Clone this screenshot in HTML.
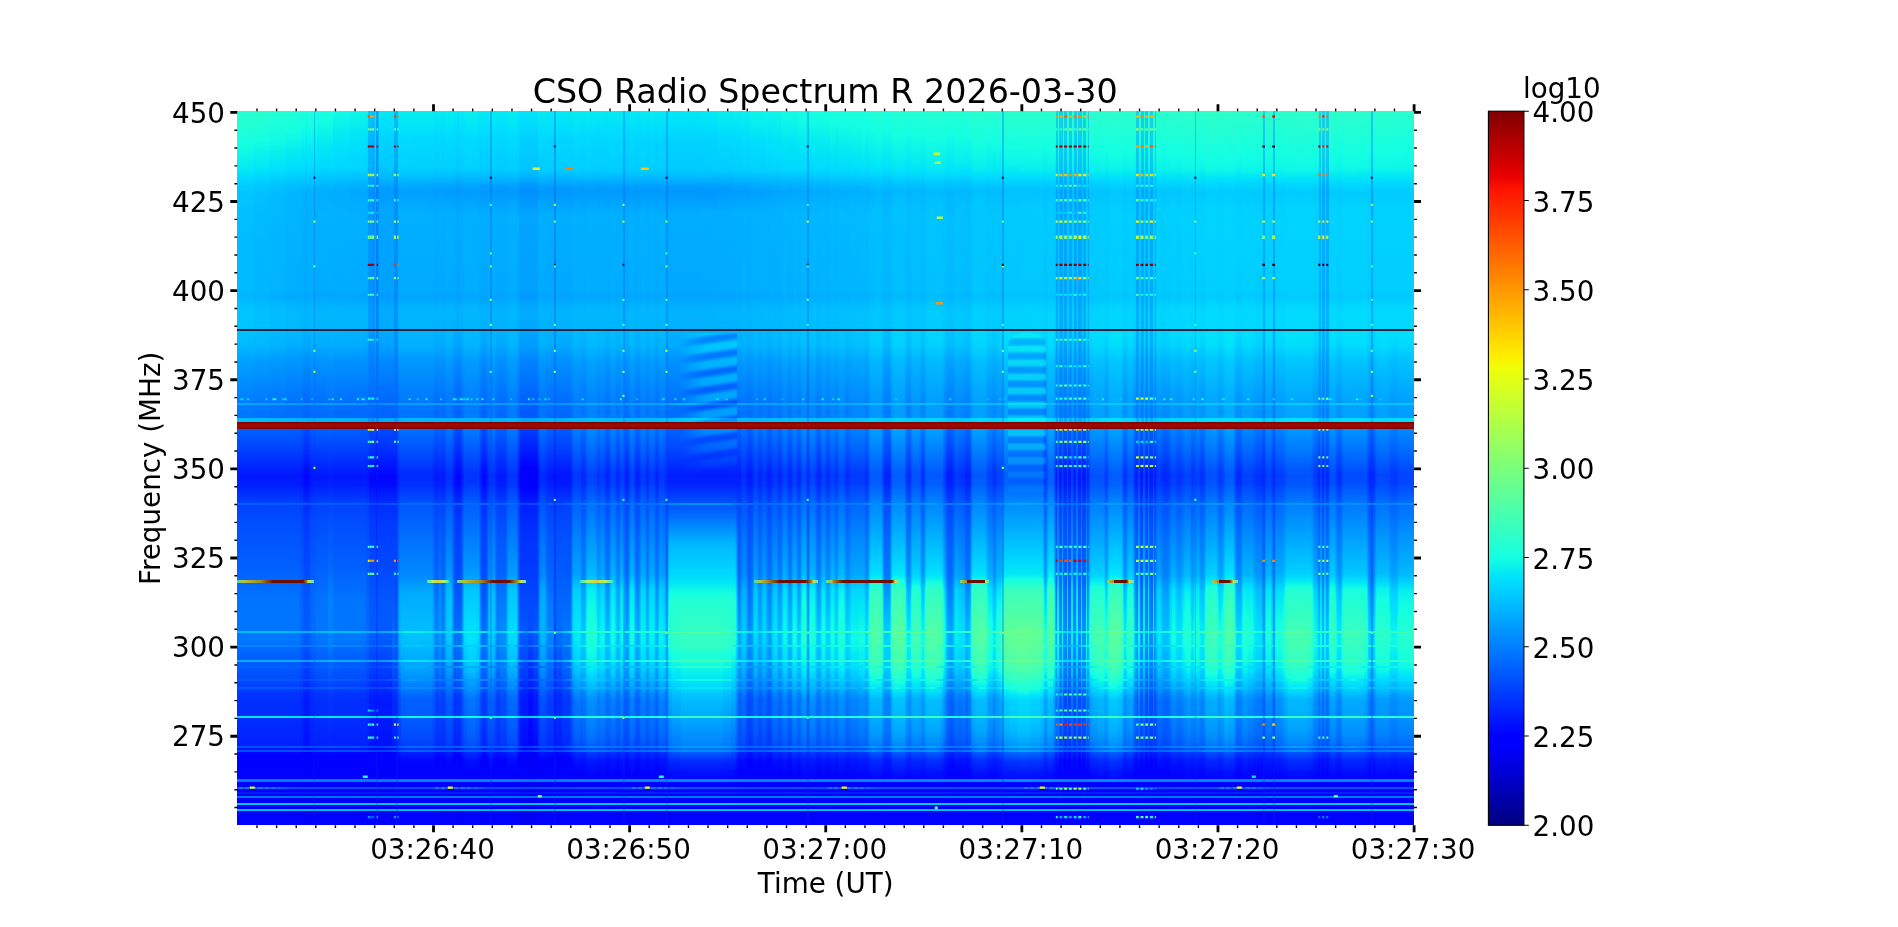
<!DOCTYPE html><html><head><meta charset="utf-8"><title>CSO Radio Spectrum</title><style>
html,body{margin:0;padding:0;background:#fff}body{width:1898px;height:927px;overflow:hidden;position:relative;font-family:"DejaVu Sans","Liberation Sans",sans-serif}
#sp{position:absolute;left:237.25px;top:111.20px;width:1176.85px;height:714.10px;overflow:hidden;background:#08f}
#sp i{position:absolute;display:block}
svg{position:absolute;left:0;top:0}#ax{will-change:transform}text{font-family:"DejaVu Sans","Liberation Sans",sans-serif;fill:#000}
.z0{top:0px;height:218px}
.z0g0{background:linear-gradient(#29ffce 0,#25ffd1 10.5px,#14ffe2 33.5px,#03e9f4 58.5px,#00daff 66.5px,#0cf 75.5px,#00c4ff 85.5px,#00bcff 126.5px,#0bf 179.5px,#00b6ff 184.5px,#00c5ff 199.5px,#00c4ff 218px)}
.z0g1{background:linear-gradient(#26ffd1 0,#22ffd4 10.5px,#14ffe3 29.5px,#00e5f8 58.5px,#00dbff 63.5px,#00c7ff 75.5px,#00bfff 85.5px,#00b8ff 127.5px,#00b7ff 179.5px,#00b2ff 185.5px,#00c1ff 198.5px,#00c0ff 218px)}
.z0g2{background:linear-gradient(#23ffd4 0,#13fde4 27.5px,#00e6f6 52.5px,#00dbff 61.5px,#00c2ff 75.5px,#00baff 85.5px,#00b3ff 179.5px,#00aeff 185.5px,#00bdff 198.5px,#00bdff 218px)}
.z0g3{background:linear-gradient(#20ffd7 0,#15ffe2 20.5px,#11fbe6 25.5px,#00e5f7 48.5px,#00dbff 59.5px,#00beff 74.5px,#00b6ff 82.5px,#00afff 179.5px,#0af 185.5px,#00b9ff 198.5px,#00b9ff 218px)}
.z0g4{background:linear-gradient(#1cffdb 0,#14ffe3 15.5px,#00e6f7 43.5px,#00dffc 52.5px,#00d8ff 59.5px,#00b6ff 77.5px,#00b2ff 83.5px,#00adff 179.5px,#00a8ff 185.5px,#00b7ff 198.5px,#00b7ff 218px)}
.z0g5{background:linear-gradient(#16ffe1 0,#12fce5 10.5px,#00e6f6 34.5px,#00dbff 47.5px,#00d2ff 58.5px,#00b6ff 72.5px,#00abff 81.5px,#00a5ff 179.5px,#00a0ff 185.5px,#00afff 199.5px,#00aeff 218px)}
.z0g6{background:linear-gradient(#17ffe0 0,#13fde4 10.5px,#00e6f6 37.5px,#00d9ff 56.5px,#00b4ff 76.5px,#00afff 82.5px,#00b2ff 104.5px,#00acff 179.5px,#00a7ff 184.5px,#00b6ff 198.5px,#00b6ff 218px)}
.z0g7{background:linear-gradient(#12fce5 0,#00e6f7 29.5px,#00dcff 47.5px,#00d5ff 58.5px,#00b4ff 74.5px,#00acff 82.5px,#00b1ff 105.5px,#00abff 180.5px,#00a6ff 184.5px,#00b5ff 198.5px,#00b5ff 218px)}
.z0g8{background:linear-gradient(#0ff8e8 0,#00e5f7 25.5px,#00dbff 42.5px,#00d3ff 58.5px,#00afff 75.5px,#00a9ff 81.5px,#00b0ff 106.5px,#0af 180.5px,#00a6ff 185.5px,#00b5ff 199.5px,#00b4ff 218px)}
.z0g9{background:linear-gradient(#0bf4eb 0,#00e6f7 20.5px,#00defd 28.5px,#00d2ff 57.5px,#00acff 75.5px,#00a6ff 81.5px,#00afff 107.5px,#0af 179.5px,#00a5ff 185.5px,#00b4ff 199.5px,#00b3ff 218px)}
.z0g10{background:linear-gradient(#06ecf1 0,#00dcff 23.5px,#00cbff 56.5px,#00a3ff 76.5px,#009eff 81.5px,#00a7ff 108.5px,#00a1ff 180.5px,#009cff 184.5px,#00abff 198.5px,#00abff 218px)}
.z0g11{background:linear-gradient(#02e8f5 0,#00dbff 19.5px,#00d2ff 29.5px,#00c9ff 56.5px,#00b8ff 66.5px,#00a0ff 76.5px,#009bff 81.5px,#00a6ff 100.5px,#00a1ff 179.5px,#009cff 185.5px,#00abff 199.5px,#0af 218px)}
.z0g12{background:linear-gradient(#06edf1 0,#00dbff 24.5px,#00ceff 58.5px,#00adff 72.5px,#00a0ff 81.5px,#00adff 100.5px,#00a8ff 180.5px,#00a4ff 185.5px,#00b3ff 199.5px,#00b2ff 218px)}
.z0g13{background:linear-gradient(#07eef0 0,#00e6f6 14.5px,#00dcff 25.5px,#00d1ff 56.5px,#00c4ff 64.5px,#00a8ff 75.5px,#00a2ff 80.5px,#00afff 100.5px,#00abff 179.5px,#00a6ff 185.5px,#00b5ff 198.5px,#00b5ff 218px)}
.z0g14{background:linear-gradient(#07eef0 0,#00e6f7 14.5px,#00dbff 25.5px,#00d0ff 57.5px,#00c1ff 65.5px,#00abff 73.5px,#00a1ff 80.5px,#00afff 101.5px,#00abff 179.5px,#00a6ff 185.5px,#00b5ff 198.5px,#00b5ff 218px)}
.z0g15{background:linear-gradient(#06edf0 0,#03e9f4 10.5px,#00dbff 25.5px,#00d1ff 55.5px,#00cdff 59.5px,#00a7ff 74.5px,#009fff 80.5px,#00afff 102.5px,#00abff 179.5px,#00a6ff 185.5px,#00b5ff 198.5px,#00b5ff 218px)}
.z0g16{background:linear-gradient(#05ecf1 0,#00dcff 23.5px,#00d6ff 30.5px,#00ceff 57.5px,#00c1ff 64.5px,#00a3ff 75.5px,#009dff 80.5px,#00adff 101.5px,#00a8ff 180.5px,#00a4ff 185.5px,#00b3ff 199.5px,#00b2ff 218px)}
.z0g17{background:linear-gradient(#06edf1 0,#03e9f4 10.5px,#00dcff 24.5px,#00d0ff 56.5px,#00c2ff 64.5px,#00a8ff 73.5px,#009dff 81.5px,#00afff 102.5px,#00abff 179.5px,#00a6ff 185.5px,#00b5ff 198.5px,#00b5ff 218px)}
.z0g18{background:linear-gradient(#05ecf2 0,#00dbff 23.5px,#00cdff 58.5px,#00a4ff 74.5px,#009cff 80.5px,#00adff 102.5px,#00a8ff 180.5px,#00a4ff 185.5px,#00b3ff 199.5px,#00b2ff 218px)}
.z0g19{background:linear-gradient(#00e5f7 0,#00dcff 15.5px,#00cfff 28.5px,#00c5ff 58.5px,#009aff 75.5px,#0094ff 80.5px,#00a5ff 101.5px,#00a0ff 179.5px,#009bff 185.5px,#0af 198.5px,#00a9ff 218px)}
.z0g20{background:linear-gradient(#05ecf2 0,#00dbff 23.5px,#00cbff 59.5px,#00a0ff 75.5px,#009aff 80.5px,#00adff 102.5px,#00a8ff 180.5px,#00a4ff 185.5px,#00b3ff 199.5px,#00b2ff 218px)}
.z0g21{background:linear-gradient(#06edf1 0,#00dcff 24.5px,#00ceff 58.5px,#00a4ff 74.5px,#009cff 80.5px,#00afff 103.5px,#00abff 179.5px,#00a6ff 185.5px,#00b5ff 198.5px,#00b5ff 218px)}
.z0g22{background:linear-gradient(#07eef0 0,#03eaf3 10.5px,#00dbff 26.5px,#00d5ff 49.5px,#00ceff 59.5px,#00a6ff 74.5px,#009eff 79.5px,#009eff 83.5px,#00b1ff 103.5px,#00adff 179.5px,#00a8ff 184.5px,#00b7ff 198.5px,#00b7ff 218px)}
.z0g23{background:linear-gradient(#07eef0 0,#00e6f6 14.5px,#00dcff 25.5px,#00cfff 58.5px,#00bdff 66.5px,#00a2ff 75.5px,#009cff 80.5px,#009eff 85.5px,#00aeff 97.5px,#00b1ff 104.5px,#00adff 179.5px,#00a8ff 184.5px,#00b7ff 198.5px,#00b7ff 218px)}
.z0g24{background:linear-gradient(#06edf1 0,#00dbff 24.5px,#00ceff 58.5px,#00beff 65.5px,#00a5ff 73.5px,#009aff 80.5px,#00afff 103.5px,#00abff 179.5px,#00a6ff 185.5px,#00b5ff 198.5px,#00b5ff 218px)}
.z0g25{background:linear-gradient(#05ebf2 0,#00dcff 22.5px,#00d6ff 28.5px,#0cf 58.5px,#00bfff 64.5px,#00a1ff 74.5px,#0098ff 81.5px,#00adff 103.5px,#00a8ff 180.5px,#00a4ff 185.5px,#00b3ff 199.5px,#00b2ff 218px)}
.z0g26{background:linear-gradient(#06ecf1 0,#02e8f5 10.5px,#00dbff 24.5px,#0cf 59.5px,#009fff 75.5px,#09f 80.5px,#00afff 104.5px,#00abff 179.5px,#00a6ff 185.5px,#00b5ff 198.5px,#00b5ff 218px)}
.z0g27{background:linear-gradient(#05ebf2 0,#00dbff 22.5px,#00d5ff 29.5px,#0cf 58.5px,#00b9ff 66.5px,#009dff 75.5px,#0097ff 80.5px,#00adff 103.5px,#00a8ff 180.5px,#00a4ff 185.5px,#00b3ff 199.5px,#00b2ff 218px)}
.z0g28{background:linear-gradient(#06edf0 0,#03e9f4 10.5px,#00dbff 25.5px,#00cfff 58.5px,#00bfff 65.5px,#00a3ff 74.5px,#009bff 79.5px,#009bff 83.5px,#00a9ff 93.5px,#00b1ff 105.5px,#00adff 179.5px,#00a8ff 184.5px,#00b7ff 198.5px,#00b7ff 218px)}
.z0g29{background:linear-gradient(#05ecf1 0,#00dcff 23.5px,#00cdff 58.5px,#00c0ff 64.5px,#009fff 75.5px,#09f 80.5px,#00afff 104.5px,#00abff 179.5px,#00a6ff 185.5px,#00b5ff 198.5px,#00b5ff 218px)}
.z0g30{background:linear-gradient(#04ebf2 0,#00dbff 22.5px,#00d5ff 29.5px,#0cf 58.5px,#00b9ff 66.5px,#009dff 75.5px,#0097ff 80.5px,#00adff 103.5px,#00a8ff 180.5px,#00a4ff 185.5px,#00b3ff 199.5px,#00b2ff 218px)}
.z0g31{background:linear-gradient(#00e4f8 0,#00dbff 14.5px,#00ceff 28.5px,#00c4ff 58.5px,#00b4ff 65.5px,#0098ff 74.5px,#008fff 80.5px,#00a5ff 103.5px,#00a0ff 179.5px,#009bff 185.5px,#0af 198.5px,#00a9ff 218px)}
.z0g32{background:linear-gradient(#00e3f8 0,#00dffc 10.5px,#00ceff 28.5px,#00c4ff 58.5px,#00b4ff 65.5px,#0098ff 74.5px,#008fff 80.5px,#00a5ff 103.5px,#00a0ff 179.5px,#009bff 185.5px,#0af 198.5px,#00a9ff 218px)}
.z0g33{background:linear-gradient(#04ebf3 0,#00dcff 21.5px,#00d5ff 28.5px,#00d0ff 52.5px,#00caff 59.5px,#009dff 75.5px,#0097ff 80.5px,#00adff 103.5px,#00a8ff 180.5px,#00a4ff 185.5px,#00b3ff 199.5px,#00b2ff 218px)}
.z0g34{background:linear-gradient(#05ecf2 0,#00dbff 23.5px,#00cdff 58.5px,#00c0ff 64.5px,#009fff 75.5px,#09f 80.5px,#00afff 104.5px,#00abff 179.5px,#00a6ff 185.5px,#00b5ff 198.5px,#00b5ff 218px)}
.z0g35{background:linear-gradient(#05ecf2 0,#00dbff 23.5px,#00cdff 58.5px,#00c0ff 64.5px,#009fff 75.5px,#09f 80.5px,#00afff 104.5px,#00abff 179.5px,#00a6ff 185.5px,#00b5ff 198.5px,#00b5ff 218px)}
.z0g36{background:linear-gradient(#04eaf3 0,#00dcff 21.5px,#00d4ff 30.5px,#00d0ff 52.5px,#00caff 59.5px,#009dff 75.5px,#0097ff 80.5px,#00adff 103.5px,#00a8ff 180.5px,#00a4ff 185.5px,#00b3ff 199.5px,#00b2ff 218px)}
.z0g37{background:linear-gradient(#00e3f9 0,#00defd 11.5px,#00cdff 29.5px,#00c4ff 58.5px,#00b4ff 65.5px,#0098ff 74.5px,#008fff 80.5px,#00a5ff 103.5px,#00a0ff 179.5px,#009bff 185.5px,#0af 198.5px,#00a9ff 218px)}
.z0g38{background:linear-gradient(#04eaf3 0,#00dbff 21.5px,#00d4ff 29.5px,#00d1ff 49.5px,#00caff 59.5px,#009dff 75.5px,#0097ff 80.5px,#00adff 103.5px,#00a8ff 180.5px,#00a4ff 185.5px,#00b3ff 199.5px,#00b2ff 218px)}
.z0g39{background:linear-gradient(#05ebf2 0,#00dcff 22.5px,#00d6ff 28.5px,#00cdff 58.5px,#00c0ff 64.5px,#009fff 75.5px,#09f 80.5px,#00afff 104.5px,#00abff 179.5px,#00a6ff 185.5px,#00b5ff 198.5px,#00b5ff 218px)}
.z0g40{background:linear-gradient(#05ecf1 0,#02e8f5 10.5px,#00dbff 24.5px,#00cfff 58.5px,#00bfff 65.5px,#00a3ff 74.5px,#009bff 79.5px,#009bff 83.5px,#00a9ff 93.5px,#00b1ff 105.5px,#00adff 179.5px,#00a8ff 184.5px,#00b7ff 198.5px,#00b7ff 218px)}
.z0g41{background:linear-gradient(#04ebf2 0,#00dcff 22.5px,#00d5ff 30.5px,#00cdff 58.5px,#00c0ff 64.5px,#009fff 75.5px,#09f 80.5px,#00afff 104.5px,#00abff 179.5px,#00a6ff 185.5px,#00b5ff 198.5px,#00b5ff 218px)}
.z0g42{background:linear-gradient(#05ecf2 0,#00dcff 23.5px,#00d7ff 28.5px,#00cfff 58.5px,#00bfff 65.5px,#00a3ff 74.5px,#009bff 79.5px,#009bff 83.5px,#00a9ff 93.5px,#00b1ff 105.5px,#00adff 179.5px,#00a8ff 184.5px,#00b7ff 198.5px,#00b7ff 218px)}
.z0g43{background:linear-gradient(#04ebf3 0,#00dbff 22.5px,#00d5ff 29.5px,#00cdff 58.5px,#00c0ff 64.5px,#009fff 75.5px,#09f 80.5px,#00afff 104.5px,#00abff 179.5px,#00a6ff 185.5px,#00b5ff 198.5px,#00b5ff 218px)}
.z0g44{background:linear-gradient(#04eaf3 0,#00dcff 21.5px,#00d5ff 28.5px,#00cdff 58.5px,#00c0ff 64.5px,#009fff 75.5px,#09f 80.5px,#00afff 104.5px,#00abff 179.5px,#00a6ff 185.5px,#00b5ff 198.5px,#00b5ff 218px)}
.z0g45{background:linear-gradient(#05ecf2 0,#00dbff 23.5px,#00cdff 59.5px,#00a3ff 74.5px,#009bff 79.5px,#009bff 83.5px,#00a9ff 93.5px,#00b1ff 105.5px,#00adff 179.5px,#00a8ff 184.5px,#00b7ff 198.5px,#00b7ff 218px)}
.z0g46{background:linear-gradient(#05ebf2 0,#00dbff 23.5px,#00cdff 59.5px,#00a3ff 74.5px,#009bff 79.5px,#009bff 83.5px,#00a9ff 93.5px,#00b1ff 105.5px,#00adff 179.5px,#00a8ff 184.5px,#00b7ff 198.5px,#00b7ff 218px)}
.z0g47{background:linear-gradient(#04eaf3 0,#00dcff 21.5px,#00d5ff 28.5px,#00cdff 58.5px,#00c0ff 64.5px,#009fff 75.5px,#09f 80.5px,#00afff 104.5px,#00abff 179.5px,#00a6ff 185.5px,#00b5ff 198.5px,#00b5ff 218px)}
.z0g48{background:linear-gradient(#03e9f4 0,#00dbff 20.5px,#00d3ff 29.5px,#00cbff 58.5px,#00b9ff 66.5px,#009dff 75.5px,#0097ff 80.5px,#00adff 103.5px,#00a8ff 180.5px,#00a4ff 185.5px,#00b3ff 199.5px,#00b2ff 218px)}
.z0g49{background:linear-gradient(#03e9f4 0,#00dcff 19.5px,#00d3ff 28.5px,#00cbff 58.5px,#00b9ff 66.5px,#009dff 75.5px,#0097ff 80.5px,#00adff 103.5px,#00a8ff 180.5px,#00a4ff 185.5px,#00b3ff 199.5px,#00b2ff 218px)}
.z0g50{background:linear-gradient(#04eaf3 0,#00dbff 21.5px,#00d4ff 30.5px,#00cdff 58.5px,#00c0ff 64.5px,#009fff 75.5px,#09f 80.5px,#00afff 104.5px,#00abff 179.5px,#00a6ff 185.5px,#00b5ff 198.5px,#00b5ff 218px)}
.z0g51{background:linear-gradient(#05ebf2 0,#00dcff 22.5px,#00d6ff 28.5px,#00d3ff 51.5px,#00cdff 59.5px,#00a3ff 74.5px,#009bff 79.5px,#009bff 83.5px,#00a9ff 93.5px,#00b1ff 105.5px,#00adff 179.5px,#00a8ff 184.5px,#00b7ff 198.5px,#00b7ff 218px)}
.z0g52{background:linear-gradient(#04ebf2 0,#00dcff 22.5px,#00d6ff 28.5px,#00d3ff 50.5px,#00cdff 59.5px,#00a3ff 74.5px,#009bff 79.5px,#009bff 83.5px,#00a9ff 93.5px,#00b1ff 105.5px,#00adff 179.5px,#00a8ff 184.5px,#00b7ff 198.5px,#00b7ff 218px)}
.z0g53{background:linear-gradient(#03eaf3 0,#00dbff 21.5px,#00d4ff 29.5px,#00cdff 58.5px,#00c0ff 64.5px,#009fff 75.5px,#09f 80.5px,#00afff 104.5px,#00abff 179.5px,#00a6ff 185.5px,#00b5ff 198.5px,#00b5ff 218px)}
.z0g54{background:linear-gradient(#03e9f4 0,#00dbff 20.5px,#00d3ff 30.5px,#0cf 58.5px,#00bfff 64.5px,#009eff 75.5px,#0098ff 80.5px,#009aff 85.5px,#0af 96.5px,#00aeff 104.5px,#00a9ff 180.5px,#00a5ff 185.5px,#00b4ff 199.5px,#00b3ff 218px)}
.z0g55{background:linear-gradient(#02e8f4 0,#00dcff 19.5px,#00d3ff 28.5px,#00cbff 58.5px,#00b9ff 66.5px,#009dff 75.5px,#0097ff 80.5px,#00adff 103.5px,#00a8ff 180.5px,#00a4ff 185.5px,#00b3ff 199.5px,#00b2ff 218px)}
.z0g56{background:linear-gradient(#02e8f5 0,#00e3f9 11.5px,#00dbff 19.5px,#00d3ff 28.5px,#00cbff 58.5px,#00b9ff 66.5px,#009dff 75.5px,#0097ff 80.5px,#00adff 103.5px,#00a8ff 180.5px,#00a4ff 185.5px,#00b3ff 199.5px,#00b2ff 218px)}
.z0g57{background:linear-gradient(#02e8f5 0,#00dcff 18.5px,#00d2ff 29.5px,#00cbff 58.5px,#00b9ff 66.5px,#009dff 75.5px,#0097ff 80.5px,#00adff 103.5px,#00a8ff 180.5px,#00a4ff 185.5px,#00b3ff 199.5px,#00b2ff 218px)}
.z0g58{background:linear-gradient(#03eaf3 0,#00dbff 21.5px,#00d4ff 29.5px,#0cf 58.5px,#00baff 66.5px,#00a1ff 74.5px,#09f 79.5px,#09f 83.5px,#00adff 101.5px,#00a9ff 179.5px,#00a4ff 185.5px,#00b3ff 198.5px,#00b3ff 218px)}
.z0g59{background:linear-gradient(#06edf1 0,#02e8f5 11.5px,#00dbff 24.5px,#0cf 59.5px,#00a1ff 75.5px,#009bff 80.5px,#00aeff 101.5px,#0af 179.5px,#00a5ff 185.5px,#00b4ff 199.5px,#00b3ff 218px)}
.z0g60{background:linear-gradient(#09f0ee 0,#00e5f7 17.5px,#00dbff 28.5px,#00cfff 58.5px,#00c0ff 65.5px,#00a8ff 73.5px,#009dff 80.5px,#00afff 101.5px,#0af 180.5px,#00a6ff 185.5px,#00b5ff 199.5px,#00b4ff 218px)}
.z0g61{background:linear-gradient(#09f0ee 0,#00e5f7 17.5px,#00dbff 28.5px,#00cfff 58.5px,#00c0ff 65.5px,#00a8ff 73.5px,#009dff 80.5px,#00afff 101.5px,#0af 180.5px,#00a6ff 185.5px,#00b5ff 199.5px,#00b4ff 218px)}
.z0g62{background:linear-gradient(#09f1ee 0,#00e6f6 17.5px,#00dcff 28.5px,#00d0ff 58.5px,#00a4ff 75.5px,#009eff 80.5px,#00b0ff 102.5px,#00acff 179.5px,#00a7ff 185.5px,#00b6ff 199.5px,#00b5ff 218px)}
.z0g63{background:linear-gradient(#09f0ee 0,#00e5f7 17.5px,#00dbff 28.5px,#00cfff 58.5px,#00c0ff 65.5px,#00a8ff 73.5px,#009dff 80.5px,#00afff 101.5px,#0af 180.5px,#00a6ff 185.5px,#00b5ff 199.5px,#00b4ff 218px)}
.z0g64{background:linear-gradient(#0af2ed 0,#00e6f7 18.5px,#00dcff 30.5px,#00d1ff 58.5px,#00a5ff 75.5px,#009fff 80.5px,#00b1ff 102.5px,#00adff 179.5px,#00a8ff 185.5px,#00b7ff 198.5px,#00b7ff 218px)}
.z0g65{background:linear-gradient(#0bf4eb 0,#00e6f7 20.5px,#00defd 28.5px,#00d1ff 58.5px,#00a8ff 74.5px,#00a0ff 80.5px,#00b0ff 102.5px,#00abff 180.5px,#00a6ff 184.5px,#00b5ff 198.5px,#00b5ff 218px)}
.z0g66{background:linear-gradient(#0cf5ea 0,#07eff0 12.5px,#00dffc 29.5px,#00d1ff 59.5px,#00acff 73.5px,#00a1ff 81.5px,#00b2ff 102.5px,#00aeff 179.5px,#00a9ff 185.5px,#00b8ff 198.5px,#00b8ff 218px)}
.z0g67{background:linear-gradient(#0ff8e8 0,#00e6f7 25.5px,#00dcff 45.5px,#00d4ff 58.5px,#00acff 74.5px,#00a4ff 80.5px,#00b3ff 102.5px,#00aeff 180.5px,#0af 185.5px,#00b9ff 199.5px,#00b8ff 218px)}
.z0g68{background:linear-gradient(#0ef7e9 0,#00e5f7 24.5px,#00dbff 42.5px,#00d1ff 59.5px,#00a8ff 75.5px,#00a2ff 80.5px,#00b1ff 102.5px,#00acff 179.5px,#00a7ff 184.5px,#00b6ff 198.5px,#00b6ff 218px)}
.z0g69{background:linear-gradient(#12fbe5 0,#0ef7e9 10.5px,#00e6f7 29.5px,#00d6ff 58.5px,#00acff 75.5px,#00a6ff 81.5px,#00b4ff 102.5px,#00afff 180.5px,#0af 184.5px,#00baff 199.5px,#00b9ff 218px)}
.z0g70{background:linear-gradient(#13fde4 0,#00e6f7 32.5px,#00d7ff 58.5px,#00b0ff 74.5px,#00a8ff 80.5px,#00b6ff 103.5px,#00b2ff 179.5px,#00adff 185.5px,#00bcff 198.5px,#00bcff 218px)}
.z0g71{background:linear-gradient(#14fee3 0,#10fae6 10.5px,#00e6f6 34.5px,#00d7ff 58.5px,#00b5ff 72.5px,#00a9ff 80.5px,#00b5ff 102.5px,#00b0ff 179.5px,#00abff 184.5px,#0bf 199.5px,#00baff 218px)}
.z0g72{background:linear-gradient(#15ffe2 0,#12fce5 9.5px,#00e6f6 37.5px,#00d9ff 58.5px,#00b0ff 75.5px,#0af 81.5px,#00b7ff 103.5px,#00b3ff 179.5px,#00aeff 185.5px,#00bdff 198.5px,#00bdff 218px)}
.z0g73{background:linear-gradient(#17ffe0 0,#13fee3 10.5px,#06edf1 28.5px,#00e6f7 41.5px,#00d9ff 59.5px,#00b4ff 74.5px,#00acff 81.5px,#00b8ff 101.5px,#00b4ff 179.5px,#00afff 185.5px,#00beff 198.5px,#00beff 218px)}
.z0g74{background:linear-gradient(#16ffe1 0,#13fde4 9.5px,#00e6f6 38.5px,#00d9ff 58.5px,#00b7ff 72.5px,#00abff 80.5px,#00b6ff 100.5px,#00b1ff 180.5px,#00adff 185.5px,#00bcff 199.5px,#0bf 218px)}
.z0g75{background:linear-gradient(#18ffdf 0,#14ffe3 10.5px,#06edf0 29.5px,#00e6f7 42.5px,#00d9ff 59.5px,#00b9ff 72.5px,#00adff 80.5px,#00b7ff 99.5px,#00b3ff 179.5px,#00aeff 185.5px,#00bdff 198.5px,#00bdff 218px)}
.z0g76{background:linear-gradient(#19ffde 0,#15ffe2 11.5px,#00e6f6 44.5px,#00e0fb 54.5px,#00d2ff 63.5px,#00b4ff 75.5px,#00aeff 81.5px,#00b9ff 99.5px,#00b5ff 179.5px,#00b0ff 184.5px,#00bfff 198.5px,#00bfff 218px)}
.z0g77{background:linear-gradient(#1affdd 0,#13fee3 14.5px,#00e6f6 45.5px,#00e1fb 53.5px,#00dcfe 58.5px,#00bdff 71.5px,#00afff 80.5px,#00b9ff 103.5px,#00b4ff 179.5px,#00afff 185.5px,#00beff 198.5px,#00beff 218px)}
.z0g78{background:linear-gradient(#1bffdc 0,#14ffe2 14.5px,#02e9f4 43.5px,#00e1fb 55.5px,#00d8ff 61.5px,#00b6ff 75.5px,#00b0ff 81.5px,#00baff 98.5px,#00b6ff 180.5px,#00b1ff 184.5px,#00c1ff 199.5px,#00c0ff 218px)}
.z0g79{background:linear-gradient(#1dffda 0,#14ffe3 17.5px,#00e5f7 52.5px,#00dbff 60.5px,#00b8ff 75.5px,#00b2ff 81.5px,#00bcff 101.5px,#00b7ff 180.5px,#00b3ff 185.5px,#00c2ff 199.5px,#00c2ff 218px)}
.z0g80{background:linear-gradient(#1cffdb 0,#15ffe2 15.5px,#04ebf2 40.5px,#00e1fb 55.5px,#00d8ff 61.5px,#00b5ff 76.5px,#00b1ff 80.5px,#00baff 107.5px,#00b5ff 179.5px,#00b0ff 184.5px,#00bfff 198.5px,#00bfff 218px)}
.z0g81{background:linear-gradient(#1effd9 0,#15ffe2 18.5px,#00e5f7 54.5px,#00dbff 61.5px,#00c0ff 72.5px,#00b4ff 80.5px,#00beff 103.5px,#00baff 179.5px,#00b5ff 185.5px,#00c4ff 198.5px,#00c4ff 218px)}
.z0g82{background:linear-gradient(#1fffd8 0,#14ffe3 20.5px,#00e4f8 57.5px,#00daff 62.5px,#00c4ff 71.5px,#00b6ff 80.5px,#00bfff 98.5px,#00bcff 179.5px,#00b7ff 184.5px,#00c7ff 199.5px,#00c7ff 218px)}
.z0g83{background:linear-gradient(#21ffd6 0,#15ffe2 22.5px,#03eaf4 52.5px,#00dcff 62.5px,#00c8ff 70.5px,#00b8ff 80.5px,#00c1ff 101.5px,#00bdff 180.5px,#00b9ff 185.5px,#00c8ff 198.5px,#00c8ff 218px)}
.z0g84{background:linear-gradient(#20ffd7 0,#14ffe2 21.5px,#00e5f8 56.5px,#00daff 62.5px,#00c2ff 72.5px,#00b6ff 80.5px,#00bfff 100.5px,#0bf 179.5px,#00b6ff 184.5px,#00c6ff 199.5px,#00c5ff 218px)}
.z0g85{background:linear-gradient(#1fffd8 0,#15ffe2 19.5px,#00e6f7 53.5px,#00dbff 61.5px,#00baff 75.5px,#00b4ff 81.5px,#00bdff 99.5px,#00b9ff 179.5px,#00b4ff 185.5px,#00c3ff 198.5px,#00c3ff 218px)}
.z0g86{background:linear-gradient(#1effd9 0,#14ffe2 18.5px,#00e6f7 51.5px,#00defd 59.5px,#00c3ff 70.5px,#00b3ff 80.5px,#0bf 108.5px,#00b6ff 180.5px,#00b2ff 185.5px,#00c1ff 199.5px,#00c0ff 218px)}
.z0g87{background:linear-gradient(#23ffd4 0,#14ffe2 25.5px,#03eaf4 54.5px,#00dbff 63.5px,#00beff 76.5px,#00baff 80.5px,#00c2ff 99.5px,#00beff 180.5px,#00baff 185.5px,#00c9ff 198.5px,#00c9ff 218px)}
.z0g88{background:linear-gradient(#22ffd5 0,#15ffe2 23.5px,#03eaf3 52.5px,#00dcff 62.5px,#00c6ff 71.5px,#00b8ff 80.5px,#00c0ff 98.5px,#00c0ff 109.5px,#00bcff 179.5px,#00b7ff 184.5px,#00c7ff 199.5px,#00c7ff 218px)}
.z0g89{background:linear-gradient(#21ffd6 0,#14ffe2 22.5px,#00e5f8 56.5px,#00daff 62.5px,#00bcff 75.5px,#00b6ff 81.5px,#00beff 98.5px,#00beff 109.5px,#00baff 179.5px,#00b5ff 185.5px,#00c4ff 198.5px,#00c4ff 218px)}
.z0g90{background:linear-gradient(#20ffd7 0,#15ffe2 20.5px,#00e6f7 53.5px,#00dbff 61.5px,#00b9ff 76.5px,#00b4ff 82.5px,#00bcff 97.5px,#00bcff 110.5px,#00b8ff 179.5px,#00b3ff 185.5px,#00c2ff 199.5px,#00c2ff 218px)}
.z0g91{background:linear-gradient(#21ffd6 0,#14ffe3 22.5px,#02e8f5 52.5px,#00daff 62.5px,#00c6ff 70.5px,#00b6ff 80.5px,#00beff 104.5px,#00b9ff 179.5px,#00b4ff 185.5px,#00c3ff 198.5px,#00c3ff 218px)}
.z0g92{background:linear-gradient(#22ffd5 0,#15ffe2 23.5px,#02e8f5 54.5px,#00dbff 62.5px,#00bcff 76.5px,#00b7ff 82.5px,#00bfff 97.5px,#00bfff 110.5px,#0bf 179.5px,#00b6ff 184.5px,#00c6ff 199.5px,#00c5ff 218px)}
.z0g93{background:linear-gradient(#23ffd4 0,#14ffe2 25.5px,#05ecf2 51.5px,#00e4f8 59.5px,#00dbff 63.5px,#00bfff 75.5px,#00b9ff 81.5px,#00c1ff 98.5px,#00bdff 180.5px,#00b9ff 185.5px,#00c8ff 198.5px,#00c8ff 218px)}
.z0g94{background:linear-gradient(#24ffd3 0,#15ffe2 26.5px,#03eaf4 55.5px,#00daff 64.5px,#00c2ff 74.5px,#00baff 81.5px,#00c3ff 102.5px,#00bfff 179.5px,#00baff 185.5px,#00c9ff 198.5px,#00c9ff 218px)}
.z0g95{background:linear-gradient(#25ffd2 0,#14ffe3 28.5px,#07eef0 52.5px,#02e8f5 58.5px,#00dbff 64.5px,#00c2ff 75.5px,#00bcff 81.5px,#00c4ff 98.5px,#00c1ff 179.5px,#00bcff 184.5px,#0cf 199.5px,#0cf 218px)}
.z0g96{background:linear-gradient(#25ffd2 0,#15ffe2 27.5px,#05ecf2 54.5px,#00dbff 64.5px,#00c0ff 76.5px,#00bcff 80.5px,#00c4ff 106.5px,#00c0ff 179.5px,#0bf 185.5px,#00caff 198.5px,#00caff 218px)}
.z0g97{background:linear-gradient(#24ffd3 0,#14ffe2 26.5px,#05ecf2 52.5px,#01e6f6 58.5px,#00dcff 63.5px,#00c8ff 71.5px,#00baff 80.5px,#00c2ff 107.5px,#00beff 179.5px,#00b9ff 185.5px,#00c8ff 198.5px,#00c8ff 218px)}
.z0g98{background:linear-gradient(#23ffd4 0,#15ffe2 24.5px,#02e8f5 55.5px,#00daff 63.5px,#00beff 75.5px,#00b8ff 81.5px,#00c0ff 108.5px,#0bf 180.5px,#00b6ff 184.5px,#00c6ff 199.5px,#00c5ff 218px)}
.z0g99{background:linear-gradient(#22ffd5 0,#14ffe2 23.5px,#02e9f4 52.5px,#00dbff 62.5px,#0bf 76.5px,#00b6ff 81.5px,#00beff 108.5px,#00b9ff 179.5px,#00b4ff 185.5px,#00c3ff 198.5px,#00c3ff 218px)}
.z0g100{background:linear-gradient(#25ffd2 0,#15ffe2 27.5px,#07eef0 51.5px,#00e6f7 59.5px,#00dbff 64.5px,#00c1ff 75.5px,#0bf 81.5px,#00c3ff 98.5px,#00c3ff 109.5px,#00bfff 179.5px,#00baff 185.5px,#00c9ff 198.5px,#00c9ff 218px)}
.z0g101{background:linear-gradient(#24ffd3 0,#14ffe3 26.5px,#04ebf3 53.5px,#00dbff 63.5px,#00c1ff 74.5px,#00b9ff 81.5px,#00c1ff 98.5px,#00c1ff 109.5px,#00bcff 180.5px,#00b8ff 185.5px,#00c7ff 199.5px,#00c6ff 218px)}
.z0g102{background:linear-gradient(#23ffd4 0,#15ffe2 24.5px,#04ebf3 51.5px,#00dcff 62.5px,#00c8ff 70.5px,#00b8ff 80.5px,#00bfff 109.5px,#00baff 179.5px,#00b5ff 184.5px,#00c4ff 198.5px,#00c4ff 218px)}
.z0g103{background:linear-gradient(#26ffd1 0,#14ffe2 29.5px,#07eff0 52.5px,#03e9f4 58.5px,#00daff 65.5px,#00c1ff 76.5px,#00bdff 80.5px,#00c5ff 108.5px,#00c1ff 179.5px,#00bcff 184.5px,#0cf 199.5px,#0cf 218px)}
.z0g104{background:linear-gradient(#28ffcf 0,#14ffe2 33.5px,#0bf4eb 49.5px,#05ecf2 58.5px,#00e6f7 61.5px,#00daff 66.5px,#00c4ff 76.5px,#00c0ff 80.5px,#00c8ff 99.5px,#00c5ff 179.5px,#00c0ff 185.5px,#00cfff 198.5px,#00cfff 218px)}
.z0g105{background:linear-gradient(#27ffd0 0,#14ffe2 31.5px,#09f1ee 51.5px,#04eaf3 58.5px,#00dbff 65.5px,#00c4ff 75.5px,#00beff 81.5px,#00c6ff 98.5px,#00c2ff 180.5px,#00beff 185.5px,#00cdff 199.5px,#00cdff 218px)}
.z0g106{background:linear-gradient(#26ffd1 0,#14ffe3 29.5px,#05ecf2 55.5px,#00dcff 64.5px,#00c2ff 75.5px,#00bcff 81.5px,#00c4ff 97.5px,#00c4ff 110.5px,#00c0ff 179.5px,#0bf 184.5px,#00caff 198.5px,#00caff 218px)}
.z0g107{background:linear-gradient(#27ffd0 0,#15ffe2 30.5px,#07efef 53.5px,#03eaf3 58.5px,#00dbff 65.5px,#00c2ff 76.5px,#00beff 80.5px,#00c6ff 104.5px,#00c1ff 180.5px,#00bcff 184.5px,#0cf 199.5px,#00cbff 218px)}
.z0g108{background:linear-gradient(#26ffd1 0,#15ffe2 28.5px,#07efef 51.5px,#02e8f5 58.5px,#00dbff 64.5px,#00c0ff 76.5px,#00bcff 80.5px,#00c4ff 105.5px,#00bfff 179.5px,#00baff 185.5px,#00c9ff 198.5px,#00c9ff 218px)}
.z0g109{background:linear-gradient(#28ffcf 0,#15ffe2 32.5px,#0af2ed 51.5px,#03eaf3 59.5px,#00daff 66.5px,#00c5ff 75.5px,#00bfff 81.5px,#00c7ff 97.5px,#00c4ff 179.5px,#00bfff 185.5px,#00ceff 198.5px,#00ceff 218px)}
.z0g110{background:linear-gradient(#29ffce 0,#14ffe3 35.5px,#0bf3ec 52.5px,#06edf1 58.5px,#00dbff 66.5px,#00c7ff 75.5px,#00c1ff 80.5px,#00c9ff 98.5px,#00c6ff 179.5px,#00c1ff 185.5px,#00d1ff 200.5px,#00d0ff 218px)}
.z0g111{background:linear-gradient(#29ffcd 0,#14ffe3 36.5px,#0bf3ec 53.5px,#00e6f7 62.5px,#00daff 67.5px,#00c6ff 76.5px,#00c2ff 80.5px,#00caff 98.5px,#00c7ff 179.5px,#00c2ff 185.5px,#00d1ff 198.5px,#00d1ff 218px)}
.z0g112{background:linear-gradient(#2affcd 0,#15ffe2 36.5px,#0df6ea 50.5px,#07efef 58.5px,#00e4f8 63.5px,#00dbff 67.5px,#00c7ff 76.5px,#00c3ff 80.5px,#00cbff 99.5px,#00c8ff 179.5px,#00c3ff 185.5px,#00d2ff 198.5px,#00d2ff 218px)}
.z0g113{background:linear-gradient(#2affcc 0,#15ffe2 37.5px,#0df6ea 51.5px,#07eef0 59.5px,#00e5f7 63.5px,#00dbff 67.5px,#00c8ff 76.5px,#00c4ff 80.5px,#0cf 100.5px,#00c8ff 180.5px,#00c4ff 185.5px,#00d3ff 198.5px,#00d3ff 218px)}
.z0g114{background:linear-gradient(#29ffce 0,#15ffe2 35.5px,#0af2ed 54.5px,#00e6f7 62.5px,#00daff 67.5px,#00c6ff 76.5px,#00c2ff 80.5px,#00caff 108.5px,#00c6ff 179.5px,#00c1ff 184.5px,#00d1ff 199.5px,#00d0ff 218px)}
.z0g115{background:linear-gradient(#28ffcf 0,#15ffe2 33.5px,#0af2ed 52.5px,#05ecf1 58.5px,#00dbff 66.5px,#00c6ff 75.5px,#00c0ff 81.5px,#00c8ff 108.5px,#00c4ff 179.5px,#00bfff 185.5px,#00ceff 198.5px,#00ceff 218px)}
.z0g116{background:linear-gradient(#27ffd0 0,#24ffd3 10.5px,#14ffe2 31.5px,#06eef0 55.5px,#00dbff 65.5px,#00c4ff 75.5px,#00beff 81.5px,#00c6ff 98.5px,#00c6ff 109.5px,#00c1ff 180.5px,#00bdff 185.5px,#0cf 199.5px,#00cbff 218px)}
.z0g117{background:linear-gradient(#2bffcc 0,#15ffe2 38.5px,#0df6ea 52.5px,#09f0ee 58.5px,#00e6f7 63.5px,#00daff 68.5px,#00caff 75.5px,#00c4ff 81.5px,#00cdff 101.5px,#00c9ff 179.5px,#00c4ff 184.5px,#00d4ff 199.5px,#00d4ff 218px)}
.z0g118{background:linear-gradient(#29ffce 0,#15ffe2 34.5px,#0af2ed 53.5px,#06edf1 58.5px,#00dbff 66.5px,#00c7ff 75.5px,#00c1ff 80.5px,#00c9ff 107.5px,#00c5ff 179.5px,#00c0ff 185.5px,#00cfff 198.5px,#00cfff 218px)}
.z0g119{background:linear-gradient(#28ffcf 0,#14ffe2 32.5px,#0af2ed 51.5px,#03eaf3 59.5px,#00daff 66.5px,#00c5ff 75.5px,#00bfff 81.5px,#00c7ff 108.5px,#00c2ff 179.5px,#00bdff 184.5px,#00cdff 199.5px,#0cf 218px)}
.z0g120{background:linear-gradient(#27ffd0 0,#14ffe2 30.5px,#07eef0 54.5px,#00e6f6 60.5px,#00dbff 65.5px,#00c2ff 76.5px,#00bdff 81.5px,#00c5ff 108.5px,#00c0ff 179.5px,#0bf 185.5px,#00caff 198.5px,#00caff 218px)}
.z0g121{background:linear-gradient(#27ffd0 0,#14ffe2 31.5px,#09f1ee 51.5px,#03e9f4 59.5px,#00dbff 65.5px,#00c4ff 75.5px,#00beff 81.5px,#00c6ff 107.5px,#00c1ff 179.5px,#00bcff 185.5px,#00cbff 199.5px,#00caff 218px)}
.z0g122{background:linear-gradient(#29ffce 0,#14ffe2 35.5px,#0af2ed 54.5px,#00e6f7 62.5px,#00daff 67.5px,#00c6ff 76.5px,#00c2ff 80.5px,#00caff 106.5px,#00c5ff 180.5px,#00c1ff 185.5px,#00d0ff 199.5px,#00d0ff 218px)}
.z0g123{background:linear-gradient(#28ffcf 0,#14ffe3 32.5px,#09f1ee 52.5px,#03eaf4 59.5px,#00daff 66.5px,#00c5ff 75.5px,#00bfff 80.5px,#00c7ff 106.5px,#00c1ff 180.5px,#00bdff 185.5px,#0cf 199.5px,#00cbff 218px)}
.z0g124{background:linear-gradient(#2affcd 0,#14ffe2 36.5px,#0cf5eb 51.5px,#07eff0 58.5px,#00e4f8 63.5px,#00dbff 67.5px,#00c7ff 76.5px,#00c3ff 80.5px,#00cbff 103.5px,#00c6ff 179.5px,#00c1ff 184.5px,#00d1ff 199.5px,#00d0ff 218px)}
.z0g125{background:linear-gradient(#29ffce 0,#14ffe2 34.5px,#0af2ed 53.5px,#06edf1 58.5px,#00dbff 66.5px,#00c5ff 76.5px,#00c1ff 80.5px,#00c9ff 105.5px,#00c4ff 179.5px,#00bfff 185.5px,#00ceff 198.5px,#00ceff 218px)}
.z0g126{background:linear-gradient(#2bffcc 0,#15ffe2 38.5px,#0ff8e8 49.5px,#09f0ee 58.5px,#00e6f7 63.5px,#00daff 68.5px,#00caff 75.5px,#00c4ff 81.5px,#0cf 97.5px,#00c8ff 180.5px,#00c4ff 185.5px,#00d3ff 198.5px,#00d3ff 218px)}
.z0g127{background:linear-gradient(#2bffcc 0,#15ffe2 39.5px,#0df6ea 53.5px,#09f1ed 58.5px,#00e5f8 64.5px,#00dbff 68.5px,#00cbff 75.5px,#00c5ff 81.5px,#00cdff 97.5px,#00caff 179.5px,#00c5ff 185.5px,#00d4ff 198.5px,#00d4ff 218px)}
.z0g128{background:linear-gradient(#2affcd 0,#14ffe2 37.5px,#0df6ea 51.5px,#07eef0 59.5px,#00e5f7 63.5px,#00dcff 67.5px,#00c8ff 76.5px,#00c4ff 80.5px,#0cf 104.5px,#00c7ff 180.5px,#00c3ff 185.5px,#00d2ff 199.5px,#00d1ff 218px)}
.z0g129{background:linear-gradient(#2cffcb 0,#14ffe3 42.5px,#0ff9e7 51.5px,#0bf3ec 58.5px,#02e8f4 63.5px,#00daff 69.5px,#00c7ff 80.5px,#00cfff 98.5px,#0cf 179.5px,#00c7ff 185.5px,#00d7ff 200.5px,#00d6ff 218px)}
.z0g130{background:linear-gradient(#2dffca 0,#14ffe2 43.5px,#10fae7 51.5px,#0cf4eb 58.5px,#01e7f5 64.5px,#00dbff 69.5px,#00ceff 75.5px,#00c8ff 81.5px,#00d1ff 102.5px,#00cdff 179.5px,#00c8ff 184.5px,#00d8ff 199.5px,#00d8ff 218px)}
.z0g131{background:linear-gradient(#2cffcb 0,#15ffe2 40.5px,#0ef7e9 53.5px,#0af2ed 58.5px,#00e6f7 64.5px,#00dcff 68.5px,#00c7ff 80.5px,#00cfff 106.5px,#00cbff 179.5px,#00c6ff 185.5px,#00d5ff 198.5px,#00d5ff 218px)}
.z0g132{background:linear-gradient(#2bffcc 0,#15ffe2 38.5px,#0ef7e9 51.5px,#09f1ee 58.5px,#00e4f8 64.5px,#00daff 68.5px,#00c5ff 80.5px,#00cdff 107.5px,#00c8ff 180.5px,#00c4ff 185.5px,#00d3ff 198.5px,#00d3ff 218px)}
.z0g133{background:linear-gradient(#2affcd 0,#14ffe2 36.5px,#0df6ea 50.5px,#08efef 58.5px,#00e5f7 63.5px,#00dbff 67.5px,#00c9ff 75.5px,#00c3ff 80.5px,#00cbff 107.5px,#00c6ff 179.5px,#00c1ff 184.5px,#00d0ff 198.5px,#00d0ff 218px)}
.z0g134{background:linear-gradient(#2bffcc 0,#15ffe2 39.5px,#0ef7e9 52.5px,#0af2ed 58.5px,#00e5f7 64.5px,#00dbff 68.5px,#00c6ff 80.5px,#00ceff 108.5px,#00caff 179.5px,#00c5ff 185.5px,#00d4ff 198.5px,#00d4ff 218px)}
.z0g135{background:linear-gradient(#2affcd 0,#14ffe2 37.5px,#0ef7e9 50.5px,#08f0ee 58.5px,#00e6f6 63.5px,#00daff 68.5px,#00caff 75.5px,#00c4ff 81.5px,#0cf 98.5px,#0cf 109.5px,#00c7ff 180.5px,#00c3ff 185.5px,#00d2ff 199.5px,#00d1ff 218px)}
.z0g136{background:linear-gradient(#29ffce 0,#14ffe2 35.5px,#0bf4eb 52.5px,#06edf1 59.5px,#00dbff 67.5px,#00c7ff 76.5px,#00c2ff 82.5px,#00caff 98.5px,#00caff 109.5px,#00c5ff 179.5px,#00c0ff 185.5px,#00cfff 198.5px,#00cfff 218px)}
.z0g137{background:linear-gradient(#2affcd 0,#14ffe2 36.5px,#0cf5eb 52.5px,#07eef0 59.5px,#00e5f7 63.5px,#00dcff 67.5px,#00c8ff 76.5px,#00c4ff 80.5px,#00cbff 97.5px,#00cbff 110.5px,#00c6ff 180.5px,#00c1ff 184.5px,#00d0ff 198.5px,#00d0ff 218px)}
.z0g138{background:linear-gradient(#2cffcb 0,#14ffe3 41.5px,#0ff8e8 52.5px,#0bf3ec 58.5px,#01e6f6 64.5px,#00daff 69.5px,#00cdff 75.5px,#00c7ff 81.5px,#00cfff 98.5px,#00cfff 109.5px,#00cbff 179.5px,#00c6ff 185.5px,#00d5ff 198.5px,#00d5ff 218px)}
.z0g139{background:linear-gradient(#2bffcc 0,#15ffe2 38.5px,#0ff8e8 50.5px,#09f1ed 58.5px,#00e5f7 64.5px,#00dbff 68.5px,#00caff 76.5px,#00c5ff 82.5px,#00cdff 97.5px,#00cdff 110.5px,#00c9ff 179.5px,#00c4ff 185.5px,#00d3ff 198.5px,#00d3ff 218px)}
.z0g140{background:linear-gradient(#2bffcc 0,#14ffe3 40.5px,#0ff9e7 50.5px,#09f1ee 59.5px,#00e6f6 64.5px,#00daff 69.5px,#00c7ff 80.5px,#00cfff 104.5px,#00caff 179.5px,#00c5ff 185.5px,#00d4ff 198.5px,#00d4ff 218px)}
.z0g141{background:linear-gradient(#2cffcb 0,#14ffe2 42.5px,#0ef7e9 55.5px,#00e5f7 65.5px,#00dbff 69.5px,#00cdff 76.5px,#00c8ff 82.5px,#00d0ff 97.5px,#00d0ff 111.5px,#0cf 179.5px,#00c7ff 184.5px,#00d7ff 199.5px,#00d6ff 218px)}
.z0g142{background:linear-gradient(#2cffcb 0,#14ffe2 41.5px,#0ef7e9 54.5px,#0af2ed 59.5px,#01e7f5 64.5px,#00dbff 69.5px,#00c8ff 80.5px,#00d0ff 106.5px,#00cbff 179.5px,#00c6ff 184.5px,#00d5ff 198.5px,#00d5ff 218px)}
.z0g143{background:linear-gradient(#2dffca 0,#12fce5 49.5px,#0cf5ea 58.5px,#01e7f6 65.5px,#00daff 70.5px,#00caff 80.5px,#00d2ff 106.5px,#00cdff 180.5px,#00c9ff 185.5px,#00d8ff 199.5px,#00d8ff 218px)}
.z0g144{background:linear-gradient(#2dffca 0,#12fce5 50.5px,#0df6ea 58.5px,#01e7f5 65.5px,#00dbff 70.5px,#00cfff 76.5px,#00caff 82.5px,#00d2ff 97.5px,#00d2ff 111.5px,#00ceff 179.5px,#00c9ff 184.5px,#00d9ff 199.5px,#00d8ff 218px)}
.z0g145{background:linear-gradient(#2cffcb 0,#14ffe3 42.5px,#0ef7e9 55.5px,#00e6f7 65.5px,#00dcff 69.5px,#00c9ff 80.5px,#00d1ff 105.5px,#0cf 179.5px,#00c7ff 185.5px,#00d6ff 198.5px,#00d6ff 218px)}
.z0g146{background:linear-gradient(#2effc9 0,#13fde4 51.5px,#0df6ea 59.5px,#01e7f6 66.5px,#00dbff 71.5px,#0cf 81.5px,#00d4ff 98.5px,#00d0ff 180.5px,#0cf 185.5px,#00dbff 198.5px,#00dbff 218px)}
.z0g147{background:linear-gradient(#2effc9 0,#13fee3 49.5px,#0df6ea 59.5px,#01e7f6 66.5px,#00dbff 71.5px,#0cf 81.5px,#00d4ff 98.5px,#00d0ff 180.5px,#0cf 185.5px,#00dbff 198.5px,#00dbff 218px)}
.z0g148{background:linear-gradient(#2dffca 0,#14ffe2 44.5px,#10fae7 53.5px,#0df6ea 58.5px,#01e7f5 65.5px,#00dbff 70.5px,#00cfff 76.5px,#00caff 82.5px,#00d2ff 97.5px,#00d2ff 111.5px,#00ceff 179.5px,#00c9ff 184.5px,#00d9ff 199.5px,#00d8ff 218px)}
.z0g149{background:linear-gradient(#2dffc9 0,#12fce5 52.5px,#0bf4eb 60.5px,#01e7f6 66.5px,#00dbff 71.5px,#0cf 81.5px,#00d4ff 98.5px,#00d0ff 180.5px,#0cf 185.5px,#00dbff 198.5px,#00dbff 218px)}
.z0g150{background:linear-gradient(#2cffca 0,#14ffe3 44.5px,#11fbe6 51.5px,#0cf4eb 59.5px,#01e7f5 65.5px,#00dbff 70.5px,#00cfff 76.5px,#00caff 82.5px,#00d2ff 97.5px,#00d2ff 111.5px,#00ceff 179.5px,#00c9ff 184.5px,#00d9ff 199.5px,#00d8ff 218px)}
.z0g151{background:linear-gradient(#2bffcc 0,#14ffe2 41.5px,#0df6ea 56.5px,#00e6f7 65.5px,#00dcff 69.5px,#00c9ff 80.5px,#00d1ff 105.5px,#0cf 179.5px,#00c7ff 185.5px,#00d6ff 198.5px,#00d6ff 218px)}
.z0g152{background:linear-gradient(#2cffcb 0,#14ffe2 43.5px,#11fbe6 51.5px,#0bf4eb 59.5px,#01e7f5 65.5px,#00dbff 70.5px,#00cfff 76.5px,#00caff 82.5px,#00d2ff 97.5px,#00d2ff 111.5px,#00ceff 179.5px,#00c9ff 184.5px,#00d9ff 199.5px,#00d8ff 218px)}
.z0g153{background:linear-gradient(#2bffcc 0,#15ffe2 40.5px,#0ff8e8 53.5px,#0bf4eb 58.5px,#00e6f7 65.5px,#00dcff 69.5px,#00c9ff 80.5px,#00d1ff 105.5px,#0cf 179.5px,#00c7ff 185.5px,#00d6ff 198.5px,#00d6ff 218px)}
.z0g154{background:linear-gradient(#2bffcc 0,#14ffe2 40.5px,#0ff8e8 53.5px,#0bf4eb 58.5px,#00e6f7 65.5px,#00dcff 69.5px,#00c9ff 80.5px,#00d1ff 105.5px,#0cf 179.5px,#00c7ff 185.5px,#00d6ff 198.5px,#00d6ff 218px)}
.z0g155{background:linear-gradient(#2cffcb 0,#12fce5 49.5px,#0bf4eb 59.5px,#01e7f5 65.5px,#00dbff 70.5px,#00cfff 76.5px,#00caff 82.5px,#00d2ff 97.5px,#00d2ff 111.5px,#00ceff 179.5px,#00c9ff 184.5px,#00d9ff 199.5px,#00d8ff 218px)}
.z0g156{background:linear-gradient(#2bffcb 0,#14ffe2 42.5px,#10fae7 52.5px,#0bf4eb 59.5px,#01e7f5 65.5px,#00dbff 70.5px,#00cfff 76.5px,#00caff 82.5px,#00d2ff 97.5px,#00d2ff 111.5px,#00ceff 179.5px,#00c9ff 184.5px,#00d9ff 199.5px,#00d8ff 218px)}
.z0g157{background:linear-gradient(#2cffca 0,#14ffe2 45.5px,#11fbe6 53.5px,#0ef7e9 58.5px,#01e7f6 66.5px,#00dbff 71.5px,#0cf 81.5px,#00d4ff 98.5px,#00d0ff 180.5px,#0cf 185.5px,#00dbff 198.5px,#00dbff 218px)}
.z0g158{background:linear-gradient(#2cffcb 0,#12fce5 51.5px,#0ef7e9 58.5px,#01e7f6 66.5px,#00dbff 71.5px,#0cf 81.5px,#00d4ff 98.5px,#00d0ff 180.5px,#0cf 185.5px,#00dbff 198.5px,#00dbff 218px)}
.z0g159{background:linear-gradient(#2cffcb 0,#15ffe2 44.5px,#10fae7 54.5px,#0ef7e9 58.5px,#01e7f6 66.5px,#00dbff 71.5px,#0cf 81.5px,#00d4ff 98.5px,#00d0ff 180.5px,#0cf 185.5px,#00dbff 198.5px,#00dbff 218px)}
.z0g160{background:linear-gradient(#2bffcc 0,#14ffe2 41.5px,#10f9e7 53.5px,#0af2ed 60.5px,#01e7f5 65.5px,#00dbff 70.5px,#00cfff 76.5px,#00caff 82.5px,#00d2ff 97.5px,#00d2ff 111.5px,#00ceff 179.5px,#00c9ff 184.5px,#00d9ff 199.5px,#00d8ff 218px)}
.z0g161{background:linear-gradient(#2affcd 0,#15ffe2 38.5px,#0df6ea 55.5px,#00e6f7 65.5px,#00dcff 69.5px,#00c9ff 80.5px,#00d1ff 105.5px,#0cf 179.5px,#00c7ff 185.5px,#00d6ff 198.5px,#00d6ff 218px)}
.z0g162{background:linear-gradient(#2affcc 0,#14ffe2 41.5px,#0ff9e7 53.5px,#0af2ed 60.5px,#01e7f5 65.5px,#00dbff 70.5px,#00cfff 76.5px,#00caff 82.5px,#00d2ff 97.5px,#00d2ff 111.5px,#00ceff 179.5px,#00c9ff 184.5px,#00d9ff 199.5px,#00d8ff 218px)}
.z0g163{background:linear-gradient(#29ffcd 0,#14ffe2 38.5px,#0df6ea 55.5px,#00e6f7 65.5px,#00dcff 69.5px,#00c9ff 80.5px,#00d1ff 105.5px,#0cf 179.5px,#00c7ff 185.5px,#00d6ff 198.5px,#00d6ff 218px)}
.z0g164{background:linear-gradient(#2bffcb 0,#14ffe2 44.5px,#10fae7 54.5px,#0ef7e9 58.5px,#01e7f6 66.5px,#00dbff 71.5px,#0cf 81.5px,#00d4ff 98.5px,#00d0ff 180.5px,#0cf 185.5px,#00dbff 198.5px,#00dbff 218px)}
.z0g165{background:linear-gradient(#2affcd 0,#14ffe2 40.5px,#10fae7 51.5px,#0cf5ea 58.5px,#01e7f5 65.5px,#00dbff 70.5px,#00cfff 76.5px,#00caff 82.5px,#00d2ff 97.5px,#00d2ff 111.5px,#00ceff 179.5px,#00c9ff 184.5px,#00d9ff 199.5px,#00d8ff 218px)}
.z0g166{background:linear-gradient(#2bffcc 0,#15ffe2 43.5px,#11fbe6 52.5px,#0cf5ea 59.5px,#01e7f6 66.5px,#00dbff 71.5px,#0cf 81.5px,#00d4ff 98.5px,#00d0ff 180.5px,#0cf 185.5px,#00dbff 198.5px,#00dbff 218px)}
.z0g167{background:linear-gradient(#2bffcc 0,#14ffe2 43.5px,#0ff9e7 55.5px,#00e4f8 67.5px,#00dbff 71.5px,#0cf 81.5px,#00d4ff 98.5px,#00d0ff 180.5px,#0cf 185.5px,#00dbff 198.5px,#00dbff 218px)}
.z0g168{background:linear-gradient(#2affcd 0,#14ffe3 40.5px,#0ff8e8 54.5px,#0cf5ea 58.5px,#01e7f5 65.5px,#00dbff 70.5px,#00cfff 76.5px,#00caff 82.5px,#00d2ff 97.5px,#00d2ff 111.5px,#00ceff 179.5px,#00c9ff 184.5px,#00d9ff 199.5px,#00d8ff 218px)}
.z0g169{background:linear-gradient(#29ffce 0,#14ffe3 37.5px,#0cf5ea 56.5px,#00e6f7 65.5px,#00dcff 69.5px,#00c9ff 80.5px,#00d1ff 105.5px,#0cf 179.5px,#00c7ff 185.5px,#00d6ff 198.5px,#00d6ff 218px)}
.z0g170{background:linear-gradient(#28ffce 0,#14ffe2 36.5px,#0cf5eb 56.5px,#00e6f7 65.5px,#00dcff 69.5px,#00c9ff 80.5px,#00d1ff 105.5px,#0cf 179.5px,#00c7ff 185.5px,#00d6ff 198.5px,#00d6ff 218px)}
.z0g171{background:linear-gradient(#2affcd 0,#14ffe2 39.5px,#0ff8e8 54.5px,#0cf5eb 58.5px,#01e7f5 65.5px,#00dbff 70.5px,#00cfff 76.5px,#00caff 82.5px,#00d2ff 97.5px,#00d2ff 111.5px,#00ceff 179.5px,#00c9ff 184.5px,#00d9ff 199.5px,#00d8ff 218px)}
.z0g172{background:linear-gradient(#29ffce 0,#14ffe3 39.5px,#0ff9e7 52.5px,#0cf5eb 58.5px,#01e7f5 65.5px,#00dbff 70.5px,#00cfff 76.5px,#00caff 82.5px,#00d2ff 97.5px,#00d2ff 111.5px,#00ceff 179.5px,#00c9ff 184.5px,#00d9ff 199.5px,#00d8ff 218px)}
.z0g173{background:linear-gradient(#29ffce 0,#14ffe2 38.5px,#0ef7e9 55.5px,#00e5f7 66.5px,#00dbff 70.5px,#00cfff 76.5px,#00caff 82.5px,#00d2ff 97.5px,#00d2ff 111.5px,#00ceff 179.5px,#00c9ff 184.5px,#00d9ff 199.5px,#00d8ff 218px)}
.z1{top:218px;height:95px}
.z1g0{background:linear-gradient(#00c4ff 0,#0bf 15.5px,#00a3ff 30.5px,#007bff 74.5px,#0075ff 92.5px,#06f 93.5px,#0065ff 95px)}
.z1g1{background:linear-gradient(#00c0ff 0,#00b7ff 16.5px,#009eff 31.5px,#0078ff 73.5px,#0073ff 91.5px,#0072ff 92.5px,#0063ff 93.5px,#0063ff 95px)}
.z1g2{background:linear-gradient(#00bcff 0,#00b3ff 16.5px,#009cff 30.5px,#0074ff 74.5px,#006fff 92.5px,#0060ff 93.5px,#0060ff 95px)}
.z1g3{background:linear-gradient(#00b8ff 0,#00b0ff 15.5px,#0098ff 30.5px,#0071ff 74.5px,#006cff 92.5px,#005dff 93.5px,#005dff 95px)}
.z1g4{background:linear-gradient(#00b6ff 0,#00aeff 15.5px,#0096ff 30.5px,#0070ff 73.5px,#006bff 92.5px,#005bff 93.5px,#005bff 95px)}
.z1g5{background:linear-gradient(#00b0ff 0,#00a7ff 16.5px,#0090ff 30.5px,#0069ff 73.5px,#0064ff 91.5px,#0063ff 92.5px,#0053ff 93.5px,#0052ff 95px)}
.z1g6{background:linear-gradient(#00b5ff 0,#00adff 15.5px,#0097ff 29.5px,#006fff 73.5px,#006aff 92.5px,#005bff 93.5px,#005bff 95px)}
.z1g7{background:linear-gradient(#00b6ff 0,#00afff 16.5px,#0098ff 30.5px,#0072ff 74.5px,#006eff 92.5px,#005fff 93.5px,#0060ff 95px)}
.z1g8{background:linear-gradient(#00b5ff 0,#00aeff 16.5px,#09f 29.5px,#0072ff 73.5px,#006eff 92.5px,#005fff 93.5px,#005fff 95px)}
.z1g9{background:linear-gradient(#00b4ff 0,#00acff 16.5px,#0095ff 30.5px,#006eff 74.5px,#0069ff 92.5px,#005aff 93.5px,#005aff 95px)}
.z1g10{background:linear-gradient(#00b4ff 0,#00abff 16.5px,#0094ff 30.5px,#006dff 74.5px,#0069ff 92.5px,#005aff 93.5px,#005aff 95px)}
.z1g11{background:linear-gradient(#00b3ff 0,#0af 16.5px,#0093ff 30.5px,#006dff 73.5px,#0068ff 92.5px,#0059ff 93.5px,#0059ff 95px)}
.z1g12{background:linear-gradient(#00acff 0,#00a5ff 14.5px,#008eff 29.5px,#06f 74.5px,#0061ff 92.5px,#0050ff 93.5px,#004fff 95px)}
.z1g13{background:linear-gradient(#00a6ff 0,#009dff 16.5px,#0086ff 30.5px,#005fff 74.5px,#0059ff 92.5px,#0048ff 93.5px,#0046ff 95px)}
.z1g14{background:linear-gradient(#00acff 0,#00a3ff 16.5px,#008cff 30.5px,#0065ff 74.5px,#0061ff 91.5px,#0060ff 92.5px,#0050ff 93.5px,#004fff 95px)}
.z1g15{background:linear-gradient(#00b1ff 0,#00a9ff 16.5px,#0092ff 30.5px,#006cff 73.5px,#0067ff 92.5px,#0058ff 93.5px,#0058ff 95px)}
.z1g16{background:linear-gradient(#00b3ff 0,#00aeff 15.5px,#0096ff 31.5px,#0073ff 73.5px,#0070ff 92.5px,#0061ff 93.5px,#0062ff 95px)}
.z1g17{background:linear-gradient(#00b4ff 0,#00b0ff 16.5px,#009aff 30.5px,#0076ff 74.5px,#0074ff 92.5px,#06f 93.5px,#0067ff 95px)}
.z1g18{background:linear-gradient(#00b4ff 0,#00b0ff 16.5px,#009aff 30.5px,#0076ff 74.5px,#0074ff 92.5px,#06f 93.5px,#0067ff 95px)}
.z1g19{background:linear-gradient(#00b4ff 0,#00b0ff 16.5px,#009aff 30.5px,#0076ff 74.5px,#0074ff 92.5px,#06f 93.5px,#0067ff 95px)}
.z1g20{background:linear-gradient(#00b3ff 0,#00aeff 15.5px,#0096ff 31.5px,#0073ff 73.5px,#0070ff 92.5px,#0061ff 93.5px,#0062ff 95px)}
.z1g21{background:linear-gradient(#00b2ff 0,#00acff 15.5px,#0096ff 29.5px,#006fff 74.5px,#006bff 92.5px,#005dff 93.5px,#005dff 95px)}
.z1g22{background:linear-gradient(#00b1ff 0,#00a9ff 16.5px,#0092ff 30.5px,#006cff 73.5px,#0067ff 92.5px,#0058ff 93.5px,#0058ff 95px)}
.z1g23{background:linear-gradient(#00b4ff 0,#00b0ff 16.5px,#009aff 30.5px,#0076ff 74.5px,#0074ff 92.5px,#06f 93.5px,#0067ff 95px)}
.z1g24{background:linear-gradient(#00b5ff 0,#00b8ff 4.5px,#00b3ff 15.5px,#0098ff 35.5px,#007aff 73.5px,#0078ff 92.5px,#006aff 93.5px,#006cff 95px)}
.z1g25{background:linear-gradient(#00b3ff 0,#00aeff 15.5px,#0096ff 31.5px,#0073ff 73.5px,#0070ff 92.5px,#0061ff 93.5px,#0062ff 95px)}
.z1g26{background:linear-gradient(#00b2ff 0,#00acff 15.5px,#0096ff 29.5px,#006fff 74.5px,#006bff 92.5px,#005dff 93.5px,#005dff 95px)}
.z1g27{background:linear-gradient(#00b1ff 0,#00a9ff 16.5px,#0092ff 30.5px,#006cff 73.5px,#0067ff 92.5px,#0058ff 93.5px,#0058ff 95px)}
.z1g28{background:linear-gradient(#00abff 0,#00a3ff 15.5px,#008aff 31.5px,#0065ff 74.5px,#0060ff 91.5px,#005fff 92.5px,#004fff 93.5px,#004eff 95px)}
.z1g29{background:linear-gradient(#00b1ff 0,#00a9ff 16.5px,#0092ff 30.5px,#006cff 73.5px,#0067ff 92.5px,#0058ff 93.5px,#0058ff 95px)}
.z1g30{background:linear-gradient(#00b2ff 0,#00acff 15.5px,#0096ff 29.5px,#006fff 74.5px,#006bff 92.5px,#005dff 93.5px,#005dff 95px)}
.z1g31{background:linear-gradient(#00b4ff 0,#00b0ff 16.5px,#009aff 30.5px,#0076ff 74.5px,#0074ff 92.5px,#06f 93.5px,#0067ff 95px)}
.z1g32{background:linear-gradient(#00b5ff 0,#00b8ff 4.5px,#00b3ff 15.5px,#0098ff 35.5px,#007aff 73.5px,#0078ff 92.5px,#006aff 93.5px,#006cff 95px)}
.z1g33{background:linear-gradient(#00b6ff 0,#00baff 4.5px,#00b5ff 15.5px,#009dff 32.5px,#007dff 74.5px,#007cff 92.5px,#006eff 93.5px,#0070ff 95px)}
.z1g34{background:linear-gradient(#00b6ff 0,#00baff 4.5px,#00b5ff 15.5px,#009dff 32.5px,#007dff 74.5px,#007cff 92.5px,#006eff 93.5px,#0070ff 95px)}
.z1g35{background:linear-gradient(#00b5ff 0,#00b8ff 4.5px,#00b3ff 15.5px,#0098ff 35.5px,#007aff 73.5px,#0078ff 92.5px,#006aff 93.5px,#006cff 95px)}
.z1g36{background:linear-gradient(#00b4ff 0,#00b0ff 16.5px,#009aff 30.5px,#0076ff 74.5px,#0074ff 92.5px,#06f 93.5px,#0067ff 95px)}
.z1g37{background:linear-gradient(#00b2ff 0,#00acff 15.5px,#0096ff 29.5px,#006fff 74.5px,#006bff 92.5px,#005dff 93.5px,#005dff 95px)}
.z1g38{background:linear-gradient(#00b1ff 0,#00a9ff 16.5px,#0092ff 30.5px,#006cff 73.5px,#0067ff 92.5px,#0058ff 93.5px,#0058ff 95px)}
.z1g39{background:linear-gradient(#00abff 0,#00a3ff 15.5px,#008aff 31.5px,#0065ff 74.5px,#0060ff 91.5px,#005fff 92.5px,#004fff 93.5px,#004eff 95px)}
.z1g40{background:linear-gradient(#00b3ff 0,#00aeff 15.5px,#0096ff 31.5px,#0073ff 73.5px,#0070ff 92.5px,#0061ff 93.5px,#0062ff 95px)}
.z1g41{background:linear-gradient(#00b5ff 0,#00b8ff 4.5px,#00b3ff 15.5px,#0098ff 35.5px,#007aff 73.5px,#0078ff 92.5px,#006aff 93.5px,#006cff 95px)}
.z1g42{background:linear-gradient(#00b4ff 0,#00b0ff 16.5px,#009aff 30.5px,#0076ff 74.5px,#0074ff 92.5px,#06f 93.5px,#0067ff 95px)}
.z1g43{background:linear-gradient(#00b2ff 0,#00acff 15.5px,#0096ff 29.5px,#006fff 74.5px,#006bff 92.5px,#005dff 93.5px,#005dff 95px)}
.z1g44{background:linear-gradient(#00b1ff 0,#00a9ff 16.5px,#0092ff 30.5px,#006cff 73.5px,#0067ff 92.5px,#0058ff 93.5px,#0058ff 95px)}
.z1g45{background:linear-gradient(#00b6ff 0,#00baff 4.5px,#00b5ff 15.5px,#009dff 32.5px,#007dff 74.5px,#007cff 92.5px,#006eff 93.5px,#0070ff 95px)}
.z1g46{background:linear-gradient(#00b5ff 0,#00b8ff 4.5px,#00b3ff 15.5px,#0098ff 35.5px,#007aff 73.5px,#0078ff 92.5px,#006aff 93.5px,#006cff 95px)}
.z1g47{background:linear-gradient(#00b4ff 0,#00b0ff 16.5px,#009aff 30.5px,#0076ff 74.5px,#0074ff 92.5px,#06f 93.5px,#0067ff 95px)}
.z1g48{background:linear-gradient(#00b2ff 0,#00acff 15.5px,#0096ff 29.5px,#006fff 74.5px,#006bff 92.5px,#005dff 93.5px,#005dff 95px)}
.z1g49{background:linear-gradient(#00abff 0,#00a3ff 15.5px,#008aff 31.5px,#0065ff 74.5px,#0060ff 91.5px,#005fff 92.5px,#004fff 93.5px,#004eff 95px)}
.z1g50{background:linear-gradient(#00a5ff 0,#009cff 16.5px,#0085ff 30.5px,#005eff 74.5px,#0058ff 92.5px,#0047ff 93.5px,#0045ff 95px)}
.z1g51{background:linear-gradient(#00a5ff 0,#009cff 16.5px,#0085ff 30.5px,#005eff 74.5px,#0058ff 92.5px,#0047ff 93.5px,#0045ff 95px)}
.z1g52{background:linear-gradient(#00b1ff 0,#00a9ff 16.5px,#0092ff 30.5px,#006cff 73.5px,#0067ff 92.5px,#0058ff 93.5px,#0058ff 95px)}
.z1g53{background:linear-gradient(#00b3ff 0,#00aeff 15.5px,#0096ff 31.5px,#0073ff 73.5px,#0070ff 92.5px,#0061ff 93.5px,#0062ff 95px)}
.z1g54{background:linear-gradient(#00b4ff 0,#00b0ff 16.5px,#009aff 30.5px,#0076ff 74.5px,#0074ff 92.5px,#06f 93.5px,#0067ff 95px)}
.z1g55{background:linear-gradient(#00b4ff 0,#00b0ff 16.5px,#009aff 30.5px,#0076ff 74.5px,#0074ff 92.5px,#06f 93.5px,#0067ff 95px)}
.z1g56{background:linear-gradient(#00b3ff 0,#00aeff 15.5px,#0096ff 31.5px,#0073ff 73.5px,#0070ff 92.5px,#0061ff 93.5px,#0062ff 95px)}
.z1g57{background:linear-gradient(#00b2ff 0,#00acff 15.5px,#0096ff 29.5px,#006fff 74.5px,#006bff 92.5px,#005dff 93.5px,#005dff 95px)}
.z1g58{background:linear-gradient(#00b1ff 0,#00a9ff 16.5px,#0092ff 30.5px,#006cff 73.5px,#0067ff 92.5px,#0058ff 93.5px,#0058ff 95px)}
.z1g59{background:linear-gradient(#00abff 0,#00a3ff 15.5px,#008aff 31.5px,#0065ff 74.5px,#0060ff 91.5px,#005fff 92.5px,#004fff 93.5px,#004eff 95px)}
.z1g60{background:linear-gradient(#00b1ff 0,#00a9ff 16.5px,#0092ff 30.5px,#006cff 73.5px,#0067ff 92.5px,#0058ff 93.5px,#0058ff 95px)}
.z1g61{background:linear-gradient(#00b2ff 0,#00acff 15.5px,#0096ff 29.5px,#006fff 74.5px,#006bff 92.5px,#005dff 93.5px,#005dff 95px)}
.z1g62{background:linear-gradient(#00b4ff 0,#00b0ff 16.5px,#009aff 30.5px,#0076ff 74.5px,#0074ff 92.5px,#06f 93.5px,#0067ff 95px)}
.z1g63{background:linear-gradient(#00b6ff 0,#00baff 4.5px,#00b5ff 15.5px,#009dff 32.5px,#007dff 74.5px,#007cff 92.5px,#006eff 93.5px,#0070ff 95px)}
.z1g64{background:linear-gradient(#00b5ff 0,#00b8ff 4.5px,#00b3ff 15.5px,#0098ff 35.5px,#007aff 73.5px,#0078ff 92.5px,#006aff 93.5px,#006cff 95px)}
.z1g65{background:linear-gradient(#00b4ff 0,#00b0ff 16.5px,#009aff 30.5px,#0076ff 74.5px,#0074ff 92.5px,#06f 93.5px,#0067ff 95px)}
.z1g66{background:linear-gradient(#00b7ff 0,#00beff 3.5px,#00b9ff 16.5px,#00a3ff 31.5px,#0084ff 73.5px,#0084ff 92.5px,#07f 93.5px,#0079ff 95px)}
.z1g67{background:linear-gradient(#00b7ff 0,#00beff 3.5px,#00b9ff 16.5px,#00a3ff 31.5px,#0084ff 73.5px,#0084ff 92.5px,#07f 93.5px,#0079ff 95px)}
.z1g68{background:linear-gradient(#00b6ff 0,#00bcff 2.5px,#00b7ff 16.5px,#009eff 34.5px,#0081ff 73.5px,#0080ff 92.5px,#0073ff 93.5px,#0075ff 95px)}
.z1g69{background:linear-gradient(#00b6ff 0,#00baff 4.5px,#00b5ff 15.5px,#009dff 32.5px,#007dff 74.5px,#007cff 92.5px,#006eff 93.5px,#0070ff 95px)}
.z1g70{background:linear-gradient(#00b5ff 0,#00b8ff 4.5px,#00b3ff 15.5px,#0098ff 35.5px,#007aff 73.5px,#0078ff 92.5px,#006aff 93.5px,#006cff 95px)}
.z1g71{background:linear-gradient(#00b4ff 0,#00b0ff 16.5px,#009aff 30.5px,#0076ff 74.5px,#0074ff 92.5px,#06f 93.5px,#0067ff 95px)}
.z1g72{background:linear-gradient(#00b3ff 0,#00aeff 15.5px,#0096ff 31.5px,#0073ff 73.5px,#0070ff 92.5px,#0061ff 93.5px,#0062ff 95px)}
.z1g73{background:linear-gradient(#00b6ff 0,#00baff 4.5px,#00b5ff 15.5px,#009dff 32.5px,#007dff 74.5px,#007cff 92.5px,#006eff 93.5px,#0070ff 95px)}
.z1g74{background:linear-gradient(#00b6ff 0,#00bcff 2.5px,#00b7ff 16.5px,#009eff 34.5px,#0081ff 73.5px,#0080ff 92.5px,#0073ff 93.5px,#0075ff 95px)}
.z1g75{background:linear-gradient(#00b6ff 0,#00bcff 2.5px,#00b7ff 16.5px,#009eff 34.5px,#0081ff 73.5px,#0080ff 92.5px,#0073ff 93.5px,#0075ff 95px)}
.z1g76{background:linear-gradient(#00b5ff 0,#00b8ff 4.5px,#00b3ff 15.5px,#0098ff 35.5px,#007aff 73.5px,#0078ff 92.5px,#006aff 93.5px,#006cff 95px)}
.z1g77{background:linear-gradient(#00b3ff 0,#00aeff 15.5px,#0096ff 31.5px,#0073ff 73.5px,#0070ff 92.5px,#0061ff 93.5px,#0062ff 95px)}
.z1g78{background:linear-gradient(#00b2ff 0,#00acff 15.5px,#0096ff 29.5px,#006fff 74.5px,#006bff 92.5px,#005dff 93.5px,#005dff 95px)}
.z1g79{background:linear-gradient(#00b6ff 0,#00baff 4.5px,#00b5ff 15.5px,#009dff 32.5px,#007dff 74.5px,#007cff 92.5px,#006eff 93.5px,#0070ff 95px)}
.z1g80{background:linear-gradient(#00b4ff 0,#00b0ff 16.5px,#009aff 30.5px,#0076ff 74.5px,#0074ff 92.5px,#06f 93.5px,#0067ff 95px)}
.z1g81{background:linear-gradient(#00b2ff 0,#00acff 15.5px,#0096ff 29.5px,#006fff 74.5px,#006bff 92.5px,#005dff 93.5px,#005dff 95px)}
.z1g82{background:linear-gradient(#00b3ff 0,#00aeff 15.5px,#0096ff 31.5px,#0073ff 73.5px,#0070ff 92.5px,#0061ff 93.5px,#0062ff 95px)}
.z1g83{background:linear-gradient(#00b5ff 0,#00b8ff 4.5px,#00b3ff 15.5px,#0098ff 35.5px,#007aff 73.5px,#0078ff 92.5px,#006aff 93.5px,#006cff 95px)}
.z1g84{background:linear-gradient(#00b6ff 0,#00baff 4.5px,#00b5ff 15.5px,#009dff 32.5px,#007dff 74.5px,#007cff 92.5px,#006eff 93.5px,#0070ff 95px)}
.z1g85{background:linear-gradient(#00b6ff 0,#00bcff 2.5px,#00b7ff 16.5px,#009eff 34.5px,#0081ff 73.5px,#0080ff 92.5px,#0073ff 93.5px,#0075ff 95px)}
.z1g86{background:linear-gradient(#00b4ff 0,#00b0ff 16.5px,#009aff 30.5px,#0076ff 74.5px,#0074ff 92.5px,#06f 93.5px,#0067ff 95px)}
.z1g87{background:linear-gradient(#00b6ff 0,#00baff 4.5px,#00b5ff 15.5px,#009dff 32.5px,#007dff 74.5px,#007cff 92.5px,#006eff 93.5px,#0070ff 95px)}
.z1g88{background:linear-gradient(#00b5ff 0,#00b8ff 4.5px,#00b3ff 15.5px,#0098ff 35.5px,#007aff 73.5px,#0078ff 92.5px,#006aff 93.5px,#006cff 95px)}
.z1g89{background:linear-gradient(#00b4ff 0,#00b0ff 16.5px,#009aff 30.5px,#0076ff 74.5px,#0074ff 92.5px,#06f 93.5px,#0067ff 95px)}
.z1g90{background:linear-gradient(#00b3ff 0,#00aeff 15.5px,#0096ff 31.5px,#0073ff 73.5px,#0070ff 92.5px,#0061ff 93.5px,#0062ff 95px)}
.z1g91{background:linear-gradient(#00b3ff 0,#00aeff 16.5px,#0098ff 30.5px,#0074ff 74.5px,#0071ff 92.5px,#0063ff 93.5px,#0064ff 95px)}
.z1g92{background:linear-gradient(#00b1ff 0,#0af 15.5px,#0095ff 29.5px,#006fff 74.5px,#006cff 92.5px,#005dff 93.5px,#005dff 95px)}
.z1g93{background:linear-gradient(#00b1ff 0,#0af 16.5px,#0094ff 30.5px,#0071ff 73.5px,#006dff 92.5px,#005eff 93.5px,#005eff 95px)}
.z1g94{background:linear-gradient(#00b1ff 0,#0af 16.5px,#0094ff 30.5px,#0071ff 73.5px,#006dff 92.5px,#005eff 93.5px,#005eff 95px)}
.z1g95{background:linear-gradient(#00b2ff 0,#00abff 15.5px,#008fff 36.5px,#0071ff 74.5px,#006eff 92.5px,#005eff 93.5px,#005fff 95px)}
.z1g96{background:linear-gradient(#00b3ff 0,#00abff 16.5px,#0095ff 30.5px,#0072ff 73.5px,#006eff 92.5px,#005fff 93.5px,#005fff 95px)}
.z1g97{background:linear-gradient(#00b4ff 0,#00acff 16.5px,#0096ff 30.5px,#0072ff 74.5px,#006fff 92.5px,#0060ff 93.5px,#0060ff 95px)}
.z1g98{background:linear-gradient(#00b4ff 0,#00acff 15.5px,#0095ff 30.5px,#0071ff 73.5px,#006dff 92.5px,#005dff 93.5px,#005eff 95px)}
.z1g99{background:linear-gradient(#00b4ff 0,#00aeff 15.5px,#0097ff 30.5px,#0072ff 73.5px,#006eff 92.5px,#005fff 93.5px,#005fff 95px)}
.z1g100{background:linear-gradient(#00b4ff 0,#00aeff 15.5px,#0098ff 29.5px,#0071ff 74.5px,#006dff 92.5px,#005eff 93.5px,#005fff 95px)}
.z1g101{background:linear-gradient(#00b5ff 0,#00b0ff 15.5px,#09f 30.5px,#0075ff 73.5px,#0071ff 92.5px,#0063ff 93.5px,#0064ff 95px)}
.z1g102{background:linear-gradient(#00b6ff 0,#00b2ff 16.5px,#009cff 30.5px,#0078ff 74.5px,#0075ff 92.5px,#0067ff 93.5px,#0068ff 95px)}
.z1g103{background:linear-gradient(#00b5ff 0,#00aeff 16.5px,#09f 29.5px,#0072ff 73.5px,#006eff 92.5px,#005fff 93.5px,#005fff 95px)}
.z1g104{background:linear-gradient(#00b6ff 0,#00b1ff 15.5px,#009aff 30.5px,#0075ff 74.5px,#0072ff 92.5px,#0063ff 93.5px,#0064ff 95px)}
.z1g105{background:linear-gradient(#00b7ff 0,#00b3ff 16.5px,#009eff 29.5px,#0079ff 73.5px,#0076ff 92.5px,#0068ff 93.5px,#0069ff 95px)}
.z1g106{background:linear-gradient(#00b8ff 0,#0bf 4.5px,#00b5ff 16.5px,#009eff 31.5px,#007cff 74.5px,#007aff 92.5px,#006cff 93.5px,#006eff 95px)}
.z1g107{background:linear-gradient(#00b8ff 0,#00bdff 2.5px,#00b8ff 15.5px,#009fff 33.5px,#0080ff 73.5px,#007eff 92.5px,#0071ff 93.5px,#0072ff 95px)}
.z1g108{background:linear-gradient(#00b8ff 0,#00bcff 3.5px,#00b6ff 16.5px,#009eff 32.5px,#007dff 74.5px,#007bff 92.5px,#006dff 93.5px,#006eff 95px)}
.z1g109{background:linear-gradient(#00b8ff 0,#00b4ff 15.5px,#009fff 29.5px,#007aff 73.5px,#07f 92.5px,#0069ff 93.5px,#006aff 95px)}
.z1g110{background:linear-gradient(#00b7ff 0,#00b2ff 15.5px,#009bff 30.5px,#0076ff 74.5px,#0073ff 92.5px,#0064ff 93.5px,#0065ff 95px)}
.z1g111{background:linear-gradient(#00b6ff 0,#00afff 16.5px,#0098ff 30.5px,#0072ff 74.5px,#006eff 92.5px,#005fff 93.5px,#0060ff 95px)}
.z1g112{background:linear-gradient(#00b8ff 0,#0bf 3.5px,#00b5ff 15.5px,#009eff 30.5px,#007aff 74.5px,#07f 92.5px,#0069ff 93.5px,#006aff 95px)}
.z1g113{background:linear-gradient(#00b9ff 0,#00bdff 3.5px,#00b7ff 16.5px,#00a1ff 30.5px,#0094ff 45.5px,#007eff 73.5px,#007bff 92.5px,#006eff 93.5px,#006fff 95px)}
.z1g114{background:linear-gradient(#0bf 0,#00c1ff 3.5px,#00bcff 15.5px,#00a3ff 33.5px,#0084ff 74.5px,#0083ff 92.5px,#0076ff 93.5px,#0078ff 95px)}
.z1g115{background:linear-gradient(#00baff 0,#00bfff 3.5px,#00b9ff 16.5px,#009eff 36.5px,#0081ff 74.5px,#007fff 92.5px,#0072ff 93.5px,#0074ff 95px)}
.z1g116{background:linear-gradient(#00b8ff 0,#00b2ff 16.5px,#009dff 29.5px,#07f 73.5px,#0073ff 92.5px,#0065ff 93.5px,#0065ff 95px)}
.z1g117{background:linear-gradient(#00b9ff 0,#00bcff 3.5px,#00b6ff 15.5px,#009fff 30.5px,#007bff 74.5px,#0078ff 92.5px,#006aff 93.5px,#006bff 95px)}
.z1g118{background:linear-gradient(#00baff 0,#00beff 3.5px,#00b8ff 15.5px,#009eff 34.5px,#007eff 74.5px,#007cff 92.5px,#006eff 93.5px,#0070ff 95px)}
.z1g119{background:linear-gradient(#00bcff 0,#00c2ff 3.5px,#00bdff 15.5px,#00a4ff 33.5px,#0085ff 74.5px,#0084ff 92.5px,#07f 93.5px,#0079ff 95px)}
.z1g120{background:linear-gradient(#00bdff 0,#00c4ff 3.5px,#00bfff 15.5px,#00a8ff 31.5px,#0089ff 73.5px,#08f 92.5px,#007bff 93.5px,#007dff 95px)}
.z1g121{background:linear-gradient(#0bf 0,#00c0ff 3.5px,#00baff 16.5px,#00a3ff 31.5px,#0082ff 73.5px,#0080ff 92.5px,#0073ff 93.5px,#0074ff 95px)}
.z1g122{background:linear-gradient(#00beff 0,#00c5ff 3.5px,#00c0ff 16.5px,#00a7ff 34.5px,#008aff 73.5px,#0089ff 92.5px,#007cff 93.5px,#007eff 95px)}
.z1g123{background:linear-gradient(#00bcff 0,#00c1ff 3.5px,#0bf 16.5px,#00a1ff 35.5px,#0083ff 73.5px,#0081ff 92.5px,#0074ff 93.5px,#0075ff 95px)}
.z1g124{background:linear-gradient(#0bf 0,#00b7ff 15.5px,#00a0ff 30.5px,#007cff 74.5px,#0079ff 92.5px,#006bff 93.5px,#006cff 95px)}
.z1g125{background:linear-gradient(#00baff 0,#00b4ff 16.5px,#009fff 29.5px,#0079ff 73.5px,#0075ff 92.5px,#06f 93.5px,#0067ff 95px)}
.z1g126{background:linear-gradient(#00bdff 0,#00c3ff 3.5px,#00beff 15.5px,#00a6ff 32.5px,#0086ff 74.5px,#0085ff 92.5px,#0078ff 93.5px,#007aff 95px)}
.z1g127{background:linear-gradient(#0bf 0,#00bfff 3.5px,#00b9ff 16.5px,#00a3ff 30.5px,#0096ff 45.5px,#0080ff 73.5px,#007dff 92.5px,#006fff 93.5px,#0071ff 95px)}
.z1g128{background:linear-gradient(#00bdff 0,#00c0ff 4.5px,#00baff 16.5px,#00a4ff 30.5px,#0081ff 73.5px,#007eff 92.5px,#0070ff 93.5px,#0072ff 95px)}
.z1g129{background:linear-gradient(#00beff 0,#00c2ff 4.5px,#00bdff 15.5px,#00a2ff 35.5px,#0084ff 73.5px,#0082ff 92.5px,#0074ff 93.5px,#0076ff 95px)}
.z1g130{background:linear-gradient(#00beff 0,#00c4ff 2.5px,#00bfff 15.5px,#00a7ff 32.5px,#0087ff 74.5px,#0086ff 92.5px,#0079ff 93.5px,#007bff 95px)}
.z1g131{background:linear-gradient(#00bfff 0,#00c6ff 3.5px,#00c1ff 16.5px,#00a8ff 34.5px,#008bff 73.5px,#008aff 92.5px,#007dff 93.5px,#007fff 95px)}
.z1g132{background:linear-gradient(#00beff 0,#00c1ff 4.5px,#00bcff 15.5px,#00a5ff 30.5px,#0082ff 73.5px,#007fff 92.5px,#0071ff 93.5px,#0072ff 95px)}
.z1g133{background:linear-gradient(#00bdff 0,#00b9ff 16.5px,#00a4ff 29.5px,#007eff 74.5px,#007bff 92.5px,#006dff 93.5px,#006eff 95px)}
.z1g134{background:linear-gradient(#00bfff 0,#00c3ff 4.5px,#00beff 15.5px,#00a9ff 29.5px,#009bff 45.5px,#0085ff 74.5px,#0083ff 92.5px,#0075ff 93.5px,#07f 95px)}
.z1g135{background:linear-gradient(#00c0ff 0,#00c5ff 2.5px,#00c0ff 16.5px,#00a9ff 31.5px,#08f 74.5px,#0087ff 92.5px,#007aff 93.5px,#007cff 95px)}
.z1g136{background:linear-gradient(#00c1ff 0,#00c7ff 3.5px,#00c1ff 16.5px,#00adff 29.5px,#009eff 46.5px,#0089ff 74.5px,#08f 92.5px,#007bff 93.5px,#007cff 95px)}
.z1g137{background:linear-gradient(#00c0ff 0,#00c5ff 3.5px,#00bfff 16.5px,#00a9ff 30.5px,#09f 49.5px,#0085ff 76.5px,#0084ff 92.5px,#0076ff 93.5px,#0078ff 95px)}
.z1g138{background:linear-gradient(#00bfff 0,#00c3ff 3.5px,#00bdff 15.5px,#00a6ff 30.5px,#0083ff 73.5px,#0080ff 92.5px,#0072ff 93.5px,#0073ff 95px)}
.z1g139{background:linear-gradient(#00beff 0,#00baff 16.5px,#00a5ff 29.5px,#007fff 74.5px,#007cff 92.5px,#006eff 93.5px,#006fff 95px)}
.z1g140{background:linear-gradient(#00c2ff 0,#00cbff 3.5px,#00c6ff 15.5px,#00acff 35.5px,#0090ff 73.5px,#0090ff 92.5px,#0083ff 93.5px,#0085ff 95px)}
.z1g141{background:linear-gradient(#00c4ff 0,#00cfff 3.5px,#00caff 16.5px,#00b4ff 31.5px,#0096ff 74.5px,#0097ff 92.5px,#008bff 93.5px,#008eff 95px)}
.z1g142{background:linear-gradient(#00c5ff 0,#00d1ff 3.5px,#0cf 16.5px,#00b5ff 33.5px,#09f 74.5px,#0097ff 87.5px,#009bff 92.5px,#008fff 93.5px,#0092ff 95px)}
.z1g143{background:linear-gradient(#00c6ff 0,#00d2ff 3.5px,#00cdff 16.5px,#00baff 29.5px,#00b1ff 40.5px,#009aff 74.5px,#0098ff 87.5px,#009cff 92.5px,#008fff 93.5px,#0093ff 95px)}
.z1g144{background:linear-gradient(#00c5ff 0,#00d0ff 3.5px,#00cbff 16.5px,#00b3ff 34.5px,#0097ff 74.5px,#0098ff 92.5px,#008cff 93.5px,#008fff 95px)}
.z1g145{background:linear-gradient(#00c3ff 0,#00caff 3.5px,#00c5ff 15.5px,#00adff 32.5px,#008eff 73.5px,#008dff 92.5px,#0080ff 93.5px,#0082ff 95px)}
.z1g146{background:linear-gradient(#00c0ff 0,#00c4ff 3.5px,#00beff 15.5px,#00a9ff 29.5px,#0084ff 73.5px,#0081ff 92.5px,#0073ff 93.5px,#0074ff 95px)}
.z1g147{background:linear-gradient(#00bfff 0,#00b9ff 16.5px,#00a2ff 30.5px,#007dff 73.5px,#0079ff 92.5px,#006aff 93.5px,#006bff 95px)}
.z1g148{background:linear-gradient(#00c4ff 0,#0cf 3.5px,#00c7ff 15.5px,#00aeff 34.5px,#0091ff 73.5px,#0091ff 92.5px,#0084ff 93.5px,#0086ff 95px)}
.z1g149{background:linear-gradient(#00c8ff 0,#00d5ff 3.5px,#00d1ff 15.5px,#0bf 31.5px,#009eff 75.5px,#00a0ff 92.5px,#0094ff 93.5px,#0098ff 95px)}
.z1g150{background:linear-gradient(#00c7ff 0,#00d3ff 3.5px,#00cfff 15.5px,#00b5ff 36.5px,#009bff 74.5px,#009cff 92.5px,#0090ff 93.5px,#0094ff 95px)}
.z1g151{background:linear-gradient(#00c5ff 0,#00cdff 3.5px,#00c8ff 16.5px,#00afff 34.5px,#0092ff 73.5px,#0091ff 92.5px,#0085ff 93.5px,#0087ff 95px)}
.z1g152{background:linear-gradient(#00c2ff 0,#00c7ff 4.5px,#00c1ff 16.5px,#00abff 30.5px,#009cff 48.5px,#08f 74.5px,#0086ff 92.5px,#0078ff 93.5px,#007aff 95px)}
.z1g153{background:linear-gradient(#00c1ff 0,#00bdff 15.5px,#00a6ff 30.5px,#0081ff 74.5px,#007eff 92.5px,#006fff 93.5px,#0070ff 95px)}
.z1g154{background:linear-gradient(#00c2ff 0,#00c4ff 4.5px,#00beff 15.5px,#00a7ff 30.5px,#0082ff 74.5px,#007fff 92.5px,#0070ff 93.5px,#0071ff 95px)}
.z1g155{background:linear-gradient(#00c4ff 0,#00c8ff 4.5px,#00c3ff 15.5px,#00acff 30.5px,#009dff 48.5px,#0089ff 74.5px,#0087ff 92.5px,#0079ff 93.5px,#007bff 95px)}
.z1g156{background:linear-gradient(#00c5ff 0,#0cf 2.5px,#00c7ff 16.5px,#00b0ff 31.5px,#0090ff 73.5px,#008fff 92.5px,#0081ff 93.5px,#0084ff 95px)}
.z1g157{background:linear-gradient(#00c7ff 0,#00d0ff 3.5px,#00cbff 16.5px,#00b5ff 31.5px,#0096ff 74.5px,#0096ff 92.5px,#008aff 93.5px,#008cff 95px)}
.z1g158{background:linear-gradient(#00c3ff 0,#00c6ff 4.5px,#00c0ff 16.5px,#00abff 29.5px,#0086ff 73.5px,#0083ff 92.5px,#0075ff 93.5px,#0076ff 95px)}
.z1g159{background:linear-gradient(#00c7ff 0,#00d0ff 3.5px,#00caff 16.5px,#00b3ff 32.5px,#0094ff 74.5px,#0093ff 92.5px,#0086ff 93.5px,#0089ff 95px)}
.z1g160{background:linear-gradient(#00c9ff 0,#00d4ff 3.5px,#00cfff 15.5px,#00b7ff 33.5px,#009aff 74.5px,#009bff 92.5px,#008eff 93.5px,#0091ff 95px)}
.z1g161{background:linear-gradient(#00caff 0,#00d6ff 3.5px,#00d1ff 16.5px,#0bf 31.5px,#009dff 75.5px,#009eff 92.5px,#0092ff 93.5px,#0095ff 95px)}
.z1g162{background:linear-gradient(#00cbff 0,#00d7ff 3.5px,#00d2ff 16.5px,#00bdff 30.5px,#009eff 75.5px,#009fff 92.5px,#0093ff 93.5px,#0096ff 95px)}
.z1g163{background:linear-gradient(#00c9ff 0,#00d3ff 3.5px,#00ceff 15.5px,#00b5ff 34.5px,#0098ff 74.5px,#0098ff 92.5px,#008bff 93.5px,#008eff 95px)}
.z1g164{background:linear-gradient(#00c8ff 0,#00cfff 3.5px,#00c9ff 16.5px,#00b0ff 34.5px,#0092ff 73.5px,#0091ff 92.5px,#0083ff 93.5px,#0085ff 95px)}
.z1g165{background:linear-gradient(#00c7ff 0,#00cdff 3.5px,#00c7ff 16.5px,#00afff 32.5px,#008eff 74.5px,#008dff 92.5px,#007fff 93.5px,#0081ff 95px)}
.z1g166{background:linear-gradient(#00c5ff 0,#00c9ff 3.5px,#00c3ff 15.5px,#00acff 30.5px,#08f 73.5px,#0085ff 92.5px,#07f 93.5px,#0078ff 95px)}
.z1g167{background:linear-gradient(#00c4ff 0,#00beff 15.5px,#00a7ff 30.5px,#0081ff 73.5px,#007dff 92.5px,#006eff 93.5px,#006eff 95px)}
.z1g168{background:linear-gradient(#00c3ff 0,#00bcff 15.5px,#00a4ff 30.5px,#007dff 74.5px,#0078ff 92.5px,#0069ff 93.5px,#0069ff 95px)}
.z1g169{background:linear-gradient(#00c6ff 0,#00cbff 3.5px,#00c5ff 15.5px,#0af 35.5px,#008bff 74.5px,#0089ff 92.5px,#007bff 93.5px,#007cff 95px)}
.z1g170{background:linear-gradient(#00c7ff 0,#0cf 3.5px,#00c6ff 16.5px,#00b1ff 29.5px,#00a1ff 47.5px,#008cff 74.5px,#008aff 92.5px,#007cff 93.5px,#007dff 95px)}
.z1g171{background:linear-gradient(#00c7ff 0,#00caff 3.5px,#00c4ff 15.5px,#00adff 30.5px,#0089ff 73.5px,#0086ff 92.5px,#0078ff 93.5px,#0079ff 95px)}
.z1g172{background:linear-gradient(#00c6ff 0,#00c1ff 16.5px,#00acff 29.5px,#0085ff 74.5px,#0082ff 92.5px,#0073ff 93.5px,#0074ff 95px)}
.z1g173{background:linear-gradient(#00c5ff 0,#00bfff 16.5px,#00a8ff 30.5px,#0082ff 73.5px,#007eff 92.5px,#006fff 93.5px,#006fff 95px)}
.z1g174{background:linear-gradient(#00c9ff 0,#00d0ff 3.5px,#00cbff 15.5px,#00b1ff 34.5px,#0093ff 73.5px,#0092ff 92.5px,#0084ff 93.5px,#0086ff 95px)}
.z1g175{background:linear-gradient(#00cbff 0,#00d6ff 3.5px,#00d1ff 16.5px,#0bf 31.5px,#009cff 74.5px,#009dff 92.5px,#0090ff 93.5px,#0093ff 95px)}
.z1g176{background:linear-gradient(#00cdff 0,#00d9ff 3.5px,#00d5ff 15.5px,#00bdff 33.5px,#00a0ff 75.5px,#00a1ff 92.5px,#0095ff 93.5px,#0098ff 95px)}
.z1g177{background:linear-gradient(#0cf 0,#00d5ff 3.5px,#00d0ff 16.5px,#00b8ff 33.5px,#009aff 74.5px,#009aff 92.5px,#008dff 93.5px,#0090ff 95px)}
.z1g178{background:linear-gradient(#00caff 0,#00d1ff 3.5px,#0cf 15.5px,#00b3ff 33.5px,#0094ff 73.5px,#0092ff 92.5px,#0085ff 93.5px,#0087ff 95px)}
.z1g179{background:linear-gradient(#00c9ff 0,#00cfff 2.5px,#00caff 15.5px,#00aeff 36.5px,#0091ff 73.5px,#008fff 92.5px,#0081ff 93.5px,#0083ff 95px)}
.z1g180{background:linear-gradient(#00cbff 0,#00d0ff 2.5px,#00cbff 15.5px,#00b0ff 35.5px,#0092ff 73.5px,#0090ff 92.5px,#0082ff 93.5px,#0084ff 95px)}
.z1g181{background:linear-gradient(#00caff 0,#00ceff 4.5px,#00c8ff 16.5px,#00b2ff 30.5px,#008eff 74.5px,#008cff 92.5px,#007eff 93.5px,#007fff 95px)}
.z1g182{background:linear-gradient(#00c9ff 0,#0cf 4.5px,#00c6ff 16.5px,#00b1ff 29.5px,#008bff 73.5px,#08f 92.5px,#0079ff 93.5px,#007aff 95px)}
.z1g183{background:linear-gradient(#00c8ff 0,#00caff 4.5px,#00c4ff 15.5px,#00adff 30.5px,#0087ff 74.5px,#0084ff 92.5px,#0075ff 93.5px,#0076ff 95px)}
.z1g184{background:linear-gradient(#00cbff 0,#00d2ff 2.5px,#00cdff 16.5px,#00b5ff 32.5px,#0095ff 73.5px,#0093ff 92.5px,#0086ff 93.5px,#08f 95px)}
.z1g185{background:linear-gradient(#0cf 0,#00d4ff 3.5px,#00cfff 16.5px,#00b6ff 34.5px,#0098ff 74.5px,#0097ff 92.5px,#008aff 93.5px,#008cff 95px)}
.z1g186{background:linear-gradient(#00ceff 0,#00d8ff 3.5px,#00d4ff 15.5px,#00c0ff 29.5px,#00b7ff 39.5px,#009eff 75.5px,#009fff 92.5px,#0092ff 93.5px,#0095ff 95px)}
.z1g187{background:linear-gradient(#00cfff 0,#00dbff 2.5px,#00dcfe 3.5px,#00d8ff 16.5px,#00c2ff 31.5px,#00a5ff 73.5px,#00a6ff 92.5px,#009aff 93.5px,#009dff 95px)}
.z1g188{background:linear-gradient(#00d0ff 0,#00dcff 2.5px,#00ddfd 3.5px,#00d9ff 15.5px,#00c2ff 32.5px,#00a5ff 74.5px,#00a6ff 92.5px,#009aff 93.5px,#009eff 95px)}
.z1g189{background:linear-gradient(#00d1ff 0,#00defd 3.5px,#00daff 15.5px,#00c2ff 33.5px,#00a6ff 74.5px,#00a7ff 92.5px,#009bff 93.5px,#009eff 95px)}
.z1g190{background:linear-gradient(#00d2ff 0,#00dffc 3.5px,#00daff 16.5px,#00c2ff 34.5px,#00a7ff 73.5px,#00a8ff 92.5px,#009cff 93.5px,#009fff 95px)}
.z1g191{background:linear-gradient(#00d1ff 0,#00ddfe 3.5px,#00d8ff 16.5px,#00c2ff 31.5px,#00a4ff 73.5px,#00a4ff 92.5px,#0098ff 93.5px,#009bff 95px)}
.z1g192{background:linear-gradient(#00d0ff 0,#00d9ff 3.5px,#00d4ff 15.5px,#00bdff 31.5px,#009dff 74.5px,#009dff 92.5px,#0090ff 93.5px,#0093ff 95px)}
.z1g193{background:linear-gradient(#00cdff 0,#00d3ff 3.5px,#00cdff 16.5px,#00b7ff 30.5px,#0094ff 73.5px,#0092ff 92.5px,#0084ff 93.5px,#0085ff 95px)}
.z1g194{background:linear-gradient(#00cbff 0,#00cfff 3.5px,#00c9ff 15.5px,#00b2ff 30.5px,#008dff 73.5px,#008aff 92.5px,#007bff 93.5px,#007cff 95px)}
.z1g195{background:linear-gradient(#00d2ff 0,#00defd 3.5px,#00d9ff 16.5px,#00c2ff 32.5px,#00a4ff 74.5px,#00a5ff 92.5px,#09f 93.5px,#009cff 95px)}
.z1g196{background:linear-gradient(#00cfff 0,#00d6ff 3.5px,#00d0ff 16.5px,#00b8ff 32.5px,#0098ff 73.5px,#0096ff 92.5px,#0089ff 93.5px,#008bff 95px)}
.z1g197{background:linear-gradient(#00cbff 0,#00c7ff 16.5px,#00b0ff 30.5px,#008aff 74.5px,#0086ff 92.5px,#0078ff 93.5px,#0078ff 95px)}
.z1g198{background:linear-gradient(#00caff 0,#00c2ff 16.5px,#00abff 30.5px,#0083ff 74.5px,#007eff 92.5px,#006eff 93.5px,#006eff 95px)}
.z1g199{background:linear-gradient(#00ceff 0,#00d4ff 3.5px,#00ceff 15.5px,#00b9ff 29.5px,#00a9ff 47.5px,#0094ff 74.5px,#0092ff 92.5px,#0084ff 93.5px,#0086ff 95px)}
.z1g200{background:linear-gradient(#00c9ff 0,#00c1ff 14.5px,#00a8ff 30.5px,#007fff 74.5px,#007aff 92.5px,#006aff 93.5px,#0069ff 95px)}
.z1g201{background:linear-gradient(#00caff 0,#00c1ff 15.5px,#00a9ff 30.5px,#0080ff 74.5px,#007aff 92.5px,#006aff 93.5px,#006aff 95px)}
.z1g202{background:linear-gradient(#00cfff 0,#00d5ff 3.5px,#00cfff 15.5px,#00baff 29.5px,#00a9ff 48.5px,#0095ff 74.5px,#0093ff 92.5px,#0085ff 93.5px,#0087ff 95px)}
.z1g203{background:linear-gradient(#00cbff 0,#00c0ff 17.5px,#00abff 29.5px,#0081ff 73.5px,#007bff 92.5px,#006bff 93.5px,#006bff 95px)}
.z1g204{background:linear-gradient(#00d0ff 0,#00d5ff 2.5px,#00d0ff 15.5px,#00b9ff 30.5px,#00a9ff 49.5px,#0096ff 73.5px,#0093ff 92.5px,#0086ff 93.5px,#0087ff 95px)}
.z1g205{background:linear-gradient(#00cbff 0,#00c5ff 14.5px,#00acff 30.5px,#0084ff 74.5px,#007fff 92.5px,#0070ff 93.5px,#0070ff 95px)}
.z1g206{background:linear-gradient(#0cf 0,#00c6ff 16.5px,#00afff 30.5px,#08f 74.5px,#0083ff 92.5px,#0074ff 93.5px,#0075ff 95px)}
.z1g207{background:linear-gradient(#00d2ff 0,#00dbff 3.5px,#00d6ff 16.5px,#00bdff 34.5px,#009fff 74.5px,#009fff 92.5px,#0092ff 93.5px,#0094ff 95px)}
.z1g208{background:linear-gradient(#00d3ff 0,#00ddfd 3.5px,#00d8ff 16.5px,#00c1ff 32.5px,#00a3ff 73.5px,#00a2ff 92.5px,#0096ff 93.5px,#09f 95px)}
.z1g209{background:linear-gradient(#00d4ff 0,#00defc 3.5px,#00d9ff 16.5px,#00c2ff 32.5px,#00a4ff 73.5px,#00a3ff 92.5px,#0097ff 93.5px,#09f 95px)}
.z1g210{background:linear-gradient(#00d3ff 0,#00dcfe 3.5px,#00d7ff 16.5px,#00beff 34.5px,#00a0ff 74.5px,#00a0ff 92.5px,#0093ff 93.5px,#0095ff 95px)}
.z1g211{background:linear-gradient(#00d2ff 0,#00daff 3.5px,#00d5ff 16.5px,#00bdff 32.5px,#009dff 74.5px,#009cff 92.5px,#008fff 93.5px,#0091ff 95px)}
.z1g212{background:linear-gradient(#00d1ff 0,#00d6ff 2.5px,#00d1ff 15.5px,#00baff 30.5px,#0af 49.5px,#0097ff 73.5px,#0094ff 92.5px,#0087ff 93.5px,#08f 95px)}
.z1g213{background:linear-gradient(#00d0ff 0,#00d4ff 4.5px,#00ceff 16.5px,#00b9ff 29.5px,#00acff 43.5px,#0093ff 74.5px,#0090ff 92.5px,#0082ff 93.5px,#0084ff 95px)}
.z1g214{background:linear-gradient(#00d5ff 0,#00e0fb 3.5px,#00dcff 15.5px,#00c3ff 34.5px,#00a6ff 75.5px,#00a7ff 92.5px,#009bff 93.5px,#009dff 95px)}
.z1g215{background:linear-gradient(#00d5ff 0,#00e1fb 2.5px,#00e2f9 3.5px,#00defd 15.5px,#00c6ff 33.5px,#0af 73.5px,#0af 92.5px,#009eff 93.5px,#00a2ff 95px)}
.z1g216{background:linear-gradient(#00d7ff 0,#00e4f8 3.5px,#00dffc 16.5px,#00c8ff 32.5px,#00abff 73.5px,#00abff 92.5px,#009fff 93.5px,#00a2ff 95px)}
.z1g217{background:linear-gradient(#00d6ff 0,#00e2fa 3.5px,#00ddfe 15.5px,#00c4ff 34.5px,#00a7ff 75.5px,#00a8ff 92.5px,#009bff 93.5px,#009eff 95px)}
.z1g218{background:linear-gradient(#00d4ff 0,#00defd 3.5px,#00d8ff 16.5px,#00c0ff 33.5px,#00a1ff 74.5px,#00a1ff 92.5px,#0094ff 93.5px,#0096ff 95px)}
.z1g219{background:linear-gradient(#00d1ff 0,#00d6ff 3.5px,#00cfff 16.5px,#00b9ff 30.5px,#0094ff 74.5px,#0091ff 92.5px,#0083ff 93.5px,#0084ff 95px)}
.z1g220{background:linear-gradient(#00d0ff 0,#00d3ff 4.5px,#00cdff 16.5px,#00b6ff 30.5px,#0091ff 73.5px,#008dff 92.5px,#007fff 93.5px,#0080ff 95px)}
.z1g221{background:linear-gradient(#00d3ff 0,#00daff 3.5px,#00d4ff 16.5px,#00beff 30.5px,#009bff 73.5px,#09f 92.5px,#008cff 93.5px,#008dff 95px)}
.z1g222{background:linear-gradient(#00d3ff 0,#00dcff 3.5px,#00d6ff 16.5px,#00bfff 31.5px,#009eff 74.5px,#009dff 92.5px,#0090ff 93.5px,#0092ff 95px)}
.z1g223{background:linear-gradient(#00d3ff 0,#00d9ff 3.5px,#00d3ff 15.5px,#00beff 29.5px,#09f 73.5px,#0096ff 92.5px,#08f 93.5px,#008aff 95px)}
.z1g224{background:linear-gradient(#00d1ff 0,#0cf 16.5px,#00b5ff 30.5px,#008eff 74.5px,#008aff 92.5px,#007bff 93.5px,#007cff 95px)}
.z1g225{background:linear-gradient(#00d0ff 0,#00caff 15.5px,#00b2ff 30.5px,#008bff 74.5px,#0086ff 92.5px,#07f 93.5px,#07f 95px)}
.z1g226{background:linear-gradient(#00cfff 0,#00c7ff 16.5px,#00b1ff 29.5px,#0087ff 74.5px,#0082ff 92.5px,#0072ff 93.5px,#0072ff 95px)}
.z1g227{background:linear-gradient(#00d0ff 0,#00c9ff 15.5px,#00b2ff 29.5px,#08f 74.5px,#0083ff 92.5px,#0073ff 93.5px,#0073ff 95px)}
.z1g228{background:linear-gradient(#00d4ff 0,#00daff 3.5px,#00d4ff 16.5px,#00bfff 29.5px,#00aeff 48.5px,#009aff 73.5px,#0097ff 92.5px,#0089ff 93.5px,#008bff 95px)}
.z1g229{background:linear-gradient(#00d1ff 0,#00cbff 15.5px,#00b3ff 30.5px,#008cff 74.5px,#0087ff 92.5px,#0078ff 93.5px,#0078ff 95px)}
.z1g230{background:linear-gradient(#00d2ff 0,#00cdff 16.5px,#00b6ff 30.5px,#008fff 74.5px,#008bff 92.5px,#007cff 93.5px,#007dff 95px)}
.z1g231{background:linear-gradient(#00d3ff 0,#00d8ff 3.5px,#00d2ff 15.5px,#0bf 30.5px,#0096ff 74.5px,#0093ff 92.5px,#0085ff 93.5px,#0086ff 95px)}
.z1g232{background:linear-gradient(#00d3ff 0,#00d6ff 3.5px,#00d0ff 15.5px,#00baff 29.5px,#0093ff 74.5px,#008fff 92.5px,#0081ff 93.5px,#0082ff 95px)}
.z1g233{background:linear-gradient(#00d3ff 0,#00ceff 16.5px,#00b7ff 30.5px,#0090ff 74.5px,#008cff 92.5px,#007dff 93.5px,#007eff 95px)}
.z1g234{background:linear-gradient(#00d5ff 0,#00d9ff 4.5px,#00d3ff 16.5px,#00bcff 30.5px,#0097ff 74.5px,#0094ff 92.5px,#0086ff 93.5px,#0087ff 95px)}
.z1g235{background:linear-gradient(#00d6ff 0,#00dbff 4.5px,#00d5ff 16.5px,#00c0ff 29.5px,#009bff 73.5px,#0098ff 92.5px,#008aff 93.5px,#008cff 95px)}
.z1g236{background:linear-gradient(#00d4ff 0,#00d7ff 4.5px,#00d1ff 15.5px,#0bf 29.5px,#0094ff 74.5px,#0090ff 92.5px,#0082ff 93.5px,#0082ff 95px)}
.z1g237{background:linear-gradient(#00d5ff 0,#00d8ff 4.5px,#00d2ff 15.5px,#0bf 30.5px,#0095ff 74.5px,#0091ff 92.5px,#0083ff 93.5px,#0083ff 95px)}
.z1g238{background:linear-gradient(#00d6ff 0,#00daff 4.5px,#00d4ff 16.5px,#00bcff 31.5px,#0098ff 74.5px,#0095ff 92.5px,#0087ff 93.5px,#08f 95px)}
.z1g239{background:linear-gradient(#00d7ff 0,#00dcfe 4.5px,#00d6ff 16.5px,#00c0ff 30.5px,#009cff 73.5px,#09f 92.5px,#008bff 93.5px,#008dff 95px)}
.z1g240{background:linear-gradient(#00d8ff 0,#00defd 2.5px,#00d9ff 15.5px,#00c1ff 31.5px,#00b3ff 48.5px,#009fff 74.5px,#009dff 92.5px,#008fff 93.5px,#0091ff 95px)}
.z1g241{background:linear-gradient(#00d8ff 0,#00dffc 3.5px,#00d9ff 16.5px,#00c3ff 30.5px,#00a0ff 73.5px,#009eff 92.5px,#0090ff 93.5px,#0092ff 95px)}
.z1g242{background:linear-gradient(#00d8ff 0,#00ddfe 4.5px,#00d7ff 16.5px,#00c2ff 29.5px,#009cff 74.5px,#009aff 92.5px,#008cff 93.5px,#008dff 95px)}
.z1g243{background:linear-gradient(#00d7ff 0,#00dbff 4.5px,#00d5ff 15.5px,#00beff 30.5px,#09f 74.5px,#0096ff 92.5px,#08f 93.5px,#0089ff 95px)}
.z1g244{background:linear-gradient(#00d6ff 0,#00d9ff 4.5px,#00d3ff 15.5px,#00bdff 29.5px,#0096ff 73.5px,#0092ff 92.5px,#0083ff 93.5px,#0084ff 95px)}
.z1g245{background:linear-gradient(#00daff 0,#00e3f9 3.5px,#00defd 15.5px,#00c6ff 32.5px,#00a6ff 74.5px,#00a5ff 92.5px,#0098ff 93.5px,#009aff 95px)}
.z1g246{background:linear-gradient(#00daff 0,#00e3f9 3.5px,#00defd 15.5px,#00c6ff 32.5px,#00a6ff 74.5px,#00a5ff 92.5px,#0098ff 93.5px,#009aff 95px)}
.z1g247{background:linear-gradient(#00d9ff 0,#00e1fa 3.5px,#00dcff 15.5px,#00c1ff 35.5px,#00a3ff 73.5px,#00a1ff 92.5px,#0094ff 93.5px,#0096ff 95px)}
.z1g248{background:linear-gradient(#00d8ff 0,#00ddfe 4.5px,#00d7ff 16.5px,#00c2ff 29.5px,#009cff 74.5px,#009aff 92.5px,#008cff 93.5px,#008dff 95px)}
.z1g249{background:linear-gradient(#00d7ff 0,#00dbff 4.5px,#00d5ff 15.5px,#00beff 30.5px,#09f 74.5px,#0096ff 92.5px,#08f 93.5px,#0089ff 95px)}
.z1g250{background:linear-gradient(#00d8ff 0,#00dffc 3.5px,#00d9ff 16.5px,#00c3ff 30.5px,#00a0ff 73.5px,#009eff 92.5px,#0090ff 93.5px,#0092ff 95px)}
.z1g251{background:linear-gradient(#00dcff 0,#01e7f5 3.5px,#00e2fa 16.5px,#00dbff 21.5px,#00caff 33.5px,#00acff 74.5px,#00acff 92.5px,#00a0ff 93.5px,#00a3ff 95px)}
.z1g252{background:linear-gradient(#00dcff 0,#01e7f5 3.5px,#00e2fa 16.5px,#00dbff 21.5px,#00caff 33.5px,#00acff 74.5px,#00acff 92.5px,#00a0ff 93.5px,#00a3ff 95px)}
.z1g253{background:linear-gradient(#00dbff 0,#00e5f7 3.5px,#00e0fb 16.5px,#00dbff 19.5px,#00c6ff 35.5px,#00a9ff 74.5px,#00a9ff 92.5px,#009cff 93.5px,#009eff 95px)}
.z1g254{background:linear-gradient(#00d9ff 0,#00e1fa 3.5px,#00dcff 15.5px,#00c1ff 35.5px,#00a3ff 73.5px,#00a1ff 92.5px,#0094ff 93.5px,#0096ff 95px)}
.z1g255{background:linear-gradient(#00d7ff 0,#00dbff 4.5px,#00d5ff 15.5px,#00beff 30.5px,#09f 74.5px,#0096ff 92.5px,#08f 93.5px,#0089ff 95px)}
.z1g256{background:linear-gradient(#00d5ff 0,#00d0ff 16.5px,#00b9ff 30.5px,#0092ff 74.5px,#008eff 92.5px,#007fff 93.5px,#007fff 95px)}
.z1g257{background:linear-gradient(#00d6ff 0,#00d9ff 4.5px,#00d3ff 15.5px,#00bdff 29.5px,#0096ff 73.5px,#0092ff 92.5px,#0083ff 93.5px,#0084ff 95px)}
.z1g258{background:linear-gradient(#00d8ff 0,#00ddfe 4.5px,#00d7ff 16.5px,#00c2ff 29.5px,#009cff 74.5px,#009aff 92.5px,#008cff 93.5px,#008dff 95px)}
.z1g259{background:linear-gradient(#00d8ff 0,#00dffc 3.5px,#00d9ff 16.5px,#00c3ff 30.5px,#00a0ff 73.5px,#009eff 92.5px,#0090ff 93.5px,#0092ff 95px)}
.z1g260{background:linear-gradient(#00d8ff 0,#00dffc 3.5px,#00d9ff 16.5px,#00c3ff 30.5px,#00a0ff 73.5px,#009eff 92.5px,#0090ff 93.5px,#0092ff 95px)}
.z1g261{background:linear-gradient(#00d8ff 0,#00ddfe 4.5px,#00d7ff 16.5px,#00c2ff 29.5px,#009cff 74.5px,#009aff 92.5px,#008cff 93.5px,#008dff 95px)}
.z1g262{background:linear-gradient(#00d7ff 0,#00dbff 4.5px,#00d5ff 15.5px,#00beff 30.5px,#09f 74.5px,#0096ff 92.5px,#08f 93.5px,#0089ff 95px)}
.z1g263{background:linear-gradient(#00d6ff 0,#00d9ff 4.5px,#00d3ff 15.5px,#00bdff 29.5px,#0096ff 73.5px,#0092ff 92.5px,#0083ff 93.5px,#0084ff 95px)}
.z1g264{background:linear-gradient(#00d5ff 0,#00d0ff 16.5px,#00b9ff 30.5px,#0092ff 74.5px,#008eff 92.5px,#007fff 93.5px,#007fff 95px)}
.z1g265{background:linear-gradient(#00d4ff 0,#00cfff 14.5px,#00b6ff 30.5px,#008fff 73.5px,#008aff 92.5px,#007aff 93.5px,#007aff 95px)}
.z1g266{background:linear-gradient(#00d7ff 0,#00dbff 4.5px,#00d5ff 15.5px,#00beff 30.5px,#09f 74.5px,#0096ff 92.5px,#08f 93.5px,#0089ff 95px)}
.z1g267{background:linear-gradient(#00d8ff 0,#00ddfe 4.5px,#00d7ff 16.5px,#00c2ff 29.5px,#009cff 74.5px,#009aff 92.5px,#008cff 93.5px,#008dff 95px)}
.z1g268{background:linear-gradient(#00d8ff 0,#00ddfe 4.5px,#00d7ff 16.5px,#00c2ff 29.5px,#009cff 74.5px,#009aff 92.5px,#008cff 93.5px,#008dff 95px)}
.z1g269{background:linear-gradient(#00d8ff 0,#00dffc 3.5px,#00d9ff 16.5px,#00c3ff 30.5px,#00a0ff 73.5px,#009eff 92.5px,#0090ff 93.5px,#0092ff 95px)}
.z1g270{background:linear-gradient(#00d9ff 0,#00e1fa 3.5px,#00dcff 15.5px,#00c1ff 35.5px,#00a3ff 73.5px,#00a1ff 92.5px,#0094ff 93.5px,#0096ff 95px)}
.z1g271{background:linear-gradient(#00daff 0,#00e3f9 3.5px,#00defd 15.5px,#00c6ff 32.5px,#00a6ff 74.5px,#00a5ff 92.5px,#0098ff 93.5px,#009aff 95px)}
.z1g272{background:linear-gradient(#00daff 0,#00e3f9 3.5px,#00defd 15.5px,#00c6ff 32.5px,#00a6ff 74.5px,#00a5ff 92.5px,#0098ff 93.5px,#009aff 95px)}
.z1g273{background:linear-gradient(#00daff 0,#00e3f9 3.5px,#00defd 15.5px,#00c6ff 32.5px,#00a6ff 74.5px,#00a5ff 92.5px,#0098ff 93.5px,#009aff 95px)}
.z1g274{background:linear-gradient(#00d9ff 0,#00e1fa 3.5px,#00dcff 15.5px,#00c1ff 35.5px,#00a3ff 73.5px,#00a1ff 92.5px,#0094ff 93.5px,#0096ff 95px)}
.z1g275{background:linear-gradient(#00d8ff 0,#00ddfe 4.5px,#00d7ff 16.5px,#00c2ff 29.5px,#009cff 74.5px,#009aff 92.5px,#008cff 93.5px,#008dff 95px)}
.z1g276{background:linear-gradient(#00d7ff 0,#00dbff 4.5px,#00d5ff 15.5px,#00beff 30.5px,#09f 74.5px,#0096ff 92.5px,#08f 93.5px,#0089ff 95px)}
.z1g277{background:linear-gradient(#00d6ff 0,#00d9ff 4.5px,#00d3ff 15.5px,#00bdff 29.5px,#0096ff 73.5px,#0092ff 92.5px,#0083ff 93.5px,#0084ff 95px)}
.z1g278{background:linear-gradient(#00d5ff 0,#00d0ff 16.5px,#00b9ff 30.5px,#0092ff 74.5px,#008eff 92.5px,#007fff 93.5px,#007fff 95px)}
.z1g279{background:linear-gradient(#00d4ff 0,#00cfff 14.5px,#00b6ff 30.5px,#008fff 73.5px,#008aff 92.5px,#007aff 93.5px,#007aff 95px)}
.z1g280{background:linear-gradient(#00d7ff 0,#00dbff 4.5px,#00d5ff 15.5px,#00beff 30.5px,#09f 74.5px,#0096ff 92.5px,#08f 93.5px,#0089ff 95px)}
.z1g281{background:linear-gradient(#00d4ff 0,#00cfff 14.5px,#00b6ff 30.5px,#008fff 73.5px,#008aff 92.5px,#007aff 93.5px,#007aff 95px)}
.z1g282{background:linear-gradient(#00d6ff 0,#00d9ff 4.5px,#00d3ff 15.5px,#00bdff 29.5px,#0096ff 73.5px,#0092ff 92.5px,#0083ff 93.5px,#0084ff 95px)}
.z1g283{background:linear-gradient(#00d8ff 0,#00ddfe 4.5px,#00d7ff 16.5px,#00c2ff 29.5px,#009cff 74.5px,#009aff 92.5px,#008cff 93.5px,#008dff 95px)}
.z1g284{background:linear-gradient(#00d9ff 0,#00e1fa 3.5px,#00dcff 15.5px,#00c1ff 35.5px,#00a3ff 73.5px,#00a1ff 92.5px,#0094ff 93.5px,#0096ff 95px)}
.z1g285{background:linear-gradient(#00daff 0,#00e3f9 3.5px,#00defd 15.5px,#00c6ff 32.5px,#00a6ff 74.5px,#00a5ff 92.5px,#0098ff 93.5px,#009aff 95px)}
.z1g286{background:linear-gradient(#00d8ff 0,#00dffc 3.5px,#00d9ff 16.5px,#00c3ff 30.5px,#00a0ff 73.5px,#009eff 92.5px,#0090ff 93.5px,#0092ff 95px)}
.z1g287{background:linear-gradient(#00d7ff 0,#00dbff 4.5px,#00d5ff 15.5px,#00beff 30.5px,#09f 74.5px,#0096ff 92.5px,#08f 93.5px,#0089ff 95px)}
.z1g288{background:linear-gradient(#00d8ff 0,#00dffc 3.5px,#00d9ff 16.5px,#00c3ff 30.5px,#00a0ff 73.5px,#009eff 92.5px,#0090ff 93.5px,#0092ff 95px)}
.z1g289{background:linear-gradient(#00d9ff 0,#00e1fa 3.5px,#00dcff 15.5px,#00c1ff 35.5px,#00a3ff 73.5px,#00a1ff 92.5px,#0094ff 93.5px,#0096ff 95px)}
.z1g290{background:linear-gradient(#00d9ff 0,#00e1fa 3.5px,#00dcff 15.5px,#00c1ff 35.5px,#00a3ff 73.5px,#00a1ff 92.5px,#0094ff 93.5px,#0096ff 95px)}
.z1g291{background:linear-gradient(#00d8ff 0,#00ddfe 4.5px,#00d7ff 16.5px,#00c2ff 29.5px,#009cff 74.5px,#009aff 92.5px,#008cff 93.5px,#008dff 95px)}
.z1g292{background:linear-gradient(#00d6ff 0,#00d9ff 4.5px,#00d3ff 15.5px,#00bdff 29.5px,#0096ff 73.5px,#0092ff 92.5px,#0083ff 93.5px,#0084ff 95px)}
.z1g293{background:linear-gradient(#00d4ff 0,#00cfff 14.5px,#00b6ff 30.5px,#008fff 73.5px,#008aff 92.5px,#007aff 93.5px,#007aff 95px)}
.z1g294{background:linear-gradient(#00d4ff 0,#00cfff 14.5px,#00b6ff 30.5px,#008fff 73.5px,#008aff 92.5px,#007aff 93.5px,#007aff 95px)}
.z1g295{background:linear-gradient(#00d6ff 0,#00d9ff 4.5px,#00d3ff 15.5px,#00bdff 29.5px,#0096ff 73.5px,#0092ff 92.5px,#0083ff 93.5px,#0084ff 95px)}
.z1g296{background:linear-gradient(#00d8ff 0,#00ddfe 4.5px,#00d7ff 16.5px,#00c2ff 29.5px,#009cff 74.5px,#009aff 92.5px,#008cff 93.5px,#008dff 95px)}
.z1g297{background:linear-gradient(#00d8ff 0,#00dffc 3.5px,#00d9ff 16.5px,#00c3ff 30.5px,#00a0ff 73.5px,#009eff 92.5px,#0090ff 93.5px,#0092ff 95px)}
.z1g298{background:linear-gradient(#00d9ff 0,#00e1fa 3.5px,#00dcff 15.5px,#00c1ff 35.5px,#00a3ff 73.5px,#00a1ff 92.5px,#0094ff 93.5px,#0096ff 95px)}
.z1g299{background:linear-gradient(#00d8ff 0,#00dffc 3.5px,#00d9ff 16.5px,#00c3ff 30.5px,#00a0ff 73.5px,#009eff 92.5px,#0090ff 93.5px,#0092ff 95px)}
.z1g300{background:linear-gradient(#00d8ff 0,#00ddfe 4.5px,#00d7ff 16.5px,#00c2ff 29.5px,#009cff 74.5px,#009aff 92.5px,#008cff 93.5px,#008dff 95px)}
.z1g301{background:linear-gradient(#00d7ff 0,#00dbff 4.5px,#00d5ff 15.5px,#00beff 30.5px,#09f 74.5px,#0096ff 92.5px,#08f 93.5px,#0089ff 95px)}
.z1g302{background:linear-gradient(#00d8ff 0,#00dffc 3.5px,#00d9ff 16.5px,#00c3ff 30.5px,#00a0ff 73.5px,#009eff 92.5px,#0090ff 93.5px,#0092ff 95px)}
.z2{top:313px;height:401px}
.z2g0{background:linear-gradient(#005fff 0,#005fff 4.5px,#0051ff 15.5px,#0018ff 51.5px,#001dff 60.5px,#0041ff 79.5px,#004fff 100.5px,#005eff 140.5px,#0073ff 173.5px,#0078ff 215.5px,#0068ff 225.5px,#0056ff 246.5px,#002eff 275.5px,#002dff 292.5px,#0021ff 321.5px,#0009ff 327.5px,#00f 331.5px,#00f 360.5px,#0000fa 365.5px,#00f 401px)}
.z2g1{background:linear-gradient(#005cff 0,#0057ff 8.5px,#0039ff 29.5px,#0019ff 47.5px,#0015ff 52.5px,#0019ff 60.5px,#003dff 79.5px,#0047ff 94.5px,#06f 175.5px,#006bff 215.5px,#005cff 225.5px,#004bff 247.5px,#0029ff 275.5px,#0029ff 292.5px,#001fff 321.5px,#0006ff 327.5px,#00f 330.5px,#00f 359.5px,#0000f9 365.5px,#00f 401px)}
.z2g2{background:linear-gradient(#0051ff 0,#0031ff 24.5px,#0005ff 51.5px,#000aff 60.5px,#002cff 78.5px,#003cff 102.5px,#0047ff 140.5px,#0057ff 175.5px,#005cff 215.5px,#004eff 224.5px,#0036ff 252.5px,#001aff 275.5px,#001aff 291.5px,#0010ff 321.5px,#00f 326.5px,#00f 354.5px,#0000f4 365.5px,#0000fa 401px)}
.z2g3{background:linear-gradient(#0061ff 0,#0061ff 6.5px,#001cff 51.5px,#02f 61.5px,#0043ff 78.5px,#005cff 113.5px,#06f 142.5px,#007cff 165.5px,#0080ff 174.5px,#0084ff 215.5px,#0074ff 225.5px,#0062ff 244.5px,#0032ff 276.5px,#0031ff 292.5px,#0024ff 321.5px,#000bff 327.5px,#00f 332.5px,#00f 360.5px,#0000fa 365.5px,#00f 401px)}
.z2g4{background:linear-gradient(#0046ff 0,#00f 44.5px,#00f 63.5px,#0020ff 81.5px,#03f 115.5px,#0038ff 141.5px,#0048ff 176.5px,#004cff 200.5px,#004cff 215.5px,#003fff 224.5px,#0029ff 250.5px,#000aff 276.5px,#000aff 293.5px,#00f 326.5px,#0000f5 335.5px,#0000fa 340.5px,#0000fa 354.5px,#0000ef 365.5px,#0000f4 401px)}
.z2g5{background:linear-gradient(#0051ff 0,#0031ff 24.5px,#0005ff 51.5px,#000aff 60.5px,#002cff 78.5px,#0037ff 93.5px,#0042ff 114.5px,#0049ff 145.5px,#0069ff 216.5px,#005cff 226.5px,#004cff 250.5px,#0028ff 276.5px,#0028ff 293.5px,#001aff 321.5px,#0003ff 327.5px,#00f 329.5px,#00f 356.5px,#0000f5 365.5px,#0000fa 401px)}
.z2g6{background:linear-gradient(#005fff 0,#005fff 4.5px,#0051ff 15.5px,#0018ff 51.5px,#001dff 60.5px,#0041ff 79.5px,#004cff 95.5px,#0058ff 116.5px,#0063ff 150.5px,#07f 178.5px,#0085ff 215.5px,#0076ff 227.5px,#0069ff 246.5px,#003cff 275.5px,#003bff 293.5px,#002bff 321.5px,#01f 327.5px,#00f 334.5px,#00f 361.5px,#0000fb 365.5px,#00f 401px)}
.z2g7{background:linear-gradient(#0064ff 0,#06f 5.5px,#0042ff 30.5px,#0021ff 49.5px,#0020ff 52.5px,#0024ff 60.5px,#004bff 82.5px,#0062ff 114.5px,#0072ff 149.5px,#08f 165.5px,#008cff 171.5px,#009bff 215.5px,#008eff 224.5px,#007dff 244.5px,#0045ff 275.5px,#0043ff 292.5px,#0031ff 321.5px,#0015ff 327.5px,#00f 335.5px,#00f 361.5px,#0000fb 365.5px,#00f 401px)}
.z2g8{background:linear-gradient(#0069ff 0,#006dff 4.5px,#006aff 7.5px,#0026ff 51.5px,#002bff 60.5px,#0051ff 80.5px,#006dff 115.5px,#0081ff 150.5px,#009fff 166.5px,#00afff 215.5px,#00a0ff 225.5px,#008cff 245.5px,#004eff 275.5px,#0049ff 294.5px,#0036ff 321.5px,#0019ff 327.5px,#0001ff 336.5px,#00f 401px)}
.z2g9{background:linear-gradient(#006cff 0,#0070ff 5.5px,#004cff 30.5px,#002bff 49.5px,#002aff 52.5px,#0030ff 61.5px,#0053ff 79.5px,#0058ff 84.5px,#0073ff 116.5px,#08f 150.5px,#0af 167.5px,#00b9ff 215.5px,#00a9ff 225.5px,#0097ff 243.5px,#0052ff 275.5px,#004eff 292.5px,#0038ff 321.5px,#0018ff 328.5px,#0004ff 335.5px,#00f 340.5px,#00f 401px)}
.z2g10{background:linear-gradient(#006cff 0,#0070ff 5.5px,#004cff 30.5px,#002bff 49.5px,#002aff 52.5px,#0030ff 61.5px,#0053ff 79.5px,#0058ff 84.5px,#0073ff 116.5px,#08f 150.5px,#00abff 168.5px,#00c2ff 215.5px,#00b4ff 225.5px,#00a4ff 244.5px,#0078ff 265.5px,#005eff 275.5px,#005bff 291.5px,#004eff 310.5px,#0041ff 321.5px,#001fff 328.5px,#0007ff 336.5px,#00f 345.5px,#00f 401px)}
.z2g11{background:linear-gradient(#0069ff 0,#006dff 4.5px,#006aff 7.5px,#0026ff 51.5px,#002bff 60.5px,#0051ff 80.5px,#006dff 115.5px,#0081ff 150.5px,#00a0ff 167.5px,#00b9ff 215.5px,#009bff 245.5px,#005bff 275.5px,#0057ff 292.5px,#003fff 321.5px,#001dff 328.5px,#0006ff 336.5px,#00f 344.5px,#00f 401px)}
.z2g12{background:linear-gradient(#0067ff 0,#0068ff 6.5px,#0023ff 51.5px,#0029ff 61.5px,#004fff 82.5px,#0068ff 115.5px,#007aff 150.5px,#0093ff 165.5px,#009cff 176.5px,#00b0ff 215.5px,#00a1ff 227.5px,#0095ff 244.5px,#0057ff 275.5px,#0053ff 293.5px,#003cff 321.5px,#001bff 328.5px,#0006ff 335.5px,#0003ff 338.5px,#00f 401px)}
.z2g13{background:linear-gradient(#0061ff 0,#0061ff 6.5px,#001cff 51.5px,#02f 61.5px,#0037ff 71.5px,#0048ff 83.5px,#005cff 113.5px,#0069ff 147.5px,#0085ff 176.5px,#009cff 215.5px,#008fff 226.5px,#0084ff 245.5px,#0067ff 263.5px,#004eff 275.5px,#004dff 291.5px,#0037ff 321.5px,#0017ff 328.5px,#0001ff 337.5px,#00f 401px)}
.z2g14{background:linear-gradient(#005fff 0,#005fff 4.5px,#0051ff 15.5px,#0018ff 51.5px,#001dff 60.5px,#0042ff 80.5px,#0058ff 116.5px,#0063ff 150.5px,#07f 174.5px,#0091ff 215.5px,#0085ff 226.5px,#007cff 245.5px,#0049ff 276.5px,#0049ff 292.5px,#0035ff 321.5px,#0015ff 328.5px,#00f 337.5px,#00f 401px)}
.z2g15{background:linear-gradient(#0061ff 0,#0061ff 6.5px,#001cff 51.5px,#02f 61.5px,#0043ff 78.5px,#004dff 90.5px,#005eff 117.5px,#0069ff 147.5px,#0083ff 176.5px,#0090ff 215.5px,#0081ff 226.5px,#0073ff 245.5px,#0040ff 276.5px,#003fff 292.5px,#002eff 321.5px,#0013ff 327.5px,#00f 335.5px,#00f 361.5px,#0000fb 365.5px,#00f 401px)}
.z2g16{background:linear-gradient(#006eff 0,#0074ff 4.5px,#0072ff 6.5px,#002dff 51.5px,#0032ff 60.5px,#005aff 82.5px,#0078ff 116.5px,#008fff 150.5px,#00b4ff 167.5px,#00c2ff 215.5px,#00b0ff 226.5px,#009dff 244.5px,#0056ff 275.5px,#0052ff 291.5px,#003bff 321.5px,#001aff 328.5px,#0005ff 335.5px,#00f 342.5px,#00f 401px)}
.z2g17{background:linear-gradient(#0071ff 0,#07f 4.5px,#0074ff 7.5px,#0030ff 51.5px,#0035ff 60.5px,#005aff 79.5px,#007cff 115.5px,#0096ff 150.5px,#0bf 165.5px,#00beff 168.5px,#00caff 201.5px,#00caff 215.5px,#00b7ff 227.5px,#00a6ff 243.5px,#005aff 275.5px,#05f 292.5px,#003dff 321.5px,#001cff 328.5px,#0005ff 336.5px,#00f 343.5px,#00f 401px)}
.z2g18{background:linear-gradient(#005cff 0,#0057ff 8.5px,#0039ff 29.5px,#0019ff 47.5px,#0015ff 52.5px,#0019ff 60.5px,#003dff 79.5px,#0047ff 94.5px,#0052ff 116.5px,#0057ff 142.5px,#0079ff 215.5px,#006cff 225.5px,#005fff 247.5px,#0037ff 276.5px,#0037ff 293.5px,#0029ff 321.5px,#000fff 327.5px,#00f 333.5px,#00f 360.5px,#0000fa 366.5px,#00f 401px)}
.z2g19{background:linear-gradient(#0051ff 0,#0031ff 24.5px,#0005ff 51.5px,#000aff 60.5px,#0027ff 75.5px,#0030ff 82.5px,#0042ff 114.5px,#0047ff 140.5px,#0052ff 165.5px,#0076ff 216.5px,#006bff 226.5px,#0063ff 246.5px,#0049ff 265.5px,#0036ff 275.5px,#0036ff 292.5px,#0024ff 321.5px,#000bff 327.5px,#00f 332.5px,#00f 357.5px,#0000f6 365.5px,#0000fb 401px)}
.z2g20{background:linear-gradient(#005cff 0,#0057ff 8.5px,#0039ff 29.5px,#0019ff 47.5px,#0015ff 52.5px,#0019ff 60.5px,#003eff 80.5px,#0052ff 116.5px,#0056ff 139.5px,#0062ff 166.5px,#0085ff 216.5px,#007bff 225.5px,#0070ff 248.5px,#0045ff 276.5px,#0045ff 293.5px,#0032ff 321.5px,#0013ff 328.5px,#00f 336.5px,#00f 362.5px,#0000fb 366.5px,#00f 401px)}
.z2g21{background:linear-gradient(#0073ff 0,#007aff 4.5px,#07f 7.5px,#0035ff 49.5px,#0034ff 52.5px,#003aff 61.5px,#005eff 79.5px,#009cff 150.5px,#00c6ff 166.5px,#00d9ff 202.5px,#00dbff 215.5px,#0cf 225.5px,#00baff 243.5px,#006aff 275.5px,#0064ff 292.5px,#0058ff 308.5px,#0048ff 321.5px,#0029ff 327.5px,#000bff 336.5px,#00f 348.5px,#00f 401px)}
.z2g22{background:linear-gradient(#0073ff 0,#007aff 4.5px,#07f 7.5px,#0035ff 49.5px,#0037ff 58.5px,#005eff 79.5px,#009cff 150.5px,#00c6ff 166.5px,#00dcff 198.5px,#00e4f8 215.5px,#00dbff 222.5px,#00c7ff 243.5px,#0090ff 266.5px,#0075ff 275.5px,#006dff 295.5px,#005eff 312.5px,#0051ff 321.5px,#0030ff 327.5px,#000eff 337.5px,#00f 350.5px,#00f 401px)}
.z2g23{background:linear-gradient(#006eff 0,#0074ff 4.5px,#0072ff 6.5px,#002dff 51.5px,#0032ff 60.5px,#005aff 82.5px,#0078ff 116.5px,#008fff 150.5px,#00b2ff 165.5px,#00b5ff 168.5px,#00cbff 215.5px,#00beff 224.5px,#00abff 244.5px,#007dff 265.5px,#0062ff 275.5px,#005dff 293.5px,#0051ff 310.5px,#0045ff 320.5px,#0040ff 322.5px,#0021ff 328.5px,#0007ff 337.5px,#00f 346.5px,#00f 401px)}
.z2g24{background:linear-gradient(#0071ff 0,#07f 4.5px,#0074ff 7.5px,#0030ff 51.5px,#0035ff 60.5px,#005aff 79.5px,#007cff 115.5px,#0096ff 150.5px,#0bf 165.5px,#00bfff 169.5px,#00d0ff 201.5px,#00d3ff 215.5px,#00c3ff 226.5px,#00b2ff 244.5px,#0084ff 264.5px,#06f 275.5px,#0061ff 292.5px,#0046ff 321.5px,#0027ff 327.5px,#000aff 336.5px,#00f 347.5px,#00f 401px)}
.z2g25{background:linear-gradient(#0064ff 0,#06f 5.5px,#0042ff 30.5px,#0021ff 49.5px,#0020ff 52.5px,#0024ff 60.5px,#004bff 82.5px,#0062ff 114.5px,#0072ff 149.5px,#008dff 171.5px,#00a6ff 215.5px,#0098ff 227.5px,#008cff 245.5px,#0052ff 275.5px,#004fff 294.5px,#003aff 321.5px,#0019ff 328.5px,#0005ff 335.5px,#0001ff 339.5px,#00f 401px)}
.z2g26{background:linear-gradient(#0046ff 0,#00f 44.5px,#00f 63.5px,#001eff 79.5px,#0029ff 95.5px,#0034ff 118.5px,#0038ff 141.5px,#005aff 214.5px,#004cff 227.5px,#003eff 249.5px,#0019ff 275.5px,#0019ff 292.5px,#0013ff 306.5px,#000bff 321.5px,#00f 325.5px,#0000fb 335.5px,#00f 340.5px,#0000fd 351.5px,#0000f0 365.5px,#0000f5 401px)}
.z2g27{background:linear-gradient(#0067ff 0,#0068ff 6.5px,#0023ff 51.5px,#0029ff 61.5px,#004fff 82.5px,#0068ff 115.5px,#007aff 150.5px,#0094ff 166.5px,#00a5ff 215.5px,#0096ff 225.5px,#0084ff 245.5px,#004aff 275.5px,#0047ff 291.5px,#03f 321.5px,#0017ff 327.5px,#00f 336.5px,#00f 362.5px,#0000fb 366.5px,#00f 401px)}
.z2g28{background:linear-gradient(#0076ff 0,#007dff 5.5px,#0059ff 30.5px,#0038ff 49.5px,#0038ff 54.5px,#003dff 61.5px,#0061ff 79.5px,#0087ff 117.5px,#00a2ff 150.5px,#00cdff 165.5px,#00dcff 190.5px,#00e3f9 215.5px,#00dbff 221.5px,#00d2ff 226.5px,#00c1ff 243.5px,#008bff 265.5px,#006eff 275.5px,#0068ff 291.5px,#005bff 308.5px,#004cff 320.5px,#0046ff 322.5px,#002bff 327.5px,#000cff 336.5px,#00f 349.5px,#00f 401px)}
.z2g29{background:linear-gradient(#0076ff 0,#007dff 5.5px,#0059ff 30.5px,#0038ff 49.5px,#0038ff 54.5px,#003dff 61.5px,#0061ff 79.5px,#0087ff 117.5px,#00a2ff 150.5px,#00cdff 165.5px,#00dcff 184.5px,#04ebf2 215.5px,#00dbff 227.5px,#00cdff 243.5px,#0097ff 265.5px,#07f 276.5px,#0070ff 295.5px,#0062ff 311.5px,#0053ff 321.5px,#0032ff 327.5px,#000fff 337.5px,#00f 351.5px,#00f 401px)}
.z2g30{background:linear-gradient(#006cff 0,#0070ff 5.5px,#004cff 30.5px,#002bff 49.5px,#002aff 52.5px,#0030ff 61.5px,#0053ff 79.5px,#0058ff 84.5px,#0073ff 116.5px,#08f 150.5px,#00a8ff 165.5px,#00b2ff 175.5px,#00cbff 216.5px,#00beff 226.5px,#00b2ff 244.5px,#008cff 262.5px,#006aff 275.5px,#0064ff 295.5px,#004aff 321.5px,#0026ff 328.5px,#000cff 336.5px,#00f 349.5px,#00f 401px)}
.z2g31{background:linear-gradient(#0069ff 0,#006dff 4.5px,#006aff 7.5px,#0026ff 51.5px,#002bff 60.5px,#0050ff 79.5px,#006dff 115.5px,#0081ff 150.5px,#009eff 165.5px,#00a5ff 171.5px,#0cf 216.5px,#00c1ff 226.5px,#00b5ff 246.5px,#0094ff 262.5px,#0072ff 275.5px,#006dff 294.5px,#005fff 311.5px,#0050ff 321.5px,#002bff 328.5px,#000fff 336.5px,#000bff 339.5px,#00f 350.5px,#00f 401px)}
.z2g32{background:linear-gradient(#006eff 0,#0074ff 4.5px,#0072ff 6.5px,#0051ff 29.5px,#002dff 50.5px,#0031ff 59.5px,#0057ff 79.5px,#0078ff 116.5px,#008cff 147.5px,#0095ff 153.5px,#00b2ff 165.5px,#00d4ff 202.5px,#00dcff 216.5px,#00d0ff 226.5px,#00c5ff 244.5px,#0096ff 265.5px,#0079ff 275.5px,#0072ff 295.5px,#0064ff 311.5px,#0056ff 320.5px,#0050ff 322.5px,#0023ff 331.5px,#0014ff 335.5px,#000dff 339.5px,#00f 352.5px,#00f 401px)}
.z2g33{background:linear-gradient(#0078ff 0,#0080ff 5.5px,#005cff 30.5px,#003bff 49.5px,#003eff 59.5px,#06f 80.5px,#008bff 116.5px,#00a8ff 150.5px,#00d7ff 166.5px,#00e5f7 183.5px,#10fae6 215.5px,#02e9f4 230.5px,#00defd 243.5px,#00acff 263.5px,#0086ff 275.5px,#0080ff 292.5px,#006eff 311.5px,#005fff 320.5px,#0053ff 323.5px,#0036ff 328.5px,#0014ff 337.5px,#00f 354.5px,#00f 401px)}
.z2g34{background:linear-gradient(#007dff 0,#0086ff 5.5px,#0064ff 29.5px,#0040ff 50.5px,#0043ff 57.5px,#0045ff 60.5px,#006bff 79.5px,#00b4ff 150.5px,#00dbff 162.5px,#01e7f6 166.5px,#14ffe2 198.5px,#19ffde 206.5px,#1bffdc 216.5px,#14ffe3 222.5px,#00e5f8 245.5px,#00d9ff 249.5px,#00b4ff 263.5px,#008bff 276.5px,#0086ff 291.5px,#007eff 300.5px,#0073ff 311.5px,#0063ff 320.5px,#0057ff 323.5px,#0039ff 328.5px,#001cff 335.5px,#000fff 342.5px,#00f 355.5px,#00f 401px)}
.z2g35{background:linear-gradient(#007fff 0,#0089ff 5.5px,#0067ff 29.5px,#0043ff 50.5px,#0046ff 57.5px,#0048ff 60.5px,#006eff 79.5px,#0096ff 114.5px,#00b9ff 150.5px,#00dbff 160.5px,#00e5f7 163.5px,#07eef0 166.5px,#14ffe3 187.5px,#20ffd7 212.5px,#20ffd7 216.5px,#15ffe2 225.5px,#03eaf3 245.5px,#00dbff 250.5px,#00b8ff 263.5px,#008eff 276.5px,#0089ff 291.5px,#007aff 307.5px,#0063ff 321.5px,#0040ff 327.5px,#001dff 335.5px,#000aff 346.5px,#00f 355.5px,#00f 401px)}
.z2g36{background:linear-gradient(#007bff 0,#0083ff 5.5px,#0061ff 29.5px,#003dff 50.5px,#0040ff 57.5px,#0042ff 60.5px,#0069ff 80.5px,#00aeff 150.5px,#00dffc 166.5px,#00e6f7 173.5px,#13fde4 205.5px,#14ffe2 217.5px,#0bf3ec 225.5px,#00e2fa 244.5px,#00daff 247.5px,#00b0ff 263.5px,#0089ff 275.5px,#0080ff 295.5px,#0072ff 310.5px,#0061ff 320.5px,#05f 323.5px,#0038ff 328.5px,#001aff 335.5px,#000eff 342.5px,#00f 354.5px,#00f 401px)}
.z2g37{background:linear-gradient(#0073ff 0,#007aff 4.5px,#07f 7.5px,#0035ff 49.5px,#0037ff 58.5px,#005eff 79.5px,#009cff 150.5px,#00c6ff 166.5px,#00dbff 191.5px,#04ebf2 216.5px,#00dcff 230.5px,#00d1ff 244.5px,#00a1ff 264.5px,#007eff 276.5px,#007bff 291.5px,#0069ff 311.5px,#0059ff 321.5px,#0037ff 327.5px,#0017ff 335.5px,#000eff 340.5px,#00f 353.5px,#00f 401px)}
.z2g38{background:linear-gradient(#0071ff 0,#07f 4.5px,#0074ff 7.5px,#0030ff 51.5px,#0035ff 60.5px,#005aff 79.5px,#007cff 115.5px,#0096ff 150.5px,#00bdff 166.5px,#00dbff 201.5px,#00e4f8 215.5px,#00dbff 223.5px,#00cbff 244.5px,#009aff 265.5px,#007cff 275.5px,#0074ff 296.5px,#0068ff 310.5px,#0057ff 321.5px,#0035ff 327.5px,#0015ff 335.5px,#000dff 340.5px,#00f 353.5px,#00f 401px)}
.z2g39{background:linear-gradient(#0076ff 0,#007dff 5.5px,#0059ff 30.5px,#0038ff 49.5px,#0038ff 54.5px,#003dff 61.5px,#0061ff 79.5px,#0087ff 117.5px,#00a2ff 150.5px,#00cdff 165.5px,#00dcff 181.5px,#00e6f7 194.5px,#0bf3ec 215.5px,#00e5f7 226.5px,#00d7ff 244.5px,#00a5ff 264.5px,#0083ff 275.5px,#07f 299.5px,#006dff 310.5px,#005bff 321.5px,#0034ff 328.5px,#0018ff 335.5px,#000bff 343.5px,#00f 354.5px,#00f 401px)}
.z2g40{background:linear-gradient(#006cff 0,#0070ff 5.5px,#004cff 30.5px,#002bff 49.5px,#002aff 52.5px,#0030ff 61.5px,#0053ff 79.5px,#0073ff 116.5px,#08f 150.5px,#00adff 169.5px,#00ceff 205.5px,#00d4ff 216.5px,#00c8ff 227.5px,#00bfff 244.5px,#0094ff 264.5px,#0075ff 275.5px,#0070ff 294.5px,#0060ff 312.5px,#0054ff 320.5px,#004eff 322.5px,#0029ff 329.5px,#0013ff 335.5px,#000cff 339.5px,#00f 351.5px,#00f 401px)}
.z2g41{background:linear-gradient(#0067ff 0,#0068ff 6.5px,#0023ff 51.5px,#0029ff 61.5px,#004fff 82.5px,#0068ff 115.5px,#007aff 150.5px,#0098ff 169.5px,#00c3ff 216.5px,#00b9ff 226.5px,#00b3ff 243.5px,#008bff 264.5px,#006eff 275.5px,#006aff 294.5px,#005cff 311.5px,#004eff 321.5px,#02f 330.5px,#0010ff 335.5px,#000bff 338.5px,#00f 350.5px,#00f 401px)}
.z2g42{background:linear-gradient(#007bff 0,#0083ff 5.5px,#0061ff 29.5px,#003dff 50.5px,#0040ff 57.5px,#0042ff 60.5px,#0069ff 80.5px,#00aeff 150.5px,#00dffc 166.5px,#0af2ed 195.5px,#10f9e7 215.5px,#00e5f7 230.5px,#00d7ff 244.5px,#00a2ff 264.5px,#007fff 275.5px,#0079ff 291.5px,#0067ff 311.5px,#0059ff 320.5px,#0053ff 322.5px,#0031ff 328.5px,#01f 337.5px,#00f 353.5px,#00f 401px)}
.z2g43{background:linear-gradient(#007dff 0,#0086ff 5.5px,#0064ff 29.5px,#0040ff 50.5px,#0043ff 57.5px,#0045ff 60.5px,#006bff 79.5px,#00b4ff 150.5px,#00dbff 162.5px,#01e7f6 166.5px,#13fee3 204.5px,#15ffe2 216.5px,#00e6f7 236.5px,#00daff 245.5px,#0081ff 276.5px,#007cff 291.5px,#006bff 310.5px,#005bff 320.5px,#05f 322.5px,#03f 328.5px,#0017ff 335.5px,#01f 338.5px,#00f 353.5px,#00f 401px)}
.z2g44{background:linear-gradient(#006eff 0,#0074ff 4.5px,#0072ff 6.5px,#002dff 51.5px,#0032ff 60.5px,#005aff 82.5px,#0078ff 116.5px,#008fff 150.5px,#00b2ff 165.5px,#00d4ff 215.5px,#00c5ff 227.5px,#00baff 243.5px,#008cff 264.5px,#006eff 275.5px,#006aff 291.5px,#005dff 308.5px,#004cff 321.5px,#0028ff 328.5px,#000dff 336.5px,#00f 349.5px,#00f 401px)}
.z2g45{background:linear-gradient(#0069ff 0,#006dff 4.5px,#006aff 7.5px,#0026ff 51.5px,#002bff 60.5px,#0051ff 80.5px,#006dff 115.5px,#0081ff 150.5px,#009eff 165.5px,#00c3ff 215.5px,#00b6ff 226.5px,#00abff 244.5px,#0085ff 263.5px,#06f 275.5px,#0063ff 292.5px,#0056ff 310.5px,#0048ff 321.5px,#0024ff 328.5px,#0009ff 337.5px,#00f 348.5px,#00f 401px)}
.z2g46{background:linear-gradient(#0071ff 0,#07f 4.5px,#0074ff 7.5px,#0030ff 51.5px,#0035ff 60.5px,#005aff 79.5px,#007cff 115.5px,#0096ff 150.5px,#00bdff 166.5px,#00dcff 215.5px,#00bfff 244.5px,#008eff 265.5px,#0071ff 275.5px,#006dff 291.5px,#005fff 309.5px,#0050ff 320.5px,#004aff 322.5px,#0026ff 329.5px,#000dff 337.5px,#00f 350.5px,#00f 401px)}
.z2g47{background:linear-gradient(#0067ff 0,#0068ff 6.5px,#0023ff 51.5px,#0029ff 61.5px,#004fff 82.5px,#0068ff 115.5px,#007aff 150.5px,#0093ff 165.5px,#009eff 176.5px,#00baff 215.5px,#00adff 227.5px,#00a4ff 244.5px,#0080ff 263.5px,#0063ff 275.5px,#005fff 293.5px,#0053ff 310.5px,#0048ff 319.5px,#0041ff 322.5px,#001fff 329.5px,#0008ff 337.5px,#00f 347.5px,#00f 401px)}
.z2g48{background:linear-gradient(#0061ff 0,#0061ff 6.5px,#001cff 51.5px,#02f 61.5px,#0037ff 71.5px,#0048ff 83.5px,#005cff 113.5px,#006bff 150.5px,#0087ff 176.5px,#00a6ff 216.5px,#009cff 226.5px,#0094ff 245.5px,#007bff 260.5px,#005aff 276.5px,#0058ff 294.5px,#0041ff 321.5px,#0018ff 330.5px,#0009ff 335.5px,#0004ff 339.5px,#00f 345.5px,#00f 401px)}
.z2g49{background:linear-gradient(#0064ff 0,#06f 5.5px,#0042ff 30.5px,#0021ff 49.5px,#0020ff 52.5px,#0024ff 60.5px,#004bff 82.5px,#0062ff 114.5px,#0072ff 149.5px,#0092ff 175.5px,#00b0ff 216.5px,#00a5ff 226.5px,#009eff 243.5px,#008aff 255.5px,#005fff 275.5px,#005aff 296.5px,#0043ff 321.5px,#001dff 329.5px,#000aff 335.5px,#0005ff 339.5px,#00f 346.5px,#00f 401px)}
.z2g50{background:linear-gradient(#0078ff 0,#0080ff 5.5px,#005cff 30.5px,#003bff 49.5px,#003eff 59.5px,#06f 80.5px,#008bff 116.5px,#00a8ff 150.5px,#00d7ff 166.5px,#00e6f6 188.5px,#0af2ec 215.5px,#00e6f7 224.5px,#00dbff 234.5px,#00d3ff 243.5px,#009eff 264.5px,#007cff 275.5px,#0076ff 291.5px,#0067ff 309.5px,#05f 321.5px,#002fff 328.5px,#0010ff 337.5px,#00f 352.5px,#00f 401px)}
.z2g51{background:linear-gradient(#0069ff 0,#006dff 4.5px,#006aff 7.5px,#0026ff 51.5px,#002bff 60.5px,#0051ff 80.5px,#006dff 115.5px,#0081ff 150.5px,#009eff 165.5px,#00abff 175.5px,#00d5ff 216.5px,#0cf 225.5px,#00c5ff 244.5px,#009eff 263.5px,#007cff 275.5px,#0079ff 292.5px,#0067ff 312.5px,#0058ff 321.5px,#0032ff 328.5px,#0016ff 335.5px,#0003ff 349.5px,#00f 401px)}
.z2g52{background:linear-gradient(#0067ff 0,#0069ff 5.5px,#0065ff 8.5px,#0023ff 50.5px,#0026ff 57.5px,#0028ff 60.5px,#004fff 79.5px,#007fff 121.5px,#0095ff 151.5px,#00bdff 174.5px,#00dcff 208.5px,#00e1fb 215.5px,#00d2ff 227.5px,#00c5ff 245.5px,#00a0ff 265.5px,#0087ff 275.5px,#007eff 293.5px,#005eff 321.5px,#0038ff 328.5px,#001bff 335.5px,#0005ff 349.5px,#00f 354.5px,#00f 401px)}
.z2g53{background:linear-gradient(#0061ff 0,#0061ff 4.5px,#0050ff 17.5px,#001dff 49.5px,#001fff 58.5px,#0028ff 64.5px,#004bff 78.5px,#05f 85.5px,#009fff 120.5px,#00c1ff 155.5px,#00dbff 168.5px,#03e9f4 175.5px,#14ffe2 215.5px,#00e6f7 229.5px,#00dcff 237.5px,#00b3ff 264.5px,#009bff 275.5px,#0089ff 295.5px,#006aff 321.5px,#0024ff 335.5px,#0013ff 342.5px,#0001ff 354.5px,#00f 401px)}
.z2g54{background:linear-gradient(#0062ff 0,#0062ff 4.5px,#0053ff 16.5px,#001fff 49.5px,#02f 59.5px,#002dff 65.5px,#0050ff 78.5px,#0060ff 87.5px,#00b5ff 121.5px,#00daff 155.5px,#00e5f7 160.5px,#14fee3 171.5px,#1cffdb 177.5px,#27ffcf 215.5px,#14ffe2 226.5px,#00e6f6 243.5px,#00dcff 249.5px,#00a8ff 275.5px,#0072ff 321.5px,#0029ff 335.5px,#001dff 339.5px,#00f 355.5px,#00f 401px)}
.z2g55{background:linear-gradient(#0062ff 0,#0063ff 4.5px,#05f 15.5px,#001eff 50.5px,#02f 58.5px,#002bff 64.5px,#0051ff 78.5px,#005fff 86.5px,#00b6ff 119.5px,#00dbff 151.5px,#01e7f6 158.5px,#14fee3 168.5px,#21ffd6 176.5px,#2bffcb 212.5px,#2bffcc 216.5px,#15ffe2 229.5px,#00e5f7 246.5px,#00daff 252.5px,#00c3ff 265.5px,#00abff 275.5px,#0074ff 321.5px,#0061ff 325.5px,#004dff 328.5px,#0027ff 336.5px,#0001ff 355.5px,#00f 401px)}
.z2g56{background:linear-gradient(#0062ff 0,#0063ff 4.5px,#05f 15.5px,#001eff 50.5px,#02f 58.5px,#002bff 64.5px,#0051ff 78.5px,#005fff 86.5px,#00b6ff 119.5px,#00dbff 151.5px,#01e7f6 158.5px,#14fee3 168.5px,#22ffd5 176.5px,#30ffc6 215.5px,#1fffd8 225.5px,#15ffe2 234.5px,#00e5f7 251.5px,#00dcff 256.5px,#00b4ff 275.5px,#00a1ff 293.5px,#007bff 321.5px,#002fff 335.5px,#001fff 340.5px,#0002ff 355.5px,#00f 401px)}
.z2g57{background:linear-gradient(#0062ff 0,#0063ff 4.5px,#05f 15.5px,#001eff 50.5px,#02f 58.5px,#002bff 64.5px,#0051ff 78.5px,#005fff 86.5px,#00b6ff 119.5px,#00dbff 151.5px,#01e7f6 158.5px,#14fee3 168.5px,#22ffd4 176.5px,#35ffc2 214.5px,#15ffe2 239.5px,#00e6f6 255.5px,#00dcff 261.5px,#00bdff 275.5px,#00abff 292.5px,#0083ff 321.5px,#0030ff 336.5px,#0020ff 341.5px,#0003ff 355.5px,#00f 401px)}
.z2g58{background:linear-gradient(#0062ff 0,#0062ff 4.5px,#0053ff 16.5px,#001fff 49.5px,#02f 59.5px,#002dff 65.5px,#0050ff 78.5px,#0060ff 87.5px,#00b5ff 121.5px,#00daff 155.5px,#00e5f7 160.5px,#15ffe2 172.5px,#1affdc 176.5px,#22ffd4 213.5px,#16ffe1 222.5px,#01e7f6 237.5px,#00dcff 244.5px,#009dff 276.5px,#006bff 321.5px,#0024ff 335.5px,#0015ff 341.5px,#0001ff 354.5px,#00f 401px)}
.z2g59{background:linear-gradient(#0060ff 0,#0060ff 4.5px,#05f 13.5px,#001bff 50.5px,#001fff 59.5px,#004cff 79.5px,#05f 86.5px,#09f 120.5px,#00baff 155.5px,#00daff 172.5px,#00e1fa 176.5px,#0af1ed 215.5px,#00e6f7 221.5px,#00dbff 227.5px,#00c4ff 245.5px,#00a5ff 264.5px,#008eff 275.5px,#0060ff 321.5px,#002eff 331.5px,#001eff 335.5px,#0010ff 341.5px,#00f 354.5px,#00f 401px)}
.z2g60{background:linear-gradient(#0064ff 0,#06f 4.5px,#0061ff 8.5px,#001fff 51.5px,#0024ff 60.5px,#004aff 79.5px,#0072ff 119.5px,#0083ff 148.5px,#00a8ff 174.5px,#00c9ff 215.5px,#0bf 226.5px,#00aeff 245.5px,#0095ff 260.5px,#0075ff 275.5px,#006cff 295.5px,#0051ff 321.5px,#0032ff 327.5px,#001eff 332.5px,#0013ff 335.5px,#000cff 339.5px,#00f 351.5px,#00f 401px)}
.z2g61{background:linear-gradient(#0061ff 0,#0061ff 6.5px,#001cff 51.5px,#02f 61.5px,#0037ff 71.5px,#0048ff 83.5px,#005cff 113.5px,#006bff 150.5px,#00b1ff 216.5px,#00a8ff 227.5px,#00a4ff 244.5px,#008bff 259.5px,#06f 276.5px,#0065ff 292.5px,#0058ff 310.5px,#004bff 320.5px,#001bff 331.5px,#000eff 335.5px,#0007ff 340.5px,#00f 348.5px,#00f 401px)}
.z2g62{background:linear-gradient(#005fff 0,#005fff 4.5px,#0051ff 15.5px,#0018ff 51.5px,#001dff 60.5px,#0042ff 80.5px,#0058ff 116.5px,#0063ff 150.5px,#009cff 216.5px,#0093ff 225.5px,#008bff 246.5px,#0072ff 262.5px,#0056ff 276.5px,#0054ff 295.5px,#003eff 321.5px,#001dff 328.5px,#0007ff 335.5px,#0003ff 339.5px,#00f 401px)}
.z2g63{background:linear-gradient(#0082ff 0,#008cff 5.5px,#006aff 29.5px,#0046ff 50.5px,#0049ff 57.5px,#004bff 60.5px,#0075ff 82.5px,#00bdff 149.5px,#00daff 158.5px,#00e5f7 161.5px,#0bf4eb 165.5px,#15ffe2 177.5px,#25ffd2 212.5px,#25ffd2 216.5px,#15ffe2 231.5px,#07efef 245.5px,#00e6f6 248.5px,#00daff 252.5px,#00b6ff 265.5px,#0093ff 275.5px,#008bff 292.5px,#0078ff 311.5px,#0065ff 321.5px,#0038ff 329.5px,#001eff 335.5px,#0017ff 338.5px,#00f 355.5px,#00f 401px)}
.z2g64{background:linear-gradient(#0078ff 0,#0080ff 5.5px,#005cff 30.5px,#003bff 49.5px,#003eff 59.5px,#06f 80.5px,#008bff 116.5px,#00a8ff 150.5px,#00d7ff 166.5px,#00e6f6 181.5px,#12fce5 206.5px,#15ffe2 217.5px,#0cf4eb 226.5px,#03e9f4 243.5px,#00daff 249.5px,#00b4ff 264.5px,#0090ff 275.5px,#008aff 292.5px,#0079ff 310.5px,#0065ff 321.5px,#003cff 328.5px,#001eff 335.5px,#0005ff 350.5px,#00f 355.5px,#00f 401px)}
.z2g65{background:linear-gradient(#0076ff 0,#007dff 5.5px,#0059ff 30.5px,#0038ff 49.5px,#003bff 59.5px,#0061ff 79.5px,#0087ff 117.5px,#00a2ff 150.5px,#00cdff 165.5px,#00dbff 178.5px,#00e6f6 190.5px,#10fae7 216.5px,#06eef0 227.5px,#00e2fa 244.5px,#00dbff 247.5px,#00b3ff 263.5px,#008dff 275.5px,#08f 291.5px,#007fff 301.5px,#0075ff 311.5px,#0063ff 321.5px,#0040ff 327.5px,#001dff 335.5px,#000aff 346.5px,#00f 355.5px,#00f 401px)}
.z2g66{background:linear-gradient(#0071ff 0,#07f 4.5px,#0074ff 7.5px,#0030ff 50.5px,#0035ff 60.5px,#005aff 79.5px,#007cff 115.5px,#0096ff 150.5px,#00bdff 166.5px,#00dcff 196.5px,#05ecf2 216.5px,#00dffc 229.5px,#00d5ff 245.5px,#00a8ff 264.5px,#0086ff 275.5px,#0081ff 293.5px,#0070ff 311.5px,#0064ff 318.5px,#005aff 322.5px,#0037ff 328.5px,#001aff 335.5px,#0006ff 348.5px,#00f 354.5px,#00f 401px)}
.z2g67{background:linear-gradient(#006cff 0,#0070ff 5.5px,#004cff 30.5px,#002bff 49.5px,#002cff 56.5px,#0030ff 61.5px,#0053ff 79.5px,#0073ff 116.5px,#08f 150.5px,#00abff 167.5px,#00ddfe 215.5px,#00d3ff 226.5px,#00cbff 244.5px,#00a0ff 264.5px,#0080ff 275.5px,#007cff 292.5px,#006bff 311.5px,#005aff 321.5px,#0034ff 328.5px,#0015ff 336.5px,#0006ff 347.5px,#00f 354.5px,#00f 401px)}
.z2g68{background:linear-gradient(#006eff 0,#0074ff 4.5px,#0072ff 6.5px,#0051ff 29.5px,#002dff 50.5px,#0031ff 59.5px,#0057ff 79.5px,#0078ff 116.5px,#008fff 150.5px,#00b2ff 165.5px,#00bcff 172.5px,#00dcff 199.5px,#05ecf2 217.5px,#00e5f7 224.5px,#00dcfe 244.5px,#00afff 264.5px,#008dff 275.5px,#0089ff 292.5px,#0073ff 313.5px,#0064ff 321.5px,#003cff 328.5px,#0018ff 337.5px,#0005ff 350.5px,#00f 355.5px,#00f 401px)}
.z2g69{background:linear-gradient(#0076ff 0,#007dff 5.5px,#0059ff 30.5px,#0038ff 49.5px,#003bff 59.5px,#0061ff 79.5px,#0087ff 117.5px,#00a2ff 150.5px,#00cdff 165.5px,#00dbff 176.5px,#00e5f7 186.5px,#10fae7 205.5px,#16ffe0 215.5px,#14ffe3 219.5px,#0df6e9 227.5px,#07eef0 243.5px,#00e5f7 247.5px,#00dbff 251.5px,#00b8ff 265.5px,#0096ff 275.5px,#0091ff 292.5px,#007fff 310.5px,#0076ff 315.5px,#006aff 321.5px,#0046ff 327.5px,#0021ff 335.5px,#0008ff 349.5px,#00f 356.5px,#00f 401px)}
.z2g70{background:linear-gradient(#0084ff 0,#008fff 5.5px,#0049ff 51.5px,#004eff 60.5px,#0076ff 80.5px,#00c4ff 150.5px,#00ddfe 157.5px,#02e8f5 160.5px,#11fbe6 165.5px,#14ffe2 168.5px,#34ffc3 214.5px,#1effd8 243.5px,#16ffe1 247.5px,#01e7f6 256.5px,#00dbff 260.5px,#00a6ff 276.5px,#009eff 294.5px,#008dff 310.5px,#0078ff 320.5px,#0071ff 322.5px,#0050ff 327.5px,#0028ff 335.5px,#000bff 349.5px,#00f 357.5px,#00f 401px)}
.z2g71{background:linear-gradient(#008fff 0,#009dff 5.5px,#0057ff 51.5px,#005cff 60.5px,#0086ff 81.5px,#00dbff 149.5px,#02e8f5 153.5px,#17ffe0 159.5px,#2dffca 166.5px,#45ffb2 202.5px,#49ffad 215.5px,#30ffc7 243.5px,#15ffe2 254.5px,#01e6f6 262.5px,#00ddfe 265.5px,#00b5ff 275.5px,#00adff 291.5px,#009bff 307.5px,#007fff 321.5px,#0052ff 328.5px,#002aff 336.5px,#000cff 350.5px,#00f 358.5px,#00f 401px)}
.z2g72{background:linear-gradient(#0091ff 0,#009fff 4.5px,#009dff 7.5px,#005bff 49.5px,#005aff 52.5px,#005fff 60.5px,#0089ff 81.5px,#00dcff 146.5px,#00e5f7 151.5px,#17ffdf 158.5px,#30ffc7 165.5px,#35ffc2 170.5px,#4bffac 205.5px,#4dffa9 215.5px,#31ffc5 244.5px,#15ffe2 255.5px,#01e7f6 263.5px,#00dcfe 266.5px,#00b8ff 275.5px,#00afff 291.5px,#009cff 308.5px,#0083ff 320.5px,#002bff 336.5px,#000bff 351.5px,#00f 358.5px,#00f 401px)}
.z2g73{background:linear-gradient(#008dff 0,#009aff 4.5px,#09f 6.5px,#0054ff 51.5px,#005bff 61.5px,#0082ff 80.5px,#00dbff 151.5px,#02e7f5 154.5px,#15ffe1 160.5px,#29ffce 167.5px,#42ffb5 204.5px,#45ffb1 215.5px,#2dffca 243.5px,#14ffe3 253.5px,#01e6f6 261.5px,#00ddfe 264.5px,#00b1ff 276.5px,#00abff 290.5px,#009aff 306.5px,#007dff 321.5px,#0051ff 328.5px,#0029ff 336.5px,#000aff 351.5px,#00f 358.5px,#00f 401px)}
.z2g74{background:linear-gradient(#0082ff 0,#008cff 5.5px,#006aff 29.5px,#0046ff 50.5px,#0049ff 57.5px,#004bff 60.5px,#0075ff 82.5px,#00bdff 149.5px,#00daff 158.5px,#00e5f7 161.5px,#0bf4eb 165.5px,#14ffe2 174.5px,#2fffc7 215.5px,#1bffdc 243.5px,#15ffe2 246.5px,#00e6f7 255.5px,#00dbff 259.5px,#00a5ff 275.5px,#009eff 291.5px,#008fff 306.5px,#0074ff 321.5px,#0049ff 328.5px,#0027ff 335.5px,#0009ff 350.5px,#00f 357.5px,#00f 401px)}
.z2g75{background:linear-gradient(#0071ff 0,#07f 4.5px,#0074ff 7.5px,#0030ff 50.5px,#0035ff 60.5px,#005aff 79.5px,#007cff 115.5px,#0096ff 150.5px,#00bdff 166.5px,#00dcff 192.5px,#00e6f6 201.5px,#0bf4eb 215.5px,#03eaf3 227.5px,#00e2fa 244.5px,#00dbff 247.5px,#00b3ff 264.5px,#0090ff 275.5px,#008cff 291.5px,#0079ff 311.5px,#06f 321.5px,#0043ff 327.5px,#001fff 335.5px,#0007ff 349.5px,#00f 355.5px,#00f 401px)}
.z2g76{background:linear-gradient(#0067ff 0,#0068ff 6.5px,#0047ff 29.5px,#0023ff 50.5px,#0027ff 59.5px,#004fff 82.5px,#0068ff 115.5px,#007aff 150.5px,#00a2ff 175.5px,#00caff 205.5px,#00d5ff 217.5px,#00ceff 226.5px,#00cbff 244.5px,#00a3ff 264.5px,#0083ff 275.5px,#0080ff 293.5px,#0071ff 310.5px,#005eff 321.5px,#0037ff 328.5px,#0017ff 336.5px,#0007ff 347.5px,#00f 354.5px,#00f 401px)}
.z2g77{background:linear-gradient(#0094ff 0,#00a2ff 4.5px,#00a1ff 6.5px,#005cff 51.5px,#0063ff 61.5px,#0089ff 79.5px,#00dcff 143.5px,#00e6f7 150.5px,#15ffe2 156.5px,#36ffc1 166.5px,#51ffa6 203.5px,#55ffa1 215.5px,#3dffba 243.5px,#17ffe0 258.5px,#02e8f5 266.5px,#00dbff 269.5px,#00c2ff 275.5px,#00baff 290.5px,#00a8ff 306.5px,#00a1ff 311.5px,#0089ff 321.5px,#0061ff 327.5px,#0034ff 335.5px,#000dff 351.5px,#00f 359.5px,#00f 401px)}
.z2g78{background:linear-gradient(#0091ff 0,#009fff 4.5px,#009dff 7.5px,#005bff 49.5px,#005aff 52.5px,#005fff 60.5px,#0089ff 81.5px,#00dcff 146.5px,#00e5f7 151.5px,#17ffdf 158.5px,#31ffc5 166.5px,#4bffac 200.5px,#52ffa5 215.5px,#3affbd 243.5px,#17ffe0 257.5px,#00e5f7 266.5px,#00d8ff 269.5px,#00beff 276.5px,#00b8ff 290.5px,#00a6ff 306.5px,#009dff 312.5px,#0087ff 321.5px,#03f 335.5px,#000eff 350.5px,#00f 358.5px,#00f 401px)}
.z2g79{background:linear-gradient(#0086ff 0,#0092ff 5.5px,#006eff 30.5px,#004dff 49.5px,#004cff 52.5px,#0051ff 60.5px,#0079ff 80.5px,#00c9ff 150.5px,#00dbff 155.5px,#01e7f6 158.5px,#17ffe0 165.5px,#37ffbf 204.5px,#3dffba 216.5px,#27ffcf 244.5px,#15ffe2 252.5px,#00e5f7 261.5px,#00dcfe 264.5px,#00b1ff 276.5px,#00a9ff 294.5px,#0097ff 310.5px,#0083ff 319.5px,#0079ff 322.5px,#0052ff 328.5px,#002aff 336.5px,#000cff 350.5px,#00f 358.5px,#00f 401px)}
.z2g80{background:linear-gradient(#0076ff 0,#007dff 5.5px,#0059ff 30.5px,#0038ff 49.5px,#003bff 59.5px,#0061ff 79.5px,#0087ff 117.5px,#00a2ff 150.5px,#00cdff 165.5px,#00dbff 175.5px,#00e6f7 184.5px,#13fde4 203.5px,#1bffdb 214.5px,#14ffe3 227.5px,#0ff8e8 243.5px,#00e6f7 251.5px,#00dcff 255.5px,#00c2ff 265.5px,#009fff 275.5px,#009bff 291.5px,#08f 310.5px,#0071ff 321.5px,#0047ff 328.5px,#02f 336.5px,#0007ff 351.5px,#00f 356.5px,#00f 401px)}
.z2g81{background:linear-gradient(#006eff 0,#0074ff 4.5px,#0072ff 6.5px,#0051ff 29.5px,#002dff 50.5px,#0031ff 59.5px,#0057ff 79.5px,#0078ff 116.5px,#008fff 150.5px,#00b4ff 166.5px,#00dbff 195.5px,#00e5f7 202.5px,#0cf4eb 216.5px,#06ecf1 226.5px,#01e7f6 244.5px,#00daff 250.5px,#00b7ff 265.5px,#0096ff 275.5px,#0093ff 291.5px,#0081ff 310.5px,#006bff 321.5px,#0042ff 328.5px,#02f 335.5px,#0007ff 350.5px,#00f 356.5px,#00f 401px)}
.z2g82{background:linear-gradient(#006cff 0,#0070ff 5.5px,#004cff 30.5px,#002bff 49.5px,#002cff 56.5px,#0030ff 61.5px,#0053ff 79.5px,#0058ff 84.5px,#0073ff 116.5px,#08f 150.5px,#0af 166.5px,#00dbff 201.5px,#00e6f6 209.5px,#06edf1 216.5px,#00e6f6 226.5px,#00e2fa 244.5px,#00dcff 247.5px,#00b6ff 264.5px,#0093ff 275.5px,#0090ff 292.5px,#007dff 311.5px,#006aff 321.5px,#0046ff 327.5px,#0021ff 335.5px,#0008ff 349.5px,#00f 356.5px,#00f 401px)}
.z2g83{background:linear-gradient(#0073ff 0,#007aff 4.5px,#07f 7.5px,#0035ff 49.5px,#0037ff 58.5px,#005eff 79.5px,#009cff 150.5px,#00c6ff 166.5px,#00dbff 184.5px,#00e6f6 194.5px,#11fbe6 215.5px,#09f1ed 225.5px,#01e7f6 244.5px,#00dbff 249.5px,#00b7ff 264.5px,#0093ff 275.5px,#008fff 291.5px,#007dff 310.5px,#0068ff 321.5px,#003fff 328.5px,#001aff 337.5px,#0006ff 350.5px,#00f 355.5px,#00f 401px)}
.z2g84{background:linear-gradient(#007fff 0,#0089ff 5.5px,#0067ff 29.5px,#0043ff 50.5px,#0046ff 57.5px,#0048ff 60.5px,#006eff 79.5px,#0096ff 114.5px,#00b9ff 150.5px,#00dbff 160.5px,#00e5f7 163.5px,#06ecf1 165.5px,#12fce5 178.5px,#2bffcc 215.5px,#15ffe2 244.5px,#00e5f7 254.5px,#00daff 258.5px,#00c3ff 266.5px,#00a2ff 275.5px,#009cff 291.5px,#0093ff 300.5px,#08f 310.5px,#0072ff 321.5px,#0047ff 328.5px,#0026ff 335.5px,#000aff 349.5px,#00f 357.5px,#00f 401px)}
.z2g85{background:linear-gradient(#0089ff 0,#0095ff 4.5px,#0092ff 7.5px,#0050ff 49.5px,#004fff 52.5px,#0054ff 60.5px,#007cff 80.5px,#00ceff 150.5px,#00ddfe 154.5px,#00e5f7 156.5px,#16ffe1 163.5px,#1dffd9 166.5px,#25ffd1 175.5px,#3dffba 214.5px,#26ffd1 243.5px,#16ffe1 250.5px,#00e5f7 259.5px,#00dcfe 262.5px,#00adff 275.5px,#00a5ff 292.5px,#0091ff 310.5px,#007eff 319.5px,#0074ff 322.5px,#004eff 328.5px,#0027ff 336.5px,#000eff 348.5px,#00f 357.5px,#00f 401px)}
.z2g86{background:linear-gradient(#008bff 0,#0097ff 4.5px,#0096ff 6.5px,#0075ff 29.5px,#0057ff 46.5px,#0052ff 52.5px,#0058ff 61.5px,#007fff 80.5px,#00c7ff 141.5px,#00d3ff 150.5px,#00daff 152.5px,#01e6f6 155.5px,#17ffe0 162.5px,#23ffd4 166.5px,#2affcc 175.5px,#3effb9 205.5px,#41ffb6 216.5px,#27ffcf 244.5px,#16ffe1 251.5px,#00e6f7 260.5px,#00ddfe 263.5px,#00b0ff 275.5px,#00a8ff 291.5px,#009aff 304.5px,#0093ff 310.5px,#007bff 321.5px,#004fff 328.5px,#0028ff 336.5px,#000bff 350.5px,#00f 357.5px,#00f 401px)}
.z2g87{background:linear-gradient(#0082ff 0,#008cff 5.5px,#006aff 29.5px,#0046ff 50.5px,#0049ff 57.5px,#004bff 60.5px,#0075ff 82.5px,#00bdff 149.5px,#00daff 158.5px,#00e5f7 161.5px,#0bf4eb 165.5px,#15ffe2 174.5px,#34ffc2 215.5px,#22ffd5 243.5px,#15ffe1 249.5px,#01e7f6 258.5px,#00dbff 262.5px,#00adff 275.5px,#00a7ff 291.5px,#0093ff 310.5px,#007bff 321.5px,#004fff 328.5px,#002bff 335.5px,#000bff 350.5px,#00f 357.5px,#00f 401px)}
.z2g88{background:linear-gradient(#0071ff 0,#07f 4.5px,#0074ff 7.5px,#0030ff 50.5px,#0035ff 60.5px,#005aff 79.5px,#007cff 115.5px,#0096ff 150.5px,#00bdff 166.5px,#00dcff 189.5px,#00e6f6 197.5px,#11fbe6 216.5px,#0bf3ec 225.5px,#05ecf1 244.5px,#00e6f7 247.5px,#00daff 252.5px,#00c0ff 263.5px,#09f 275.5px,#0095ff 292.5px,#0083ff 310.5px,#006dff 321.5px,#0049ff 327.5px,#0023ff 335.5px,#0006ff 351.5px,#00f 356.5px,#00f 401px)}
.z2g89{background:linear-gradient(#0078ff 0,#0080ff 5.5px,#005cff 30.5px,#003bff 49.5px,#003eff 59.5px,#06f 80.5px,#008bff 116.5px,#00a8ff 150.5px,#00d5ff 165.5px,#00dbff 169.5px,#00e6f7 177.5px,#13fee3 198.5px,#21ffd6 215.5px,#14ffe3 239.5px,#13fde4 243.5px,#00e5f7 253.5px,#00dbff 257.5px,#00c2ff 266.5px,#00a2ff 275.5px,#009dff 291.5px,#008aff 310.5px,#0073ff 321.5px,#004eff 327.5px,#0023ff 336.5px,#0009ff 350.5px,#00f 357.5px,#00f 401px)}
.z2g90{background:linear-gradient(#008fff 0,#009dff 5.5px,#0057ff 51.5px,#005cff 60.5px,#0086ff 81.5px,#00dbff 149.5px,#02e8f5 153.5px,#17ffe0 159.5px,#2bffcc 165.5px,#30ffc6 170.5px,#4effa9 215.5px,#35ffc2 244.5px,#16ffe0 256.5px,#00e6f7 265.5px,#00daff 268.5px,#00bdff 275.5px,#00b5ff 291.5px,#00a4ff 306.5px,#08f 320.5px,#0080ff 322.5px,#005eff 327.5px,#0032ff 335.5px,#000cff 351.5px,#00f 358.5px,#00f 401px)}
.z2g91{background:linear-gradient(#0082ff 0,#008cff 5.5px,#006aff 29.5px,#0046ff 50.5px,#0049ff 57.5px,#004bff 60.5px,#0075ff 82.5px,#00bdff 149.5px,#00daff 158.5px,#00e5f7 161.5px,#0bf4eb 165.5px,#14ffe2 175.5px,#2affcd 213.5px,#14ffe2 241.5px,#0ff9e7 245.5px,#00e5f8 252.5px,#00dcff 255.5px,#00c0ff 265.5px,#009cff 275.5px,#0095ff 291.5px,#0082ff 310.5px,#006cff 321.5px,#0048ff 327.5px,#001fff 336.5px,#000aff 348.5px,#00f 356.5px,#00f 401px)}
.z2g92{background:linear-gradient(#007bff 0,#0083ff 5.5px,#0061ff 29.5px,#003dff 50.5px,#0040ff 57.5px,#0042ff 60.5px,#0069ff 80.5px,#00aeff 150.5px,#00dffc 166.5px,#00e5f7 172.5px,#14ffe3 201.5px,#1bffdb 215.5px,#14ffe3 223.5px,#04eaf3 245.5px,#00daff 251.5px,#00b8ff 264.5px,#0093ff 275.5px,#0086ff 299.5px,#007bff 310.5px,#0067ff 321.5px,#0043ff 327.5px,#001fff 335.5px,#0007ff 349.5px,#00f 355.5px,#00f 401px)}
.z2g93{background:linear-gradient(#0073ff 0,#007aff 4.5px,#07f 7.5px,#0035ff 49.5px,#0037ff 58.5px,#005eff 79.5px,#009cff 150.5px,#00c6ff 166.5px,#00dbff 187.5px,#00e6f7 198.5px,#0bf3ec 216.5px,#00e6f6 229.5px,#00defd 243.5px,#00acff 264.5px,#08f 276.5px,#0085ff 291.5px,#006fff 313.5px,#0060ff 321.5px,#0039ff 328.5px,#001bff 335.5px,#0004ff 350.5px,#00f 355.5px,#00f 401px)}
.z2g94{background:linear-gradient(#0064ff 0,#06f 5.5px,#0042ff 30.5px,#0021ff 49.5px,#0020ff 52.5px,#0024ff 60.5px,#004bff 82.5px,#0062ff 114.5px,#0072ff 149.5px,#008fff 171.5px,#00baff 216.5px,#00b1ff 226.5px,#00abff 244.5px,#0084ff 265.5px,#006aff 275.5px,#0067ff 294.5px,#004cff 321.5px,#002cff 327.5px,#000bff 337.5px,#00f 349.5px,#00f 401px)}
.z2g95{background:linear-gradient(#0064ff 0,#06f 5.5px,#0042ff 30.5px,#0021ff 49.5px,#0020ff 52.5px,#0024ff 60.5px,#004bff 82.5px,#0062ff 114.5px,#0072ff 149.5px,#09f 178.5px,#00c4ff 216.5px,#00bcff 226.5px,#00b7ff 245.5px,#0095ff 263.5px,#0075ff 275.5px,#0072ff 294.5px,#0062ff 312.5px,#0054ff 321.5px,#03f 327.5px,#0014ff 335.5px,#0005ff 346.5px,#00f 352.5px,#00f 401px)}
.z2g96{background:linear-gradient(#0067ff 0,#0068ff 6.5px,#0023ff 51.5px,#0029ff 61.5px,#004fff 82.5px,#0068ff 115.5px,#007aff 150.5px,#009fff 174.5px,#00c2ff 204.5px,#0cf 217.5px,#00c4ff 226.5px,#00c0ff 243.5px,#0095ff 265.5px,#0079ff 275.5px,#0076ff 292.5px,#06f 311.5px,#0056ff 321.5px,#0030ff 328.5px,#0015ff 335.5px,#0008ff 344.5px,#00f 352.5px,#00f 401px)}
.z2g97{background:linear-gradient(#006eff 0,#0074ff 4.5px,#0072ff 6.5px,#0051ff 29.5px,#002dff 50.5px,#0031ff 59.5px,#0057ff 79.5px,#0078ff 116.5px,#008fff 150.5px,#00b6ff 168.5px,#00dcff 204.5px,#00e4f8 216.5px,#00dbff 225.5px,#00d1ff 244.5px,#00a4ff 264.5px,#0083ff 275.5px,#007fff 292.5px,#006cff 312.5px,#005cff 321.5px,#003aff 327.5px,#0016ff 336.5px,#0003ff 350.5px,#00f 401px)}
.z2g98{background:linear-gradient(#008bff 0,#0097ff 4.5px,#0096ff 6.5px,#0075ff 29.5px,#0057ff 46.5px,#0052ff 52.5px,#0058ff 61.5px,#007fff 80.5px,#00c7ff 141.5px,#00d3ff 150.5px,#00daff 152.5px,#01e6f6 155.5px,#17ffe0 162.5px,#23ffd4 166.5px,#29ffcd 173.5px,#46ffb1 215.5px,#30ffc7 243.5px,#16ffe1 254.5px,#00e6f7 263.5px,#00dcff 266.5px,#00b8ff 275.5px,#00b1ff 290.5px,#00a1ff 305.5px,#009bff 310.5px,#0082ff 321.5px,#05f 328.5px,#0030ff 335.5px,#000dff 350.5px,#00f 358.5px,#00f 401px)}
.z2g99{background:linear-gradient(#007dff 0,#0086ff 5.5px,#0064ff 29.5px,#0040ff 50.5px,#0043ff 57.5px,#0045ff 60.5px,#006bff 79.5px,#0093ff 115.5px,#00b1ff 148.5px,#00b6ff 151.5px,#00dbff 162.5px,#00e5f7 165.5px,#05ecf2 170.5px,#14ffe2 189.5px,#25ffd1 214.5px,#15ffe2 240.5px,#10f9e7 245.5px,#00e6f6 252.5px,#00dbff 256.5px,#00c3ff 265.5px,#009fff 275.5px,#09f 291.5px,#0086ff 310.5px,#0070ff 321.5px,#004bff 327.5px,#0021ff 336.5px,#0008ff 350.5px,#00f 356.5px,#00f 401px)}
.z2g100{background:linear-gradient(#007bff 0,#0083ff 5.5px,#0061ff 29.5px,#003dff 50.5px,#0040ff 57.5px,#0042ff 60.5px,#0069ff 80.5px,#00aeff 150.5px,#00ddfd 165.5px,#03e9f4 174.5px,#15ffe2 197.5px,#21ffd6 215.5px,#14ffe2 232.5px,#0cf4eb 245.5px,#01e7f6 250.5px,#00daff 255.5px,#00bcff 266.5px,#009cff 275.5px,#0097ff 291.5px,#0084ff 310.5px,#006eff 321.5px,#04f 328.5px,#0020ff 336.5px,#0009ff 349.5px,#00f 356.5px,#00f 401px)}
.z2g101{background:linear-gradient(#0078ff 0,#0080ff 5.5px,#005cff 30.5px,#003bff 49.5px,#003eff 59.5px,#06f 80.5px,#008bff 116.5px,#00a8ff 150.5px,#00d5ff 165.5px,#00e0fc 173.5px,#00e6f6 179.5px,#15ffe2 204.5px,#1cffdb 215.5px,#15ffe2 224.5px,#0bf3ec 243.5px,#00e5f7 249.5px,#00dbff 253.5px,#00c1ff 263.5px,#09f 275.5px,#0094ff 291.5px,#0080ff 311.5px,#006cff 321.5px,#0048ff 327.5px,#02f 335.5px,#0007ff 350.5px,#00f 356.5px,#00f 401px)}
.z2g102{background:linear-gradient(#007dff 0,#0086ff 5.5px,#0064ff 29.5px,#0040ff 50.5px,#0043ff 57.5px,#0045ff 60.5px,#006bff 79.5px,#0093ff 115.5px,#00b1ff 148.5px,#00b6ff 151.5px,#00dbff 162.5px,#01e7f6 166.5px,#15ffe2 187.5px,#2affcc 214.5px,#1affdc 243.5px,#15ffe2 246.5px,#00e5f7 256.5px,#00ddfe 259.5px,#00c9ff 266.5px,#00a8ff 275.5px,#00a2ff 291.5px,#0094ff 305.5px,#008eff 310.5px,#07f 321.5px,#004cff 328.5px,#0029ff 335.5px,#000aff 350.5px,#00f 357.5px,#00f 401px)}
.z2g103{background:linear-gradient(#007fff 0,#0089ff 5.5px,#0067ff 29.5px,#0043ff 50.5px,#0046ff 57.5px,#0048ff 60.5px,#006eff 79.5px,#0096ff 114.5px,#00b9ff 150.5px,#00dbff 160.5px,#00e5f7 163.5px,#06ecf1 165.5px,#15ffe2 180.5px,#2fffc7 216.5px,#1fffd8 242.5px,#14ffe3 248.5px,#00e6f6 257.5px,#00dbff 261.5px,#00a9ff 276.5px,#00a1ff 295.5px,#0090ff 310.5px,#0079ff 321.5px,#004dff 328.5px,#002aff 335.5px,#000cff 349.5px,#00f 357.5px,#00f 401px)}
.z2g104{background:linear-gradient(#0084ff 0,#008fff 5.5px,#0049ff 51.5px,#004eff 60.5px,#0076ff 80.5px,#00c4ff 150.5px,#00d9ff 156.5px,#00e4f8 159.5px,#11fbe6 165.5px,#15ffe2 168.5px,#39ffbe 215.5px,#25ffd1 243.5px,#16ffe0 250.5px,#00e5f8 260.5px,#00dcff 263.5px,#00b0ff 275.5px,#0af 290.5px,#009fff 301.5px,#0095ff 310.5px,#007fff 320.5px,#07f 322.5px,#0050ff 328.5px,#0029ff 336.5px,#000dff 349.5px,#00f 358.5px,#00f 401px)}
.z2g105{background:linear-gradient(#008dff 0,#009aff 4.5px,#09f 6.5px,#0054ff 51.5px,#005bff 61.5px,#0082ff 80.5px,#00dbff 151.5px,#02e7f5 154.5px,#15ffe1 160.5px,#26ffd1 165.5px,#2bffcc 169.5px,#4affad 215.5px,#31ffc5 244.5px,#16ffe1 255.5px,#00e6f7 264.5px,#00dbff 267.5px,#00b9ff 276.5px,#00b3ff 291.5px,#00a3ff 305.5px,#009dff 310.5px,#0086ff 320.5px,#007eff 322.5px,#0051ff 329.5px,#0031ff 335.5px,#000dff 350.5px,#00f 358.5px,#00f 401px)}
.z2g106{background:linear-gradient(#0094ff 0,#00a2ff 4.5px,#00a1ff 6.5px,#005cff 51.5px,#0063ff 61.5px,#0089ff 79.5px,#00dcff 143.5px,#00e6f7 150.5px,#15ffe2 156.5px,#36ffc1 166.5px,#54ffa3 203.5px,#59ff9d 215.5px,#43ffb4 243.5px,#16ffe1 261.5px,#01e7f5 268.5px,#00dbff 271.5px,#00c8ff 276.5px,#00beff 294.5px,#0af 310.5px,#0097ff 318.5px,#008aff 322.5px,#0060ff 328.5px,#0030ff 337.5px,#00f 359.5px,#00f 401px)}
.z2g107{background:linear-gradient(#0096ff 0,#00a5ff 5.5px,#005fff 51.5px,#0064ff 60.5px,#008dff 80.5px,#00dcff 140.5px,#01e7f5 148.5px,#04eaf3 150.5px,#15ffe2 155.5px,#3bffbc 166.5px,#5dff9a 214.5px,#46ffb1 243.5px,#15ffe1 262.5px,#00e6f7 269.5px,#00ddfe 271.5px,#0cf 275.5px,#00c4ff 290.5px,#00afff 308.5px,#0091ff 321.5px,#0068ff 327.5px,#0031ff 337.5px,#01f 350.5px,#00f 359.5px,#00f 401px)}
.z2g108{background:linear-gradient(#0096ff 0,#00a5ff 5.5px,#005fff 51.5px,#0064ff 60.5px,#008dff 80.5px,#00dcff 140.5px,#01e7f5 148.5px,#04eaf3 150.5px,#15ffe2 155.5px,#3bffbc 166.5px,#59ff9e 201.5px,#60ff96 214.5px,#4bffab 243.5px,#16ffe1 264.5px,#00e4f8 271.5px,#00d8ff 274.5px,#00d3ff 275.5px,#00cbff 291.5px,#00b6ff 308.5px,#0097ff 321.5px,#0067ff 328.5px,#0035ff 337.5px,#0013ff 350.5px,#0001ff 359.5px,#00f 401px)}
.z2g109{background:linear-gradient(#0096ff 0,#00a5ff 5.5px,#005fff 51.5px,#0064ff 60.5px,#008dff 80.5px,#00dcff 140.5px,#04eaf3 150.5px,#15ffe2 155.5px,#3bffbc 166.5px,#65ff92 215.5px,#51ffa6 243.5px,#16ffe1 266.5px,#01e7f5 272.5px,#00daff 275.5px,#00d0ff 293.5px,#00baff 310.5px,#00b0ff 314.5px,#009dff 321.5px,#006cff 328.5px,#0038ff 337.5px,#0017ff 349.5px,#00f 360.5px,#00f 401px)}
.z2g110{background:linear-gradient(#0089ff 0,#0095ff 4.5px,#0092ff 7.5px,#0050ff 49.5px,#004fff 52.5px,#0054ff 60.5px,#007cff 80.5px,#00ceff 150.5px,#00ddfe 154.5px,#00e5f7 156.5px,#16ffe1 163.5px,#1effd9 166.5px,#2affcc 179.5px,#46ffb1 216.5px,#31ffc5 244.5px,#15ffe2 256.5px,#00e5f7 265.5px,#00ddfe 267.5px,#00bdff 275.5px,#00b7ff 290.5px,#00a2ff 309.5px,#0087ff 321.5px,#005fff 327.5px,#03f 335.5px,#002bff 337.5px,#000eff 350.5px,#00f 358.5px,#00f 401px)}
.z2g111{background:linear-gradient(#0078ff 0,#0080ff 5.5px,#005cff 30.5px,#003bff 49.5px,#003eff 59.5px,#06f 80.5px,#008bff 116.5px,#00a8ff 150.5px,#00d9ff 167.5px,#00e6f7 176.5px,#13fde4 194.5px,#26ffd0 215.5px,#1bffdc 242.5px,#15ffe1 246.5px,#01e7f6 256.5px,#00dcfe 260.5px,#00cfff 265.5px,#00abff 275.5px,#00a6ff 291.5px,#009aff 303.5px,#0092ff 310.5px,#007aff 321.5px,#0054ff 327.5px,#0027ff 336.5px,#000bff 350.5px,#00f 357.5px,#00f 401px)}
.z2g112{background:linear-gradient(#0071ff 0,#07f 4.5px,#0074ff 7.5px,#0030ff 50.5px,#0035ff 60.5px,#005aff 79.5px,#007cff 115.5px,#0096ff 150.5px,#00bfff 167.5px,#00dbff 186.5px,#00e5f7 193.5px,#14ffe3 212.5px,#14ffe3 222.5px,#0df6e9 244.5px,#01e7f6 251.5px,#00dbff 256.5px,#00caff 263.5px,#00a2ff 275.5px,#009fff 291.5px,#008aff 311.5px,#0075ff 321.5px,#004aff 328.5px,#0024ff 336.5px,#0009ff 350.5px,#00f 357.5px,#00f 401px)}
.z2g113{background:linear-gradient(#0089ff 0,#0095ff 4.5px,#0092ff 7.5px,#0050ff 49.5px,#004fff 52.5px,#0054ff 60.5px,#007cff 80.5px,#00ceff 150.5px,#00ddfe 154.5px,#00e5f7 156.5px,#16ffe1 163.5px,#1effd9 166.5px,#28ffcf 177.5px,#41ffb5 215.5px,#2bffcc 244.5px,#15ffe1 253.5px,#00e5f7 262.5px,#00dcfe 265.5px,#00b4ff 276.5px,#00aeff 291.5px,#00a0ff 304.5px,#09f 310.5px,#0080ff 321.5px,#004eff 329.5px,#002fff 335.5px,#000cff 350.5px,#00f 358.5px,#00f 401px)}
.z2g114{background:linear-gradient(#0098ff 0,#00a7ff 4.5px,#00a5ff 7.5px,#0063ff 49.5px,#0062ff 52.5px,#0067ff 60.5px,#0090ff 80.5px,#00dbff 136.5px,#01e7f5 145.5px,#07efef 150.5px,#15ffe2 154.5px,#3dffb9 165.5px,#4dffaa 184.5px,#5dff9a 214.5px,#43ffb4 243.5px,#17ffe0 260.5px,#00e5f7 268.5px,#00dcfe 270.5px,#00c7ff 275.5px,#00beff 291.5px,#00acff 306.5px,#00a5ff 311.5px,#008fff 320.5px,#0087ff 322.5px,#0064ff 327.5px,#0032ff 336.5px,#0012ff 349.5px,#0001ff 358.5px,#00f 401px)}
.z2g115{background:linear-gradient(#0098ff 0,#00a7ff 4.5px,#00a5ff 7.5px,#0063ff 49.5px,#0062ff 52.5px,#0067ff 60.5px,#0090ff 80.5px,#00dbff 136.5px,#01e7f5 145.5px,#07efef 150.5px,#15ffe2 154.5px,#3fffb8 166.5px,#54ffa3 199.5px,#58ff9e 212.5px,#58ff9e 216.5px,#3dffba 243.5px,#15ffe2 258.5px,#00e5f7 266.5px,#00ddfe 268.5px,#00beff 276.5px,#00b6ff 291.5px,#00a1ff 309.5px,#0086ff 321.5px,#0058ff 328.5px,#0032ff 335.5px,#000eff 350.5px,#00f 358.5px,#00f 401px)}
.z2g116{background:linear-gradient(#0091ff 0,#009fff 4.5px,#009dff 7.5px,#005bff 49.5px,#005aff 52.5px,#005fff 60.5px,#0089ff 81.5px,#00dcff 146.5px,#00e5f7 151.5px,#17ffdf 158.5px,#30ffc7 165.5px,#34ffc3 169.5px,#47ffaf 205.5px,#49ffae 216.5px,#2dffca 243.5px,#16ffe1 252.5px,#01e7f5 260.5px,#00dbff 264.5px,#00aeff 276.5px,#00a8ff 289.5px,#0093ff 309.5px,#007aff 321.5px,#004eff 328.5px,#0027ff 336.5px,#0009ff 351.5px,#00f 357.5px,#00f 401px)}
.z2g117{background:linear-gradient(#005fff 0,#005fff 4.5px,#0051ff 15.5px,#0018ff 51.5px,#001dff 60.5px,#0042ff 80.5px,#0057ff 114.5px,#005eff 140.5px,#006dff 163.5px,#00b2ff 216.5px,#00acff 225.5px,#00abff 244.5px,#09f 256.5px,#006eff 275.5px,#006dff 292.5px,#005eff 311.5px,#004fff 321.5px,#002fff 327.5px,#01f 335.5px,#00f 350.5px,#00f 401px)}
.z2g118{background:linear-gradient(#005fff 0,#005fff 4.5px,#0051ff 15.5px,#0018ff 51.5px,#001dff 60.5px,#0042ff 80.5px,#0058ff 116.5px,#0065ff 153.5px,#00a7ff 216.5px,#00a0ff 225.5px,#009aff 246.5px,#0082ff 261.5px,#0062ff 276.5px,#0062ff 291.5px,#004fff 315.5px,#0047ff 321.5px,#0028ff 327.5px,#0016ff 332.5px,#000cff 335.5px,#0006ff 340.5px,#00f 348.5px,#00f 401px)}
.z2g119{background:linear-gradient(#007bff 0,#0083ff 5.5px,#0061ff 29.5px,#003dff 50.5px,#0040ff 57.5px,#0042ff 60.5px,#0069ff 80.5px,#00aeff 150.5px,#00dffc 166.5px,#09f1ee 203.5px,#0af2ed 215.5px,#00e6f7 223.5px,#00dcff 230.5px,#00cbff 244.5px,#0094ff 265.5px,#0075ff 275.5px,#0062ff 306.5px,#004fff 321.5px,#002aff 328.5px,#000dff 337.5px,#00f 350.5px,#00f 401px)}
.z2g120{background:linear-gradient(#0086ff 0,#0092ff 5.5px,#006eff 30.5px,#004dff 49.5px,#004cff 52.5px,#0051ff 60.5px,#0079ff 80.5px,#00c9ff 150.5px,#00dbff 155.5px,#01e7f6 158.5px,#17ffe0 165.5px,#29ffcd 192.5px,#34ffc3 215.5px,#15ffe2 246.5px,#01e7f6 254.5px,#00dbff 258.5px,#00c7ff 265.5px,#00a2ff 275.5px,#009bff 290.5px,#0089ff 308.5px,#0070ff 321.5px,#0046ff 328.5px,#0025ff 335.5px,#0008ff 350.5px,#00f 356.5px,#00f 401px)}
.z2g121{background:linear-gradient(#008bff 0,#0097ff 4.5px,#0096ff 6.5px,#0075ff 29.5px,#0057ff 46.5px,#0052ff 52.5px,#0058ff 61.5px,#007fff 80.5px,#00c7ff 141.5px,#00d3ff 150.5px,#00daff 152.5px,#01e6f6 155.5px,#17ffe0 162.5px,#23ffd4 166.5px,#2affcd 175.5px,#3cffba 214.5px,#22ffd5 243.5px,#17ffe0 248.5px,#00e6f7 257.5px,#00ddfe 260.5px,#00a6ff 276.5px,#00a0ff 290.5px,#008bff 310.5px,#0074ff 321.5px,#0049ff 328.5px,#0027ff 335.5px,#0009ff 350.5px,#00f 357.5px,#00f 401px)}
.z2g122{background:linear-gradient(#007bff 0,#0083ff 5.5px,#0061ff 29.5px,#003dff 50.5px,#0040ff 57.5px,#0042ff 60.5px,#0069ff 80.5px,#00aeff 150.5px,#00dffc 166.5px,#00e6f7 171.5px,#12fce5 190.5px,#26ffd1 214.5px,#15ffe2 244.5px,#01e6f6 254.5px,#00dcff 258.5px,#00c9ff 265.5px,#00a5ff 275.5px,#00a0ff 291.5px,#0096ff 301.5px,#008cff 310.5px,#0075ff 321.5px,#004aff 328.5px,#0024ff 336.5px,#000bff 349.5px,#00f 357.5px,#00f 401px)}
.z2g123{background:linear-gradient(#0076ff 0,#007dff 5.5px,#0059ff 30.5px,#0038ff 49.5px,#0038ff 54.5px,#003dff 61.5px,#0061ff 79.5px,#0087ff 117.5px,#00a2ff 150.5px,#00cfff 166.5px,#00dbff 174.5px,#00e6f7 182.5px,#13fee3 200.5px,#22ffd5 215.5px,#15ffe2 244.5px,#00e6f7 255.5px,#00dbff 259.5px,#00c8ff 266.5px,#00a8ff 275.5px,#00a3ff 292.5px,#0090ff 310.5px,#007dff 319.5px,#0073ff 322.5px,#004dff 328.5px,#0026ff 336.5px,#000aff 350.5px,#00f 357.5px,#00f 401px)}
.z2g124{background:linear-gradient(#007dff 0,#0086ff 5.5px,#0064ff 29.5px,#0040ff 50.5px,#0043ff 57.5px,#0045ff 60.5px,#006bff 79.5px,#0093ff 115.5px,#00b1ff 148.5px,#00b6ff 151.5px,#00dbff 162.5px,#01e7f6 166.5px,#15ffe2 185.5px,#2fffc7 214.5px,#22ffd5 243.5px,#16ffe1 249.5px,#00e6f6 259.5px,#00dbff 263.5px,#00b0ff 275.5px,#00abff 291.5px,#00a4ff 298.5px,#0096ff 310.5px,#007eff 321.5px,#004cff 329.5px,#002dff 335.5px,#000cff 350.5px,#00f 358.5px,#00f 401px)}
.z2g125{background:linear-gradient(#0091ff 0,#009fff 4.5px,#009dff 7.5px,#005bff 49.5px,#005aff 52.5px,#005fff 60.5px,#0089ff 81.5px,#00dcff 146.5px,#00e5f7 151.5px,#17ffdf 158.5px,#31ffc5 166.5px,#50ffa7 203.5px,#56ffa1 215.5px,#40ffb7 243.5px,#16ffe1 260.5px,#00e4f8 268.5px,#00dcfe 270.5px,#00c7ff 275.5px,#00bfff 291.5px,#0af 309.5px,#0090ff 320.5px,#08f 322.5px,#0065ff 327.5px,#0037ff 335.5px,#0010ff 350.5px,#00f 359.5px,#00f 401px)}
.z2g126{background:linear-gradient(#0089ff 0,#0095ff 4.5px,#0092ff 7.5px,#0050ff 49.5px,#004fff 52.5px,#0054ff 60.5px,#007cff 80.5px,#00ceff 150.5px,#00ddfe 154.5px,#00e5f7 156.5px,#16ffe1 163.5px,#1dffd9 166.5px,#25ffd2 175.5px,#38ffbe 215.5px,#1fffd8 243.5px,#16ffe1 247.5px,#00e5f7 256.5px,#00dcfe 259.5px,#00a3ff 276.5px,#009dff 291.5px,#0089ff 310.5px,#0072ff 321.5px,#004dff 327.5px,#0026ff 335.5px,#01f 345.5px,#00f 357.5px,#00f 401px)}
.z2g127{background:linear-gradient(#007fff 0,#0089ff 5.5px,#0067ff 29.5px,#0043ff 50.5px,#0046ff 57.5px,#0048ff 60.5px,#006eff 79.5px,#0096ff 114.5px,#00b9ff 150.5px,#00dbff 160.5px,#00e5f7 163.5px,#06ecf1 165.5px,#0df6ea 173.5px,#14ffe2 184.5px,#26ffd1 215.5px,#14ffe2 235.5px,#0ff8e8 243.5px,#00e6f7 250.5px,#00dbff 254.5px,#00b9ff 266.5px,#09f 275.5px,#0092ff 292.5px,#0080ff 310.5px,#006aff 321.5px,#0041ff 328.5px,#0021ff 335.5px,#000bff 347.5px,#00f 356.5px,#00f 401px)}
.z2g128{background:linear-gradient(#007dff 0,#0086ff 5.5px,#0064ff 29.5px,#0040ff 50.5px,#0043ff 57.5px,#0045ff 60.5px,#006bff 79.5px,#00b4ff 150.5px,#00dbff 162.5px,#01e7f6 166.5px,#15ffe2 193.5px,#21ffd6 215.5px,#15ffe2 228.5px,#08efef 245.5px,#01e7f6 248.5px,#00dcff 252.5px,#00b9ff 265.5px,#0096ff 275.5px,#0090ff 291.5px,#007cff 311.5px,#0069ff 321.5px,#0045ff 327.5px,#0020ff 335.5px,#0006ff 350.5px,#00f 356.5px,#00f 401px)}
.z2g129{background:linear-gradient(#0086ff 0,#0092ff 5.5px,#006eff 30.5px,#004dff 49.5px,#004cff 52.5px,#0051ff 60.5px,#0079ff 80.5px,#00c9ff 150.5px,#00dbff 155.5px,#01e7f6 158.5px,#17ffe0 165.5px,#26ffd0 184.5px,#39ffbe 215.5px,#20ffd6 244.5px,#15ffe2 249.5px,#00e5f7 258.5px,#00dcfe 261.5px,#00a9ff 276.5px,#00a3ff 291.5px,#009bff 299.5px,#008fff 310.5px,#007cff 319.5px,#0072ff 322.5px,#004cff 328.5px,#0029ff 335.5px,#000aff 350.5px,#00f 357.5px,#00f 401px)}
.z2g130{background:linear-gradient(#0084ff 0,#008fff 5.5px,#0049ff 50.5px,#004cff 57.5px,#004eff 60.5px,#0076ff 80.5px,#00c4ff 150.5px,#00d9ff 156.5px,#00e4f8 159.5px,#11fbe6 165.5px,#14ffe3 168.5px,#2fffc8 213.5px,#15ffe1 244.5px,#00e6f7 253.5px,#00daff 257.5px,#00c0ff 266.5px,#009fff 275.5px,#0098ff 291.5px,#0084ff 310.5px,#006eff 321.5px,#004aff 327.5px,#0024ff 335.5px,#0009ff 349.5px,#00f 356.5px,#00f 401px)}
#sp b{position:absolute;display:block;left:0;width:100%}
#sp u{position:absolute;display:block}
</style></head><body>
<div id="sp"><i class="z0 z0g0" style="left:0px;width:16px"></i><i class="z0 z0g1" style="left:16px;width:16px"></i><i class="z0 z0g2" style="left:32px;width:16px"></i><i class="z0 z0g3" style="left:48px;width:16px"></i><i class="z0 z0g4" style="left:64px;width:5px"></i><i class="z0 z0g5" style="left:69px;width:1px"></i><i class="z0 z0g4" style="left:70px;width:10px"></i><i class="z0 z0g6" style="left:80px;width:16px"></i><i class="z0 z0g7" style="left:96px;width:16px"></i><i class="z0 z0g8" style="left:112px;width:16px"></i><i class="z0 z0g9" style="left:128px;width:7px"></i><i class="z0 z0g10" style="left:135px;width:9px"></i><i class="z0 z0g11" style="left:144px;width:16px"></i><i class="z0 z0g12" style="left:160px;width:1px"></i><i class="z0 z0g13" style="left:161px;width:15px"></i><i class="z0 z0g14" style="left:176px;width:16px"></i><i class="z0 z0g15" style="left:192px;width:5px"></i><i class="z0 z0g16" style="left:197px;width:5px"></i><i class="z0 z0g15" style="left:202px;width:2px"></i><i class="z0 z0g16" style="left:204px;width:4px"></i><i class="z0 z0g17" style="left:208px;width:8px"></i><i class="z0 z0g18" style="left:216px;width:4px"></i><i class="z0 z0g19" style="left:220px;width:2px"></i><i class="z0 z0g18" style="left:222px;width:2px"></i><i class="z0 z0g20" style="left:224px;width:2px"></i><i class="z0 z0g21" style="left:226px;width:2px"></i><i class="z0 z0g22" style="left:228px;width:12px"></i><i class="z0 z0g23" style="left:240px;width:1px"></i><i class="z0 z0g24" style="left:241px;width:2px"></i><i class="z0 z0g25" style="left:243px;width:8px"></i><i class="z0 z0g24" style="left:251px;width:5px"></i><i class="z0 z0g26" style="left:256px;width:3px"></i><i class="z0 z0g27" style="left:259px;width:11px"></i><i class="z0 z0g26" style="left:270px;width:2px"></i><i class="z0 z0g28" style="left:272px;width:7px"></i><i class="z0 z0g29" style="left:279px;width:2px"></i><i class="z0 z0g30" style="left:281px;width:1px"></i><i class="z0 z0g31" style="left:282px;width:6px"></i><i class="z0 z0g32" style="left:288px;width:13px"></i><i class="z0 z0g33" style="left:301px;width:1px"></i><i class="z0 z0g34" style="left:302px;width:2px"></i><i class="z0 z0g35" style="left:304px;width:5px"></i><i class="z0 z0g36" style="left:309px;width:8px"></i><i class="z0 z0g37" style="left:317px;width:2px"></i><i class="z0 z0g36" style="left:319px;width:1px"></i><i class="z0 z0g38" style="left:320px;width:15px"></i><i class="z0 z0g39" style="left:335px;width:1px"></i><i class="z0 z0g40" style="left:336px;width:7px"></i><i class="z0 z0g41" style="left:343px;width:6px"></i><i class="z0 z0g40" style="left:349px;width:3px"></i><i class="z0 z0g42" style="left:352px;width:8px"></i><i class="z0 z0g43" style="left:360px;width:3px"></i><i class="z0 z0g42" style="left:363px;width:4px"></i><i class="z0 z0g43" style="left:367px;width:1px"></i><i class="z0 z0g44" style="left:368px;width:5px"></i><i class="z0 z0g45" style="left:373px;width:6px"></i><i class="z0 z0g44" style="left:379px;width:4px"></i><i class="z0 z0g45" style="left:383px;width:1px"></i><i class="z0 z0g46" style="left:384px;width:3px"></i><i class="z0 z0g47" style="left:387px;width:2px"></i><i class="z0 z0g48" style="left:389px;width:2px"></i><i class="z0 z0g47" style="left:391px;width:2px"></i><i class="z0 z0g46" style="left:393px;width:4px"></i><i class="z0 z0g47" style="left:397px;width:3px"></i><i class="z0 z0g49" style="left:400px;width:1px"></i><i class="z0 z0g50" style="left:401px;width:3px"></i><i class="z0 z0g51" style="left:404px;width:4px"></i><i class="z0 z0g50" style="left:408px;width:5px"></i><i class="z0 z0g51" style="left:413px;width:3px"></i><i class="z0 z0g52" style="left:416px;width:1px"></i><i class="z0 z0g53" style="left:417px;width:6px"></i><i class="z0 z0g52" style="left:423px;width:3px"></i><i class="z0 z0g53" style="left:426px;width:4px"></i><i class="z0 z0g54" style="left:430px;width:1px"></i><i class="z0 z0g55" style="left:431px;width:1px"></i><i class="z0 z0g56" style="left:432px;width:16px"></i><i class="z0 z0g57" style="left:448px;width:16px"></i><i class="z0 z0g58" style="left:464px;width:16px"></i><i class="z0 z0g59" style="left:480px;width:16px"></i><i class="z0 z0g60" style="left:496px;width:2px"></i><i class="z0 z0g61" style="left:498px;width:2px"></i><i class="z0 z0g62" style="left:500px;width:1px"></i><i class="z0 z0g63" style="left:501px;width:3px"></i><i class="z0 z0g64" style="left:504px;width:6px"></i><i class="z0 z0g63" style="left:510px;width:2px"></i><i class="z0 z0g65" style="left:512px;width:3px"></i><i class="z0 z0g66" style="left:515px;width:13px"></i><i class="z0 z0g67" style="left:528px;width:3px"></i><i class="z0 z0g68" style="left:531px;width:3px"></i><i class="z0 z0g67" style="left:534px;width:10px"></i><i class="z0 z0g69" style="left:544px;width:2px"></i><i class="z0 z0g70" style="left:546px;width:4px"></i><i class="z0 z0g69" style="left:550px;width:6px"></i><i class="z0 z0g70" style="left:556px;width:4px"></i><i class="z0 z0g71" style="left:560px;width:4px"></i><i class="z0 z0g72" style="left:564px;width:6px"></i><i class="z0 z0g71" style="left:570px;width:2px"></i><i class="z0 z0g72" style="left:572px;width:4px"></i><i class="z0 z0g73" style="left:576px;width:3px"></i><i class="z0 z0g74" style="left:579px;width:5px"></i><i class="z0 z0g73" style="left:584px;width:5px"></i><i class="z0 z0g74" style="left:589px;width:3px"></i><i class="z0 z0g75" style="left:592px;width:1px"></i><i class="z0 z0g76" style="left:593px;width:5px"></i><i class="z0 z0g75" style="left:598px;width:3px"></i><i class="z0 z0g76" style="left:601px;width:7px"></i><i class="z0 z0g77" style="left:608px;width:5px"></i><i class="z0 z0g78" style="left:613px;width:11px"></i><i class="z0 z0g79" style="left:624px;width:4px"></i><i class="z0 z0g80" style="left:628px;width:3px"></i><i class="z0 z0g79" style="left:631px;width:1px"></i><i class="z0 z0g81" style="left:632px;width:5px"></i><i class="z0 z0g82" style="left:637px;width:3px"></i><i class="z0 z0g83" style="left:640px;width:3px"></i><i class="z0 z0g84" style="left:643px;width:2px"></i><i class="z0 z0g85" style="left:645px;width:1px"></i><i class="z0 z0g86" style="left:646px;width:8px"></i><i class="z0 z0g84" style="left:654px;width:2px"></i><i class="z0 z0g87" style="left:656px;width:12px"></i><i class="z0 z0g88" style="left:668px;width:1px"></i><i class="z0 z0g89" style="left:669px;width:1px"></i><i class="z0 z0g90" style="left:670px;width:2px"></i><i class="z0 z0g91" style="left:672px;width:2px"></i><i class="z0 z0g92" style="left:674px;width:1px"></i><i class="z0 z0g93" style="left:675px;width:8px"></i><i class="z0 z0g92" style="left:683px;width:2px"></i><i class="z0 z0g91" style="left:685px;width:2px"></i><i class="z0 z0g92" style="left:687px;width:1px"></i><i class="z0 z0g94" style="left:688px;width:2px"></i><i class="z0 z0g95" style="left:690px;width:14px"></i><i class="z0 z0g96" style="left:704px;width:2px"></i><i class="z0 z0g97" style="left:706px;width:2px"></i><i class="z0 z0g98" style="left:708px;width:2px"></i><i class="z0 z0g99" style="left:710px;width:6px"></i><i class="z0 z0g98" style="left:716px;width:2px"></i><i class="z0 z0g97" style="left:718px;width:2px"></i><i class="z0 z0g100" style="left:720px;width:2px"></i><i class="z0 z0g101" style="left:722px;width:8px"></i><i class="z0 z0g102" style="left:730px;width:2px"></i><i class="z0 z0g101" style="left:732px;width:2px"></i><i class="z0 z0g100" style="left:734px;width:1px"></i><i class="z0 z0g103" style="left:735px;width:1px"></i><i class="z0 z0g104" style="left:736px;width:12px"></i><i class="z0 z0g105" style="left:748px;width:2px"></i><i class="z0 z0g106" style="left:750px;width:2px"></i><i class="z0 z0g107" style="left:752px;width:4px"></i><i class="z0 z0g108" style="left:756px;width:3px"></i><i class="z0 z0g107" style="left:759px;width:6px"></i><i class="z0 z0g109" style="left:765px;width:2px"></i><i class="z0 z0g110" style="left:767px;width:1px"></i><i class="z0 z0g111" style="left:768px;width:16px"></i><i class="z0 z0g112" style="left:784px;width:16px"></i><i class="z0 z0g113" style="left:800px;width:6px"></i><i class="z0 z0g114" style="left:806px;width:1px"></i><i class="z0 z0g115" style="left:807px;width:1px"></i><i class="z0 z0g116" style="left:808px;width:1px"></i><i class="z0 z0g115" style="left:809px;width:1px"></i><i class="z0 z0g114" style="left:810px;width:1px"></i><i class="z0 z0g113" style="left:811px;width:5px"></i><i class="z0 z0g117" style="left:816px;width:1px"></i><i class="z0 z0g118" style="left:817px;width:1px"></i><i class="z0 z0g119" style="left:818px;width:1px"></i><i class="z0 z0g120" style="left:819px;width:1px"></i><i class="z0 z0g118" style="left:820px;width:2px"></i><i class="z0 z0g120" style="left:822px;width:3px"></i><i class="z0 z0g118" style="left:825px;width:1px"></i><i class="z0 z0g120" style="left:826px;width:4px"></i><i class="z0 z0g118" style="left:830px;width:1px"></i><i class="z0 z0g120" style="left:831px;width:1px"></i><i class="z0 z0g121" style="left:832px;width:2px"></i><i class="z0 z0g122" style="left:834px;width:2px"></i><i class="z0 z0g121" style="left:836px;width:3px"></i><i class="z0 z0g122" style="left:839px;width:2px"></i><i class="z0 z0g121" style="left:841px;width:3px"></i><i class="z0 z0g122" style="left:844px;width:1px"></i><i class="z0 z0g121" style="left:845px;width:3px"></i><i class="z0 z0g123" style="left:848px;width:1px"></i><i class="z0 z0g124" style="left:849px;width:1px"></i><i class="z0 z0g123" style="left:850px;width:1px"></i><i class="z0 z0g125" style="left:851px;width:1px"></i><i class="z0 z0g124" style="left:852px;width:1px"></i><i class="z0 z0g126" style="left:853px;width:11px"></i><i class="z0 z0g127" style="left:864px;width:4px"></i><i class="z0 z0g128" style="left:868px;width:3px"></i><i class="z0 z0g127" style="left:871px;width:1px"></i><i class="z0 z0g129" style="left:872px;width:8px"></i><i class="z0 z0g130" style="left:880px;width:5px"></i><i class="z0 z0g131" style="left:885px;width:1px"></i><i class="z0 z0g132" style="left:886px;width:1px"></i><i class="z0 z0g133" style="left:887px;width:2px"></i><i class="z0 z0g132" style="left:889px;width:2px"></i><i class="z0 z0g131" style="left:891px;width:5px"></i><i class="z0 z0g134" style="left:896px;width:1px"></i><i class="z0 z0g135" style="left:897px;width:2px"></i><i class="z0 z0g136" style="left:899px;width:2px"></i><i class="z0 z0g134" style="left:901px;width:2px"></i><i class="z0 z0g136" style="left:903px;width:3px"></i><i class="z0 z0g134" style="left:906px;width:2px"></i><i class="z0 z0g136" style="left:908px;width:3px"></i><i class="z0 z0g134" style="left:911px;width:1px"></i><i class="z0 z0g137" style="left:912px;width:4px"></i><i class="z0 z0g138" style="left:916px;width:1px"></i><i class="z0 z0g137" style="left:917px;width:1px"></i><i class="z0 z0g139" style="left:918px;width:3px"></i><i class="z0 z0g138" style="left:921px;width:3px"></i><i class="z0 z0g139" style="left:924px;width:4px"></i><i class="z0 z0g140" style="left:928px;width:5px"></i><i class="z0 z0g141" style="left:933px;width:6px"></i><i class="z0 z0g140" style="left:939px;width:5px"></i><i class="z0 z0g142" style="left:944px;width:1px"></i><i class="z0 z0g143" style="left:945px;width:9px"></i><i class="z0 z0g142" style="left:954px;width:3px"></i><i class="z0 z0g143" style="left:957px;width:3px"></i><i class="z0 z0g144" style="left:960px;width:3px"></i><i class="z0 z0g145" style="left:963px;width:4px"></i><i class="z0 z0g144" style="left:967px;width:2px"></i><i class="z0 z0g146" style="left:969px;width:7px"></i><i class="z0 z0g147" style="left:976px;width:4px"></i><i class="z0 z0g148" style="left:980px;width:7px"></i><i class="z0 z0g147" style="left:987px;width:5px"></i><i class="z0 z0g149" style="left:992px;width:6px"></i><i class="z0 z0g150" style="left:998px;width:1px"></i><i class="z0 z0g151" style="left:999px;width:6px"></i><i class="z0 z0g150" style="left:1005px;width:3px"></i><i class="z0 z0g152" style="left:1008px;width:10px"></i><i class="z0 z0g153" style="left:1018px;width:6px"></i><i class="z0 z0g154" style="left:1024px;width:4px"></i><i class="z0 z0g155" style="left:1028px;width:7px"></i><i class="z0 z0g154" style="left:1035px;width:3px"></i><i class="z0 z0g155" style="left:1038px;width:2px"></i><i class="z0 z0g156" style="left:1040px;width:8px"></i><i class="z0 z0g157" style="left:1048px;width:8px"></i><i class="z0 z0g158" style="left:1056px;width:16px"></i><i class="z0 z0g159" style="left:1072px;width:4px"></i><i class="z0 z0g160" style="left:1076px;width:4px"></i><i class="z0 z0g161" style="left:1080px;width:3px"></i><i class="z0 z0g160" style="left:1083px;width:2px"></i><i class="z0 z0g161" style="left:1085px;width:2px"></i><i class="z0 z0g160" style="left:1087px;width:1px"></i><i class="z0 z0g162" style="left:1088px;width:1px"></i><i class="z0 z0g163" style="left:1089px;width:3px"></i><i class="z0 z0g162" style="left:1092px;width:1px"></i><i class="z0 z0g164" style="left:1093px;width:5px"></i><i class="z0 z0g162" style="left:1098px;width:2px"></i><i class="z0 z0g163" style="left:1100px;width:4px"></i><i class="z0 z0g165" style="left:1104px;width:2px"></i><i class="z0 z0g166" style="left:1106px;width:14px"></i><i class="z0 z0g167" style="left:1120px;width:10px"></i><i class="z0 z0g168" style="left:1130px;width:1px"></i><i class="z0 z0g169" style="left:1131px;width:5px"></i><i class="z0 z0g170" style="left:1136px;width:2px"></i><i class="z0 z0g171" style="left:1138px;width:14px"></i><i class="z0 z0g172" style="left:1152px;width:16px"></i><i class="z0 z0g173" style="left:1168px;width:9px"></i><i class="z1 z1g0" style="left:0px;width:16px"></i><i class="z1 z1g1" style="left:16px;width:16px"></i><i class="z1 z1g2" style="left:32px;width:16px"></i><i class="z1 z1g3" style="left:48px;width:16px"></i><i class="z1 z1g4" style="left:64px;width:2px"></i><i class="z1 z1g5" style="left:66px;width:7px"></i><i class="z1 z1g4" style="left:73px;width:7px"></i><i class="z1 z1g6" style="left:80px;width:10px"></i><i class="z1 z1g7" style="left:90px;width:6px"></i><i class="z1 z1g8" style="left:96px;width:1px"></i><i class="z1 z1g9" style="left:97px;width:15px"></i><i class="z1 z1g10" style="left:112px;width:16px"></i><i class="z1 z1g11" style="left:128px;width:4px"></i><i class="z1 z1g12" style="left:132px;width:7px"></i><i class="z1 z1g13" style="left:139px;width:1px"></i><i class="z1 z1g12" style="left:140px;width:4px"></i><i class="z1 z1g14" style="left:144px;width:16px"></i><i class="z1 z1g15" style="left:160px;width:1px"></i><i class="z1 z1g16" style="left:161px;width:1px"></i><i class="z1 z1g17" style="left:162px;width:14px"></i><i class="z1 z1g18" style="left:176px;width:16px"></i><i class="z1 z1g19" style="left:192px;width:4px"></i><i class="z1 z1g20" style="left:196px;width:1px"></i><i class="z1 z1g21" style="left:197px;width:1px"></i><i class="z1 z1g22" style="left:198px;width:3px"></i><i class="z1 z1g21" style="left:201px;width:1px"></i><i class="z1 z1g20" style="left:202px;width:2px"></i><i class="z1 z1g21" style="left:204px;width:1px"></i><i class="z1 z1g22" style="left:205px;width:2px"></i><i class="z1 z1g21" style="left:207px;width:1px"></i><i class="z1 z1g23" style="left:208px;width:1px"></i><i class="z1 z1g24" style="left:209px;width:6px"></i><i class="z1 z1g25" style="left:215px;width:1px"></i><i class="z1 z1g26" style="left:216px;width:1px"></i><i class="z1 z1g27" style="left:217px;width:1px"></i><i class="z1 z1g28" style="left:218px;width:6px"></i><i class="z1 z1g29" style="left:224px;width:1px"></i><i class="z1 z1g30" style="left:225px;width:1px"></i><i class="z1 z1g31" style="left:226px;width:1px"></i><i class="z1 z1g32" style="left:227px;width:1px"></i><i class="z1 z1g33" style="left:228px;width:12px"></i><i class="z1 z1g34" style="left:240px;width:1px"></i><i class="z1 z1g35" style="left:241px;width:1px"></i><i class="z1 z1g36" style="left:242px;width:1px"></i><i class="z1 z1g37" style="left:243px;width:1px"></i><i class="z1 z1g38" style="left:244px;width:1px"></i><i class="z1 z1g39" style="left:245px;width:4px"></i><i class="z1 z1g38" style="left:249px;width:1px"></i><i class="z1 z1g37" style="left:250px;width:1px"></i><i class="z1 z1g40" style="left:251px;width:1px"></i><i class="z1 z1g35" style="left:252px;width:4px"></i><i class="z1 z1g41" style="left:256px;width:2px"></i><i class="z1 z1g42" style="left:258px;width:1px"></i><i class="z1 z1g43" style="left:259px;width:1px"></i><i class="z1 z1g44" style="left:260px;width:9px"></i><i class="z1 z1g43" style="left:269px;width:1px"></i><i class="z1 z1g42" style="left:270px;width:1px"></i><i class="z1 z1g41" style="left:271px;width:1px"></i><i class="z1 z1g45" style="left:272px;width:7px"></i><i class="z1 z1g46" style="left:279px;width:1px"></i><i class="z1 z1g47" style="left:280px;width:1px"></i><i class="z1 z1g48" style="left:281px;width:1px"></i><i class="z1 z1g49" style="left:282px;width:1px"></i><i class="z1 z1g50" style="left:283px;width:5px"></i><i class="z1 z1g51" style="left:288px;width:13px"></i><i class="z1 z1g52" style="left:301px;width:1px"></i><i class="z1 z1g53" style="left:302px;width:1px"></i><i class="z1 z1g54" style="left:303px;width:1px"></i><i class="z1 z1g55" style="left:304px;width:4px"></i><i class="z1 z1g56" style="left:308px;width:1px"></i><i class="z1 z1g57" style="left:309px;width:7px"></i><i class="z1 z1g58" style="left:316px;width:1px"></i><i class="z1 z1g59" style="left:317px;width:2px"></i><i class="z1 z1g58" style="left:319px;width:1px"></i><i class="z1 z1g60" style="left:320px;width:14px"></i><i class="z1 z1g61" style="left:334px;width:1px"></i><i class="z1 z1g62" style="left:335px;width:1px"></i><i class="z1 z1g63" style="left:336px;width:7px"></i><i class="z1 z1g64" style="left:343px;width:1px"></i><i class="z1 z1g65" style="left:344px;width:4px"></i><i class="z1 z1g64" style="left:348px;width:1px"></i><i class="z1 z1g63" style="left:349px;width:1px"></i><i class="z1 z1g66" style="left:350px;width:2px"></i><i class="z1 z1g67" style="left:352px;width:7px"></i><i class="z1 z1g68" style="left:359px;width:1px"></i><i class="z1 z1g69" style="left:360px;width:1px"></i><i class="z1 z1g70" style="left:361px;width:2px"></i><i class="z1 z1g69" style="left:363px;width:1px"></i><i class="z1 z1g68" style="left:364px;width:2px"></i><i class="z1 z1g69" style="left:366px;width:1px"></i><i class="z1 z1g70" style="left:367px;width:1px"></i><i class="z1 z1g71" style="left:368px;width:1px"></i><i class="z1 z1g72" style="left:369px;width:3px"></i><i class="z1 z1g71" style="left:372px;width:1px"></i><i class="z1 z1g73" style="left:373px;width:1px"></i><i class="z1 z1g74" style="left:374px;width:4px"></i><i class="z1 z1g73" style="left:378px;width:1px"></i><i class="z1 z1g71" style="left:379px;width:4px"></i><i class="z1 z1g73" style="left:383px;width:1px"></i><i class="z1 z1g75" style="left:384px;width:3px"></i><i class="z1 z1g76" style="left:387px;width:1px"></i><i class="z1 z1g77" style="left:388px;width:1px"></i><i class="z1 z1g78" style="left:389px;width:2px"></i><i class="z1 z1g77" style="left:391px;width:1px"></i><i class="z1 z1g76" style="left:392px;width:1px"></i><i class="z1 z1g75" style="left:393px;width:4px"></i><i class="z1 z1g79" style="left:397px;width:1px"></i><i class="z1 z1g80" style="left:398px;width:1px"></i><i class="z1 z1g77" style="left:399px;width:1px"></i><i class="z1 z1g81" style="left:400px;width:1px"></i><i class="z1 z1g82" style="left:401px;width:2px"></i><i class="z1 z1g83" style="left:403px;width:1px"></i><i class="z1 z1g84" style="left:404px;width:1px"></i><i class="z1 z1g85" style="left:405px;width:2px"></i><i class="z1 z1g84" style="left:407px;width:1px"></i><i class="z1 z1g83" style="left:408px;width:1px"></i><i class="z1 z1g86" style="left:409px;width:1px"></i><i class="z1 z1g82" style="left:410px;width:1px"></i><i class="z1 z1g86" style="left:411px;width:1px"></i><i class="z1 z1g83" style="left:412px;width:1px"></i><i class="z1 z1g84" style="left:413px;width:1px"></i><i class="z1 z1g85" style="left:414px;width:2px"></i><i class="z1 z1g87" style="left:416px;width:1px"></i><i class="z1 z1g88" style="left:417px;width:1px"></i><i class="z1 z1g89" style="left:418px;width:1px"></i><i class="z1 z1g90" style="left:419px;width:2px"></i><i class="z1 z1g89" style="left:421px;width:1px"></i><i class="z1 z1g88" style="left:422px;width:1px"></i><i class="z1 z1g87" style="left:423px;width:4px"></i><i class="z1 z1g88" style="left:427px;width:1px"></i><i class="z1 z1g89" style="left:428px;width:2px"></i><i class="z1 z1g91" style="left:430px;width:1px"></i><i class="z1 z1g92" style="left:431px;width:1px"></i><i class="z1 z1g93" style="left:432px;width:16px"></i><i class="z1 z1g94" style="left:448px;width:16px"></i><i class="z1 z1g95" style="left:464px;width:16px"></i><i class="z1 z1g96" style="left:480px;width:16px"></i><i class="z1 z1g97" style="left:496px;width:3px"></i><i class="z1 z1g98" style="left:499px;width:1px"></i><i class="z1 z1g99" style="left:500px;width:1px"></i><i class="z1 z1g100" style="left:501px;width:3px"></i><i class="z1 z1g101" style="left:504px;width:1px"></i><i class="z1 z1g102" style="left:505px;width:4px"></i><i class="z1 z1g101" style="left:509px;width:1px"></i><i class="z1 z1g100" style="left:510px;width:2px"></i><i class="z1 z1g103" style="left:512px;width:3px"></i><i class="z1 z1g104" style="left:515px;width:1px"></i><i class="z1 z1g105" style="left:516px;width:1px"></i><i class="z1 z1g106" style="left:517px;width:1px"></i><i class="z1 z1g107" style="left:518px;width:1px"></i><i class="z1 z1g106" style="left:519px;width:2px"></i><i class="z1 z1g104" style="left:521px;width:4px"></i><i class="z1 z1g105" style="left:525px;width:1px"></i><i class="z1 z1g106" style="left:526px;width:2px"></i><i class="z1 z1g108" style="left:528px;width:1px"></i><i class="z1 z1g109" style="left:529px;width:1px"></i><i class="z1 z1g110" style="left:530px;width:1px"></i><i class="z1 z1g111" style="left:531px;width:3px"></i><i class="z1 z1g110" style="left:534px;width:1px"></i><i class="z1 z1g109" style="left:535px;width:1px"></i><i class="z1 z1g108" style="left:536px;width:5px"></i><i class="z1 z1g110" style="left:541px;width:3px"></i><i class="z1 z1g112" style="left:544px;width:1px"></i><i class="z1 z1g113" style="left:545px;width:1px"></i><i class="z1 z1g114" style="left:546px;width:4px"></i><i class="z1 z1g115" style="left:550px;width:1px"></i><i class="z1 z1g112" style="left:551px;width:1px"></i><i class="z1 z1g116" style="left:552px;width:2px"></i><i class="z1 z1g112" style="left:554px;width:1px"></i><i class="z1 z1g115" style="left:555px;width:1px"></i><i class="z1 z1g114" style="left:556px;width:3px"></i><i class="z1 z1g115" style="left:559px;width:1px"></i><i class="z1 z1g117" style="left:560px;width:3px"></i><i class="z1 z1g118" style="left:563px;width:1px"></i><i class="z1 z1g119" style="left:564px;width:1px"></i><i class="z1 z1g120" style="left:565px;width:4px"></i><i class="z1 z1g121" style="left:569px;width:1px"></i><i class="z1 z1g117" style="left:570px;width:2px"></i><i class="z1 z1g121" style="left:572px;width:1px"></i><i class="z1 z1g120" style="left:573px;width:3px"></i><i class="z1 z1g122" style="left:576px;width:2px"></i><i class="z1 z1g123" style="left:578px;width:1px"></i><i class="z1 z1g124" style="left:579px;width:1px"></i><i class="z1 z1g125" style="left:580px;width:3px"></i><i class="z1 z1g124" style="left:583px;width:1px"></i><i class="z1 z1g123" style="left:584px;width:1px"></i><i class="z1 z1g126" style="left:585px;width:3px"></i><i class="z1 z1g123" style="left:588px;width:1px"></i><i class="z1 z1g127" style="left:589px;width:1px"></i><i class="z1 z1g124" style="left:590px;width:2px"></i><i class="z1 z1g128" style="left:592px;width:1px"></i><i class="z1 z1g129" style="left:593px;width:1px"></i><i class="z1 z1g130" style="left:594px;width:3px"></i><i class="z1 z1g129" style="left:597px;width:1px"></i><i class="z1 z1g128" style="left:598px;width:3px"></i><i class="z1 z1g130" style="left:601px;width:1px"></i><i class="z1 z1g131" style="left:602px;width:5px"></i><i class="z1 z1g130" style="left:607px;width:1px"></i><i class="z1 z1g132" style="left:608px;width:1px"></i><i class="z1 z1g133" style="left:609px;width:3px"></i><i class="z1 z1g132" style="left:612px;width:1px"></i><i class="z1 z1g134" style="left:613px;width:3px"></i><i class="z1 z1g135" style="left:616px;width:8px"></i><i class="z1 z1g136" style="left:624px;width:3px"></i><i class="z1 z1g137" style="left:627px;width:1px"></i><i class="z1 z1g138" style="left:628px;width:1px"></i><i class="z1 z1g139" style="left:629px;width:2px"></i><i class="z1 z1g137" style="left:631px;width:1px"></i><i class="z1 z1g140" style="left:632px;width:1px"></i><i class="z1 z1g141" style="left:633px;width:1px"></i><i class="z1 z1g142" style="left:634px;width:6px"></i><i class="z1 z1g143" style="left:640px;width:4px"></i><i class="z1 z1g144" style="left:644px;width:1px"></i><i class="z1 z1g145" style="left:645px;width:1px"></i><i class="z1 z1g146" style="left:646px;width:1px"></i><i class="z1 z1g147" style="left:647px;width:6px"></i><i class="z1 z1g146" style="left:653px;width:1px"></i><i class="z1 z1g148" style="left:654px;width:1px"></i><i class="z1 z1g143" style="left:655px;width:1px"></i><i class="z1 z1g149" style="left:656px;width:11px"></i><i class="z1 z1g150" style="left:667px;width:1px"></i><i class="z1 z1g151" style="left:668px;width:1px"></i><i class="z1 z1g152" style="left:669px;width:1px"></i><i class="z1 z1g153" style="left:670px;width:2px"></i><i class="z1 z1g154" style="left:672px;width:1px"></i><i class="z1 z1g155" style="left:673px;width:1px"></i><i class="z1 z1g156" style="left:674px;width:1px"></i><i class="z1 z1g157" style="left:675px;width:8px"></i><i class="z1 z1g156" style="left:683px;width:1px"></i><i class="z1 z1g155" style="left:684px;width:1px"></i><i class="z1 z1g158" style="left:685px;width:2px"></i><i class="z1 z1g155" style="left:687px;width:1px"></i><i class="z1 z1g159" style="left:688px;width:1px"></i><i class="z1 z1g160" style="left:689px;width:1px"></i><i class="z1 z1g161" style="left:690px;width:14px"></i><i class="z1 z1g162" style="left:704px;width:1px"></i><i class="z1 z1g163" style="left:705px;width:1px"></i><i class="z1 z1g164" style="left:706px;width:1px"></i><i class="z1 z1g165" style="left:707px;width:1px"></i><i class="z1 z1g166" style="left:708px;width:1px"></i><i class="z1 z1g167" style="left:709px;width:1px"></i><i class="z1 z1g168" style="left:710px;width:6px"></i><i class="z1 z1g167" style="left:716px;width:1px"></i><i class="z1 z1g166" style="left:717px;width:1px"></i><i class="z1 z1g169" style="left:718px;width:2px"></i><i class="z1 z1g170" style="left:720px;width:3px"></i><i class="z1 z1g171" style="left:723px;width:4px"></i><i class="z1 z1g172" style="left:727px;width:1px"></i><i class="z1 z1g173" style="left:728px;width:5px"></i><i class="z1 z1g171" style="left:733px;width:1px"></i><i class="z1 z1g174" style="left:734px;width:1px"></i><i class="z1 z1g175" style="left:735px;width:1px"></i><i class="z1 z1g176" style="left:736px;width:13px"></i><i class="z1 z1g177" style="left:749px;width:1px"></i><i class="z1 z1g178" style="left:750px;width:1px"></i><i class="z1 z1g179" style="left:751px;width:1px"></i><i class="z1 z1g180" style="left:752px;width:3px"></i><i class="z1 z1g181" style="left:755px;width:1px"></i><i class="z1 z1g182" style="left:756px;width:1px"></i><i class="z1 z1g183" style="left:757px;width:1px"></i><i class="z1 z1g182" style="left:758px;width:1px"></i><i class="z1 z1g181" style="left:759px;width:1px"></i><i class="z1 z1g180" style="left:760px;width:1px"></i><i class="z1 z1g184" style="left:761px;width:4px"></i><i class="z1 z1g185" style="left:765px;width:1px"></i><i class="z1 z1g186" style="left:766px;width:1px"></i><i class="z1 z1g187" style="left:767px;width:1px"></i><i class="z1 z1g188" style="left:768px;width:16px"></i><i class="z1 z1g189" style="left:784px;width:16px"></i><i class="z1 z1g190" style="left:800px;width:5px"></i><i class="z1 z1g191" style="left:805px;width:1px"></i><i class="z1 z1g192" style="left:806px;width:1px"></i><i class="z1 z1g193" style="left:807px;width:1px"></i><i class="z1 z1g194" style="left:808px;width:1px"></i><i class="z1 z1g193" style="left:809px;width:1px"></i><i class="z1 z1g192" style="left:810px;width:1px"></i><i class="z1 z1g190" style="left:811px;width:5px"></i><i class="z1 z1g195" style="left:816px;width:1px"></i><i class="z1 z1g196" style="left:817px;width:1px"></i><i class="z1 z1g197" style="left:818px;width:1px"></i><i class="z1 z1g198" style="left:819px;width:1px"></i><i class="z1 z1g199" style="left:820px;width:2px"></i><i class="z1 z1g200" style="left:822px;width:3px"></i><i class="z1 z1g199" style="left:825px;width:1px"></i><i class="z1 z1g200" style="left:826px;width:4px"></i><i class="z1 z1g199" style="left:830px;width:1px"></i><i class="z1 z1g200" style="left:831px;width:1px"></i><i class="z1 z1g201" style="left:832px;width:2px"></i><i class="z1 z1g202" style="left:834px;width:2px"></i><i class="z1 z1g201" style="left:836px;width:3px"></i><i class="z1 z1g202" style="left:839px;width:2px"></i><i class="z1 z1g201" style="left:841px;width:3px"></i><i class="z1 z1g202" style="left:844px;width:1px"></i><i class="z1 z1g201" style="left:845px;width:3px"></i><i class="z1 z1g203" style="left:848px;width:1px"></i><i class="z1 z1g204" style="left:849px;width:1px"></i><i class="z1 z1g205" style="left:850px;width:1px"></i><i class="z1 z1g206" style="left:851px;width:1px"></i><i class="z1 z1g204" style="left:852px;width:1px"></i><i class="z1 z1g207" style="left:853px;width:3px"></i><i class="z1 z1g208" style="left:856px;width:8px"></i><i class="z1 z1g209" style="left:864px;width:2px"></i><i class="z1 z1g210" style="left:866px;width:1px"></i><i class="z1 z1g211" style="left:867px;width:1px"></i><i class="z1 z1g212" style="left:868px;width:1px"></i><i class="z1 z1g213" style="left:869px;width:1px"></i><i class="z1 z1g212" style="left:870px;width:1px"></i><i class="z1 z1g210" style="left:871px;width:1px"></i><i class="z1 z1g214" style="left:872px;width:1px"></i><i class="z1 z1g215" style="left:873px;width:7px"></i><i class="z1 z1g216" style="left:880px;width:4px"></i><i class="z1 z1g217" style="left:884px;width:1px"></i><i class="z1 z1g218" style="left:885px;width:1px"></i><i class="z1 z1g219" style="left:886px;width:1px"></i><i class="z1 z1g220" style="left:887px;width:2px"></i><i class="z1 z1g219" style="left:889px;width:1px"></i><i class="z1 z1g221" style="left:890px;width:1px"></i><i class="z1 z1g218" style="left:891px;width:4px"></i><i class="z1 z1g222" style="left:895px;width:1px"></i><i class="z1 z1g223" style="left:896px;width:1px"></i><i class="z1 z1g224" style="left:897px;width:1px"></i><i class="z1 z1g225" style="left:898px;width:1px"></i><i class="z1 z1g226" style="left:899px;width:2px"></i><i class="z1 z1g223" style="left:901px;width:2px"></i><i class="z1 z1g226" style="left:903px;width:3px"></i><i class="z1 z1g223" style="left:906px;width:2px"></i><i class="z1 z1g226" style="left:908px;width:3px"></i><i class="z1 z1g223" style="left:911px;width:1px"></i><i class="z1 z1g227" style="left:912px;width:4px"></i><i class="z1 z1g228" style="left:916px;width:1px"></i><i class="z1 z1g227" style="left:917px;width:1px"></i><i class="z1 z1g229" style="left:918px;width:1px"></i><i class="z1 z1g230" style="left:919px;width:1px"></i><i class="z1 z1g231" style="left:920px;width:4px"></i><i class="z1 z1g232" style="left:924px;width:1px"></i><i class="z1 z1g230" style="left:925px;width:3px"></i><i class="z1 z1g233" style="left:928px;width:5px"></i><i class="z1 z1g234" style="left:933px;width:1px"></i><i class="z1 z1g235" style="left:934px;width:4px"></i><i class="z1 z1g234" style="left:938px;width:2px"></i><i class="z1 z1g236" style="left:940px;width:4px"></i><i class="z1 z1g237" style="left:944px;width:1px"></i><i class="z1 z1g238" style="left:945px;width:1px"></i><i class="z1 z1g239" style="left:946px;width:1px"></i><i class="z1 z1g240" style="left:947px;width:6px"></i><i class="z1 z1g239" style="left:953px;width:1px"></i><i class="z1 z1g238" style="left:954px;width:1px"></i><i class="z1 z1g237" style="left:955px;width:1px"></i><i class="z1 z1g238" style="left:956px;width:1px"></i><i class="z1 z1g239" style="left:957px;width:2px"></i><i class="z1 z1g240" style="left:959px;width:1px"></i><i class="z1 z1g241" style="left:960px;width:1px"></i><i class="z1 z1g242" style="left:961px;width:2px"></i><i class="z1 z1g243" style="left:963px;width:1px"></i><i class="z1 z1g244" style="left:964px;width:3px"></i><i class="z1 z1g243" style="left:967px;width:1px"></i><i class="z1 z1g241" style="left:968px;width:1px"></i><i class="z1 z1g245" style="left:969px;width:7px"></i><i class="z1 z1g246" style="left:976px;width:4px"></i><i class="z1 z1g247" style="left:980px;width:1px"></i><i class="z1 z1g248" style="left:981px;width:1px"></i><i class="z1 z1g249" style="left:982px;width:3px"></i><i class="z1 z1g248" style="left:985px;width:1px"></i><i class="z1 z1g250" style="left:986px;width:1px"></i><i class="z1 z1g246" style="left:987px;width:1px"></i><i class="z1 z1g251" style="left:988px;width:4px"></i><i class="z1 z1g252" style="left:992px;width:4px"></i><i class="z1 z1g253" style="left:996px;width:1px"></i><i class="z1 z1g254" style="left:997px;width:1px"></i><i class="z1 z1g255" style="left:998px;width:1px"></i><i class="z1 z1g256" style="left:999px;width:5px"></i><i class="z1 z1g257" style="left:1004px;width:1px"></i><i class="z1 z1g258" style="left:1005px;width:1px"></i><i class="z1 z1g259" style="left:1006px;width:2px"></i><i class="z1 z1g260" style="left:1008px;width:7px"></i><i class="z1 z1g261" style="left:1015px;width:2px"></i><i class="z1 z1g262" style="left:1017px;width:1px"></i><i class="z1 z1g263" style="left:1018px;width:6px"></i><i class="z1 z1g264" style="left:1024px;width:2px"></i><i class="z1 z1g265" style="left:1026px;width:1px"></i><i class="z1 z1g264" style="left:1027px;width:1px"></i><i class="z1 z1g266" style="left:1028px;width:1px"></i><i class="z1 z1g267" style="left:1029px;width:5px"></i><i class="z1 z1g266" style="left:1034px;width:1px"></i><i class="z1 z1g264" style="left:1035px;width:3px"></i><i class="z1 z1g266" style="left:1038px;width:1px"></i><i class="z1 z1g267" style="left:1039px;width:1px"></i><i class="z1 z1g268" style="left:1040px;width:7px"></i><i class="z1 z1g269" style="left:1047px;width:1px"></i><i class="z1 z1g270" style="left:1048px;width:1px"></i><i class="z1 z1g271" style="left:1049px;width:7px"></i><i class="z1 z1g272" style="left:1056px;width:16px"></i><i class="z1 z1g273" style="left:1072px;width:3px"></i><i class="z1 z1g274" style="left:1075px;width:1px"></i><i class="z1 z1g275" style="left:1076px;width:1px"></i><i class="z1 z1g276" style="left:1077px;width:3px"></i><i class="z1 z1g277" style="left:1080px;width:1px"></i><i class="z1 z1g278" style="left:1081px;width:1px"></i><i class="z1 z1g279" style="left:1082px;width:1px"></i><i class="z1 z1g276" style="left:1083px;width:2px"></i><i class="z1 z1g279" style="left:1085px;width:2px"></i><i class="z1 z1g276" style="left:1087px;width:1px"></i><i class="z1 z1g280" style="left:1088px;width:1px"></i><i class="z1 z1g281" style="left:1089px;width:2px"></i><i class="z1 z1g282" style="left:1091px;width:1px"></i><i class="z1 z1g283" style="left:1092px;width:1px"></i><i class="z1 z1g284" style="left:1093px;width:1px"></i><i class="z1 z1g285" style="left:1094px;width:3px"></i><i class="z1 z1g284" style="left:1097px;width:1px"></i><i class="z1 z1g286" style="left:1098px;width:1px"></i><i class="z1 z1g280" style="left:1099px;width:1px"></i><i class="z1 z1g282" style="left:1100px;width:4px"></i><i class="z1 z1g287" style="left:1104px;width:1px"></i><i class="z1 z1g288" style="left:1105px;width:1px"></i><i class="z1 z1g289" style="left:1106px;width:14px"></i><i class="z1 z1g290" style="left:1120px;width:10px"></i><i class="z1 z1g291" style="left:1130px;width:1px"></i><i class="z1 z1g292" style="left:1131px;width:1px"></i><i class="z1 z1g293" style="left:1132px;width:4px"></i><i class="z1 z1g294" style="left:1136px;width:1px"></i><i class="z1 z1g295" style="left:1137px;width:1px"></i><i class="z1 z1g296" style="left:1138px;width:1px"></i><i class="z1 z1g297" style="left:1139px;width:1px"></i><i class="z1 z1g298" style="left:1140px;width:10px"></i><i class="z1 z1g297" style="left:1150px;width:2px"></i><i class="z1 z1g299" style="left:1152px;width:1px"></i><i class="z1 z1g300" style="left:1153px;width:1px"></i><i class="z1 z1g301" style="left:1154px;width:7px"></i><i class="z1 z1g300" style="left:1161px;width:1px"></i><i class="z1 z1g299" style="left:1162px;width:6px"></i><i class="z1 z1g302" style="left:1168px;width:9px"></i><i class="z2 z2g0" style="left:0px;width:63px"></i><i class="z2 z2g1" style="left:63px;width:3px"></i><i class="z2 z2g2" style="left:66px;width:7px"></i><i class="z2 z2g1" style="left:73px;width:3px"></i><i class="z2 z2g0" style="left:76px;width:15px"></i><i class="z2 z2g3" style="left:91px;width:5px"></i><i class="z2 z2g0" style="left:96px;width:33px"></i><i class="z2 z2g1" style="left:129px;width:3px"></i><i class="z2 z2g2" style="left:132px;width:7px"></i><i class="z2 z2g4" style="left:139px;width:1px"></i><i class="z2 z2g2" style="left:140px;width:15px"></i><i class="z2 z2g5" style="left:155px;width:5px"></i><i class="z2 z2g6" style="left:160px;width:1px"></i><i class="z2 z2g7" style="left:161px;width:1px"></i><i class="z2 z2g8" style="left:162px;width:1px"></i><i class="z2 z2g9" style="left:163px;width:1px"></i><i class="z2 z2g10" style="left:164px;width:31px"></i><i class="z2 z2g11" style="left:195px;width:1px"></i><i class="z2 z2g12" style="left:196px;width:1px"></i><i class="z2 z2g13" style="left:197px;width:1px"></i><i class="z2 z2g14" style="left:198px;width:1px"></i><i class="z2 z2g6" style="left:199px;width:2px"></i><i class="z2 z2g15" style="left:201px;width:1px"></i><i class="z2 z2g7" style="left:202px;width:2px"></i><i class="z2 z2g15" style="left:204px;width:1px"></i><i class="z2 z2g6" style="left:205px;width:2px"></i><i class="z2 z2g15" style="left:207px;width:1px"></i><i class="z2 z2g8" style="left:208px;width:1px"></i><i class="z2 z2g16" style="left:209px;width:1px"></i><i class="z2 z2g17" style="left:210px;width:4px"></i><i class="z2 z2g16" style="left:214px;width:1px"></i><i class="z2 z2g8" style="left:215px;width:1px"></i><i class="z2 z2g6" style="left:216px;width:1px"></i><i class="z2 z2g18" style="left:217px;width:1px"></i><i class="z2 z2g5" style="left:218px;width:1px"></i><i class="z2 z2g19" style="left:219px;width:5px"></i><i class="z2 z2g20" style="left:224px;width:1px"></i><i class="z2 z2g13" style="left:225px;width:1px"></i><i class="z2 z2g10" style="left:226px;width:1px"></i><i class="z2 z2g21" style="left:227px;width:3px"></i><i class="z2 z2g22" style="left:230px;width:9px"></i><i class="z2 z2g21" style="left:239px;width:3px"></i><i class="z2 z2g10" style="left:242px;width:1px"></i><i class="z2 z2g13" style="left:243px;width:1px"></i><i class="z2 z2g20" style="left:244px;width:1px"></i><i class="z2 z2g19" style="left:245px;width:4px"></i><i class="z2 z2g20" style="left:249px;width:1px"></i><i class="z2 z2g14" style="left:250px;width:1px"></i><i class="z2 z2g11" style="left:251px;width:1px"></i><i class="z2 z2g23" style="left:252px;width:1px"></i><i class="z2 z2g24" style="left:253px;width:3px"></i><i class="z2 z2g17" style="left:256px;width:1px"></i><i class="z2 z2g16" style="left:257px;width:1px"></i><i class="z2 z2g8" style="left:258px;width:1px"></i><i class="z2 z2g15" style="left:259px;width:1px"></i><i class="z2 z2g6" style="left:260px;width:3px"></i><i class="z2 z2g14" style="left:263px;width:6px"></i><i class="z2 z2g25" style="left:269px;width:1px"></i><i class="z2 z2g10" style="left:270px;width:1px"></i><i class="z2 z2g21" style="left:271px;width:9px"></i><i class="z2 z2g11" style="left:280px;width:1px"></i><i class="z2 z2g6" style="left:281px;width:1px"></i><i class="z2 z2g5" style="left:282px;width:1px"></i><i class="z2 z2g26" style="left:283px;width:8px"></i><i class="z2 z2g4" style="left:291px;width:5px"></i><i class="z2 z2g26" style="left:296px;width:5px"></i><i class="z2 z2g18" style="left:301px;width:1px"></i><i class="z2 z2g7" style="left:302px;width:1px"></i><i class="z2 z2g8" style="left:303px;width:1px"></i><i class="z2 z2g9" style="left:304px;width:4px"></i><i class="z2 z2g27" style="left:308px;width:1px"></i><i class="z2 z2g7" style="left:309px;width:1px"></i><i class="z2 z2g15" style="left:310px;width:1px"></i><i class="z2 z2g6" style="left:311px;width:5px"></i><i class="z2 z2g18" style="left:316px;width:1px"></i><i class="z2 z2g2" style="left:317px;width:2px"></i><i class="z2 z2g1" style="left:319px;width:6px"></i><i class="z2 z2g18" style="left:325px;width:8px"></i><i class="z2 z2g20" style="left:333px;width:1px"></i><i class="z2 z2g13" style="left:334px;width:1px"></i><i class="z2 z2g23" style="left:335px;width:1px"></i><i class="z2 z2g28" style="left:336px;width:2px"></i><i class="z2 z2g29" style="left:338px;width:5px"></i><i class="z2 z2g22" style="left:343px;width:1px"></i><i class="z2 z2g30" style="left:344px;width:1px"></i><i class="z2 z2g31" style="left:345px;width:3px"></i><i class="z2 z2g32" style="left:348px;width:1px"></i><i class="z2 z2g33" style="left:349px;width:1px"></i><i class="z2 z2g34" style="left:350px;width:1px"></i><i class="z2 z2g35" style="left:351px;width:7px"></i><i class="z2 z2g34" style="left:358px;width:1px"></i><i class="z2 z2g36" style="left:359px;width:1px"></i><i class="z2 z2g37" style="left:360px;width:1px"></i><i class="z2 z2g38" style="left:361px;width:1px"></i><i class="z2 z2g37" style="left:362px;width:1px"></i><i class="z2 z2g39" style="left:363px;width:1px"></i><i class="z2 z2g33" style="left:364px;width:3px"></i><i class="z2 z2g37" style="left:367px;width:1px"></i><i class="z2 z2g40" style="left:368px;width:1px"></i><i class="z2 z2g41" style="left:369px;width:3px"></i><i class="z2 z2g40" style="left:372px;width:1px"></i><i class="z2 z2g22" style="left:373px;width:1px"></i><i class="z2 z2g42" style="left:374px;width:1px"></i><i class="z2 z2g43" style="left:375px;width:2px"></i><i class="z2 z2g42" style="left:377px;width:1px"></i><i class="z2 z2g29" style="left:378px;width:1px"></i><i class="z2 z2g44" style="left:379px;width:1px"></i><i class="z2 z2g45" style="left:380px;width:2px"></i><i class="z2 z2g44" style="left:382px;width:1px"></i><i class="z2 z2g29" style="left:383px;width:1px"></i><i class="z2 z2g42" style="left:384px;width:3px"></i><i class="z2 z2g46" style="left:387px;width:1px"></i><i class="z2 z2g47" style="left:388px;width:1px"></i><i class="z2 z2g48" style="left:389px;width:2px"></i><i class="z2 z2g47" style="left:391px;width:1px"></i><i class="z2 z2g46" style="left:392px;width:1px"></i><i class="z2 z2g42" style="left:393px;width:1px"></i><i class="z2 z2g43" style="left:394px;width:2px"></i><i class="z2 z2g42" style="left:396px;width:1px"></i><i class="z2 z2g22" style="left:397px;width:1px"></i><i class="z2 z2g45" style="left:398px;width:1px"></i><i class="z2 z2g49" style="left:399px;width:3px"></i><i class="z2 z2g45" style="left:402px;width:1px"></i><i class="z2 z2g46" style="left:403px;width:1px"></i><i class="z2 z2g50" style="left:404px;width:4px"></i><i class="z2 z2g22" style="left:408px;width:1px"></i><i class="z2 z2g30" style="left:409px;width:1px"></i><i class="z2 z2g47" style="left:410px;width:1px"></i><i class="z2 z2g30" style="left:411px;width:1px"></i><i class="z2 z2g22" style="left:412px;width:1px"></i><i class="z2 z2g50" style="left:413px;width:4px"></i><i class="z2 z2g22" style="left:417px;width:1px"></i><i class="z2 z2g30" style="left:418px;width:1px"></i><i class="z2 z2g47" style="left:419px;width:2px"></i><i class="z2 z2g40" style="left:421px;width:1px"></i><i class="z2 z2g37" style="left:422px;width:1px"></i><i class="z2 z2g39" style="left:423px;width:3px"></i><i class="z2 z2g37" style="left:426px;width:1px"></i><i class="z2 z2g38" style="left:427px;width:1px"></i><i class="z2 z2g40" style="left:428px;width:1px"></i><i class="z2 z2g51" style="left:429px;width:1px"></i><i class="z2 z2g52" style="left:430px;width:1px"></i><i class="z2 z2g53" style="left:431px;width:1px"></i><i class="z2 z2g54" style="left:432px;width:1px"></i><i class="z2 z2g55" style="left:433px;width:2px"></i><i class="z2 z2g56" style="left:435px;width:9px"></i><i class="z2 z2g57" style="left:444px;width:42px"></i><i class="z2 z2g56" style="left:486px;width:8px"></i><i class="z2 z2g55" style="left:494px;width:4px"></i><i class="z2 z2g58" style="left:498px;width:1px"></i><i class="z2 z2g59" style="left:499px;width:1px"></i><i class="z2 z2g60" style="left:500px;width:1px"></i><i class="z2 z2g61" style="left:501px;width:1px"></i><i class="z2 z2g62" style="left:502px;width:1px"></i><i class="z2 z2g49" style="left:503px;width:1px"></i><i class="z2 z2g45" style="left:504px;width:1px"></i><i class="z2 z2g30" style="left:505px;width:1px"></i><i class="z2 z2g44" style="left:506px;width:2px"></i><i class="z2 z2g10" style="left:508px;width:1px"></i><i class="z2 z2g11" style="left:509px;width:1px"></i><i class="z2 z2g25" style="left:510px;width:1px"></i><i class="z2 z2g14" style="left:511px;width:3px"></i><i class="z2 z2g13" style="left:514px;width:1px"></i><i class="z2 z2g25" style="left:515px;width:1px"></i><i class="z2 z2g10" style="left:516px;width:1px"></i><i class="z2 z2g21" style="left:517px;width:3px"></i><i class="z2 z2g23" style="left:520px;width:1px"></i><i class="z2 z2g11" style="left:521px;width:1px"></i><i class="z2 z2g12" style="left:522px;width:2px"></i><i class="z2 z2g11" style="left:524px;width:1px"></i><i class="z2 z2g23" style="left:525px;width:1px"></i><i class="z2 z2g24" style="left:526px;width:1px"></i><i class="z2 z2g21" style="left:527px;width:1px"></i><i class="z2 z2g24" style="left:528px;width:1px"></i><i class="z2 z2g10" style="left:529px;width:1px"></i><i class="z2 z2g12" style="left:530px;width:1px"></i><i class="z2 z2g25" style="left:531px;width:1px"></i><i class="z2 z2g13" style="left:532px;width:1px"></i><i class="z2 z2g25" style="left:533px;width:1px"></i><i class="z2 z2g12" style="left:534px;width:1px"></i><i class="z2 z2g44" style="left:535px;width:1px"></i><i class="z2 z2g46" style="left:536px;width:1px"></i><i class="z2 z2g22" style="left:537px;width:3px"></i><i class="z2 z2g44" style="left:540px;width:1px"></i><i class="z2 z2g45" style="left:541px;width:1px"></i><i class="z2 z2g47" style="left:542px;width:2px"></i><i class="z2 z2g45" style="left:544px;width:1px"></i><i class="z2 z2g22" style="left:545px;width:1px"></i><i class="z2 z2g50" style="left:546px;width:1px"></i><i class="z2 z2g42" style="left:547px;width:2px"></i><i class="z2 z2g50" style="left:549px;width:1px"></i><i class="z2 z2g22" style="left:550px;width:1px"></i><i class="z2 z2g30" style="left:551px;width:1px"></i><i class="z2 z2g47" style="left:552px;width:2px"></i><i class="z2 z2g30" style="left:554px;width:1px"></i><i class="z2 z2g37" style="left:555px;width:1px"></i><i class="z2 z2g36" style="left:556px;width:3px"></i><i class="z2 z2g39" style="left:559px;width:1px"></i><i class="z2 z2g32" style="left:560px;width:1px"></i><i class="z2 z2g31" style="left:561px;width:2px"></i><i class="z2 z2g32" style="left:563px;width:1px"></i><i class="z2 z2g33" style="left:564px;width:1px"></i><i class="z2 z2g35" style="left:565px;width:1px"></i><i class="z2 z2g63" style="left:566px;width:2px"></i><i class="z2 z2g35" style="left:568px;width:1px"></i><i class="z2 z2g33" style="left:569px;width:1px"></i><i class="z2 z2g40" style="left:570px;width:2px"></i><i class="z2 z2g39" style="left:572px;width:1px"></i><i class="z2 z2g34" style="left:573px;width:1px"></i><i class="z2 z2g35" style="left:574px;width:3px"></i><i class="z2 z2g34" style="left:577px;width:1px"></i><i class="z2 z2g33" style="left:578px;width:1px"></i><i class="z2 z2g32" style="left:579px;width:1px"></i><i class="z2 z2g31" style="left:580px;width:1px"></i><i class="z2 z2g41" style="left:581px;width:1px"></i><i class="z2 z2g31" style="left:582px;width:1px"></i><i class="z2 z2g40" style="left:583px;width:1px"></i><i class="z2 z2g39" style="left:584px;width:1px"></i><i class="z2 z2g36" style="left:585px;width:1px"></i><i class="z2 z2g34" style="left:586px;width:1px"></i><i class="z2 z2g36" style="left:587px;width:1px"></i><i class="z2 z2g39" style="left:588px;width:1px"></i><i class="z2 z2g32" style="left:589px;width:1px"></i><i class="z2 z2g40" style="left:590px;width:2px"></i><i class="z2 z2g32" style="left:592px;width:1px"></i><i class="z2 z2g39" style="left:593px;width:1px"></i><i class="z2 z2g36" style="left:594px;width:1px"></i><i class="z2 z2g34" style="left:595px;width:1px"></i><i class="z2 z2g36" style="left:596px;width:1px"></i><i class="z2 z2g33" style="left:597px;width:1px"></i><i class="z2 z2g38" style="left:598px;width:1px"></i><i class="z2 z2g32" style="left:599px;width:1px"></i><i class="z2 z2g37" style="left:600px;width:1px"></i><i class="z2 z2g36" style="left:601px;width:1px"></i><i class="z2 z2g35" style="left:602px;width:2px"></i><i class="z2 z2g63" style="left:604px;width:2px"></i><i class="z2 z2g35" style="left:606px;width:1px"></i><i class="z2 z2g36" style="left:607px;width:1px"></i><i class="z2 z2g37" style="left:608px;width:1px"></i><i class="z2 z2g32" style="left:609px;width:1px"></i><i class="z2 z2g40" style="left:610px;width:1px"></i><i class="z2 z2g32" style="left:611px;width:1px"></i><i class="z2 z2g38" style="left:612px;width:1px"></i><i class="z2 z2g37" style="left:613px;width:1px"></i><i class="z2 z2g33" style="left:614px;width:8px"></i><i class="z2 z2g64" style="left:622px;width:5px"></i><i class="z2 z2g65" style="left:627px;width:1px"></i><i class="z2 z2g66" style="left:628px;width:1px"></i><i class="z2 z2g67" style="left:629px;width:1px"></i><i class="z2 z2g68" style="left:630px;width:1px"></i><i class="z2 z2g69" style="left:631px;width:1px"></i><i class="z2 z2g70" style="left:632px;width:1px"></i><i class="z2 z2g71" style="left:633px;width:1px"></i><i class="z2 z2g72" style="left:634px;width:10px"></i><i class="z2 z2g73" style="left:644px;width:1px"></i><i class="z2 z2g74" style="left:645px;width:1px"></i><i class="z2 z2g75" style="left:646px;width:1px"></i><i class="z2 z2g76" style="left:647px;width:6px"></i><i class="z2 z2g75" style="left:653px;width:1px"></i><i class="z2 z2g70" style="left:654px;width:1px"></i><i class="z2 z2g72" style="left:655px;width:1px"></i><i class="z2 z2g77" style="left:656px;width:11px"></i><i class="z2 z2g78" style="left:667px;width:1px"></i><i class="z2 z2g79" style="left:668px;width:1px"></i><i class="z2 z2g80" style="left:669px;width:1px"></i><i class="z2 z2g81" style="left:670px;width:1px"></i><i class="z2 z2g82" style="left:671px;width:1px"></i><i class="z2 z2g81" style="left:672px;width:1px"></i><i class="z2 z2g83" style="left:673px;width:1px"></i><i class="z2 z2g84" style="left:674px;width:1px"></i><i class="z2 z2g85" style="left:675px;width:1px"></i><i class="z2 z2g86" style="left:676px;width:6px"></i><i class="z2 z2g85" style="left:682px;width:1px"></i><i class="z2 z2g87" style="left:683px;width:1px"></i><i class="z2 z2g80" style="left:684px;width:1px"></i><i class="z2 z2g88" style="left:685px;width:2px"></i><i class="z2 z2g89" style="left:687px;width:1px"></i><i class="z2 z2g79" style="left:688px;width:1px"></i><i class="z2 z2g90" style="left:689px;width:1px"></i><i class="z2 z2g78" style="left:690px;width:13px"></i><i class="z2 z2g72" style="left:703px;width:1px"></i><i class="z2 z2g71" style="left:704px;width:1px"></i><i class="z2 z2g86" style="left:705px;width:1px"></i><i class="z2 z2g91" style="left:706px;width:1px"></i><i class="z2 z2g92" style="left:707px;width:1px"></i><i class="z2 z2g93" style="left:708px;width:1px"></i><i class="z2 z2g51" style="left:709px;width:1px"></i><i class="z2 z2g94" style="left:710px;width:1px"></i><i class="z2 z2g61" style="left:711px;width:3px"></i><i class="z2 z2g48" style="left:714px;width:1px"></i><i class="z2 z2g49" style="left:715px;width:1px"></i><i class="z2 z2g45" style="left:716px;width:1px"></i><i class="z2 z2g46" style="left:717px;width:1px"></i><i class="z2 z2g29" style="left:718px;width:1px"></i><i class="z2 z2g50" style="left:719px;width:1px"></i><i class="z2 z2g29" style="left:720px;width:2px"></i><i class="z2 z2g22" style="left:722px;width:2px"></i><i class="z2 z2g46" style="left:724px;width:1px"></i><i class="z2 z2g38" style="left:725px;width:2px"></i><i class="z2 z2g32" style="left:727px;width:1px"></i><i class="z2 z2g41" style="left:728px;width:1px"></i><i class="z2 z2g94" style="left:729px;width:2px"></i><i class="z2 z2g95" style="left:731px;width:1px"></i><i class="z2 z2g96" style="left:732px;width:1px"></i><i class="z2 z2g97" style="left:733px;width:1px"></i><i class="z2 z2g91" style="left:734px;width:1px"></i><i class="z2 z2g73" style="left:735px;width:1px"></i><i class="z2 z2g72" style="left:736px;width:3px"></i><i class="z2 z2g78" style="left:739px;width:9px"></i><i class="z2 z2g90" style="left:748px;width:1px"></i><i class="z2 z2g98" style="left:749px;width:1px"></i><i class="z2 z2g87" style="left:750px;width:1px"></i><i class="z2 z2g99" style="left:751px;width:1px"></i><i class="z2 z2g100" style="left:752px;width:3px"></i><i class="z2 z2g69" style="left:755px;width:1px"></i><i class="z2 z2g75" style="left:756px;width:1px"></i><i class="z2 z2g68" style="left:757px;width:1px"></i><i class="z2 z2g75" style="left:758px;width:1px"></i><i class="z2 z2g101" style="left:759px;width:1px"></i><i class="z2 z2g99" style="left:760px;width:2px"></i><i class="z2 z2g102" style="left:762px;width:2px"></i><i class="z2 z2g103" style="left:764px;width:1px"></i><i class="z2 z2g104" style="left:765px;width:1px"></i><i class="z2 z2g105" style="left:766px;width:1px"></i><i class="z2 z2g106" style="left:767px;width:1px"></i><i class="z2 z2g107" style="left:768px;width:4px"></i><i class="z2 z2g108" style="left:772px;width:8px"></i><i class="z2 z2g109" style="left:780px;width:13px"></i><i class="z2 z2g108" style="left:793px;width:10px"></i><i class="z2 z2g107" style="left:803px;width:2px"></i><i class="z2 z2g106" style="left:805px;width:1px"></i><i class="z2 z2g110" style="left:806px;width:1px"></i><i class="z2 z2g111" style="left:807px;width:1px"></i><i class="z2 z2g112" style="left:808px;width:1px"></i><i class="z2 z2g89" style="left:809px;width:1px"></i><i class="z2 z2g113" style="left:810px;width:1px"></i><i class="z2 z2g77" style="left:811px;width:1px"></i><i class="z2 z2g114" style="left:812px;width:1px"></i><i class="z2 z2g115" style="left:813px;width:3px"></i><i class="z2 z2g116" style="left:816px;width:1px"></i><i class="z2 z2g91" style="left:817px;width:1px"></i><i class="z2 z2g51" style="left:818px;width:1px"></i><i class="z2 z2g117" style="left:819px;width:1px"></i><i class="z2 z2g36" style="left:820px;width:2px"></i><i class="z2 z2g118" style="left:822px;width:1px"></i><i class="z2 z2g62" style="left:823px;width:2px"></i><i class="z2 z2g42" style="left:825px;width:1px"></i><i class="z2 z2g62" style="left:826px;width:1px"></i><i class="z2 z2g14" style="left:827px;width:3px"></i><i class="z2 z2g119" style="left:830px;width:1px"></i><i class="z2 z2g14" style="left:831px;width:3px"></i><i class="z2 z2g119" style="left:834px;width:2px"></i><i class="z2 z2g14" style="left:836px;width:3px"></i><i class="z2 z2g119" style="left:839px;width:2px"></i><i class="z2 z2g14" style="left:841px;width:3px"></i><i class="z2 z2g42" style="left:844px;width:1px"></i><i class="z2 z2g62" style="left:845px;width:4px"></i><i class="z2 z2g36" style="left:849px;width:1px"></i><i class="z2 z2g118" style="left:850px;width:1px"></i><i class="z2 z2g41" style="left:851px;width:1px"></i><i class="z2 z2g36" style="left:852px;width:1px"></i><i class="z2 z2g120" style="left:853px;width:1px"></i><i class="z2 z2g121" style="left:854px;width:2px"></i><i class="z2 z2g86" style="left:856px;width:5px"></i><i class="z2 z2g98" style="left:861px;width:6px"></i><i class="z2 z2g104" style="left:867px;width:1px"></i><i class="z2 z2g122" style="left:868px;width:1px"></i><i class="z2 z2g123" style="left:869px;width:1px"></i><i class="z2 z2g124" style="left:870px;width:1px"></i><i class="z2 z2g110" style="left:871px;width:1px"></i><i class="z2 z2g125" style="left:872px;width:1px"></i><i class="z2 z2g106" style="left:873px;width:8px"></i><i class="z2 z2g77" style="left:881px;width:3px"></i><i class="z2 z2g78" style="left:884px;width:1px"></i><i class="z2 z2g79" style="left:885px;width:1px"></i><i class="z2 z2g89" style="left:886px;width:1px"></i><i class="z2 z2g75" style="left:887px;width:2px"></i><i class="z2 z2g69" style="left:889px;width:1px"></i><i class="z2 z2g84" style="left:890px;width:1px"></i><i class="z2 z2g120" style="left:891px;width:1px"></i><i class="z2 z2g126" style="left:892px;width:3px"></i><i class="z2 z2g120" style="left:895px;width:1px"></i><i class="z2 z2g34" style="left:896px;width:1px"></i><i class="z2 z2g32" style="left:897px;width:1px"></i><i class="z2 z2g94" style="left:898px;width:1px"></i><i class="z2 z2g61" style="left:899px;width:1px"></i><i class="z2 z2g62" style="left:900px;width:1px"></i><i class="z2 z2g42" style="left:901px;width:2px"></i><i class="z2 z2g62" style="left:903px;width:3px"></i><i class="z2 z2g119" style="left:906px;width:2px"></i><i class="z2 z2g14" style="left:908px;width:3px"></i><i class="z2 z2g119" style="left:911px;width:1px"></i><i class="z2 z2g14" style="left:912px;width:4px"></i><i class="z2 z2g119" style="left:916px;width:1px"></i><i class="z2 z2g13" style="left:917px;width:1px"></i><i class="z2 z2g25" style="left:918px;width:1px"></i><i class="z2 z2g23" style="left:919px;width:1px"></i><i class="z2 z2g21" style="left:920px;width:1px"></i><i class="z2 z2g29" style="left:921px;width:2px"></i><i class="z2 z2g22" style="left:923px;width:1px"></i><i class="z2 z2g46" style="left:924px;width:1px"></i><i class="z2 z2g30" style="left:925px;width:1px"></i><i class="z2 z2g45" style="left:926px;width:5px"></i><i class="z2 z2g30" style="left:931px;width:1px"></i><i class="z2 z2g44" style="left:932px;width:1px"></i><i class="z2 z2g29" style="left:933px;width:1px"></i><i class="z2 z2g50" style="left:934px;width:1px"></i><i class="z2 z2g36" style="left:935px;width:3px"></i><i class="z2 z2g33" style="left:938px;width:1px"></i><i class="z2 z2g37" style="left:939px;width:2px"></i><i class="z2 z2g38" style="left:941px;width:3px"></i><i class="z2 z2g37" style="left:944px;width:1px"></i><i class="z2 z2g39" style="left:945px;width:1px"></i><i class="z2 z2g36" style="left:946px;width:1px"></i><i class="z2 z2g34" style="left:947px;width:1px"></i><i class="z2 z2g35" style="left:948px;width:2px"></i><i class="z2 z2g127" style="left:950px;width:3px"></i><i class="z2 z2g92" style="left:953px;width:1px"></i><i class="z2 z2g93" style="left:954px;width:1px"></i><i class="z2 z2g66" style="left:955px;width:1px"></i><i class="z2 z2g93" style="left:956px;width:1px"></i><i class="z2 z2g64" style="left:957px;width:1px"></i><i class="z2 z2g128" style="left:958px;width:4px"></i><i class="z2 z2g64" style="left:962px;width:1px"></i><i class="z2 z2g93" style="left:963px;width:1px"></i><i class="z2 z2g66" style="left:964px;width:3px"></i><i class="z2 z2g65" style="left:967px;width:1px"></i><i class="z2 z2g74" style="left:968px;width:1px"></i><i class="z2 z2g85" style="left:969px;width:6px"></i><i class="z2 z2g86" style="left:975px;width:4px"></i><i class="z2 z2g85" style="left:979px;width:1px"></i><i class="z2 z2g74" style="left:980px;width:1px"></i><i class="z2 z2g100" style="left:981px;width:1px"></i><i class="z2 z2g69" style="left:982px;width:1px"></i><i class="z2 z2g80" style="left:983px;width:1px"></i><i class="z2 z2g89" style="left:984px;width:1px"></i><i class="z2 z2g122" style="left:985px;width:1px"></i><i class="z2 z2g103" style="left:986px;width:1px"></i><i class="z2 z2g113" style="left:987px;width:1px"></i><i class="z2 z2g90" style="left:988px;width:1px"></i><i class="z2 z2g78" style="left:989px;width:2px"></i><i class="z2 z2g72" style="left:991px;width:5px"></i><i class="z2 z2g71" style="left:996px;width:1px"></i><i class="z2 z2g70" style="left:997px;width:1px"></i><i class="z2 z2g69" style="left:998px;width:1px"></i><i class="z2 z2g97" style="left:999px;width:1px"></i><i class="z2 z2g67" style="left:1000px;width:4px"></i><i class="z2 z2g66" style="left:1004px;width:1px"></i><i class="z2 z2g64" style="left:1005px;width:1px"></i><i class="z2 z2g128" style="left:1006px;width:1px"></i><i class="z2 z2g127" style="left:1007px;width:1px"></i><i class="z2 z2g128" style="left:1008px;width:3px"></i><i class="z2 z2g34" style="left:1011px;width:5px"></i><i class="z2 z2g33" style="left:1016px;width:1px"></i><i class="z2 z2g39" style="left:1017px;width:1px"></i><i class="z2 z2g37" style="left:1018px;width:1px"></i><i class="z2 z2g38" style="left:1019px;width:5px"></i><i class="z2 z2g32" style="left:1024px;width:1px"></i><i class="z2 z2g31" style="left:1025px;width:2px"></i><i class="z2 z2g40" style="left:1027px;width:1px"></i><i class="z2 z2g39" style="left:1028px;width:1px"></i><i class="z2 z2g36" style="left:1029px;width:1px"></i><i class="z2 z2g34" style="left:1030px;width:4px"></i><i class="z2 z2g39" style="left:1034px;width:1px"></i><i class="z2 z2g32" style="left:1035px;width:1px"></i><i class="z2 z2g40" style="left:1036px;width:1px"></i><i class="z2 z2g32" style="left:1037px;width:1px"></i><i class="z2 z2g65" style="left:1038px;width:1px"></i><i class="z2 z2g92" style="left:1039px;width:6px"></i><i class="z2 z2g100" style="left:1045px;width:1px"></i><i class="z2 z2g99" style="left:1046px;width:1px"></i><i class="z2 z2g84" style="left:1047px;width:1px"></i><i class="z2 z2g129" style="left:1048px;width:1px"></i><i class="z2 z2g85" style="left:1049px;width:1px"></i><i class="z2 z2g86" style="left:1050px;width:1px"></i><i class="z2 z2g98" style="left:1051px;width:20px"></i><i class="z2 z2g86" style="left:1071px;width:3px"></i><i class="z2 z2g85" style="left:1074px;width:1px"></i><i class="z2 z2g70" style="left:1075px;width:1px"></i><i class="z2 z2g128" style="left:1076px;width:1px"></i><i class="z2 z2g64" style="left:1077px;width:1px"></i><i class="z2 z2g65" style="left:1078px;width:2px"></i><i class="z2 z2g66" style="left:1080px;width:1px"></i><i class="z2 z2g67" style="left:1081px;width:1px"></i><i class="z2 z2g41" style="left:1082px;width:1px"></i><i class="z2 z2g33" style="left:1083px;width:2px"></i><i class="z2 z2g41" style="left:1085px;width:2px"></i><i class="z2 z2g33" style="left:1087px;width:2px"></i><i class="z2 z2g41" style="left:1089px;width:1px"></i><i class="z2 z2g31" style="left:1090px;width:1px"></i><i class="z2 z2g32" style="left:1091px;width:1px"></i><i class="z2 z2g34" style="left:1092px;width:1px"></i><i class="z2 z2g120" style="left:1093px;width:2px"></i><i class="z2 z2g126" style="left:1095px;width:1px"></i><i class="z2 z2g120" style="left:1096px;width:2px"></i><i class="z2 z2g127" style="left:1098px;width:1px"></i><i class="z2 z2g64" style="left:1099px;width:1px"></i><i class="z2 z2g93" style="left:1100px;width:1px"></i><i class="z2 z2g66" style="left:1101px;width:3px"></i><i class="z2 z2g69" style="left:1104px;width:1px"></i><i class="z2 z2g84" style="left:1105px;width:1px"></i><i class="z2 z2g70" style="left:1106px;width:1px"></i><i class="z2 z2g129" style="left:1107px;width:20px"></i><i class="z2 z2g120" style="left:1127px;width:2px"></i><i class="z2 z2g130" style="left:1129px;width:1px"></i><i class="z2 z2g92" style="left:1130px;width:1px"></i><i class="z2 z2g97" style="left:1131px;width:1px"></i><i class="z2 z2g51" style="left:1132px;width:1px"></i><i class="z2 z2g96" style="left:1133px;width:3px"></i><i class="z2 z2g51" style="left:1136px;width:1px"></i><i class="z2 z2g97" style="left:1137px;width:1px"></i><i class="z2 z2g64" style="left:1138px;width:1px"></i><i class="z2 z2g127" style="left:1139px;width:1px"></i><i class="z2 z2g91" style="left:1140px;width:12px"></i><i class="z2 z2g128" style="left:1152px;width:1px"></i><i class="z2 z2g64" style="left:1153px;width:1px"></i><i class="z2 z2g65" style="left:1154px;width:6px"></i><i class="z2 z2g64" style="left:1160px;width:1px"></i><i class="z2 z2g128" style="left:1161px;width:1px"></i><i class="z2 z2g127" style="left:1162px;width:15px"></i><b style="top:292.2px;height:1.4px;background:linear-gradient(90deg,#00acff 0px,#00a9ff 12px,#00a7ff 24px,#00a4ff 36px,#00a2ff 48px,#009eff 60px,#009cff 72px,#009eff 84px,#009eff 96px,#009dff 108px,#009cff 120px,#0098ff 132px,#0095ff 144px,#0098ff 156px,#00a2ff 168px,#00a2ff 180px,#00a1ff 192px,#009eff 204px,#009dff 216px,#00a2ff 228px,#00a2ff 240px,#009eff 252px,#009eff 264px,#00a2ff 276px,#008eff 288px,#0096ff 300px,#009cff 312px,#09f 324px,#00a3ff 336px,#00a8ff 348px,#0af 360px,#00a6ff 372px,#00a5ff 384px,#00a4ff 396px,#00a6ff 408px,#00a6ff 420px,#00acff 432px,#00b2ff 444px,#00b2ff 456px,#00b2ff 468px,#00b2ff 480px,#00b2ff 492px,#00a5ff 504px,#00a3ff 516px,#00a4ff 528px,#00a7ff 540px,#00abff 552px,#00adff 564px,#00acff 576px,#00adff 588px,#00b2ff 600px,#00b0ff 612px,#00b1ff 624px,#00bdff 636px,#00b5ff 648px,#00c2ff 660px,#0bf 672px,#00bdff 684px,#00c5ff 696px,#00b7ff 708px,#00b3ff 720px,#00b9ff 732px,#00c7ff 744px,#00bcff 756px,#00c8ff 768px,#00cdff 780px,#00ceff 792px,#00c9ff 804px,#00c2ff 816px,#00b4ff 828px,#00b5ff 840px,#00beff 852px,#00c8ff 864px,#00ceff 876px,#00c8ff 888px,#00beff 900px,#00b9ff 912px,#00bcff 924px,#00c1ff 936px,#00c5ff 948px,#00c4ff 960px,#0cf 972px,#0cf 984px,#00cbff 996px,#00c6ff 1008px,#00c2ff 1020px,#00c3ff 1032px,#00c9ff 1044px,#00d0ff 1056px,#00d0ff 1068px,#00c5ff 1080px,#00c6ff 1092px,#00c9ff 1104px,#00cdff 1116px,#00c7ff 1128px,#00c6ff 1140px,#00c7ff 1152px,#00c8ff 1164px,#00c9ff 1176px,#00c9ff 1176px)"></b><b style="top:306.6px;height:3.8px;background:linear-gradient(90deg,#00bfff 0px,#00bdff 12px,#0bf 24px,#00b8ff 36px,#00b6ff 48px,#00b3ff 60px,#00b0ff 72px,#00b3ff 84px,#00b3ff 96px,#00b1ff 108px,#00b1ff 120px,#00adff 132px,#00a9ff 144px,#00acff 156px,#00b6ff 168px,#00b7ff 180px,#00b5ff 192px,#00b3ff 204px,#00b1ff 216px,#00b6ff 228px,#00b6ff 240px,#00b3ff 252px,#00b2ff 264px,#00b6ff 276px,#00a2ff 288px,#0af 300px,#00b0ff 312px,#00adff 324px,#00b7ff 336px,#00bdff 348px,#00bfff 360px,#0bf 372px,#00b9ff 384px,#00b8ff 396px,#0bf 408px,#0bf 420px,#00c0ff 432px,#00c6ff 444px,#00c6ff 456px,#00c6ff 468px,#00c7ff 480px,#00c6ff 492px,#00b9ff 504px,#00b7ff 516px,#00b9ff 528px,#00bcff 540px,#00bfff 552px,#00c1ff 564px,#00c1ff 576px,#00c1ff 588px,#00c6ff 600px,#00c4ff 612px,#00c5ff 624px,#00d1ff 636px,#00c8ff 648px,#00d6ff 660px,#00cfff 672px,#00d1ff 684px,#00d9ff 696px,#00cbff 708px,#00c7ff 720px,#00cdff 732px,#00daff 744px,#00cfff 756px,#00dbff 768px,#00e0fb 780px,#00e1fa 792px,#00ddfe 804px,#00d5ff 816px,#00c8ff 828px,#00c8ff 840px,#00d2ff 852px,#00dbff 864px,#00e1fa 876px,#00dbff 888px,#00d2ff 900px,#00cdff 912px,#00d0ff 924px,#00d4ff 936px,#00d8ff 948px,#00d8ff 960px,#00e0fc 972px,#00e0fc 984px,#00defd 996px,#00d9ff 1008px,#00d6ff 1020px,#00d6ff 1032px,#00dcfe 1044px,#00e3f9 1056px,#00e3f9 1068px,#00d8ff 1080px,#00d9ff 1092px,#00dcff 1104px,#00e0fb 1116px,#00dbff 1128px,#00d9ff 1140px,#00dbff 1152px,#00dbff 1164px,#00dcfe 1176px,#00dcfe 1176px)"></b><b style="top:392.1px;height:1.5px;background:linear-gradient(90deg,#0062ff 0px,#0061ff 12px,#0060ff 24px,#005fff 36px,#005fff 48px,#005cff 60px,#0057ff 72px,#005eff 84px,#005fff 96px,#005dff 108px,#005dff 120px,#0054ff 132px,#004eff 144px,#05f 156px,#006dff 168px,#006dff 180px,#006aff 192px,#0065ff 204px,#0061ff 216px,#006cff 228px,#006cff 240px,#0064ff 252px,#0063ff 264px,#006cff 276px,#003fff 288px,#0052ff 300px,#005fff 312px,#0057ff 324px,#006eff 336px,#007aff 348px,#007fff 360px,#0076ff 372px,#0073ff 384px,#0070ff 396px,#0076ff 408px,#0076ff 420px,#0082ff 432px,#008dff 444px,#008dff 456px,#008eff 468px,#008eff 480px,#008dff 492px,#006fff 504px,#006aff 516px,#006cff 528px,#0072ff 540px,#0079ff 552px,#007cff 564px,#007aff 576px,#0079ff 588px,#0082ff 600px,#007dff 612px,#007dff 624px,#0095ff 636px,#0083ff 648px,#009eff 660px,#008eff 672px,#0090ff 684px,#009fff 696px,#0081ff 708px,#07f 720px,#0083ff 732px,#009dff 744px,#0086ff 756px,#009dff 768px,#00a7ff 780px,#00a7ff 792px,#009eff 804px,#008eff 816px,#0070ff 828px,#0070ff 840px,#0084ff 852px,#0096ff 864px,#00a1ff 876px,#0094ff 888px,#007eff 900px,#0072ff 912px,#0078ff 924px,#007fff 936px,#0087ff 948px,#0085ff 960px,#0095ff 972px,#0095ff 984px,#0093ff 996px,#0087ff 1008px,#0080ff 1020px,#0082ff 1032px,#008eff 1044px,#009cff 1056px,#009cff 1068px,#0085ff 1080px,#0087ff 1092px,#008dff 1104px,#0097ff 1116px,#008bff 1128px,#08f 1140px,#008bff 1152px,#008bff 1164px,#008eff 1176px,#008eff 1176px)"></b><b style="top:519.6px;height:2.6px;background:linear-gradient(90deg,#00baff 0px,#00baff 12px,#00baff 24px,#00baff 36px,#00baff 48px,#00b6ff 60px,#00b0ff 72px,#0bf 84px,#00c0ff 96px,#00baff 108px,#00baff 120px,#00adff 132px,#00a6ff 144px,#00b6ff 156px,#0af2ed 168px,#0cf4eb 180px,#03e9f4 192px,#00d7ff 204px,#00d7ff 216px,#0cf5ea 228px,#0cf5ea 240px,#00ddfd 252px,#00d1ff 264px,#0ff8e8 276px,#0098ff 288px,#00bdff 300px,#00caff 312px,#00b0ff 324px,#0df6ea 336px,#2affcd 348px,#33ffc3 360px,#20ffd7 372px,#19ffde 384px,#13fde4 396px,#20ffd7 408px,#20ffd7 420px,#3bffbc 432px,#52ffa5 444px,#52ffa5 456px,#52ffa5 468px,#52ffa5 480px,#4fffa7 492px,#0ff8e8 504px,#01e7f6 516px,#06edf0 528px,#14ffe2 540px,#25ffd2 552px,#2bffcc 564px,#25ffd2 576px,#22ffd5 588px,#36ffc1 600px,#2bffcc 612px,#2bffcc 624px,#5bff9c 636px,#36ffc1 648px,#6aff8d 660px,#4bffac 672px,#4fffa8 684px,#6bff8c 696px,#2fffc8 708px,#17ffe0 720px,#33ffc4 732px,#66ff91 744px,#36ffc0 756px,#64ff92 768px,#75ff82 780px,#75ff81 792px,#64ff92 804px,#46ffb1 816px,#00e5f7 828px,#00e5f7 840px,#2fffc8 852px,#55ffa2 864px,#68ff8f 876px,#50ffa6 888px,#21ffd6 900px,#01e7f5 912px,#10f9e7 924px,#22ffd5 936px,#31ffc6 948px,#2cffca 960px,#4effa8 972px,#4fffa8 984px,#4affad 996px,#32ffc5 1008px,#22ffd5 1020px,#25ffd1 1032px,#3fffb7 1044px,#5cff9b 1056px,#5bff9c 1068px,#2cffcb 1080px,#32ffc5 1092px,#3fffb8 1104px,#52ffa5 1116px,#3affbd 1128px,#33ffc4 1140px,#3affbd 1152px,#3bffbc 1164px,#41ffb6 1176px,#41ffb6 1176px)"></b><b style="top:534.3px;height:2.0px;background:linear-gradient(90deg,#0084ff 0px,#0084ff 12px,#0084ff 24px,#0084ff 36px,#0084ff 48px,#0080ff 60px,#0079ff 72px,#0086ff 84px,#008cff 96px,#0084ff 108px,#0084ff 120px,#0076ff 132px,#006dff 144px,#0082ff 156px,#00caff 168px,#00cdff 180px,#00bfff 192px,#00a9ff 204px,#00a9ff 216px,#00ceff 228px,#00ceff 240px,#00b2ff 252px,#00a2ff 264px,#00d2ff 276px,#0060ff 288px,#008cff 300px,#009aff 312px,#07f 324px,#00cfff 336px,#10fae6 348px,#1bffdc 360px,#05ebf2 372px,#00e0fb 384px,#00d8ff 396px,#04eaf3 408px,#04ebf3 420px,#24ffd3 432px,#3effb9 444px,#3effb9 456px,#3effb9 468px,#3effb9 480px,#3bffbc 492px,#00d1ff 504px,#00bdff 516px,#00c5ff 528px,#00daff 540px,#0af2ed 552px,#11fae6 564px,#0af2ec 576px,#07eef0 588px,#1effd9 600px,#11fae6 612px,#11fae6 624px,#48ffaf 636px,#1dffd9 648px,#59ff9e 660px,#36ffc1 672px,#3bffbc 684px,#5aff9d 696px,#15ffe1 708px,#00defd 720px,#1affdc 732px,#54ffa3 744px,#1effd8 756px,#53ffa4 768px,#66ff91 780px,#66ff91 792px,#53ffa4 804px,#31ffc6 816px,#0bf 828px,#0bf 840px,#16ffe1 852px,#41ffb5 864px,#57ffa0 876px,#3cffbb 888px,#05ecf1 900px,#00bdff 912px,#00d3ff 924px,#06edf0 936px,#18ffde 948px,#13fde4 960px,#3affbd 972px,#3affbd 984px,#35ffc2 996px,#19ffdd 1008px,#07eef0 1020px,#0bf3ec 1032px,#29ffce 1044px,#4affad 1056px,#49ffae 1068px,#13fde4 1080px,#19ffdd 1092px,#28ffcf 1104px,#3effb8 1116px,#22ffd4 1128px,#1bffdc 1140px,#22ffd4 1152px,#24ffd3 1164px,#2bffcc 1176px,#2bffcc 1176px)"></b><b style="top:548.6px;height:2.6px;background:linear-gradient(90deg,#00adff 0px,#00adff 12px,#00adff 24px,#00adff 36px,#00adff 48px,#0af 60px,#00a3ff 72px,#00afff 84px,#00b4ff 96px,#00adff 108px,#00adff 120px,#00a1ff 132px,#09f 144px,#0af 156px,#00e6f7 168px,#02e8f5 180px,#00ddfe 192px,#00cbff 204px,#00caff 216px,#03e9f4 228px,#03e9f4 240px,#00d1ff 252px,#00c5ff 264px,#05ecf2 276px,#008bff 288px,#00b0ff 300px,#00beff 312px,#00a3ff 324px,#03eaf3 336px,#21ffd6 348px,#2affcd 360px,#17ffe0 372px,#0ff8e8 384px,#09f1ed 396px,#16ffe1 408px,#16ffe0 420px,#32ffc5 432px,#49ffae 444px,#49ffae 456px,#49ffae 468px,#49ffae 480px,#46ffb1 492px,#05ebf2 504px,#00dbff 516px,#00e1fa 528px,#0bf3ec 540px,#1cffdb 552px,#21ffd6 564px,#1cffdb 576px,#19ffde 588px,#2cffca 600px,#21ffd6 612px,#21ffd6 624px,#52ffa5 636px,#2cffcb 648px,#61ff96 660px,#42ffb5 672px,#46ffb1 684px,#62ff95 696px,#25ffd2 708px,#0ef6e9 720px,#29ffcd 732px,#5cff9a 744px,#2dffca 756px,#5bff9c 768px,#6cff8b 780px,#6cff8a 792px,#5bff9c 804px,#3dffba 816px,#00d9ff 828px,#00d9ff 840px,#26ffd1 852px,#4cffab 864px,#5fff98 876px,#47ffb0 888px,#17ffdf 900px,#00dbff 912px,#06edf1 924px,#18ffdf 936px,#28ffcf 948px,#23ffd4 960px,#45ffb2 972px,#45ffb1 984px,#40ffb6 996px,#29ffce 1008px,#18ffde 1020px,#1cffdb 1032px,#36ffc1 1044px,#53ffa4 1056px,#52ffa5 1068px,#23ffd4 1080px,#29ffce 1092px,#35ffc2 1104px,#49ffae 1116px,#30ffc6 1128px,#2affcd 1140px,#30ffc6 1152px,#32ffc5 1164px,#38ffbf 1176px,#38ffbf 1176px)"></b><b style="top:555.1px;height:1.5px;background:linear-gradient(90deg,#0061ff 0px,#0061ff 12px,#0061ff 24px,#0061ff 36px,#0061ff 48px,#005dff 60px,#05f 72px,#0063ff 84px,#006aff 96px,#0061ff 108px,#0061ff 120px,#0053ff 132px,#004aff 144px,#0060ff 156px,#00acff 168px,#00afff 180px,#00a1ff 192px,#0089ff 204px,#008aff 216px,#00b0ff 228px,#00b0ff 240px,#0092ff 252px,#0081ff 264px,#00b4ff 276px,#003cff 288px,#006bff 300px,#0079ff 312px,#0054ff 324px,#00b1ff 336px,#00defd 348px,#05ecf2 360px,#00cfff 372px,#00c3ff 384px,#00baff 396px,#00ceff 408px,#00ceff 420px,#0ef7e8 432px,#2affcd 444px,#2affcd 456px,#2affcd 468px,#2affcd 480px,#26ffd0 492px,#00b3ff 504px,#009eff 516px,#00a6ff 528px,#00bcff 540px,#00d6ff 552px,#00defc 564px,#00d6ff 576px,#00d2ff 588px,#08f0ef 600px,#00dffc 612px,#00dffc 624px,#34ffc3 636px,#08efef 648px,#46ffb1 660px,#21ffd6 672px,#26ffd1 684px,#47ffb0 696px,#00e5f7 708px,#00c1ff 720px,#05ebf2 732px,#40ffb6 744px,#09f0ee 756px,#3fffb8 768px,#52ffa4 780px,#53ffa4 792px,#3fffb8 804px,#1cffdb 816px,#009cff 828px,#009cff 840px,#00e6f7 852px,#2dffca 864px,#43ffb4 876px,#28ffcf 888px,#00d0ff 900px,#009eff 912px,#00b5ff 924px,#00d1ff 936px,#02e9f4 948px,#00e1fa 960px,#25ffd1 972px,#26ffd1 984px,#20ffd7 996px,#04eaf3 1008px,#00d1ff 1020px,#00d7ff 1032px,#13fee3 1044px,#36ffc1 1056px,#34ffc2 1068px,#00e1fa 1080px,#03eaf3 1092px,#13fce4 1104px,#2affcd 1116px,#0df5ea 1128px,#05ebf2 1140px,#0df5ea 1152px,#0ef7e8 1164px,#16ffe1 1176px,#16ffe1 1176px)"></b><b style="top:568.1px;height:1.5px;background:linear-gradient(90deg,#005aff 0px,#005aff 12px,#005aff 24px,#005aff 36px,#005aff 48px,#0056ff 60px,#004fff 72px,#005cff 84px,#0061ff 96px,#005aff 108px,#005aff 120px,#004dff 132px,#0045ff 144px,#0057ff 156px,#09f 168px,#009cff 180px,#0090ff 192px,#007bff 204px,#007bff 216px,#009dff 228px,#009dff 240px,#0083ff 252px,#0075ff 264px,#00a0ff 276px,#0037ff 288px,#0060ff 300px,#006dff 312px,#004fff 324px,#009eff 336px,#00c5ff 348px,#00d2ff 360px,#00b8ff 372px,#00aeff 384px,#00a6ff 396px,#00b7ff 408px,#00b7ff 420px,#00dcfe 432px,#11fbe6 444px,#11fbe6 456px,#11fbe6 468px,#11fbe6 480px,#0ef7e8 492px,#00a0ff 504px,#008dff 516px,#0094ff 528px,#00a8ff 540px,#00beff 552px,#00c6ff 564px,#00bfff 576px,#00baff 588px,#00d5ff 600px,#00c6ff 612px,#00c6ff 624px,#1bffdc 636px,#00d5ff 648px,#2bffcc 660px,#09f1ed 672px,#0ef7e9 684px,#2cffcb 696px,#00cbff 708px,#00acff 720px,#00d1ff 732px,#26ffd1 744px,#00d6ff 756px,#25ffd2 768px,#37ffc0 780px,#37ffc0 792px,#25ffd2 804px,#04ebf2 816px,#008bff 828px,#008bff 840px,#0cf 852px,#14ffe3 864px,#29ffce 876px,#0ff9e7 888px,#00b9ff 900px,#008eff 912px,#00a1ff 924px,#00baff 936px,#00cfff 948px,#00c8ff 960px,#0df6e9 972px,#0ef6e9 984px,#08f0ee 996px,#00d0ff 1008px,#00baff 1020px,#00bfff 1032px,#00e2fa 1044px,#1cffdb 1056px,#1bffdc 1068px,#00c8ff 1080px,#00d0ff 1092px,#00e1fb 1104px,#11fbe5 1116px,#00daff 1128px,#00d1ff 1140px,#00daff 1152px,#00dcfe 1164px,#00e4f8 1176px,#00e4f8 1176px)"></b><b style="top:575.8px;height:2.0px;background:linear-gradient(90deg,#0059ff 0px,#0059ff 12px,#0059ff 24px,#0059ff 36px,#0059ff 48px,#05f 60px,#004fff 72px,#005aff 84px,#005fff 96px,#0059ff 108px,#0059ff 120px,#004dff 132px,#0045ff 144px,#05f 156px,#0090ff 168px,#0092ff 180px,#08f 192px,#0076ff 204px,#0075ff 216px,#0093ff 228px,#0093ff 240px,#007cff 252px,#0070ff 264px,#0096ff 276px,#0037ff 288px,#005bff 300px,#0069ff 312px,#004fff 324px,#0094ff 336px,#00b8ff 348px,#00c3ff 360px,#00abff 372px,#00a2ff 384px,#009bff 396px,#00abff 408px,#00abff 420px,#0cf 432px,#02e9f4 444px,#02e9f4 456px,#02e9f4 468px,#02e9f4 480px,#00e5f7 492px,#0096ff 504px,#0085ff 516px,#008cff 528px,#009dff 540px,#00b1ff 552px,#00b8ff 564px,#00b2ff 576px,#00aeff 588px,#00c6ff 600px,#00b8ff 612px,#00b8ff 624px,#0bf4eb 636px,#00c6ff 648px,#1affdc 660px,#00e0fb 672px,#00e5f7 684px,#1bffdc 696px,#00bdff 708px,#00a0ff 720px,#00c2ff 732px,#16ffe1 744px,#00c7ff 756px,#15ffe2 768px,#25ffd1 780px,#26ffd1 792px,#15ffe2 804px,#00daff 816px,#0084ff 828px,#0084ff 840px,#00beff 852px,#05ecf1 864px,#18ffde 876px,#01e6f6 888px,#00acff 900px,#0086ff 912px,#0097ff 924px,#00adff 936px,#00c0ff 948px,#00baff 960px,#00e4f8 972px,#00e4f8 984px,#00defc 996px,#00c1ff 1008px,#00aeff 1020px,#00b2ff 1032px,#00d2ff 1044px,#0df5ea 1056px,#0cf4eb 1068px,#00baff 1080px,#00c1ff 1092px,#00d1ff 1104px,#03e9f4 1116px,#00cbff 1128px,#00c3ff 1140px,#00cbff 1152px,#0cf 1164px,#00d4ff 1176px,#00d4ff 1176px)"></b><b style="top:605.1px;height:2.1px;background:linear-gradient(90deg,#02e8f5 0px,#02e8f5 12px,#02e8f5 24px,#02e8f5 36px,#02e8f5 48px,#00e6f7 60px,#00e1fa 72px,#02e9f4 84px,#04eaf3 96px,#02e8f5 108px,#02e8f5 120px,#00dffc 132px,#00d9ff 144px,#00e1fa 156px,#13fde4 168px,#13fde3 180px,#10f9e7 192px,#0af2ec 204px,#08efef 216px,#13fce4 228px,#13fce4 240px,#0bf3ec 252px,#09f0ee 264px,#13fde4 276px,#00caff 288px,#00dffc 300px,#05ecf2 312px,#00e3f9 324px,#14fee3 336px,#20ffd7 348px,#24ffd3 360px,#1cffdb 372px,#19ffde 384px,#16ffe1 396px,#1cffdb 408px,#1cffdb 420px,#28ffcf 432px,#33ffc4 444px,#33ffc4 456px,#33ffc4 468px,#33ffc4 480px,#31ffc5 492px,#14ffe2 504px,#0ff8e8 516px,#11fbe6 528px,#17ffe0 540px,#1effd9 552px,#20ffd7 564px,#1effd9 576px,#1dffda 588px,#25ffd1 600px,#20ffd7 612px,#20ffd6 624px,#37ffc0 636px,#25ffd2 648px,#3fffb8 660px,#2fffc8 672px,#31ffc6 684px,#40ffb7 696px,#22ffd5 708px,#18ffdf 720px,#24ffd3 732px,#3dffba 744px,#26ffd1 756px,#3cffbb 768px,#45ffb2 780px,#45ffb2 792px,#3cffbb 804px,#2dffca 816px,#0ff8e8 828px,#0ff8e8 840px,#22ffd4 852px,#34ffc3 864px,#3effb9 876px,#32ffc5 888px,#1cffdb 900px,#0ff8e8 912px,#15ffe2 924px,#1cffda 936px,#23ffd4 948px,#21ffd6 960px,#31ffc6 972px,#31ffc6 984px,#2fffc8 996px,#24ffd3 1008px,#1cffda 1020px,#1effd9 1032px,#2affcd 1044px,#38ffbf 1056px,#37ffbf 1068px,#21ffd6 1080px,#24ffd3 1092px,#29ffcd 1104px,#33ffc4 1116px,#27ffd0 1128px,#24ffd3 1140px,#27ffd0 1152px,#28ffcf 1164px,#2affcc 1176px,#2affcc 1176px)"></b><b style="top:635.1px;height:1.5px;background:linear-gradient(90deg,#004fff 0px,#004fff 12px,#004fff 24px,#004fff 36px,#004fff 48px,#004dff 60px,#0049ff 72px,#0050ff 84px,#0052ff 96px,#004fff 108px,#004fff 120px,#0046ff 132px,#0040ff 144px,#004aff 156px,#0069ff 168px,#006aff 180px,#0065ff 192px,#005cff 204px,#005aff 216px,#0069ff 228px,#0069ff 240px,#005eff 252px,#005aff 264px,#006aff 276px,#03f 288px,#0049ff 300px,#05f 312px,#004aff 324px,#006bff 336px,#007dff 348px,#0083ff 360px,#07f 372px,#0072ff 384px,#006eff 396px,#0076ff 408px,#0076ff 420px,#08f 432px,#09f 444px,#09f 456px,#09f 468px,#09f 480px,#0097ff 492px,#006cff 504px,#0064ff 516px,#0067ff 528px,#006fff 540px,#007aff 552px,#007dff 564px,#007aff 576px,#0078ff 588px,#0085ff 600px,#007dff 612px,#007dff 624px,#009fff 636px,#0085ff 648px,#0af 660px,#0093ff 672px,#0096ff 684px,#00abff 696px,#0080ff 708px,#0071ff 720px,#0083ff 732px,#00a7ff 744px,#0085ff 756px,#00a6ff 768px,#00b3ff 780px,#00b3ff 792px,#00a6ff 804px,#0090ff 816px,#0063ff 828px,#0063ff 840px,#0080ff 852px,#009bff 864px,#00a9ff 876px,#0097ff 888px,#07f 900px,#0064ff 912px,#006cff 924px,#0078ff 936px,#0082ff 948px,#007fff 960px,#0096ff 972px,#0096ff 984px,#0093ff 996px,#0082ff 1008px,#0078ff 1020px,#007aff 1032px,#008bff 1044px,#00a0ff 1056px,#009fff 1068px,#007eff 1080px,#0082ff 1092px,#008bff 1104px,#09f 1116px,#08f 1128px,#0083ff 1140px,#08f 1152px,#08f 1164px,#008dff 1176px,#008dff 1176px)"></b><b style="top:639.1px;height:1.5px;background:linear-gradient(90deg,#004fff 0px,#004fff 12px,#004fff 24px,#004fff 36px,#004fff 48px,#004dff 60px,#0049ff 72px,#0050ff 84px,#0051ff 96px,#004fff 108px,#004fff 120px,#0047ff 132px,#0042ff 144px,#004aff 156px,#0064ff 168px,#0065ff 180px,#0061ff 192px,#005aff 204px,#0058ff 216px,#0065ff 228px,#0065ff 240px,#005bff 252px,#0058ff 264px,#0065ff 276px,#0036ff 288px,#0049ff 300px,#0054ff 312px,#004aff 324px,#06f 336px,#0075ff 348px,#007aff 360px,#0070ff 372px,#006cff 384px,#0069ff 396px,#006fff 408px,#0070ff 420px,#007fff 432px,#008dff 444px,#008dff 456px,#008dff 468px,#008dff 480px,#008bff 492px,#06f 504px,#0060ff 516px,#0062ff 528px,#006aff 540px,#0072ff 552px,#0075ff 564px,#0073ff 576px,#0071ff 588px,#007cff 600px,#0076ff 612px,#0076ff 624px,#0093ff 636px,#007cff 648px,#009dff 660px,#08f 672px,#008bff 684px,#009dff 696px,#0078ff 708px,#006bff 720px,#007aff 732px,#009aff 744px,#007cff 756px,#09f 768px,#00a4ff 780px,#00a4ff 792px,#09f 804px,#0086ff 816px,#005fff 828px,#005fff 840px,#0078ff 852px,#008fff 864px,#009bff 876px,#008cff 888px,#0070ff 900px,#0060ff 912px,#0067ff 924px,#0071ff 936px,#0079ff 948px,#07f 960px,#008bff 972px,#008bff 984px,#08f 996px,#007aff 1008px,#0071ff 1020px,#0073ff 1032px,#0081ff 1044px,#0093ff 1056px,#0093ff 1068px,#0076ff 1080px,#007aff 1092px,#0081ff 1104px,#008dff 1116px,#007eff 1128px,#007aff 1140px,#007eff 1152px,#007fff 1164px,#0082ff 1176px,#0082ff 1176px)"></b><b style="top:667.8px;height:3.0px;background:linear-gradient(90deg,#0080ff 0px,#0080ff 12px,#0080ff 24px,#0080ff 36px,#0080ff 48px,#007fff 60px,#007eff 72px,#0080ff 84px,#0080ff 96px,#0080ff 108px,#0080ff 120px,#007dff 132px,#007cff 144px,#007dff 156px,#0082ff 168px,#0082ff 180px,#0082ff 192px,#0081ff 204px,#0080ff 216px,#0082ff 228px,#0082ff 240px,#0081ff 252px,#0081ff 264px,#0082ff 276px,#07f 288px,#007cff 300px,#0080ff 312px,#007fff 324px,#0082ff 336px,#0084ff 348px,#0085ff 360px,#0084ff 372px,#0083ff 384px,#0083ff 396px,#0084ff 408px,#0084ff 420px,#0086ff 432px,#08f 444px,#08f 456px,#08f 468px,#08f 480px,#0087ff 492px,#0083ff 504px,#0082ff 516px,#0082ff 528px,#0083ff 540px,#0084ff 552px,#0084ff 564px,#0084ff 576px,#0084ff 588px,#0085ff 600px,#0084ff 612px,#0084ff 624px,#08f 636px,#0085ff 648px,#008aff 660px,#0087ff 672px,#0087ff 684px,#008aff 696px,#0085ff 708px,#0083ff 720px,#0085ff 732px,#0089ff 744px,#0085ff 756px,#0089ff 768px,#008bff 780px,#008bff 792px,#0089ff 804px,#0087ff 816px,#0082ff 828px,#0082ff 840px,#0085ff 852px,#08f 864px,#008aff 876px,#0087ff 888px,#0084ff 900px,#0082ff 912px,#0083ff 924px,#0084ff 936px,#0085ff 948px,#0085ff 960px,#0087ff 972px,#0087ff 984px,#0087ff 996px,#0085ff 1008px,#0084ff 1020px,#0084ff 1032px,#0086ff 1044px,#0089ff 1056px,#08f 1068px,#0085ff 1080px,#0085ff 1092px,#0086ff 1104px,#08f 1116px,#0086ff 1128px,#0085ff 1140px,#0086ff 1152px,#0086ff 1164px,#0086ff 1176px,#0086ff 1176px)"></b><b style="top:675.8px;height:2.0px;background:linear-gradient(90deg,#004dff 0px,#004dff 12px,#004dff 24px,#004dff 36px,#004dff 48px,#004cff 60px,#004bff 72px,#004dff 84px,#004dff 96px,#004dff 108px,#004dff 120px,#004aff 132px,#0049ff 144px,#004aff 156px,#004fff 168px,#004fff 180px,#004eff 192px,#004eff 204px,#004dff 216px,#004eff 228px,#004eff 240px,#004dff 252px,#004eff 264px,#004eff 276px,#04f 288px,#0049ff 300px,#004cff 312px,#004cff 324px,#004fff 336px,#0051ff 348px,#0051ff 360px,#0050ff 372px,#0050ff 384px,#004fff 396px,#0050ff 408px,#0050ff 420px,#0052ff 432px,#0053ff 444px,#0053ff 456px,#0053ff 468px,#0053ff 480px,#0053ff 492px,#004fff 504px,#004eff 516px,#004fff 528px,#004fff 540px,#0050ff 552px,#0051ff 564px,#0050ff 576px,#0050ff 588px,#0051ff 600px,#0051ff 612px,#0051ff 624px,#0054ff 636px,#0051ff 648px,#05f 660px,#0053ff 672px,#0053ff 684px,#05f 696px,#0051ff 708px,#004fff 720px,#0051ff 732px,#05f 744px,#0051ff 756px,#05f 768px,#0056ff 780px,#0056ff 792px,#05f 804px,#0052ff 816px,#004eff 828px,#004eff 840px,#0051ff 852px,#0053ff 864px,#05f 876px,#0053ff 888px,#0050ff 900px,#004eff 912px,#004fff 924px,#0050ff 936px,#0051ff 948px,#0051ff 960px,#0053ff 972px,#0053ff 984px,#0053ff 996px,#0051ff 1008px,#0050ff 1020px,#0050ff 1032px,#0052ff 1044px,#0054ff 1056px,#0054ff 1068px,#0051ff 1080px,#0051ff 1092px,#0052ff 1104px,#0053ff 1116px,#0051ff 1128px,#0051ff 1140px,#0051ff 1152px,#0052ff 1164px,#0052ff 1176px,#0052ff 1176px)"></b><b style="top:681.3px;height:1.1px;background:linear-gradient(90deg,#001aff 0px,#001aff 12px,#001aff 24px,#001aff 36px,#001aff 48px,#0019ff 60px,#0018ff 72px,#001aff 84px,#001aff 96px,#001aff 108px,#001aff 120px,#0017ff 132px,#0016ff 144px,#0017ff 156px,#001cff 168px,#001cff 180px,#001cff 192px,#001bff 204px,#001aff 216px,#001cff 228px,#001cff 240px,#001bff 252px,#001bff 264px,#001cff 276px,#01f 288px,#0016ff 300px,#001aff 312px,#0019ff 324px,#001cff 336px,#001eff 348px,#001fff 360px,#001eff 372px,#001dff 384px,#001dff 396px,#001eff 408px,#001eff 420px,#0020ff 432px,#0021ff 444px,#0021ff 456px,#0021ff 468px,#0021ff 480px,#0021ff 492px,#001cff 504px,#001cff 516px,#001cff 528px,#001dff 540px,#001eff 552px,#001eff 564px,#001eff 576px,#001eff 588px,#001fff 600px,#001eff 612px,#001eff 624px,#02f 636px,#001fff 648px,#0024ff 660px,#0021ff 672px,#0021ff 684px,#0024ff 696px,#001fff 708px,#001dff 720px,#001fff 732px,#0023ff 744px,#001fff 756px,#0023ff 768px,#0025ff 780px,#0025ff 792px,#0023ff 804px,#0020ff 816px,#001cff 828px,#001cff 840px,#001fff 852px,#02f 864px,#0024ff 876px,#0021ff 888px,#001eff 900px,#001cff 912px,#001dff 924px,#001eff 936px,#001fff 948px,#001eff 960px,#0021ff 972px,#0021ff 984px,#0021ff 996px,#001fff 1008px,#001eff 1020px,#001eff 1032px,#0020ff 1044px,#02f 1056px,#02f 1068px,#001eff 1080px,#001fff 1092px,#0020ff 1104px,#0021ff 1116px,#001fff 1128px,#001fff 1140px,#001fff 1152px,#0020ff 1164px,#0020ff 1176px,#0020ff 1176px)"></b><b style="top:685.2px;height:2.0px;background:linear-gradient(90deg,#0075ff 0px,#0075ff 12px,#0075ff 24px,#0075ff 36px,#0075ff 48px,#0075ff 60px,#0074ff 72px,#0076ff 84px,#0076ff 96px,#0075ff 108px,#0075ff 120px,#0073ff 132px,#0071ff 144px,#0073ff 156px,#07f 168px,#07f 180px,#07f 192px,#0076ff 204px,#0075ff 216px,#07f 228px,#07f 240px,#0076ff 252px,#0076ff 264px,#0076ff 276px,#006dff 288px,#0071ff 300px,#0075ff 312px,#0074ff 324px,#07f 336px,#0078ff 348px,#0079ff 360px,#0078ff 372px,#0078ff 384px,#07f 396px,#0078ff 408px,#0078ff 420px,#0079ff 432px,#007aff 444px,#007aff 456px,#007aff 468px,#007aff 480px,#007aff 492px,#07f 504px,#07f 516px,#07f 528px,#07f 540px,#0078ff 552px,#0078ff 564px,#0078ff 576px,#0078ff 588px,#0079ff 600px,#0078ff 612px,#0078ff 624px,#007bff 636px,#0079ff 648px,#007cff 660px,#007aff 672px,#007aff 684px,#007cff 696px,#0079ff 708px,#0078ff 720px,#0079ff 732px,#007cff 744px,#0079ff 756px,#007bff 768px,#007dff 780px,#007dff 792px,#007bff 804px,#007aff 816px,#07f 828px,#07f 840px,#0079ff 852px,#007bff 864px,#007cff 876px,#007aff 888px,#0078ff 900px,#07f 912px,#07f 924px,#0078ff 936px,#0079ff 948px,#0078ff 960px,#007aff 972px,#007aff 984px,#007aff 996px,#0079ff 1008px,#0078ff 1020px,#0078ff 1032px,#0079ff 1044px,#007bff 1056px,#007bff 1068px,#0078ff 1080px,#0079ff 1092px,#0079ff 1104px,#007aff 1116px,#0079ff 1128px,#0079ff 1140px,#0079ff 1152px,#0079ff 1164px,#0079ff 1176px,#0079ff 1176px)"></b><b style="top:691.8px;height:2.0px;background:linear-gradient(90deg,#00c7ff 0px,#00c7ff 12px,#00c7ff 24px,#00c7ff 36px,#00c7ff 48px,#00c7ff 60px,#00c5ff 72px,#00c7ff 84px,#00c7ff 96px,#00c7ff 108px,#00c7ff 120px,#00c5ff 132px,#00c3ff 144px,#00c5ff 156px,#00c8ff 168px,#00c8ff 180px,#00c8ff 192px,#00c8ff 204px,#00c6ff 216px,#00c7ff 228px,#00c7ff 240px,#00c7ff 252px,#00c7ff 264px,#00c7ff 276px,#00bfff 288px,#00c3ff 300px,#00c6ff 312px,#00c6ff 324px,#00c8ff 336px,#00c9ff 348px,#00c9ff 360px,#00c9ff 372px,#00c8ff 384px,#00c8ff 396px,#00c9ff 408px,#00c9ff 420px,#00c9ff 432px,#00caff 444px,#00caff 456px,#00caff 468px,#00caff 480px,#00caff 492px,#00c8ff 504px,#00c8ff 516px,#00c8ff 528px,#00c8ff 540px,#00c9ff 552px,#00c9ff 564px,#00c9ff 576px,#00c9ff 588px,#00c9ff 600px,#00c9ff 612px,#00c9ff 624px,#00cbff 636px,#00c9ff 648px,#00cbff 660px,#00caff 672px,#00caff 684px,#00cbff 696px,#00c9ff 708px,#00c8ff 720px,#00c9ff 732px,#00cbff 744px,#00c9ff 756px,#00cbff 768px,#0cf 780px,#0cf 792px,#00cbff 804px,#00caff 816px,#00c8ff 828px,#00c8ff 840px,#00c9ff 852px,#00caff 864px,#00cbff 876px,#00caff 888px,#00c9ff 900px,#00c8ff 912px,#00c8ff 924px,#00c9ff 936px,#00c9ff 948px,#00c9ff 960px,#00caff 972px,#00caff 984px,#00caff 996px,#00c9ff 1008px,#00c9ff 1020px,#00c9ff 1032px,#00caff 1044px,#00cbff 1056px,#00cbff 1068px,#00c9ff 1080px,#00c9ff 1092px,#00caff 1104px,#00caff 1116px,#00c9ff 1128px,#00c9ff 1140px,#00c9ff 1152px,#00c9ff 1164px,#00caff 1176px,#00caff 1176px)"></b><b style="top:698.3px;height:2.0px;background:linear-gradient(90deg,#00bdff 0px,#00bdff 12px,#00bdff 24px,#00bdff 36px,#00bdff 48px,#00bcff 60px,#0bf 72px,#00bdff 84px,#00bdff 96px,#00bdff 108px,#00bdff 120px,#00baff 132px,#00b9ff 144px,#00baff 156px,#00beff 168px,#00beff 180px,#00beff 192px,#00bdff 204px,#00bcff 216px,#00bdff 228px,#00bdff 240px,#00bdff 252px,#00bdff 264px,#00bdff 276px,#00b4ff 288px,#00b8ff 300px,#00bcff 312px,#00bcff 324px,#00beff 336px,#00bfff 348px,#00bfff 360px,#00beff 372px,#00beff 384px,#00beff 396px,#00beff 408px,#00beff 420px,#00bfff 432px,#00c0ff 444px,#00c0ff 456px,#00c0ff 468px,#00c0ff 480px,#00c0ff 492px,#00beff 504px,#00beff 516px,#00beff 528px,#00beff 540px,#00bfff 552px,#00bfff 564px,#00bfff 576px,#00beff 588px,#00bfff 600px,#00bfff 612px,#00bfff 624px,#00c0ff 636px,#00bfff 648px,#00c1ff 660px,#00c0ff 672px,#00c0ff 684px,#00c1ff 696px,#00bfff 708px,#00beff 720px,#00bfff 732px,#00c1ff 744px,#00bfff 756px,#00c1ff 768px,#00c1ff 780px,#00c1ff 792px,#00c1ff 804px,#00c0ff 816px,#00beff 828px,#00beff 840px,#00bfff 852px,#00c0ff 864px,#00c1ff 876px,#00c0ff 888px,#00beff 900px,#00beff 912px,#00beff 924px,#00beff 936px,#00bfff 948px,#00bfff 960px,#00c0ff 972px,#00c0ff 984px,#00c0ff 996px,#00bfff 1008px,#00beff 1020px,#00bfff 1032px,#00bfff 1044px,#00c0ff 1056px,#00c0ff 1068px,#00bfff 1080px,#00bfff 1092px,#00bfff 1104px,#00c0ff 1116px,#00bfff 1128px,#00bfff 1140px,#00bfff 1152px,#00bfff 1164px,#00bfff 1176px,#00bfff 1176px)"></b><b style="left:-0.2px;width:76.5px;top:469.0px;height:3px;background:linear-gradient(90deg,#3fe0c0 0,#b9c23c 6px,#a08a20 24px,#6e0d00 36px,#6e0d00 66px,#a08a20 70px,#d8e040 71px,#40f0d0 100%)"></b><b style="left:189.4px;width:22.3px;top:469.0px;height:3px;background:linear-gradient(90deg,#30e8d8 0,#b8f060 25%,#d8d040 50%,#b8f060 75%,#30e8d8 100%)"></b><b style="left:219.4px;width:69.3px;top:469.0px;height:3px;background:linear-gradient(90deg,#3fe0c0 0,#b9c23c 6px,#a08a20 24px,#6e0d00 36px,#6e0d00 52px,#a08a20 60px,#d8e040 64px,#40f0d0 100%)"></b><b style="left:342.8px;width:33.0px;top:469.0px;height:3px;background:linear-gradient(90deg,#30e8d8 0,#b8f060 25%,#d8d040 50%,#b8f060 75%,#30e8d8 100%)"></b><b style="left:516.8px;width:64.0px;top:469.0px;height:3px;background:linear-gradient(90deg,#3fe0c0 0,#b9c23c 6px,#a08a20 14px,#6e0d00 26px,#6e0d00 51px,#a08a20 58px,#d8e040 59px,#40f0d0 100%)"></b><b style="left:588.8px;width:74.0px;top:469.0px;height:3px;background:linear-gradient(90deg,#3fe0c0 0,#b9c23c 6px,#a08a20 7px,#6e0d00 17px,#6e0d00 66px,#a08a20 68px,#d8e040 69px,#40f0d0 100%)"></b><b style="left:722.4px;width:28.9px;top:469.0px;height:3px;background:linear-gradient(90deg,#3fe0c0 0,#b9c23c 2px,#a08a20 7px,#6e0d00 2px,#6e0d00 25px,#a08a20 22px,#d8e040 23px,#40f0d0 100%)"></b><b style="left:869.8px;width:27.0px;top:469.0px;height:3px;background:linear-gradient(90deg,#3fe0c0 0,#b9c23c 2px,#a08a20 7px,#6e0d00 2px,#6e0d00 20px,#a08a20 21px,#d8e040 22px,#40f0d0 100%)"></b><b style="left:974.8px;width:26.0px;top:469.0px;height:3px;background:linear-gradient(90deg,#3fe0c0 0,#b9c23c 2px,#a08a20 7px,#6e0d00 1px,#6e0d00 17px,#a08a20 20px,#d8e040 21px,#40f0d0 100%)"></b><u style="left:2.1px;top:675.7px;width:52px;height:2.2px;background:repeating-linear-gradient(90deg,rgba(0,140,255,.8) 0,rgba(0,140,255,.8) 4px,rgba(0,100,255,.3) 4px,rgba(0,100,255,.3) 6.5px);-webkit-mask-image:linear-gradient(90deg,#000 60%,transparent);mask-image:linear-gradient(90deg,#000 60%,transparent)"></u><u style="left:198.2px;top:675.7px;width:52px;height:2.2px;background:repeating-linear-gradient(90deg,rgba(0,140,255,.8) 0,rgba(0,140,255,.8) 4px,rgba(0,100,255,.3) 4px,rgba(0,100,255,.3) 6.5px);-webkit-mask-image:linear-gradient(90deg,#000 60%,transparent);mask-image:linear-gradient(90deg,#000 60%,transparent)"></u><u style="left:394.4px;top:675.7px;width:52px;height:2.2px;background:repeating-linear-gradient(90deg,rgba(0,140,255,.8) 0,rgba(0,140,255,.8) 4px,rgba(0,100,255,.3) 4px,rgba(0,100,255,.3) 6.5px);-webkit-mask-image:linear-gradient(90deg,#000 60%,transparent);mask-image:linear-gradient(90deg,#000 60%,transparent)"></u><u style="left:590.5px;top:675.7px;width:52px;height:2.2px;background:repeating-linear-gradient(90deg,rgba(0,140,255,.8) 0,rgba(0,140,255,.8) 4px,rgba(0,100,255,.3) 4px,rgba(0,100,255,.3) 6.5px);-webkit-mask-image:linear-gradient(90deg,#000 60%,transparent);mask-image:linear-gradient(90deg,#000 60%,transparent)"></u><u style="left:786.6px;top:675.7px;width:52px;height:2.2px;background:repeating-linear-gradient(90deg,rgba(0,140,255,.8) 0,rgba(0,140,255,.8) 4px,rgba(0,100,255,.3) 4px,rgba(0,100,255,.3) 6.5px);-webkit-mask-image:linear-gradient(90deg,#000 60%,transparent);mask-image:linear-gradient(90deg,#000 60%,transparent)"></u><u style="left:982.7px;top:675.7px;width:52px;height:2.2px;background:repeating-linear-gradient(90deg,rgba(0,140,255,.8) 0,rgba(0,140,255,.8) 4px,rgba(0,100,255,.3) 4px,rgba(0,100,255,.3) 6.5px);-webkit-mask-image:linear-gradient(90deg,#000 60%,transparent);mask-image:linear-gradient(90deg,#000 60%,transparent)"></u><u style="left:1178.8px;top:675.7px;width:52px;height:2.2px;background:repeating-linear-gradient(90deg,rgba(0,140,255,.8) 0,rgba(0,140,255,.8) 4px,rgba(0,100,255,.3) 4px,rgba(0,100,255,.3) 6.5px);-webkit-mask-image:linear-gradient(90deg,#000 60%,transparent);mask-image:linear-gradient(90deg,#000 60%,transparent)"></u><u style="left:76.6px;top:0;width:1.6px;height:714px;background:linear-gradient(rgba(0,90,255,.32) 0,rgba(0,90,255,.32) 43%,rgba(0,40,255,.25) 45%,rgba(0,40,255,.25) 100%)"></u><u style="left:252.9px;top:0;width:1.6px;height:714px;background:linear-gradient(rgba(0,90,255,.32) 0,rgba(0,90,255,.32) 43%,rgba(0,40,255,.25) 45%,rgba(0,40,255,.25) 100%)"></u><u style="left:317.0px;top:0;width:1.6px;height:714px;background:linear-gradient(rgba(0,90,255,.32) 0,rgba(0,90,255,.32) 43%,rgba(0,40,255,.25) 45%,rgba(0,40,255,.25) 100%)"></u><u style="left:385.7px;top:0;width:1.6px;height:714px;background:linear-gradient(rgba(0,90,255,.32) 0,rgba(0,90,255,.32) 43%,rgba(0,40,255,.25) 45%,rgba(0,40,255,.25) 100%)"></u><u style="left:428.8px;top:0;width:1.6px;height:714px;background:linear-gradient(rgba(0,90,255,.32) 0,rgba(0,90,255,.32) 43%,rgba(0,40,255,.25) 45%,rgba(0,40,255,.25) 100%)"></u><u style="left:570.0px;top:0;width:1.6px;height:714px;background:linear-gradient(rgba(0,90,255,.32) 0,rgba(0,90,255,.32) 43%,rgba(0,40,255,.25) 45%,rgba(0,40,255,.25) 100%)"></u><u style="left:765.0px;top:0;width:1.6px;height:714px;background:linear-gradient(rgba(0,90,255,.32) 0,rgba(0,90,255,.32) 43%,rgba(0,40,255,.25) 45%,rgba(0,40,255,.25) 100%)"></u><u style="left:957.5px;top:0;width:1.6px;height:714px;background:linear-gradient(rgba(0,90,255,.32) 0,rgba(0,90,255,.32) 43%,rgba(0,40,255,.25) 45%,rgba(0,40,255,.25) 100%)"></u><u style="left:1025.8px;top:0;width:1.6px;height:714px;background:linear-gradient(rgba(0,90,255,.32) 0,rgba(0,90,255,.32) 43%,rgba(0,40,255,.25) 45%,rgba(0,40,255,.25) 100%)"></u><u style="left:1035.8px;top:0;width:1.6px;height:714px;background:linear-gradient(rgba(0,90,255,.32) 0,rgba(0,90,255,.32) 43%,rgba(0,40,255,.25) 45%,rgba(0,40,255,.25) 100%)"></u><u style="left:1134.0px;top:0;width:1.6px;height:714px;background:linear-gradient(rgba(0,90,255,.32) 0,rgba(0,90,255,.32) 43%,rgba(0,40,255,.25) 45%,rgba(0,40,255,.25) 100%)"></u><u style="left:138.8px;top:0;width:1.6px;height:714px;background:linear-gradient(rgba(0,90,255,.32) 0,rgba(0,90,255,.32) 43%,rgba(0,40,255,.25) 45%,rgba(0,40,255,.25) 100%)"></u><u style="left:158.8px;top:0;width:1.6px;height:714px;background:linear-gradient(rgba(0,90,255,.32) 0,rgba(0,90,255,.32) 43%,rgba(0,40,255,.25) 45%,rgba(0,40,255,.25) 100%)"></u><u style="left:818.8px;top:0;width:1.9px;height:311px;background:rgba(0,110,255,.33)"></u><u style="left:822.2px;top:0;width:3.2px;height:311px;background:rgba(0,110,255,.33)"></u><u style="left:827.0px;top:0;width:3.2px;height:311px;background:rgba(0,110,255,.33)"></u><u style="left:831.8px;top:0;width:3.2px;height:311px;background:rgba(0,110,255,.33)"></u><u style="left:836.5px;top:0;width:3.2px;height:311px;background:rgba(0,110,255,.33)"></u><u style="left:841.2px;top:0;width:3.2px;height:311px;background:rgba(0,110,255,.33)"></u><u style="left:846.0px;top:0;width:3.2px;height:311px;background:rgba(0,110,255,.33)"></u><u style="left:850.8px;top:0;width:1.0px;height:311px;background:rgba(0,110,255,.33)"></u><u style="left:899.0px;top:0;width:2.8px;height:311px;background:rgba(0,110,255,.33)"></u><u style="left:903.5px;top:0;width:3.1px;height:311px;background:rgba(0,110,255,.33)"></u><u style="left:908.2px;top:0;width:2.9px;height:311px;background:rgba(0,110,255,.33)"></u><u style="left:912.7px;top:0;width:3.4px;height:311px;background:rgba(0,110,255,.33)"></u><u style="left:917.7px;top:0;width:1.3px;height:311px;background:rgba(0,110,255,.33)"></u><u style="left:130.6px;top:0;width:6.8px;height:311px;background:rgba(0,110,255,.33)"></u><u style="left:138.8px;top:0;width:2.5px;height:311px;background:rgba(0,110,255,.33)"></u><u style="left:156.9px;top:0;width:1.8px;height:311px;background:rgba(0,110,255,.33)"></u><u style="left:1081.3px;top:0;width:2.1px;height:311px;background:rgba(0,110,255,.33)"></u><u style="left:1085.2px;top:0;width:2.2px;height:311px;background:rgba(0,110,255,.33)"></u><u style="left:1089.2px;top:0;width:2.2px;height:311px;background:rgba(0,110,255,.33)"></u><u style="left:441.8px;top:221.8px;width:58px;height:142px;background:repeating-linear-gradient(172deg,rgba(0,255,255,.32) 0,rgba(0,255,255,.32) 5px,rgba(0,20,255,.27) 9px,rgba(0,20,255,.27) 12px,rgba(0,255,255,.32) 16.5px);-webkit-mask-image:linear-gradient(90deg,transparent,#000 45%),linear-gradient(#000 0,#000 60%,transparent);-webkit-mask-composite:source-in;mask-image:linear-gradient(90deg,transparent,#000 45%),linear-gradient(#000 0,#000 60%,transparent);mask-composite:intersect"></u><u style="left:770.8px;top:221.8px;width:38px;height:170px;background:repeating-linear-gradient(180deg,rgba(20,255,235,.34) 0,rgba(20,255,235,.34) 4px,rgba(0,40,255,.22) 7px,rgba(0,40,255,.22) 11px,rgba(20,255,235,.34) 14px);-webkit-mask-image:linear-gradient(#000 0,#000 60%,transparent);mask-image:linear-gradient(#000 0,#000 60%,transparent);border-radius:14px"></u><svg width="1177" height="714" style="left:0;top:0"><path fill="#ff8f00" d="M818.8 4.4h1.9v2.2h-1.9zM831.8 62.8h3.1v2.4h-3.1z"/><path fill="#ffa800" d="M822.3 4.4h3.1v2.2h-3.1z"/><path fill="#ff6100" d="M827.1 4.4h3.1v2.2h-3.1z"/><path fill="#ffb300" d="M831.8 4.4h3.1v2.2h-3.1zM908.2 4.4h2.8v2.2h-2.8z"/><path fill="#ff7100" d="M836.6 4.4h3.1v2.2h-3.1z"/><path fill="#ff8900" d="M841.3 4.4h3.1v2.2h-3.1z"/><path fill="#ffb500" d="M846.1 4.4h3.1v2.2h-3.1z"/><path fill="#ff7500" d="M850.8 4.4h0.8v2.2h-0.8z"/><path fill="#ffb800" d="M899.0 4.4h2.8v2.2h-2.8zM822.3 62.8h3.1v2.4h-3.1z"/><path fill="#ff7f00" d="M903.5 4.4h3.0v2.2h-3.0zM822.3 612.4h3.1v2.4h-3.1z"/><path fill="#ffb000" d="M912.8 4.4h3.3v2.2h-3.3z"/><path fill="#ff8100" d="M917.8 4.4h1.2v2.2h-1.2z"/><path fill="#ff4800" d="M130.8 4.4h2.0v2.2h-2.0zM850.8 612.4h0.8v2.4h-0.8z"/><path fill="#ffab00" d="M132.8 4.4h2.0v2.2h-2.0zM903.5 62.8h3.0v2.4h-3.0z"/><path fill="#ff9d00" d="M134.8 4.4h2.4v2.2h-2.4z"/><path fill="#ff6400" d="M139.6 4.4h1.5v2.2h-1.5z"/><path fill="#ff3700" d="M156.9 4.4h2.1v2.2h-2.1zM850.8 448.7h0.8v2.2h-0.8z"/><path fill="#ff6b00" d="M160.2 4.4h1.4v2.2h-1.4z"/><path fill="#f50" d="M1025.3 4.4h2.6v2.2h-2.6z"/><path fill="#ec0300" d="M1035.2 4.4h2.8v2.2h-2.8z"/><path fill="#ff8700" d="M1081.3 4.4h2.0v2.2h-2.0z"/><path fill="#ff1400" d="M1085.3 4.4h2.0v2.2h-2.0z"/><path fill="#ff6500" d="M1089.3 4.4h2.0v2.2h-2.0z"/><path fill="#2fffc8" d="M818.8 17.3h1.9v2.2h-1.9z"/><path fill="#2bffcb" d="M822.3 17.3h3.1v2.2h-3.1z"/><path fill="#43ffb4" d="M827.1 17.3h3.1v2.2h-3.1zM818.8 582.4h1.9v2.0h-1.9z"/><path fill="#81ff75" d="M831.8 17.3h3.1v2.2h-3.1z"/><path fill="#33ffc4" d="M836.6 17.3h3.1v2.2h-3.1zM130.8 165.9h2.0v2.4h-2.0zM846.1 273.6h3.1v2.0h-3.1zM130.8 353.9h2.0v2.2h-2.0z"/><path fill="#65ff92" d="M841.3 17.3h3.1v2.2h-3.1zM132.8 182.8h2.0v2.0h-2.0zM818.8 345.3h1.9v2.2h-1.9zM130.8 461.7h2.0v2.2h-2.0z"/><path fill="#6cff8b" d="M846.1 17.3h3.1v2.2h-3.1zM850.8 88.1h0.8v2.4h-0.8z"/><path fill="#4bffac" d="M850.8 17.3h0.8v2.2h-0.8zM841.3 100.8h3.1v2.0h-3.1zM841.3 286.5h3.1v2.2h-3.1zM130.8 434.7h2.0v2.2h-2.0z"/><path fill="#9eff59" d="M899.0 17.3h2.8v2.2h-2.8zM132.8 109.5h2.0v2.2h-2.0z"/><path fill="#62ff95" d="M903.5 17.3h3.0v2.2h-3.0zM908.2 17.3h2.8v2.2h-2.8zM831.8 582.4h3.1v2.0h-3.1zM846.1 598.6h3.1v2.0h-3.1z"/><path fill="#74ff83" d="M912.8 17.3h3.3v2.2h-3.3z"/><path fill="#aeff48" d="M917.8 17.3h1.2v2.2h-1.2z"/><path fill="#66ff91" d="M130.8 17.3h2.0v2.2h-2.0zM132.8 124.5h2.0v3.6h-2.0z"/><path fill="#58ff9f" d="M132.8 17.3h2.0v2.2h-2.0zM846.1 582.4h3.1v2.0h-3.1z"/><path fill="#7aff7d" d="M134.8 17.3h2.4v2.2h-2.4zM836.6 109.5h3.1v2.2h-3.1zM912.8 461.7h3.3v2.2h-3.3zM912.8 625.5h3.3v2.2h-3.3z"/><path fill="#69ff8e" d="M139.6 17.3h1.5v2.2h-1.5z"/><path fill="#2dffca" d="M156.9 17.3h2.1v2.2h-2.1zM818.8 353.9h1.9v2.2h-1.9z"/><path fill="#6aff8d" d="M160.2 17.3h1.4v2.2h-1.4zM836.6 73.8h3.1v2.0h-3.1zM850.8 676.8h0.8v2.0h-0.8z"/><path fill="#b1ff46" d="M1081.3 17.3h2.0v2.2h-2.0zM1089.3 124.5h2.0v3.6h-2.0z"/><path fill="#79ff7e" d="M1085.3 17.3h2.0v2.2h-2.0zM160.2 62.8h1.4v2.4h-1.4zM134.8 329.7h2.4v2.2h-2.4z"/><path fill="#a1ff55" d="M1089.3 17.3h2.0v2.2h-2.0z"/><path fill="#910000" d="M818.8 34.4h1.9v2.2h-1.9zM822.3 34.4h3.1v2.2h-3.1zM827.1 34.4h3.1v2.2h-3.1zM831.8 34.4h3.1v2.2h-3.1zM836.6 34.4h3.1v2.2h-3.1zM841.3 34.4h3.1v2.2h-3.1zM846.1 34.4h3.1v2.2h-3.1zM850.8 34.4h0.8v2.2h-0.8zM818.8 152.7h1.9v2.2h-1.9zM822.3 152.7h3.1v2.2h-3.1zM827.1 152.7h3.1v2.2h-3.1zM831.8 152.7h3.1v2.2h-3.1zM836.6 152.7h3.1v2.2h-3.1zM841.3 152.7h3.1v2.2h-3.1zM846.1 152.7h3.1v2.2h-3.1zM850.8 152.7h0.8v2.2h-0.8zM899.0 152.7h2.8v2.2h-2.8zM903.5 152.7h3.0v2.2h-3.0zM908.2 152.7h2.8v2.2h-2.8zM912.8 152.7h3.3v2.2h-3.3zM917.8 152.7h1.2v2.2h-1.2z"/><path fill="#ffa700" d="M899.0 34.4h2.8v2.2h-2.8zM836.6 62.8h3.1v2.4h-3.1z"/><path fill="#ff7800" d="M903.5 34.4h3.0v2.2h-3.0zM1085.3 62.8h2.0v2.4h-2.0z"/><path fill="#ffb700" d="M908.2 34.4h2.8v2.2h-2.8z"/><path fill="#ff5e00" d="M912.8 34.4h3.3v2.2h-3.3z"/><path fill="#ff5100" d="M917.8 34.4h1.2v2.2h-1.2z"/><path fill="#9c0000" d="M130.8 34.4h2.0v2.2h-2.0zM132.8 34.4h2.0v2.2h-2.0zM134.8 34.4h2.4v2.2h-2.4zM139.6 34.4h1.5v2.2h-1.5zM130.8 152.7h2.0v2.2h-2.0zM132.8 152.7h2.0v2.2h-2.0zM134.8 152.7h2.4v2.2h-2.4zM139.6 152.7h1.5v2.2h-1.5z"/><path fill="#b90000" d="M156.9 34.4h2.1v2.2h-2.1zM160.2 34.4h1.4v2.2h-1.4z"/><path fill="#000014" d="M1025.3 34.4h2.6v2.2h-2.6zM1035.2 34.4h2.8v2.2h-2.8zM1025.3 152.7h2.6v2.2h-2.6zM1035.2 152.7h2.8v2.2h-2.8zM1081.3 152.7h2.0v2.2h-2.0zM1085.3 152.7h2.0v2.2h-2.0zM1089.3 152.7h2.0v2.2h-2.0z"/><path fill="#b70000" d="M1081.3 34.4h2.0v2.2h-2.0z"/><path fill="#ff1b00" d="M1085.3 34.4h2.0v2.2h-2.0z"/><path fill="#e80000" d="M1089.3 34.4h2.0v2.2h-2.0z"/><path fill="#ddff19" d="M818.8 62.8h1.9v2.4h-1.9z"/><path fill="#ffc000" d="M827.1 62.8h3.1v2.4h-3.1z"/><path fill="#f9f300" d="M841.3 62.8h3.1v2.4h-3.1zM1025.3 62.8h2.6v2.4h-2.6zM912.8 109.5h3.3v2.2h-3.3z"/><path fill="#ffe500" d="M846.1 62.8h3.1v2.4h-3.1zM1035.2 62.8h2.8v2.4h-2.8zM822.3 317.5h3.1v2.2h-3.1z"/><path fill="#ffbd00" d="M850.8 62.8h0.8v2.4h-0.8z"/><path fill="#ffe900" d="M899.0 62.8h2.8v2.4h-2.8z"/><path fill="#ffd400" d="M908.2 62.8h2.8v2.4h-2.8z"/><path fill="#ffdc00" d="M912.8 62.8h3.3v2.4h-3.3z"/><path fill="#ffe400" d="M917.8 62.8h1.2v2.4h-1.2zM818.8 165.9h1.9v2.4h-1.9zM160.2 317.5h1.4v2.2h-1.4z"/><path fill="#e2ff14" d="M130.8 62.8h2.0v2.4h-2.0z"/><path fill="#94ff63" d="M132.8 62.8h2.0v2.4h-2.0zM903.5 612.4h3.0v2.4h-3.0z"/><path fill="#a2ff55" d="M134.8 62.8h2.4v2.4h-2.4z"/><path fill="#b4ff43" d="M139.6 62.8h1.5v2.4h-1.5zM899.0 286.5h2.8v2.2h-2.8z"/><path fill="#dbff1c" d="M156.9 62.8h2.1v2.4h-2.1z"/><path fill="#ff6f00" d="M1081.3 62.8h2.0v2.4h-2.0z"/><path fill="#ff7200" d="M1089.3 62.8h2.0v2.4h-2.0z"/><path fill="#16ffe1" d="M818.8 73.8h1.9v2.0h-1.9z"/><path fill="#27ffd0" d="M822.3 73.8h3.1v2.0h-3.1zM912.8 182.8h3.3v2.0h-3.3zM134.8 353.9h2.4v2.2h-2.4z"/><path fill="#20ffd7" d="M827.1 73.8h3.1v2.0h-3.1z"/><path fill="#61ff96" d="M831.8 73.8h3.1v2.0h-3.1zM1081.3 434.7h2.0v2.2h-2.0zM134.8 461.7h2.4v2.2h-2.4zM903.5 704.9h3.0v2.4h-3.0z"/><path fill="#06edf0" d="M841.3 73.8h3.1v2.0h-3.1z"/><path fill="#09f1ed" d="M846.1 73.8h3.1v2.0h-3.1z"/><path fill="#10fae6" d="M850.8 73.8h0.8v2.0h-0.8zM899.0 73.8h2.8v2.0h-2.8z"/><path fill="#2fffc7" d="M903.5 73.8h3.0v2.0h-3.0z"/><path fill="#3cffba" d="M908.2 73.8h2.8v2.0h-2.8zM132.8 329.7h2.0v2.2h-2.0z"/><path fill="#14fee3" d="M912.8 73.8h3.3v2.0h-3.3z"/><path fill="#00d7ff" d="M917.8 73.8h1.2v2.0h-1.2zM831.8 461.7h3.1v2.2h-3.1z"/><path fill="#13fde4" d="M130.8 73.8h2.0v2.0h-2.0zM846.1 182.8h3.1v2.0h-3.1zM139.6 612.4h1.5v2.4h-1.5z"/><path fill="#0df5ea" d="M132.8 73.8h2.0v2.0h-2.0zM912.8 88.1h3.3v2.4h-3.3z"/><path fill="#25ffd2" d="M134.8 73.8h2.4v2.0h-2.4zM132.8 88.1h2.0v2.4h-2.0zM846.1 461.7h3.1v2.2h-3.1z"/><path fill="#55ffa2" d="M139.6 73.8h1.5v2.0h-1.5zM818.8 88.1h1.9v2.4h-1.9z"/><path fill="#40ffb7" d="M822.3 88.1h3.1v2.4h-3.1zM822.3 254.2h3.1v2.0h-3.1zM822.3 676.8h3.1v2.0h-3.1z"/><path fill="#4cffab" d="M827.1 88.1h3.1v2.4h-3.1zM912.8 165.9h3.3v2.4h-3.3z"/><path fill="#53ffa3" d="M831.8 88.1h3.1v2.4h-3.1zM846.1 286.5h3.1v2.2h-3.1z"/><path fill="#07eef0" d="M836.6 88.1h3.1v2.4h-3.1z"/><path fill="#6fff88" d="M841.3 88.1h3.1v2.4h-3.1zM822.3 329.7h3.1v2.2h-3.1z"/><path fill="#60ff97" d="M846.1 88.1h3.1v2.4h-3.1z"/><path fill="#62ff94" d="M899.0 88.1h2.8v2.4h-2.8zM917.8 704.9h1.2v2.4h-1.2z"/><path fill="#30ffc6" d="M903.5 88.1h3.0v2.4h-3.0zM160.2 461.7h1.4v2.2h-1.4z"/><path fill="#31ffc6" d="M908.2 88.1h2.8v2.4h-2.8zM139.6 88.1h1.5v2.4h-1.5zM836.6 353.9h3.1v2.2h-3.1zM841.3 434.7h3.1v2.2h-3.1z"/><path fill="#4effa9" d="M917.8 88.1h1.2v2.4h-1.2zM836.6 329.7h3.1v2.2h-3.1zM908.2 461.7h2.8v2.2h-2.8zM841.3 582.4h3.1v2.0h-3.1z"/><path fill="#24ffd2" d="M130.8 88.1h2.0v2.4h-2.0z"/><path fill="#37ffc0" d="M134.8 88.1h2.4v2.4h-2.4z"/><path fill="#32ffc5" d="M156.9 88.1h2.1v2.4h-2.1zM134.8 182.8h2.4v2.0h-2.4zM846.1 227.8h3.1v2.0h-3.1zM841.3 273.6h3.1v2.0h-3.1zM818.8 461.7h1.9v2.2h-1.9zM827.1 461.7h3.1v2.2h-3.1zM822.3 598.6h3.1v2.0h-3.1zM899.0 612.4h2.8v2.4h-2.8z"/><path fill="#0ff8e8" d="M160.2 88.1h1.4v2.4h-1.4z"/><path fill="#00bdff" d="M818.8 100.8h1.9v2.0h-1.9zM63.8 287.2h2v2h-2zM487.2 287.2h2v2h-2zM859.5 287.2h2v2h-2zM519.0 287.2h2v2h-2zM1120.8 287.2h2v2h-2zM47.7 287.2h2v2h-2zM544.3 287.2h2v2h-2zM301.5 287.2h2v2h-2zM1123.4 287.2h2v2h-2zM4.4 287.2h2v2h-2zM424.5 287.2h2v2h-2zM478.3 287.2h2v2h-2zM1036.3 287.2h2v2h-2zM310.7 287.2h2v2h-2zM877.4 287.2h2v2h-2zM762.0 287.2h2v2h-2zM766.4 287.2h2v2h-2zM273.2 287.2h2v2h-2zM909.1 287.2h2v2h-2zM398.8 287.2h2v2h-2zM91.4 287.2h2v2h-2zM74.2 287.2h2v2h-2zM749.8 287.2h2v2h-2z"/><path fill="#00d4ff" d="M822.3 100.8h3.1v2.0h-3.1zM899.0 676.8h2.8v2.0h-2.8z"/><path fill="#0cf" d="M827.1 100.8h3.1v2.0h-3.1z"/><path fill="#0cf4eb" d="M831.8 100.8h3.1v2.0h-3.1zM134.8 100.8h2.4v2.0h-2.4zM130.8 598.6h2.0v2.0h-2.0z"/><path fill="#00c1ff" d="M836.6 100.8h3.1v2.0h-3.1z"/><path fill="#2bffcc" d="M846.1 100.8h3.1v2.0h-3.1zM818.8 704.9h1.9v2.4h-1.9z"/><path fill="#00d3ff" d="M850.8 100.8h0.8v2.0h-0.8z"/><path fill="#00e3f9" d="M130.8 100.8h2.0v2.0h-2.0zM822.3 182.8h3.1v2.0h-3.1zM836.6 254.2h3.1v2.0h-3.1zM827.1 704.9h3.1v2.4h-3.1z"/><path fill="#0af2ed" d="M132.8 100.8h2.0v2.0h-2.0zM139.6 353.9h1.5v2.2h-1.5zM134.8 625.5h2.4v2.2h-2.4z"/><path fill="#00cfff" d="M139.6 100.8h1.5v2.0h-1.5z"/><path fill="#d8ff1f" d="M818.8 109.5h1.9v2.2h-1.9z"/><path fill="#eaff0d" d="M822.3 109.5h3.1v2.2h-3.1zM899.0 109.5h2.8v2.2h-2.8z"/><path fill="#a9ff4e" d="M827.1 109.5h3.1v2.2h-3.1zM132.8 165.9h2.0v2.4h-2.0z"/><path fill="#abff4c" d="M831.8 109.5h3.1v2.2h-3.1zM1081.3 461.7h2.0v2.2h-2.0z"/><path fill="#7cff7b" d="M841.3 109.5h3.1v2.2h-3.1z"/><path fill="#99ff5d" d="M846.1 109.5h3.1v2.2h-3.1zM912.8 434.7h3.3v2.2h-3.3z"/><path fill="#90ff67" d="M850.8 109.5h0.8v2.2h-0.8zM76.4 109.5h2v2.2h-2zM76.4 238.7h2v2.2h-2zM76.4 355.7h2v2.2h-2zM252.8 154.3h2v2.2h-2zM252.8 187.7h2v2.2h-2zM252.8 212.7h2v2.2h-2zM316.8 238.7h2v2.2h-2zM316.8 259.7h2v2.2h-2zM385.5 238.7h2v2.2h-2zM385.5 259.7h2v2.2h-2zM385.5 283.7h2v2.2h-2zM428.5 109.5h2v2.2h-2zM428.5 154.3h2v2.2h-2zM428.5 259.7h2v2.2h-2zM764.8 355.7h2v2.2h-2zM764.8 520.7h2v2.2h-2zM1133.8 109.5h2v2.2h-2zM1133.8 259.7h2v2.2h-2z"/><path fill="#98ff5f" d="M903.5 109.5h3.0v2.2h-3.0zM917.8 317.5h1.2v2.2h-1.2z"/><path fill="#86ff70" d="M908.2 109.5h2.8v2.2h-2.8zM917.8 124.5h1.2v3.6h-1.2z"/><path fill="#c5ff32" d="M917.8 109.5h1.2v2.2h-1.2zM139.6 317.5h1.5v2.2h-1.5z"/><path fill="#6dff8a" d="M130.8 109.5h2.0v2.2h-2.0zM908.2 625.5h2.8v2.2h-2.8z"/><path fill="#5eff99" d="M134.8 109.5h2.4v2.2h-2.4zM822.3 353.9h3.1v2.2h-3.1z"/><path fill="#9cff5b" d="M139.6 109.5h1.5v2.2h-1.5zM818.8 124.5h1.9v3.6h-1.9z"/><path fill="#bfff38" d="M156.9 109.5h2.1v2.2h-2.1zM836.6 124.5h3.1v3.6h-3.1zM846.1 165.9h3.1v2.4h-3.1z"/><path fill="#b0ff46" d="M160.2 109.5h1.4v2.2h-1.4zM1025.3 109.5h2.6v2.2h-2.6z"/><path fill="#7bff7c" d="M1035.2 109.5h2.8v2.2h-2.8z"/><path fill="#c5ff31" d="M1081.3 109.5h2.0v2.2h-2.0z"/><path fill="#adff4a" d="M1085.3 109.5h2.0v2.2h-2.0z"/><path fill="#f7f500" d="M1089.3 109.5h2.0v2.2h-2.0z"/><path fill="#bbff3c" d="M822.3 124.5h3.1v3.6h-3.1z"/><path fill="#83ff74" d="M827.1 124.5h3.1v3.6h-3.1zM139.6 124.5h1.5v3.6h-1.5z"/><path fill="#76ff81" d="M831.8 124.5h3.1v3.6h-3.1zM1081.3 345.3h2.0v2.2h-2.0z"/><path fill="#d4ff23" d="M841.3 124.5h3.1v3.6h-3.1zM156.9 317.5h2.1v2.2h-2.1z"/><path fill="#c4ff33" d="M846.1 124.5h3.1v3.6h-3.1zM903.5 434.7h3.0v2.2h-3.0z"/><path fill="#beff39" d="M850.8 124.5h0.8v3.6h-0.8zM850.8 329.7h0.8v2.2h-0.8zM899.0 353.9h2.8v2.2h-2.8z"/><path fill="#bfff37" d="M899.0 124.5h2.8v3.6h-2.8zM831.8 165.9h3.1v2.4h-3.1zM841.3 329.7h3.1v2.2h-3.1z"/><path fill="#b6ff41" d="M903.5 124.5h3.0v3.6h-3.0zM899.0 448.7h2.8v2.2h-2.8zM818.8 625.5h1.9v2.2h-1.9zM917.8 625.5h1.2v2.2h-1.2z"/><path fill="#76ff80" d="M908.2 124.5h2.8v3.6h-2.8z"/><path fill="#9aff5c" d="M912.8 124.5h3.3v3.6h-3.3z"/><path fill="#66ff90" d="M130.8 124.5h2.0v3.6h-2.0z"/><path fill="#85ff72" d="M134.8 124.5h2.4v3.6h-2.4zM831.8 329.7h3.1v2.2h-3.1zM1035.2 625.5h2.8v2.2h-2.8z"/><path fill="#b0ff47" d="M156.9 124.5h2.1v3.6h-2.1z"/><path fill="#d1ff26" d="M160.2 124.5h1.4v3.6h-1.4zM908.2 448.7h2.8v2.2h-2.8z"/><path fill="#7dff7a" d="M1025.3 124.5h2.6v3.6h-2.6z"/><path fill="#baff3d" d="M1035.2 124.5h2.8v3.6h-2.8z"/><path fill="#feee00" d="M1081.3 124.5h2.0v3.6h-2.0zM908.2 317.5h2.8v2.2h-2.8z"/><path fill="#f9f200" d="M1085.3 124.5h2.0v3.6h-2.0z"/><path fill="#ff3500" d="M156.9 152.7h2.1v2.2h-2.1zM836.6 612.4h3.1v2.4h-3.1zM841.3 612.4h3.1v2.4h-3.1z"/><path fill="#ff7600" d="M160.2 152.7h1.4v2.2h-1.4z"/><path fill="#c2ff35" d="M822.3 165.9h3.1v2.4h-3.1z"/><path fill="#bcff3a" d="M827.1 165.9h3.1v2.4h-3.1zM903.5 448.7h3.0v2.2h-3.0z"/><path fill="#ffca00" d="M836.6 165.9h3.1v2.4h-3.1z"/><path fill="#ffd800" d="M841.3 165.9h3.1v2.4h-3.1z"/><path fill="#ffd500" d="M850.8 165.9h0.8v2.4h-0.8z"/><path fill="#81ff76" d="M899.0 165.9h2.8v2.4h-2.8z"/><path fill="#59ff9d" d="M903.5 165.9h3.0v2.4h-3.0zM132.8 461.7h2.0v2.2h-2.0z"/><path fill="#33ffc3" d="M908.2 165.9h2.8v2.4h-2.8zM831.8 227.8h3.1v2.0h-3.1z"/><path fill="#18ffde" d="M917.8 165.9h1.2v2.4h-1.2z"/><path fill="#82ff75" d="M134.8 165.9h2.4v2.4h-2.4z"/><path fill="#72ff84" d="M139.6 165.9h1.5v2.4h-1.5z"/><path fill="#a5ff52" d="M156.9 165.9h2.1v2.4h-2.1zM841.3 676.8h3.1v2.0h-3.1zM697.8 50.6h6.0v2.4h-6.0z"/><path fill="#67ff90" d="M160.2 165.9h1.4v2.4h-1.4zM822.3 434.7h3.1v2.2h-3.1zM76.4 154.3h2v2.2h-2zM252.8 141.2h2v2.2h-2zM316.8 109.5h2v2.2h-2zM316.8 212.7h2v2.2h-2zM316.8 387.7h2v2.2h-2zM316.8 605.7h2v2.2h-2zM385.5 187.7h2v2.2h-2zM385.5 212.7h2v2.2h-2zM428.5 187.7h2v2.2h-2zM428.5 212.7h2v2.2h-2zM569.8 187.7h2v2.2h-2zM569.8 520.7h2v2.2h-2zM764.8 109.5h2v2.2h-2zM764.8 238.7h2v2.2h-2zM764.8 259.7h2v2.2h-2zM957.3 109.5h2v2.2h-2zM957.3 259.7h2v2.2h-2zM1133.8 154.3h2v2.2h-2zM1133.8 187.7h2v2.2h-2zM1133.8 212.7h2v2.2h-2zM1133.8 238.7h2v2.2h-2zM1096.8 684.1h4.0v2.4h-4.0z"/><path fill="#b1ff45" d="M1025.3 165.9h2.6v2.4h-2.6z"/><path fill="#acff4b" d="M1035.2 165.9h2.8v2.4h-2.8zM912.8 448.7h3.3v2.2h-3.3z"/><path fill="#00ddfe" d="M818.8 182.8h1.9v2.0h-1.9zM850.8 461.7h0.8v2.2h-0.8zM822.3 582.4h3.1v2.0h-3.1z"/><path fill="#03eaf4" d="M827.1 182.8h3.1v2.0h-3.1z"/><path fill="#00e2fa" d="M831.8 182.8h3.1v2.0h-3.1z"/><path fill="#27ffcf" d="M836.6 182.8h3.1v2.0h-3.1z"/><path fill="#00e4f8" d="M841.3 182.8h3.1v2.0h-3.1zM850.8 286.5h0.8v2.2h-0.8zM831.8 345.3h3.1v2.2h-3.1zM841.3 461.7h3.1v2.2h-3.1z"/><path fill="#00d1ff" d="M850.8 182.8h0.8v2.0h-0.8zM1142.6 287.2h2v2h-2zM658.2 287.2h2v2h-2zM28.5 287.2h2v2h-2zM955.8 287.2h2v2h-2zM1088.7 287.2h2v2h-2zM965.1 287.2h2v2h-2zM883.1 287.2h2v2h-2zM203.2 287.2h2v2h-2zM489.0 287.2h2v2h-2zM233.6 287.2h2v2h-2zM217.9 287.2h2v2h-2zM179.8 287.2h2v2h-2zM295.2 287.2h2v2h-2zM595.1 287.2h2v2h-2zM1035.6 287.2h2v2h-2zM222.4 287.2h2v2h-2zM601.4 287.2h2v2h-2zM44.9 287.2h2v2h-2zM933.5 287.2h2v2h-2z"/><path fill="#4fffa7" d="M899.0 182.8h2.8v2.0h-2.8z"/><path fill="#0bf3ec" d="M903.5 182.8h3.0v2.0h-3.0z"/><path fill="#18ffdf" d="M908.2 182.8h2.8v2.0h-2.8zM130.8 329.7h2.0v2.2h-2.0z"/><path fill="#4fffa8" d="M917.8 182.8h1.2v2.0h-1.2zM134.8 612.4h2.4v2.4h-2.4z"/><path fill="#28ffcf" d="M130.8 182.8h2.0v2.0h-2.0zM846.1 345.3h3.1v2.2h-3.1z"/><path fill="#35ffc1" d="M139.6 182.8h1.5v2.0h-1.5zM836.6 286.5h3.1v2.2h-3.1z"/><path fill="#5dff99" d="M818.8 227.8h1.9v2.0h-1.9zM1089.3 353.9h2.0v2.2h-2.0z"/><path fill="#1fffd8" d="M822.3 227.8h3.1v2.0h-3.1zM139.6 227.8h1.5v2.0h-1.5zM139.6 434.7h1.5v2.2h-1.5z"/><path fill="#53ffa4" d="M827.1 227.8h3.1v2.0h-3.1zM831.8 286.5h3.1v2.2h-3.1z"/><path fill="#1dffd9" d="M836.6 227.8h3.1v2.0h-3.1z"/><path fill="#7fff77" d="M841.3 227.8h3.1v2.0h-3.1z"/><path fill="#57ffa0" d="M850.8 227.8h0.8v2.0h-0.8zM903.5 461.7h3.0v2.2h-3.0zM831.8 598.6h3.1v2.0h-3.1z"/><path fill="#39ffbe" d="M130.8 227.8h2.0v2.0h-2.0zM818.8 273.6h1.9v2.0h-1.9z"/><path fill="#24ffd3" d="M132.8 227.8h2.0v2.0h-2.0zM818.8 254.2h1.9v2.0h-1.9zM831.8 254.2h3.1v2.0h-3.1zM850.8 434.7h0.8v2.2h-0.8z"/><path fill="#07efef" d="M134.8 227.8h2.4v2.0h-2.4z"/><path fill="#00cdff" d="M827.1 254.2h3.1v2.0h-3.1zM899.0 329.7h2.8v2.2h-2.8z"/><path fill="#01e7f6" d="M841.3 254.2h3.1v2.0h-3.1z"/><path fill="#3effb8" d="M846.1 254.2h3.1v2.0h-3.1z"/><path fill="#1effd9" d="M850.8 254.2h0.8v2.0h-0.8z"/><path fill="#51ffa5" d="M822.3 273.6h3.1v2.0h-3.1z"/><path fill="#64ff93" d="M827.1 273.6h3.1v2.0h-3.1zM903.5 625.5h3.0v2.2h-3.0z"/><path fill="#2affcc" d="M831.8 273.6h3.1v2.0h-3.1zM831.8 353.9h3.1v2.2h-3.1z"/><path fill="#3fffb8" d="M836.6 273.6h3.1v2.0h-3.1zM912.8 329.7h3.3v2.2h-3.3z"/><path fill="#49ffae" d="M850.8 273.6h0.8v2.0h-0.8zM841.3 345.3h3.1v2.2h-3.1z"/><path fill="#17ffe0" d="M818.8 286.5h1.9v2.2h-1.9zM134.8 345.3h2.4v2.2h-2.4z"/><path fill="#21ffd6" d="M822.3 286.5h3.1v2.2h-3.1z"/><path fill="#1affdd" d="M827.1 286.5h3.1v2.2h-3.1z"/><path fill="#e3ff13" d="M903.5 286.5h3.0v2.2h-3.0z"/><path fill="#d7ff20" d="M908.2 286.5h2.8v2.2h-2.8zM134.8 317.5h2.4v2.2h-2.4z"/><path fill="#80ff77" d="M912.8 286.5h3.3v2.2h-3.3z"/><path fill="#7eff79" d="M917.8 286.5h1.2v2.2h-1.2z"/><path fill="#2affcd" d="M130.8 286.5h2.0v2.2h-2.0z"/><path fill="#00e1fa" d="M132.8 286.5h2.0v2.2h-2.0zM139.6 286.5h1.5v2.2h-1.5zM850.8 345.3h0.8v2.2h-0.8z"/><path fill="#11fbe5" d="M134.8 286.5h2.4v2.2h-2.4z"/><path fill="#84ff73" d="M1081.3 286.5h2.0v2.2h-2.0z"/><path fill="#92ff65" d="M1085.3 286.5h2.0v2.2h-2.0z"/><path fill="#a0ff57" d="M1089.3 286.5h2.0v2.2h-2.0zM827.1 676.8h3.1v2.0h-3.1z"/><path fill="#c0ff37" d="M818.8 317.5h1.9v2.2h-1.9zM903.5 317.5h3.0v2.2h-3.0z"/><path fill="#feed00" d="M827.1 317.5h3.1v2.2h-3.1z"/><path fill="#beff38" d="M831.8 317.5h3.1v2.2h-3.1z"/><path fill="#ffcd00" d="M836.6 317.5h3.1v2.2h-3.1z"/><path fill="#ffc100" d="M841.3 317.5h3.1v2.2h-3.1z"/><path fill="#c8ff2f" d="M846.1 317.5h3.1v2.2h-3.1z"/><path fill="#ffc400" d="M850.8 317.5h0.8v2.2h-0.8z"/><path fill="#b5ff42" d="M899.0 317.5h2.8v2.2h-2.8z"/><path fill="#eaff0c" d="M912.8 317.5h3.3v2.2h-3.3z"/><path fill="#e2ff15" d="M130.8 317.5h2.0v2.2h-2.0z"/><path fill="#ecff0a" d="M132.8 317.5h2.0v2.2h-2.0z"/><path fill="#5dff9a" d="M1081.3 317.5h2.0v2.2h-2.0zM1085.3 625.5h2.0v2.2h-2.0z"/><path fill="#9fff58" d="M1085.3 317.5h2.0v2.2h-2.0z"/><path fill="#91ff66" d="M1089.3 317.5h2.0v2.2h-2.0z"/><path fill="#48ffaf" d="M818.8 329.7h1.9v2.2h-1.9zM850.8 598.6h0.8v2.0h-0.8z"/><path fill="#93ff64" d="M827.1 329.7h3.1v2.2h-3.1z"/><path fill="#a7ff50" d="M846.1 329.7h3.1v2.2h-3.1zM850.8 625.5h0.8v2.2h-0.8z"/><path fill="#00e5f7" d="M903.5 329.7h3.0v2.2h-3.0z"/><path fill="#00c3ff" d="M908.2 329.7h2.8v2.2h-2.8z"/><path fill="#00e6f6" d="M917.8 329.7h1.2v2.2h-1.2z"/><path fill="#6dff89" d="M139.6 329.7h1.5v2.2h-1.5z"/><path fill="#51ffa6" d="M156.9 329.7h2.1v2.2h-2.1z"/><path fill="#44ffb3" d="M160.2 329.7h1.4v2.2h-1.4zM1085.3 461.7h2.0v2.2h-2.0z"/><path fill="#3affbd" d="M822.3 345.3h3.1v2.2h-3.1zM827.1 353.9h3.1v2.2h-3.1z"/><path fill="#4affad" d="M827.1 345.3h3.1v2.2h-3.1zM132.8 345.3h2.0v2.2h-2.0zM831.8 676.8h3.1v2.0h-3.1z"/><path fill="#00dffc" d="M836.6 345.3h3.1v2.2h-3.1z"/><path fill="#e3ff14" d="M899.0 345.3h2.8v2.2h-2.8z"/><path fill="#bdff39" d="M903.5 345.3h3.0v2.2h-3.0z"/><path fill="#d2ff25" d="M908.2 345.3h2.8v2.2h-2.8z"/><path fill="#79ff7d" d="M912.8 345.3h3.3v2.2h-3.3z"/><path fill="#d9ff1e" d="M917.8 345.3h1.2v2.2h-1.2z"/><path fill="#00c7ff" d="M130.8 345.3h2.0v2.2h-2.0z"/><path fill="#09f1ee" d="M139.6 345.3h1.5v2.2h-1.5z"/><path fill="#a4ff53" d="M1085.3 345.3h2.0v2.2h-2.0z"/><path fill="#52ffa4" d="M1089.3 345.3h2.0v2.2h-2.0z"/><path fill="#23ffd4" d="M841.3 353.9h3.1v2.2h-3.1z"/><path fill="#36ffc1" d="M846.1 353.9h3.1v2.2h-3.1z"/><path fill="#43ffb3" d="M850.8 353.9h0.8v2.2h-0.8z"/><path fill="#f6f701" d="M903.5 353.9h3.0v2.2h-3.0z"/><path fill="#bcff3b" d="M908.2 353.9h2.8v2.2h-2.8z"/><path fill="#d6ff21" d="M912.8 353.9h3.3v2.2h-3.3zM917.8 434.7h1.2v2.2h-1.2z"/><path fill="#aeff49" d="M917.8 353.9h1.2v2.2h-1.2zM899.0 434.7h2.8v2.2h-2.8z"/><path fill="#0af2ec" d="M132.8 353.9h2.0v2.2h-2.0z"/><path fill="#a0ff56" d="M1081.3 353.9h2.0v2.2h-2.0z"/><path fill="#8aff6d" d="M1085.3 353.9h2.0v2.2h-2.0zM831.8 625.5h3.1v2.2h-3.1z"/><path fill="#2effc9" d="M818.8 434.7h1.9v2.2h-1.9zM130.8 625.5h2.0v2.2h-2.0z"/><path fill="#01e6f6" d="M827.1 434.7h3.1v2.2h-3.1z"/><path fill="#59ff9e" d="M831.8 434.7h3.1v2.2h-3.1z"/><path fill="#29ffce" d="M836.6 434.7h3.1v2.2h-3.1z"/><path fill="#5bff9c" d="M846.1 434.7h3.1v2.2h-3.1zM827.1 582.4h3.1v2.0h-3.1zM827.1 598.6h3.1v2.0h-3.1zM160.2 625.5h1.4v2.2h-1.4z"/><path fill="#e8ff0f" d="M908.2 434.7h2.8v2.2h-2.8z"/><path fill="#42ffb5" d="M132.8 434.7h2.0v2.2h-2.0z"/><path fill="#26ffd1" d="M134.8 434.7h2.4v2.2h-2.4z"/><path fill="#6bff8c" d="M1085.3 434.7h2.0v2.2h-2.0zM818.8 676.8h1.9v2.0h-1.9z"/><path fill="#63ff94" d="M1089.3 434.7h2.0v2.2h-2.0z"/><path fill="#db0000" d="M818.8 448.7h1.9v2.2h-1.9z"/><path fill="#ff3a00" d="M822.3 448.7h3.1v2.2h-3.1z"/><path fill="#ff4700" d="M827.1 448.7h3.1v2.2h-3.1z"/><path fill="#ff5200" d="M831.8 448.7h3.1v2.2h-3.1z"/><path fill="#c90000" d="M836.6 448.7h3.1v2.2h-3.1z"/><path fill="#c40000" d="M841.3 448.7h3.1v2.2h-3.1z"/><path fill="#e70000" d="M846.1 448.7h3.1v2.2h-3.1z"/><path fill="#cfff28" d="M917.8 448.7h1.2v2.2h-1.2z"/><path fill="#f6f600" d="M130.8 448.7h2.0v2.2h-2.0z"/><path fill="#ff9300" d="M132.8 448.7h2.0v2.2h-2.0z"/><path fill="#ff9200" d="M134.8 448.7h2.4v2.2h-2.4z"/><path fill="#ffce00" d="M139.6 448.7h1.5v2.2h-1.5z"/><path fill="#ff9a00" d="M156.9 448.7h2.1v2.2h-2.1z"/><path fill="#ff3400" d="M160.2 448.7h1.4v2.2h-1.4z"/><path fill="#ff9100" d="M1025.3 448.7h2.6v2.2h-2.6z"/><path fill="#ff8a00" d="M1035.2 448.7h2.8v2.2h-2.8z"/><path fill="#98ff5e" d="M1081.3 448.7h2.0v2.2h-2.0z"/><path fill="#c7ff30" d="M1085.3 448.7h2.0v2.2h-2.0z"/><path fill="#d3ff24" d="M1089.3 448.7h2.0v2.2h-2.0zM822.3 625.5h3.1v2.2h-3.1z"/><path fill="#0cf5ea" d="M822.3 461.7h3.1v2.2h-3.1z"/><path fill="#14ffe3" d="M836.6 461.7h3.1v2.2h-3.1z"/><path fill="#34ffc3" d="M899.0 461.7h2.8v2.2h-2.8zM846.1 676.8h3.1v2.0h-3.1z"/><path fill="#73ff84" d="M917.8 461.7h1.2v2.2h-1.2z"/><path fill="#75ff82" d="M139.6 461.7h1.5v2.2h-1.5z"/><path fill="#38ffbe" d="M156.9 461.7h2.1v2.2h-2.1z"/><path fill="#8bff6c" d="M1089.3 461.7h2.0v2.2h-2.0z"/><path fill="#41ffb6" d="M836.6 582.4h3.1v2.0h-3.1zM1081.3 625.5h2.0v2.2h-2.0z"/><path fill="#05ecf2" d="M850.8 582.4h0.8v2.0h-0.8z"/><path fill="#34ffc2" d="M818.8 598.6h1.9v2.0h-1.9z"/><path fill="#5aff9d" d="M836.6 598.6h3.1v2.0h-3.1z"/><path fill="#3cffbb" d="M841.3 598.6h3.1v2.0h-3.1z"/><path fill="#00adff" d="M132.8 598.6h2.0v2.0h-2.0z"/><path fill="#008eff" d="M134.8 598.6h2.4v2.0h-2.4z"/><path fill="#009eff" d="M139.6 598.6h1.5v2.0h-1.5zM846.1 704.9h3.1v2.4h-3.1z"/><path fill="#ff5b00" d="M818.8 612.4h1.9v2.4h-1.9z"/><path fill="#ff1700" d="M827.1 612.4h3.1v2.4h-3.1z"/><path fill="#ff3f00" d="M831.8 612.4h3.1v2.4h-3.1z"/><path fill="#ff2d00" d="M846.1 612.4h3.1v2.4h-3.1z"/><path fill="#8eff69" d="M908.2 612.4h2.8v2.4h-2.8z"/><path fill="#6fff87" d="M912.8 612.4h3.3v2.4h-3.3z"/><path fill="#73ff83" d="M917.8 612.4h1.2v2.4h-1.2z"/><path fill="#45ffb2" d="M130.8 612.4h2.0v2.4h-2.0z"/><path fill="#00e0fb" d="M132.8 612.4h2.0v2.4h-2.0z"/><path fill="#dfff18" d="M156.9 612.4h2.1v2.4h-2.1z"/><path fill="#f7f600" d="M160.2 612.4h1.4v2.4h-1.4zM295.8 56.6h7.0v2.4h-7.0zM210.8 675.4h5.0v2.4h-5.0zM407.8 675.4h5.0v2.4h-5.0zM604.8 675.4h5.0v2.4h-5.0zM802.8 675.4h5.0v2.4h-5.0zM999.8 675.4h5.0v2.4h-5.0z"/><path fill="#ff8500" d="M1025.3 612.4h2.6v2.4h-2.6z"/><path fill="#ffcf00" d="M1035.2 612.4h2.8v2.4h-2.8z"/><path fill="#97ff5f" d="M827.1 625.5h3.1v2.2h-3.1z"/><path fill="#96ff61" d="M836.6 625.5h3.1v2.2h-3.1z"/><path fill="#afff48" d="M841.3 625.5h3.1v2.2h-3.1z"/><path fill="#b9ff3e" d="M846.1 625.5h3.1v2.2h-3.1zM76.4 259.7h2v2.2h-2zM316.8 92.7h2v2.2h-2zM316.8 520.7h2v2.2h-2zM385.5 92.7h2v2.2h-2zM385.5 109.5h2v2.2h-2zM385.5 605.7h2v2.2h-2zM428.5 238.7h2v2.2h-2zM428.5 520.7h2v2.2h-2zM569.8 109.5h2v2.2h-2zM764.8 154.3h2v2.2h-2zM957.3 238.7h2v2.2h-2zM1133.8 92.7h2v2.2h-2zM1133.8 283.7h2v2.2h-2zM699.8 105.6h6.0v2.4h-6.0z"/><path fill="#aaff4d" d="M899.0 625.5h2.8v2.2h-2.8zM836.6 676.8h3.1v2.0h-3.1z"/><path fill="#4effa8" d="M132.8 625.5h2.0v2.2h-2.0z"/><path fill="#10f9e7" d="M139.6 625.5h1.5v2.2h-1.5z"/><path fill="#29ffcd" d="M156.9 625.5h2.1v2.2h-2.1z"/><path fill="#87ff70" d="M1025.3 625.5h2.6v2.2h-2.6z"/><path fill="#56ffa1" d="M1089.3 625.5h2.0v2.2h-2.0z"/><path fill="#04ebf2" d="M903.5 676.8h3.0v2.0h-3.0z"/><path fill="#009bff" d="M908.2 676.8h2.8v2.0h-2.8z"/><path fill="#0080ff" d="M912.8 676.8h3.3v2.0h-3.3z"/><path fill="#07f" d="M917.8 676.8h1.2v2.0h-1.2z"/><path fill="#0af" d="M822.3 704.9h3.1v2.4h-3.1z"/><path fill="#009fff" d="M831.8 704.9h3.1v2.4h-3.1z"/><path fill="#00daff" d="M836.6 704.9h3.1v2.4h-3.1z"/><path fill="#2cffcb" d="M841.3 704.9h3.1v2.4h-3.1z"/><path fill="#1bffdc" d="M850.8 704.9h0.8v2.4h-0.8z"/><path fill="#32ffc4" d="M899.0 704.9h2.8v2.4h-2.8z"/><path fill="#4affac" d="M908.2 704.9h2.8v2.4h-2.8z"/><path fill="#10fae7" d="M912.8 704.9h3.3v2.4h-3.3z"/><path fill="#00a1ff" d="M130.8 704.9h2.0v2.4h-2.0z"/><path fill="#005aff" d="M132.8 704.9h2.0v2.4h-2.0z"/><path fill="#0057ff" d="M134.8 704.9h2.4v2.4h-2.4z"/><path fill="#00a2ff" d="M139.6 704.9h1.5v2.4h-1.5z"/><path fill="#009cff" d="M156.9 704.9h2.1v2.4h-2.1z"/><path fill="#0085ff" d="M160.2 704.9h1.4v2.4h-1.4z"/><path fill="#006cff" d="M1081.3 704.9h2.0v2.4h-2.0z"/><path fill="#008bff" d="M1085.3 704.9h2.0v2.4h-2.0z"/><path fill="#0087ff" d="M1089.3 704.9h2.0v2.4h-2.0z"/><path fill="#10103a" d="M76.4 65.7h2v2.2h-2zM252.8 65.7h2v2.2h-2zM316.8 34.4h2v2.2h-2zM316.8 152.7h2v2.2h-2zM385.5 152.7h2v2.2h-2zM428.5 65.7h2v2.2h-2zM569.8 34.4h2v2.2h-2zM569.8 152.7h2v2.2h-2zM764.8 65.7h2v2.2h-2zM764.8 152.7h2v2.2h-2zM957.3 65.7h2v2.2h-2zM1133.8 65.7h2v2.2h-2z"/><path fill="#3effb9" d="M252.8 92.7h2v2.2h-2zM252.8 259.7h2v2.2h-2zM252.8 605.7h2v2.2h-2zM316.8 154.3h2v2.2h-2zM385.5 387.7h2v2.2h-2zM428.5 141.2h2v2.2h-2zM428.5 387.7h2v2.2h-2zM569.8 92.7h2v2.2h-2zM569.8 154.3h2v2.2h-2zM569.8 212.7h2v2.2h-2zM569.8 387.7h2v2.2h-2zM569.8 605.7h2v2.2h-2zM764.8 212.7h2v2.2h-2zM957.3 141.2h2v2.2h-2zM957.3 212.7h2v2.2h-2zM957.3 387.7h2v2.2h-2zM1133.8 520.7h2v2.2h-2z"/><path fill="#ff8000" d="M327.8 56.6h8.0v2.4h-8.0z"/><path fill="#ffc600" d="M403.8 56.6h8.0v2.4h-8.0z"/><path fill="#ceff29" d="M696.8 41.6h6.0v2.4h-6.0zM12.8 675.4h5.0v2.4h-5.0z"/><path fill="#ff9700" d="M698.8 191.1h7.0v2.4h-7.0z"/><path fill="#7bff7b" d="M300.8 684.1h4.0v2.4h-4.0zM697.8 695.6h3.0v2.4h-3.0z"/><path fill="#15ffe2" d="M125.8 664.6h5.0v2.4h-5.0zM421.8 664.6h5.0v2.4h-5.0zM171.7 287.2h2v2h-2zM216.0 287.2h2v2h-2zM223.7 287.2h2v2h-2zM37.4 287.2h2v2h-2zM94.7 287.2h2v2h-2zM964.2 287.2h2v2h-2zM102.9 287.2h2v2h-2zM229.6 287.2h2v2h-2zM864.9 287.2h2v2h-2zM35.5 287.2h2v2h-2zM290.9 287.2h2v2h-2zM125.8 287.2h2v2h-2zM1118.9 287.2h2v2h-2zM926.4 287.2h2v2h-2zM1010.2 287.2h2v2h-2zM600.4 287.2h2v2h-2zM188.5 287.2h2v2h-2zM244.4 287.2h2v2h-2zM584.7 287.2h2v2h-2zM382.8 287.2h2v2h-2zM120.0 287.2h2v2h-2zM932.9 287.2h2v2h-2z"/><path fill="#00e6f7" d="M1014.8 664.6h4.0v2.4h-4.0zM1053.6 287.2h2v2h-2zM1092.8 287.2h2v2h-2zM984.3 287.2h2v2h-2zM3.4 287.2h2v2h-2zM445.9 287.2h2v2h-2zM226.4 287.2h2v2h-2zM1054.0 287.2h2v2h-2zM425.8 287.2h2v2h-2zM307.5 287.2h2v2h-2zM1084.1 287.2h2v2h-2zM10.2 287.2h2v2h-2zM712.3 287.2h2v2h-2zM565.0 287.2h2v2h-2zM914.6 287.2h2v2h-2zM344.6 287.2h2v2h-2zM437.5 287.2h2v2h-2zM986.0 287.2h2v2h-2zM47.3 287.2h2v2h-2zM1091.1 287.2h2v2h-2zM526.8 287.2h2v2h-2zM124.1 287.2h2v2h-2zM255.3 287.2h2v2h-2zM239.3 287.2h2v2h-2zM955.7 287.2h2v2h-2zM479.8 287.2h2v2h-2zM217.2 287.2h2v2h-2z"/></svg><b style="top:217.6px;height:2.3px;background:#1c2440"></b><b style="top:311.0px;height:6.8px;background:linear-gradient(#7e0000,#9a0a00 35%,#9a0a00 65%,#7e0000)"></b></div>
<svg id="ax" width="1898" height="927" viewBox="0 0 1898 927"><defs><linearGradient id="cb" x1="0" y1="1" x2="0" y2="0"><stop offset="0" stop-color="#000080"/><stop offset="0.11" stop-color="#00f"/><stop offset="0.125" stop-color="#00f"/><stop offset="0.34" stop-color="#00dbff"/><stop offset="0.35" stop-color="#00e5f7"/><stop offset="0.375" stop-color="#15ffe2"/><stop offset="0.5" stop-color="#7bff7b"/><stop offset="0.64" stop-color="#efff08"/><stop offset="0.65" stop-color="#f7f600"/><stop offset="0.66" stop-color="#ffec00"/><stop offset="0.78" stop-color="#ff7b00"/><stop offset="0.89" stop-color="#ff1300"/><stop offset="0.91" stop-color="#e80000"/><stop offset="1" stop-color="#800000"/></linearGradient></defs><rect x="1488.4" y="111.2" width="35.5" height="714.1" fill="url(#cb)" stroke="#000" stroke-width="1.1"/><path d="M230.3 736.24H237.2M1414.1 736.24H1421.0M230.3 647.12H237.2M1414.1 647.12H1421.0M230.3 558.00H237.2M1414.1 558.00H1421.0M230.3 468.88H237.2M1414.1 468.88H1421.0M230.3 379.76H237.2M1414.1 379.76H1421.0M230.3 290.64H237.2M1414.1 290.64H1421.0M230.3 201.52H237.2M1414.1 201.52H1421.0M230.3 112.40H237.2M1414.1 112.40H1421.0M433.50 825.3V832.2M433.50 104.3V111.2M629.62 825.3V832.2M629.62 104.3V111.2M825.74 825.3V832.2M825.74 104.3V111.2M1021.86 825.3V832.2M1021.86 104.3V111.2M1217.98 825.3V832.2M1217.98 104.3V111.2M1414.10 825.3V832.2M1414.10 104.3V111.2" stroke="#000" stroke-width="2.8" fill="none"/><path d="M234.4 807.54H237.2M1414.1 807.54H1416.9M234.4 789.71H237.2M1414.1 789.71H1416.9M234.4 771.89H237.2M1414.1 771.89H1416.9M234.4 754.06H237.2M1414.1 754.06H1416.9M234.4 718.42H237.2M1414.1 718.42H1416.9M234.4 700.59H237.2M1414.1 700.59H1416.9M234.4 682.77H237.2M1414.1 682.77H1416.9M234.4 664.94H237.2M1414.1 664.94H1416.9M234.4 629.30H237.2M1414.1 629.30H1416.9M234.4 611.47H237.2M1414.1 611.47H1416.9M234.4 593.65H237.2M1414.1 593.65H1416.9M234.4 575.82H237.2M1414.1 575.82H1416.9M234.4 540.18H237.2M1414.1 540.18H1416.9M234.4 522.35H237.2M1414.1 522.35H1416.9M234.4 504.53H237.2M1414.1 504.53H1416.9M234.4 486.70H237.2M1414.1 486.70H1416.9M234.4 451.06H237.2M1414.1 451.06H1416.9M234.4 433.23H237.2M1414.1 433.23H1416.9M234.4 415.41H237.2M1414.1 415.41H1416.9M234.4 397.58H237.2M1414.1 397.58H1416.9M234.4 361.94H237.2M1414.1 361.94H1416.9M234.4 344.11H237.2M1414.1 344.11H1416.9M234.4 326.29H237.2M1414.1 326.29H1416.9M234.4 308.46H237.2M1414.1 308.46H1416.9M234.4 272.82H237.2M1414.1 272.82H1416.9M234.4 254.99H237.2M1414.1 254.99H1416.9M234.4 237.17H237.2M1414.1 237.17H1416.9M234.4 219.34H237.2M1414.1 219.34H1416.9M234.4 183.70H237.2M1414.1 183.70H1416.9M234.4 165.87H237.2M1414.1 165.87H1416.9M234.4 148.05H237.2M1414.1 148.05H1416.9M234.4 130.22H237.2M1414.1 130.22H1416.9M256.99 825.3V828.1M256.99 108.4V111.2M276.60 825.3V828.1M276.60 108.4V111.2M296.22 825.3V828.1M296.22 108.4V111.2M315.83 825.3V828.1M315.83 108.4V111.2M335.44 825.3V828.1M335.44 108.4V111.2M355.05 825.3V828.1M355.05 108.4V111.2M374.66 825.3V828.1M374.66 108.4V111.2M394.28 825.3V828.1M394.28 108.4V111.2M413.89 825.3V828.1M413.89 108.4V111.2M453.11 825.3V828.1M453.11 108.4V111.2M472.72 825.3V828.1M472.72 108.4V111.2M492.34 825.3V828.1M492.34 108.4V111.2M511.95 825.3V828.1M511.95 108.4V111.2M531.56 825.3V828.1M531.56 108.4V111.2M551.17 825.3V828.1M551.17 108.4V111.2M570.78 825.3V828.1M570.78 108.4V111.2M590.40 825.3V828.1M590.40 108.4V111.2M610.01 825.3V828.1M610.01 108.4V111.2M649.23 825.3V828.1M649.23 108.4V111.2M668.84 825.3V828.1M668.84 108.4V111.2M688.46 825.3V828.1M688.46 108.4V111.2M708.07 825.3V828.1M708.07 108.4V111.2M727.68 825.3V828.1M727.68 108.4V111.2M747.29 825.3V828.1M747.29 108.4V111.2M766.90 825.3V828.1M766.90 108.4V111.2M786.52 825.3V828.1M786.52 108.4V111.2M806.13 825.3V828.1M806.13 108.4V111.2M845.35 825.3V828.1M845.35 108.4V111.2M864.96 825.3V828.1M864.96 108.4V111.2M884.58 825.3V828.1M884.58 108.4V111.2M904.19 825.3V828.1M904.19 108.4V111.2M923.80 825.3V828.1M923.80 108.4V111.2M943.41 825.3V828.1M943.41 108.4V111.2M963.02 825.3V828.1M963.02 108.4V111.2M982.64 825.3V828.1M982.64 108.4V111.2M1002.25 825.3V828.1M1002.25 108.4V111.2M1041.47 825.3V828.1M1041.47 108.4V111.2M1061.08 825.3V828.1M1061.08 108.4V111.2M1080.70 825.3V828.1M1080.70 108.4V111.2M1100.31 825.3V828.1M1100.31 108.4V111.2M1119.92 825.3V828.1M1119.92 108.4V111.2M1139.53 825.3V828.1M1139.53 108.4V111.2M1159.14 825.3V828.1M1159.14 108.4V111.2M1178.76 825.3V828.1M1178.76 108.4V111.2M1198.37 825.3V828.1M1198.37 108.4V111.2M1237.59 825.3V828.1M1237.59 108.4V111.2M1257.20 825.3V828.1M1257.20 108.4V111.2M1276.82 825.3V828.1M1276.82 108.4V111.2M1296.43 825.3V828.1M1296.43 108.4V111.2M1316.04 825.3V828.1M1316.04 108.4V111.2M1335.65 825.3V828.1M1335.65 108.4V111.2M1355.26 825.3V828.1M1355.26 108.4V111.2M1374.88 825.3V828.1M1374.88 108.4V111.2M1394.49 825.3V828.1M1394.49 108.4V111.2" stroke="#000" stroke-width="1.4" fill="none"/><path d="M1523.9 825.30h4.9M1523.9 736.04h4.9M1523.9 646.77h4.9M1523.9 557.51h4.9M1523.9 468.25h4.9M1523.9 378.99h4.9M1523.9 289.73h4.9M1523.9 200.46h4.9M1523.9 111.20h4.9" stroke="#000" stroke-width="1.1" fill="none"/><g font-size="27.78" text-anchor="end"><text x="225.0" y="746.4">275</text><text x="225.0" y="657.3">300</text><text x="225.0" y="568.2">325</text><text x="225.0" y="479.1">350</text><text x="225.0" y="390.0">375</text><text x="225.0" y="300.8">400</text><text x="225.0" y="211.7">425</text><text x="225.0" y="122.6">450</text></g><g font-size="27.78" text-anchor="middle"><text x="432.5" y="859.4">03:26:40</text><text x="628.6" y="859.4">03:26:50</text><text x="824.7" y="859.4">03:27:00</text><text x="1020.9" y="859.4">03:27:10</text><text x="1217.0" y="859.4">03:27:20</text><text x="1413.1" y="859.4">03:27:30</text><text x="825.7" y="892.5">Time (UT)</text></g><text font-size="27.78" text-anchor="middle" transform="translate(159.5 468.3) rotate(-90)">Frequency (MHz)</text><text font-size="33.33" text-anchor="middle" x="825.2" y="102.9">CSO Radio Spectrum R 2026-03-30</text><g font-size="27.78"><text x="1532.5" y="836.3">2.00</text><text x="1532.5" y="747.0">2.25</text><text x="1532.5" y="657.8">2.50</text><text x="1532.5" y="568.5">2.75</text><text x="1532.5" y="479.2">3.00</text><text x="1532.5" y="390.0">3.25</text><text x="1532.5" y="300.7">3.50</text><text x="1532.5" y="211.5">3.75</text><text x="1532.5" y="122.2">4.00</text><text x="1523" y="97.7">log10</text></g></svg>
</body></html>
